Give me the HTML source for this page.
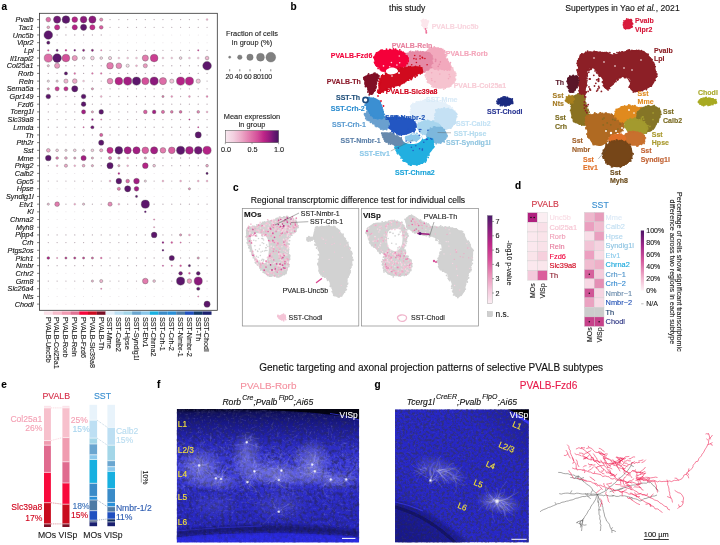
<!DOCTYPE html>
<html><head><meta charset="utf-8"><style>
html,body{margin:0;padding:0;background:#fff;width:720px;height:545px;overflow:hidden}
svg{display:block;font-family:"Liberation Sans", sans-serif;filter:blur(0.3px)}
</style></head><body>
<svg width="720" height="545" viewBox="0 0 720 545">
<rect width="720" height="545" fill="#fff"/>
<g id="pa">
<rect x="39.5" y="13.3" width="177.8" height="297" fill="none" stroke="#333" stroke-width="0.8"/>
<line x1="37" y1="19.60" x2="39.5" y2="19.60" stroke="#333" stroke-width="0.6"/>
<text x="33.6" y="22.15" text-anchor="end" font-style="italic" font-size="7.2" fill="#111" stroke="#111" stroke-width="0.12">Pvalb</text>
<line x1="37" y1="27.29" x2="39.5" y2="27.29" stroke="#333" stroke-width="0.6"/>
<text x="33.6" y="29.84" text-anchor="end" font-style="italic" font-size="7.2" fill="#111" stroke="#111" stroke-width="0.12">Tac1</text>
<line x1="37" y1="34.98" x2="39.5" y2="34.98" stroke="#333" stroke-width="0.6"/>
<text x="33.6" y="37.53" text-anchor="end" font-style="italic" font-size="7.2" fill="#111" stroke="#111" stroke-width="0.12">Unc5b</text>
<line x1="37" y1="42.67" x2="39.5" y2="42.67" stroke="#333" stroke-width="0.6"/>
<text x="33.6" y="45.22" text-anchor="end" font-style="italic" font-size="7.2" fill="#111" stroke="#111" stroke-width="0.12">Vipr2</text>
<line x1="37" y1="50.36" x2="39.5" y2="50.36" stroke="#333" stroke-width="0.6"/>
<text x="33.6" y="52.91" text-anchor="end" font-style="italic" font-size="7.2" fill="#111" stroke="#111" stroke-width="0.12">Lpl</text>
<line x1="37" y1="58.05" x2="39.5" y2="58.05" stroke="#333" stroke-width="0.6"/>
<text x="33.6" y="60.60" text-anchor="end" font-style="italic" font-size="7.2" fill="#111" stroke="#111" stroke-width="0.12">Il1rapl2</text>
<line x1="37" y1="65.74" x2="39.5" y2="65.74" stroke="#333" stroke-width="0.6"/>
<text x="33.6" y="68.29" text-anchor="end" font-style="italic" font-size="7.2" fill="#111" stroke="#111" stroke-width="0.12">Col25a1</text>
<line x1="37" y1="73.43" x2="39.5" y2="73.43" stroke="#333" stroke-width="0.6"/>
<text x="33.6" y="75.98" text-anchor="end" font-style="italic" font-size="7.2" fill="#111" stroke="#111" stroke-width="0.12">Rorb</text>
<line x1="37" y1="81.12" x2="39.5" y2="81.12" stroke="#333" stroke-width="0.6"/>
<text x="33.6" y="83.67" text-anchor="end" font-style="italic" font-size="7.2" fill="#111" stroke="#111" stroke-width="0.12">Reln</text>
<line x1="37" y1="88.81" x2="39.5" y2="88.81" stroke="#333" stroke-width="0.6"/>
<text x="33.6" y="91.36" text-anchor="end" font-style="italic" font-size="7.2" fill="#111" stroke="#111" stroke-width="0.12">Sema5a</text>
<line x1="37" y1="96.50" x2="39.5" y2="96.50" stroke="#333" stroke-width="0.6"/>
<text x="33.6" y="99.05" text-anchor="end" font-style="italic" font-size="7.2" fill="#111" stroke="#111" stroke-width="0.12">Gpr149</text>
<line x1="37" y1="104.19" x2="39.5" y2="104.19" stroke="#333" stroke-width="0.6"/>
<text x="33.6" y="106.74" text-anchor="end" font-style="italic" font-size="7.2" fill="#111" stroke="#111" stroke-width="0.12">Fzd6</text>
<line x1="37" y1="111.88" x2="39.5" y2="111.88" stroke="#333" stroke-width="0.6"/>
<text x="33.6" y="114.43" text-anchor="end" font-style="italic" font-size="7.2" fill="#111" stroke="#111" stroke-width="0.12">Tcerg1l</text>
<line x1="37" y1="119.57" x2="39.5" y2="119.57" stroke="#333" stroke-width="0.6"/>
<text x="33.6" y="122.12" text-anchor="end" font-style="italic" font-size="7.2" fill="#111" stroke="#111" stroke-width="0.12">Slc39a8</text>
<line x1="37" y1="127.26" x2="39.5" y2="127.26" stroke="#333" stroke-width="0.6"/>
<text x="33.6" y="129.81" text-anchor="end" font-style="italic" font-size="7.2" fill="#111" stroke="#111" stroke-width="0.12">Lrmda</text>
<line x1="37" y1="134.95" x2="39.5" y2="134.95" stroke="#333" stroke-width="0.6"/>
<text x="33.6" y="137.50" text-anchor="end" font-style="italic" font-size="7.2" fill="#111" stroke="#111" stroke-width="0.12">Th</text>
<line x1="37" y1="142.64" x2="39.5" y2="142.64" stroke="#333" stroke-width="0.6"/>
<text x="33.6" y="145.19" text-anchor="end" font-style="italic" font-size="7.2" fill="#111" stroke="#111" stroke-width="0.12">Pth2r</text>
<line x1="37" y1="150.33" x2="39.5" y2="150.33" stroke="#333" stroke-width="0.6"/>
<text x="33.6" y="152.88" text-anchor="end" font-style="italic" font-size="7.2" fill="#111" stroke="#111" stroke-width="0.12">Sst</text>
<line x1="37" y1="158.02" x2="39.5" y2="158.02" stroke="#333" stroke-width="0.6"/>
<text x="33.6" y="160.57" text-anchor="end" font-style="italic" font-size="7.2" fill="#111" stroke="#111" stroke-width="0.12">Mme</text>
<line x1="37" y1="165.71" x2="39.5" y2="165.71" stroke="#333" stroke-width="0.6"/>
<text x="33.6" y="168.26" text-anchor="end" font-style="italic" font-size="7.2" fill="#111" stroke="#111" stroke-width="0.12">Prkg2</text>
<line x1="37" y1="173.40" x2="39.5" y2="173.40" stroke="#333" stroke-width="0.6"/>
<text x="33.6" y="175.95" text-anchor="end" font-style="italic" font-size="7.2" fill="#111" stroke="#111" stroke-width="0.12">Calb2</text>
<line x1="37" y1="181.09" x2="39.5" y2="181.09" stroke="#333" stroke-width="0.6"/>
<text x="33.6" y="183.64" text-anchor="end" font-style="italic" font-size="7.2" fill="#111" stroke="#111" stroke-width="0.12">Gpc5</text>
<line x1="37" y1="188.78" x2="39.5" y2="188.78" stroke="#333" stroke-width="0.6"/>
<text x="33.6" y="191.33" text-anchor="end" font-style="italic" font-size="7.2" fill="#111" stroke="#111" stroke-width="0.12">Hpse</text>
<line x1="37" y1="196.47" x2="39.5" y2="196.47" stroke="#333" stroke-width="0.6"/>
<text x="33.6" y="199.02" text-anchor="end" font-style="italic" font-size="7.2" fill="#111" stroke="#111" stroke-width="0.12">Syndig1l</text>
<line x1="37" y1="204.16" x2="39.5" y2="204.16" stroke="#333" stroke-width="0.6"/>
<text x="33.6" y="206.71" text-anchor="end" font-style="italic" font-size="7.2" fill="#111" stroke="#111" stroke-width="0.12">Etv1</text>
<line x1="37" y1="211.85" x2="39.5" y2="211.85" stroke="#333" stroke-width="0.6"/>
<text x="33.6" y="214.40" text-anchor="end" font-style="italic" font-size="7.2" fill="#111" stroke="#111" stroke-width="0.12">Kl</text>
<line x1="37" y1="219.54" x2="39.5" y2="219.54" stroke="#333" stroke-width="0.6"/>
<text x="33.6" y="222.09" text-anchor="end" font-style="italic" font-size="7.2" fill="#111" stroke="#111" stroke-width="0.12">Chrna2</text>
<line x1="37" y1="227.23" x2="39.5" y2="227.23" stroke="#333" stroke-width="0.6"/>
<text x="33.6" y="229.78" text-anchor="end" font-style="italic" font-size="7.2" fill="#111" stroke="#111" stroke-width="0.12">Myh8</text>
<line x1="37" y1="234.92" x2="39.5" y2="234.92" stroke="#333" stroke-width="0.6"/>
<text x="33.6" y="237.47" text-anchor="end" font-style="italic" font-size="7.2" fill="#111" stroke="#111" stroke-width="0.12">Plpp4</text>
<line x1="37" y1="242.61" x2="39.5" y2="242.61" stroke="#333" stroke-width="0.6"/>
<text x="33.6" y="245.16" text-anchor="end" font-style="italic" font-size="7.2" fill="#111" stroke="#111" stroke-width="0.12">Crh</text>
<line x1="37" y1="250.30" x2="39.5" y2="250.30" stroke="#333" stroke-width="0.6"/>
<text x="33.6" y="252.85" text-anchor="end" font-style="italic" font-size="7.2" fill="#111" stroke="#111" stroke-width="0.12">Ptgs2os</text>
<line x1="37" y1="257.99" x2="39.5" y2="257.99" stroke="#333" stroke-width="0.6"/>
<text x="33.6" y="260.54" text-anchor="end" font-style="italic" font-size="7.2" fill="#111" stroke="#111" stroke-width="0.12">Plch1</text>
<line x1="37" y1="265.68" x2="39.5" y2="265.68" stroke="#333" stroke-width="0.6"/>
<text x="33.6" y="268.23" text-anchor="end" font-style="italic" font-size="7.2" fill="#111" stroke="#111" stroke-width="0.12">Nmbr</text>
<line x1="37" y1="273.37" x2="39.5" y2="273.37" stroke="#333" stroke-width="0.6"/>
<text x="33.6" y="275.92" text-anchor="end" font-style="italic" font-size="7.2" fill="#111" stroke="#111" stroke-width="0.12">Crhr2</text>
<line x1="37" y1="281.06" x2="39.5" y2="281.06" stroke="#333" stroke-width="0.6"/>
<text x="33.6" y="283.61" text-anchor="end" font-style="italic" font-size="7.2" fill="#111" stroke="#111" stroke-width="0.12">Grm8</text>
<line x1="37" y1="288.75" x2="39.5" y2="288.75" stroke="#333" stroke-width="0.6"/>
<text x="33.6" y="291.30" text-anchor="end" font-style="italic" font-size="7.2" fill="#111" stroke="#111" stroke-width="0.12">Slc26a4</text>
<line x1="37" y1="296.44" x2="39.5" y2="296.44" stroke="#333" stroke-width="0.6"/>
<text x="33.6" y="298.99" text-anchor="end" font-style="italic" font-size="7.2" fill="#111" stroke="#111" stroke-width="0.12">Nts</text>
<line x1="37" y1="304.13" x2="39.5" y2="304.13" stroke="#333" stroke-width="0.6"/>
<text x="33.6" y="306.68" text-anchor="end" font-style="italic" font-size="7.2" fill="#111" stroke="#111" stroke-width="0.12">Chodl</text>
<circle cx="48.30" cy="19.60" r="2.35" fill="#dd6da7" stroke="#555" stroke-width="0.35"/>
<circle cx="57.12" cy="19.60" r="3.60" fill="#701874" stroke="#555" stroke-width="0.35"/>
<circle cx="65.94" cy="19.60" r="3.85" fill="#5c166b" stroke="#555" stroke-width="0.35"/>
<circle cx="74.76" cy="19.60" r="2.85" fill="#b42386" stroke="#555" stroke-width="0.35"/>
<circle cx="83.58" cy="19.60" r="3.35" fill="#8b1a7c" stroke="#555" stroke-width="0.35"/>
<circle cx="92.40" cy="19.60" r="3.60" fill="#8b1a7c" stroke="#555" stroke-width="0.35"/>
<circle cx="101.22" cy="19.60" r="1.60" fill="#e58bb7" stroke="#555" stroke-width="0.35"/>
<circle cx="110.04" cy="19.60" r="0.65" fill="#b8aab2"/>
<circle cx="118.86" cy="19.60" r="0.65" fill="#b8aab2"/>
<circle cx="127.68" cy="19.60" r="0.65" fill="#b8aab2"/>
<circle cx="136.50" cy="19.60" r="0.65" fill="#b8aab2"/>
<circle cx="145.32" cy="19.60" r="0.65" fill="#b8aab2"/>
<circle cx="154.14" cy="19.60" r="0.65" fill="#b8aab2"/>
<circle cx="162.96" cy="19.60" r="0.65" fill="#b8aab2"/>
<circle cx="171.78" cy="19.60" r="0.65" fill="#b8aab2"/>
<circle cx="180.60" cy="19.60" r="0.65" fill="#b8aab2"/>
<circle cx="189.42" cy="19.60" r="0.65" fill="#b8aab2"/>
<circle cx="198.24" cy="19.60" r="0.65" fill="#b8aab2"/>
<circle cx="207.06" cy="19.60" r="1.00" fill="#ecaac8" stroke="#888" stroke-width="0.2"/>
<circle cx="48.30" cy="27.29" r="1.35" fill="#ecaac8" stroke="#555" stroke-width="0.35"/>
<circle cx="57.12" cy="27.29" r="2.60" fill="#c22d8b" stroke="#555" stroke-width="0.35"/>
<circle cx="65.94" cy="27.29" r="0.75" fill="#f1c3d8" stroke="#888" stroke-width="0.2"/>
<circle cx="74.76" cy="27.29" r="2.60" fill="#b42386" stroke="#555" stroke-width="0.35"/>
<circle cx="83.58" cy="27.29" r="3.10" fill="#5c166b" stroke="#555" stroke-width="0.35"/>
<circle cx="92.40" cy="27.29" r="2.60" fill="#c22d8b" stroke="#555" stroke-width="0.35"/>
<circle cx="101.22" cy="27.29" r="1.85" fill="#d95fa1" stroke="#555" stroke-width="0.35"/>
<circle cx="110.04" cy="27.29" r="0.65" fill="#b8aab2"/>
<circle cx="118.86" cy="27.29" r="0.65" fill="#b8aab2"/>
<circle cx="127.68" cy="27.29" r="0.65" fill="#b8aab2"/>
<circle cx="136.50" cy="27.29" r="0.65" fill="#b8aab2"/>
<circle cx="145.32" cy="27.29" r="0.65" fill="#b8aab2"/>
<circle cx="154.14" cy="27.29" r="0.65" fill="#b8aab2"/>
<circle cx="162.96" cy="27.29" r="0.65" fill="#b8aab2"/>
<circle cx="171.78" cy="27.29" r="0.65" fill="#b8aab2"/>
<circle cx="180.60" cy="27.29" r="0.65" fill="#b8aab2"/>
<circle cx="189.42" cy="27.29" r="0.65" fill="#b8aab2"/>
<circle cx="198.24" cy="27.29" r="0.65" fill="#b8aab2"/>
<circle cx="207.06" cy="27.29" r="0.65" fill="#b8aab2"/>
<circle cx="48.30" cy="34.98" r="4.35" fill="#5c166b" stroke="#555" stroke-width="0.35"/>
<circle cx="57.12" cy="34.98" r="0.65" fill="#b8aab2"/>
<circle cx="65.94" cy="34.98" r="0.65" fill="#b8aab2"/>
<circle cx="74.76" cy="34.98" r="0.65" fill="#b8aab2"/>
<circle cx="83.58" cy="34.98" r="0.65" fill="#b8aab2"/>
<circle cx="92.40" cy="34.98" r="0.65" fill="#b8aab2"/>
<circle cx="101.22" cy="34.98" r="0.65" fill="#b8aab2"/>
<circle cx="110.04" cy="34.98" r="0.5" fill="#e4dde1"/>
<circle cx="118.86" cy="34.98" r="0.5" fill="#e4dde1"/>
<circle cx="127.68" cy="34.98" r="0.5" fill="#e4dde1"/>
<circle cx="136.50" cy="34.98" r="0.5" fill="#e4dde1"/>
<circle cx="145.32" cy="34.98" r="0.5" fill="#e4dde1"/>
<circle cx="154.14" cy="34.98" r="0.5" fill="#e4dde1"/>
<circle cx="162.96" cy="34.98" r="0.5" fill="#e4dde1"/>
<circle cx="171.78" cy="34.98" r="0.5" fill="#e4dde1"/>
<circle cx="180.60" cy="34.98" r="0.5" fill="#e4dde1"/>
<circle cx="189.42" cy="34.98" r="0.5" fill="#e4dde1"/>
<circle cx="198.24" cy="34.98" r="0.5" fill="#e4dde1"/>
<circle cx="207.06" cy="34.98" r="0.5" fill="#e4dde1"/>
<circle cx="48.30" cy="42.67" r="1.60" fill="#5c166b" stroke="#555" stroke-width="0.35"/>
<circle cx="57.12" cy="42.67" r="0.5" fill="#e4dde1"/>
<circle cx="65.94" cy="42.67" r="0.5" fill="#e4dde1"/>
<circle cx="74.76" cy="42.67" r="0.5" fill="#e4dde1"/>
<circle cx="83.58" cy="42.67" r="0.5" fill="#e4dde1"/>
<circle cx="92.40" cy="42.67" r="0.5" fill="#e4dde1"/>
<circle cx="101.22" cy="42.67" r="0.5" fill="#e4dde1"/>
<circle cx="110.04" cy="42.67" r="0.5" fill="#e4dde1"/>
<circle cx="118.86" cy="42.67" r="0.5" fill="#e4dde1"/>
<circle cx="127.68" cy="42.67" r="0.5" fill="#e4dde1"/>
<circle cx="136.50" cy="42.67" r="0.5" fill="#e4dde1"/>
<circle cx="145.32" cy="42.67" r="0.5" fill="#e4dde1"/>
<circle cx="154.14" cy="42.67" r="0.5" fill="#e4dde1"/>
<circle cx="162.96" cy="42.67" r="0.5" fill="#e4dde1"/>
<circle cx="171.78" cy="42.67" r="0.5" fill="#e4dde1"/>
<circle cx="180.60" cy="42.67" r="0.5" fill="#e4dde1"/>
<circle cx="189.42" cy="42.67" r="0.5" fill="#e4dde1"/>
<circle cx="198.24" cy="42.67" r="0.5" fill="#e4dde1"/>
<circle cx="207.06" cy="42.67" r="0.5" fill="#e4dde1"/>
<circle cx="48.30" cy="50.36" r="0.90" fill="#d4509a" stroke="#888" stroke-width="0.2"/>
<circle cx="57.12" cy="50.36" r="1.10" fill="#701874" stroke="#555" stroke-width="0.35"/>
<circle cx="65.94" cy="50.36" r="1.00" fill="#c22d8b" stroke="#888" stroke-width="0.2"/>
<circle cx="74.76" cy="50.36" r="1.00" fill="#701874" stroke="#888" stroke-width="0.2"/>
<circle cx="83.58" cy="50.36" r="1.10" fill="#8b1a7c" stroke="#555" stroke-width="0.35"/>
<circle cx="92.40" cy="50.36" r="1.10" fill="#8b1a7c" stroke="#555" stroke-width="0.35"/>
<circle cx="101.22" cy="50.36" r="0.75" fill="#dd6da7" stroke="#888" stroke-width="0.2"/>
<circle cx="110.04" cy="50.36" r="0.65" fill="#b8aab2"/>
<circle cx="118.86" cy="50.36" r="0.65" fill="#b8aab2"/>
<circle cx="127.68" cy="50.36" r="0.65" fill="#b8aab2"/>
<circle cx="136.50" cy="50.36" r="0.65" fill="#b8aab2"/>
<circle cx="145.32" cy="50.36" r="0.65" fill="#b8aab2"/>
<circle cx="154.14" cy="50.36" r="0.65" fill="#b8aab2"/>
<circle cx="162.96" cy="50.36" r="0.65" fill="#b8aab2"/>
<circle cx="171.78" cy="50.36" r="0.65" fill="#b8aab2"/>
<circle cx="180.60" cy="50.36" r="0.65" fill="#b8aab2"/>
<circle cx="189.42" cy="50.36" r="0.65" fill="#b8aab2"/>
<circle cx="198.24" cy="50.36" r="0.80" fill="#c22d8b" stroke="#888" stroke-width="0.2"/>
<circle cx="207.06" cy="50.36" r="0.65" fill="#b8aab2"/>
<circle cx="48.30" cy="58.05" r="4.10" fill="#dd6da7" stroke="#555" stroke-width="0.35"/>
<circle cx="57.12" cy="58.05" r="4.35" fill="#5c166b" stroke="#555" stroke-width="0.35"/>
<circle cx="65.94" cy="58.05" r="3.85" fill="#d4509a" stroke="#555" stroke-width="0.35"/>
<circle cx="74.76" cy="58.05" r="2.60" fill="#e99bbf" stroke="#555" stroke-width="0.35"/>
<circle cx="83.58" cy="58.05" r="1.35" fill="#f6dee9" stroke="#555" stroke-width="0.35"/>
<circle cx="92.40" cy="58.05" r="1.85" fill="#f3d0e0" stroke="#555" stroke-width="0.35"/>
<circle cx="101.22" cy="58.05" r="1.35" fill="#f5d8e5" stroke="#555" stroke-width="0.35"/>
<circle cx="110.04" cy="58.05" r="1.60" fill="#f3d0e0" stroke="#555" stroke-width="0.35"/>
<circle cx="118.86" cy="58.05" r="1.00" fill="#f1c3d8" stroke="#888" stroke-width="0.2"/>
<circle cx="127.68" cy="58.05" r="1.00" fill="#f1c3d8" stroke="#888" stroke-width="0.2"/>
<circle cx="136.50" cy="58.05" r="1.00" fill="#f1c3d8" stroke="#888" stroke-width="0.2"/>
<circle cx="145.32" cy="58.05" r="3.10" fill="#e27cae" stroke="#555" stroke-width="0.35"/>
<circle cx="154.14" cy="58.05" r="3.85" fill="#cb3e92" stroke="#555" stroke-width="0.35"/>
<circle cx="162.96" cy="58.05" r="1.00" fill="#f1c3d8" stroke="#888" stroke-width="0.2"/>
<circle cx="171.78" cy="58.05" r="1.00" fill="#f1c3d8" stroke="#888" stroke-width="0.2"/>
<circle cx="180.60" cy="58.05" r="1.35" fill="#f4d5e3" stroke="#555" stroke-width="0.35"/>
<circle cx="189.42" cy="58.05" r="1.00" fill="#f1c3d8" stroke="#888" stroke-width="0.2"/>
<circle cx="198.24" cy="58.05" r="1.00" fill="#f1c3d8" stroke="#888" stroke-width="0.2"/>
<circle cx="207.06" cy="58.05" r="1.85" fill="#eeb7d0" stroke="#555" stroke-width="0.35"/>
<circle cx="48.30" cy="65.74" r="1.10" fill="#f1c3d8" stroke="#555" stroke-width="0.35"/>
<circle cx="57.12" cy="65.74" r="2.60" fill="#e99bbf" stroke="#555" stroke-width="0.35"/>
<circle cx="65.94" cy="65.74" r="0.65" fill="#b8aab2"/>
<circle cx="74.76" cy="65.74" r="0.65" fill="#b8aab2"/>
<circle cx="83.58" cy="65.74" r="0.65" fill="#b8aab2"/>
<circle cx="92.40" cy="65.74" r="0.65" fill="#b8aab2"/>
<circle cx="101.22" cy="65.74" r="0.65" fill="#b8aab2"/>
<circle cx="110.04" cy="65.74" r="3.35" fill="#e27cae" stroke="#555" stroke-width="0.35"/>
<circle cx="118.86" cy="65.74" r="2.85" fill="#e58bb7" stroke="#555" stroke-width="0.35"/>
<circle cx="127.68" cy="65.74" r="1.60" fill="#f5dbe7" stroke="#555" stroke-width="0.35"/>
<circle cx="136.50" cy="65.74" r="1.00" fill="#ecaac8" stroke="#888" stroke-width="0.2"/>
<circle cx="145.32" cy="65.74" r="2.10" fill="#e99bbf" stroke="#555" stroke-width="0.35"/>
<circle cx="154.14" cy="65.74" r="0.65" fill="#b8aab2"/>
<circle cx="162.96" cy="65.74" r="0.65" fill="#b8aab2"/>
<circle cx="171.78" cy="65.74" r="0.65" fill="#b8aab2"/>
<circle cx="180.60" cy="65.74" r="0.65" fill="#b8aab2"/>
<circle cx="189.42" cy="65.74" r="0.65" fill="#b8aab2"/>
<circle cx="198.24" cy="65.74" r="0.65" fill="#b8aab2"/>
<circle cx="207.06" cy="65.74" r="4.35" fill="#5c166b" stroke="#555" stroke-width="0.35"/>
<circle cx="48.30" cy="73.43" r="0.65" fill="#b8aab2"/>
<circle cx="57.12" cy="73.43" r="0.65" fill="#b8aab2"/>
<circle cx="65.94" cy="73.43" r="1.60" fill="#5c166b" stroke="#555" stroke-width="0.35"/>
<circle cx="74.76" cy="73.43" r="1.00" fill="#dd6da7" stroke="#888" stroke-width="0.2"/>
<circle cx="83.58" cy="73.43" r="0.65" fill="#b8aab2"/>
<circle cx="92.40" cy="73.43" r="0.90" fill="#dd6da7" stroke="#888" stroke-width="0.2"/>
<circle cx="101.22" cy="73.43" r="0.90" fill="#dd6da7" stroke="#888" stroke-width="0.2"/>
<circle cx="110.04" cy="73.43" r="0.65" fill="#b8aab2"/>
<circle cx="118.86" cy="73.43" r="0.65" fill="#b8aab2"/>
<circle cx="127.68" cy="73.43" r="0.65" fill="#b8aab2"/>
<circle cx="136.50" cy="73.43" r="0.65" fill="#b8aab2"/>
<circle cx="145.32" cy="73.43" r="0.65" fill="#b8aab2"/>
<circle cx="154.14" cy="73.43" r="0.65" fill="#b8aab2"/>
<circle cx="162.96" cy="73.43" r="0.65" fill="#b8aab2"/>
<circle cx="171.78" cy="73.43" r="0.65" fill="#b8aab2"/>
<circle cx="180.60" cy="73.43" r="0.65" fill="#b8aab2"/>
<circle cx="189.42" cy="73.43" r="0.65" fill="#b8aab2"/>
<circle cx="198.24" cy="73.43" r="0.65" fill="#b8aab2"/>
<circle cx="207.06" cy="73.43" r="0.65" fill="#b8aab2"/>
<circle cx="48.30" cy="81.12" r="1.10" fill="#f6dee9" stroke="#555" stroke-width="0.35"/>
<circle cx="57.12" cy="81.12" r="1.10" fill="#f3d0e0" stroke="#555" stroke-width="0.35"/>
<circle cx="65.94" cy="81.12" r="2.10" fill="#eeb7d0" stroke="#555" stroke-width="0.35"/>
<circle cx="74.76" cy="81.12" r="2.35" fill="#ecaac8" stroke="#555" stroke-width="0.35"/>
<circle cx="83.58" cy="81.12" r="1.00" fill="#f1c3d8" stroke="#888" stroke-width="0.2"/>
<circle cx="92.40" cy="81.12" r="0.65" fill="#b8aab2"/>
<circle cx="101.22" cy="81.12" r="0.65" fill="#b8aab2"/>
<circle cx="110.04" cy="81.12" r="2.85" fill="#e58bb7" stroke="#555" stroke-width="0.35"/>
<circle cx="118.86" cy="81.12" r="3.85" fill="#b42386" stroke="#555" stroke-width="0.35"/>
<circle cx="127.68" cy="81.12" r="4.10" fill="#a21e82" stroke="#555" stroke-width="0.35"/>
<circle cx="136.50" cy="81.12" r="4.10" fill="#5c166b" stroke="#555" stroke-width="0.35"/>
<circle cx="145.32" cy="81.12" r="3.60" fill="#d4509a" stroke="#555" stroke-width="0.35"/>
<circle cx="154.14" cy="81.12" r="4.10" fill="#8b1a7c" stroke="#555" stroke-width="0.35"/>
<circle cx="162.96" cy="81.12" r="3.60" fill="#dd6da7" stroke="#555" stroke-width="0.35"/>
<circle cx="171.78" cy="81.12" r="2.10" fill="#f1c3d8" stroke="#555" stroke-width="0.35"/>
<circle cx="180.60" cy="81.12" r="4.10" fill="#b42386" stroke="#555" stroke-width="0.35"/>
<circle cx="189.42" cy="81.12" r="4.10" fill="#b42386" stroke="#555" stroke-width="0.35"/>
<circle cx="198.24" cy="81.12" r="2.10" fill="#f1c3d8" stroke="#555" stroke-width="0.35"/>
<circle cx="207.06" cy="81.12" r="0.65" fill="#b8aab2"/>
<circle cx="48.30" cy="88.81" r="1.10" fill="#e99bbf" stroke="#555" stroke-width="0.35"/>
<circle cx="57.12" cy="88.81" r="2.10" fill="#cb3e92" stroke="#555" stroke-width="0.35"/>
<circle cx="65.94" cy="88.81" r="2.10" fill="#c22d8b" stroke="#555" stroke-width="0.35"/>
<circle cx="74.76" cy="88.81" r="3.10" fill="#5c166b" stroke="#555" stroke-width="0.35"/>
<circle cx="83.58" cy="88.81" r="0.65" fill="#b8aab2"/>
<circle cx="92.40" cy="88.81" r="1.10" fill="#e99bbf" stroke="#555" stroke-width="0.35"/>
<circle cx="101.22" cy="88.81" r="0.65" fill="#b8aab2"/>
<circle cx="110.04" cy="88.81" r="0.65" fill="#b8aab2"/>
<circle cx="118.86" cy="88.81" r="0.65" fill="#b8aab2"/>
<circle cx="127.68" cy="88.81" r="0.65" fill="#b8aab2"/>
<circle cx="136.50" cy="88.81" r="0.65" fill="#b8aab2"/>
<circle cx="145.32" cy="88.81" r="0.65" fill="#b8aab2"/>
<circle cx="154.14" cy="88.81" r="0.65" fill="#b8aab2"/>
<circle cx="162.96" cy="88.81" r="0.65" fill="#b8aab2"/>
<circle cx="171.78" cy="88.81" r="0.65" fill="#b8aab2"/>
<circle cx="180.60" cy="88.81" r="0.65" fill="#b8aab2"/>
<circle cx="189.42" cy="88.81" r="0.65" fill="#b8aab2"/>
<circle cx="198.24" cy="88.81" r="0.65" fill="#b8aab2"/>
<circle cx="207.06" cy="88.81" r="0.65" fill="#b8aab2"/>
<circle cx="48.30" cy="96.50" r="2.35" fill="#5c166b" stroke="#555" stroke-width="0.35"/>
<circle cx="57.12" cy="96.50" r="0.65" fill="#b8aab2"/>
<circle cx="65.94" cy="96.50" r="0.65" fill="#b8aab2"/>
<circle cx="74.76" cy="96.50" r="0.65" fill="#b8aab2"/>
<circle cx="83.58" cy="96.50" r="2.35" fill="#5c166b" stroke="#555" stroke-width="0.35"/>
<circle cx="92.40" cy="96.50" r="0.65" fill="#b8aab2"/>
<circle cx="101.22" cy="96.50" r="1.00" fill="#ecaac8" stroke="#888" stroke-width="0.2"/>
<circle cx="110.04" cy="96.50" r="0.65" fill="#b8aab2"/>
<circle cx="118.86" cy="96.50" r="0.65" fill="#b8aab2"/>
<circle cx="127.68" cy="96.50" r="0.65" fill="#b8aab2"/>
<circle cx="136.50" cy="96.50" r="0.65" fill="#b8aab2"/>
<circle cx="145.32" cy="96.50" r="0.65" fill="#b8aab2"/>
<circle cx="154.14" cy="96.50" r="0.65" fill="#b8aab2"/>
<circle cx="162.96" cy="96.50" r="1.10" fill="#e27cae" stroke="#555" stroke-width="0.35"/>
<circle cx="171.78" cy="96.50" r="1.00" fill="#e58bb7" stroke="#888" stroke-width="0.2"/>
<circle cx="180.60" cy="96.50" r="0.65" fill="#b8aab2"/>
<circle cx="189.42" cy="96.50" r="1.00" fill="#e58bb7" stroke="#888" stroke-width="0.2"/>
<circle cx="198.24" cy="96.50" r="0.65" fill="#b8aab2"/>
<circle cx="207.06" cy="96.50" r="1.00" fill="#e27cae" stroke="#888" stroke-width="0.2"/>
<circle cx="48.30" cy="104.19" r="0.65" fill="#b8aab2"/>
<circle cx="57.12" cy="104.19" r="0.65" fill="#b8aab2"/>
<circle cx="65.94" cy="104.19" r="0.65" fill="#b8aab2"/>
<circle cx="74.76" cy="104.19" r="0.65" fill="#b8aab2"/>
<circle cx="83.58" cy="104.19" r="2.35" fill="#5c166b" stroke="#555" stroke-width="0.35"/>
<circle cx="92.40" cy="104.19" r="0.65" fill="#b8aab2"/>
<circle cx="101.22" cy="104.19" r="0.65" fill="#b8aab2"/>
<circle cx="110.04" cy="104.19" r="0.65" fill="#b8aab2"/>
<circle cx="118.86" cy="104.19" r="0.65" fill="#b8aab2"/>
<circle cx="127.68" cy="104.19" r="0.65" fill="#b8aab2"/>
<circle cx="136.50" cy="104.19" r="0.65" fill="#b8aab2"/>
<circle cx="145.32" cy="104.19" r="0.65" fill="#b8aab2"/>
<circle cx="154.14" cy="104.19" r="0.65" fill="#b8aab2"/>
<circle cx="162.96" cy="104.19" r="0.65" fill="#b8aab2"/>
<circle cx="171.78" cy="104.19" r="0.65" fill="#b8aab2"/>
<circle cx="180.60" cy="104.19" r="0.65" fill="#b8aab2"/>
<circle cx="189.42" cy="104.19" r="0.65" fill="#b8aab2"/>
<circle cx="198.24" cy="104.19" r="0.65" fill="#b8aab2"/>
<circle cx="207.06" cy="104.19" r="0.65" fill="#b8aab2"/>
<circle cx="48.30" cy="111.88" r="0.65" fill="#b8aab2"/>
<circle cx="57.12" cy="111.88" r="0.65" fill="#b8aab2"/>
<circle cx="65.94" cy="111.88" r="0.65" fill="#b8aab2"/>
<circle cx="74.76" cy="111.88" r="0.65" fill="#b8aab2"/>
<circle cx="83.58" cy="111.88" r="2.10" fill="#a21e82" stroke="#555" stroke-width="0.35"/>
<circle cx="92.40" cy="111.88" r="1.10" fill="#ecaac8" stroke="#555" stroke-width="0.35"/>
<circle cx="101.22" cy="111.88" r="2.35" fill="#5c166b" stroke="#555" stroke-width="0.35"/>
<circle cx="110.04" cy="111.88" r="0.65" fill="#b8aab2"/>
<circle cx="118.86" cy="111.88" r="0.65" fill="#b8aab2"/>
<circle cx="127.68" cy="111.88" r="0.65" fill="#b8aab2"/>
<circle cx="136.50" cy="111.88" r="0.65" fill="#b8aab2"/>
<circle cx="145.32" cy="111.88" r="1.85" fill="#d95fa1" stroke="#555" stroke-width="0.35"/>
<circle cx="154.14" cy="111.88" r="1.85" fill="#a21e82" stroke="#555" stroke-width="0.35"/>
<circle cx="162.96" cy="111.88" r="1.60" fill="#dd6da7" stroke="#555" stroke-width="0.35"/>
<circle cx="171.78" cy="111.88" r="1.35" fill="#e27cae" stroke="#555" stroke-width="0.35"/>
<circle cx="180.60" cy="111.88" r="1.35" fill="#dd6da7" stroke="#555" stroke-width="0.35"/>
<circle cx="189.42" cy="111.88" r="0.65" fill="#b8aab2"/>
<circle cx="198.24" cy="111.88" r="1.35" fill="#e58bb7" stroke="#555" stroke-width="0.35"/>
<circle cx="207.06" cy="111.88" r="1.00" fill="#ecaac8" stroke="#888" stroke-width="0.2"/>
<circle cx="48.30" cy="119.57" r="0.65" fill="#b8aab2"/>
<circle cx="57.12" cy="119.57" r="0.65" fill="#b8aab2"/>
<circle cx="65.94" cy="119.57" r="0.65" fill="#b8aab2"/>
<circle cx="74.76" cy="119.57" r="0.65" fill="#b8aab2"/>
<circle cx="83.58" cy="119.57" r="0.65" fill="#b8aab2"/>
<circle cx="92.40" cy="119.57" r="1.00" fill="#8b1a7c" stroke="#888" stroke-width="0.2"/>
<circle cx="101.22" cy="119.57" r="0.75" fill="#dd6da7" stroke="#888" stroke-width="0.2"/>
<circle cx="110.04" cy="119.57" r="0.65" fill="#b8aab2"/>
<circle cx="118.86" cy="119.57" r="0.65" fill="#b8aab2"/>
<circle cx="127.68" cy="119.57" r="0.65" fill="#b8aab2"/>
<circle cx="136.50" cy="119.57" r="0.65" fill="#b8aab2"/>
<circle cx="145.32" cy="119.57" r="0.65" fill="#b8aab2"/>
<circle cx="154.14" cy="119.57" r="0.65" fill="#b8aab2"/>
<circle cx="162.96" cy="119.57" r="0.65" fill="#b8aab2"/>
<circle cx="171.78" cy="119.57" r="0.65" fill="#b8aab2"/>
<circle cx="180.60" cy="119.57" r="0.65" fill="#b8aab2"/>
<circle cx="189.42" cy="119.57" r="0.75" fill="#c22d8b" stroke="#888" stroke-width="0.2"/>
<circle cx="198.24" cy="119.57" r="0.65" fill="#b8aab2"/>
<circle cx="207.06" cy="119.57" r="0.65" fill="#b8aab2"/>
<circle cx="48.30" cy="127.26" r="0.65" fill="#b8aab2"/>
<circle cx="57.12" cy="127.26" r="0.65" fill="#b8aab2"/>
<circle cx="65.94" cy="127.26" r="0.65" fill="#b8aab2"/>
<circle cx="74.76" cy="127.26" r="0.65" fill="#b8aab2"/>
<circle cx="83.58" cy="127.26" r="0.75" fill="#d4509a" stroke="#888" stroke-width="0.2"/>
<circle cx="92.40" cy="127.26" r="1.60" fill="#701874" stroke="#555" stroke-width="0.35"/>
<circle cx="101.22" cy="127.26" r="0.65" fill="#b8aab2"/>
<circle cx="110.04" cy="127.26" r="0.65" fill="#b8aab2"/>
<circle cx="118.86" cy="127.26" r="0.65" fill="#b8aab2"/>
<circle cx="127.68" cy="127.26" r="0.65" fill="#b8aab2"/>
<circle cx="136.50" cy="127.26" r="0.65" fill="#b8aab2"/>
<circle cx="145.32" cy="127.26" r="0.65" fill="#b8aab2"/>
<circle cx="154.14" cy="127.26" r="0.65" fill="#b8aab2"/>
<circle cx="162.96" cy="127.26" r="0.65" fill="#b8aab2"/>
<circle cx="171.78" cy="127.26" r="0.65" fill="#b8aab2"/>
<circle cx="180.60" cy="127.26" r="0.65" fill="#b8aab2"/>
<circle cx="189.42" cy="127.26" r="0.65" fill="#b8aab2"/>
<circle cx="198.24" cy="127.26" r="0.75" fill="#c22d8b" stroke="#888" stroke-width="0.2"/>
<circle cx="207.06" cy="127.26" r="0.65" fill="#b8aab2"/>
<circle cx="48.30" cy="134.95" r="0.65" fill="#b8aab2"/>
<circle cx="57.12" cy="134.95" r="0.65" fill="#b8aab2"/>
<circle cx="65.94" cy="134.95" r="0.65" fill="#b8aab2"/>
<circle cx="74.76" cy="134.95" r="0.65" fill="#b8aab2"/>
<circle cx="83.58" cy="134.95" r="0.65" fill="#b8aab2"/>
<circle cx="92.40" cy="134.95" r="0.65" fill="#b8aab2"/>
<circle cx="101.22" cy="134.95" r="1.60" fill="#d95fa1" stroke="#555" stroke-width="0.35"/>
<circle cx="110.04" cy="134.95" r="0.65" fill="#b8aab2"/>
<circle cx="118.86" cy="134.95" r="0.65" fill="#b8aab2"/>
<circle cx="127.68" cy="134.95" r="0.65" fill="#b8aab2"/>
<circle cx="136.50" cy="134.95" r="0.65" fill="#b8aab2"/>
<circle cx="145.32" cy="134.95" r="0.65" fill="#b8aab2"/>
<circle cx="154.14" cy="134.95" r="0.65" fill="#b8aab2"/>
<circle cx="162.96" cy="134.95" r="0.65" fill="#b8aab2"/>
<circle cx="171.78" cy="134.95" r="0.65" fill="#b8aab2"/>
<circle cx="180.60" cy="134.95" r="0.65" fill="#b8aab2"/>
<circle cx="189.42" cy="134.95" r="0.65" fill="#b8aab2"/>
<circle cx="198.24" cy="134.95" r="3.10" fill="#5c166b" stroke="#555" stroke-width="0.35"/>
<circle cx="207.06" cy="134.95" r="0.65" fill="#b8aab2"/>
<circle cx="48.30" cy="142.64" r="0.5" fill="#e4dde1"/>
<circle cx="57.12" cy="142.64" r="0.5" fill="#e4dde1"/>
<circle cx="65.94" cy="142.64" r="0.5" fill="#e4dde1"/>
<circle cx="74.76" cy="142.64" r="0.5" fill="#e4dde1"/>
<circle cx="83.58" cy="142.64" r="0.5" fill="#e4dde1"/>
<circle cx="92.40" cy="142.64" r="0.5" fill="#e4dde1"/>
<circle cx="101.22" cy="142.64" r="2.60" fill="#5c166b" stroke="#555" stroke-width="0.35"/>
<circle cx="110.04" cy="142.64" r="0.5" fill="#e4dde1"/>
<circle cx="118.86" cy="142.64" r="0.5" fill="#e4dde1"/>
<circle cx="127.68" cy="142.64" r="0.5" fill="#e4dde1"/>
<circle cx="136.50" cy="142.64" r="0.5" fill="#e4dde1"/>
<circle cx="145.32" cy="142.64" r="0.5" fill="#e4dde1"/>
<circle cx="154.14" cy="142.64" r="0.5" fill="#e4dde1"/>
<circle cx="162.96" cy="142.64" r="0.5" fill="#e4dde1"/>
<circle cx="171.78" cy="142.64" r="0.5" fill="#e4dde1"/>
<circle cx="180.60" cy="142.64" r="0.5" fill="#e4dde1"/>
<circle cx="189.42" cy="142.64" r="0.5" fill="#e4dde1"/>
<circle cx="198.24" cy="142.64" r="0.5" fill="#e4dde1"/>
<circle cx="207.06" cy="142.64" r="0.5" fill="#e4dde1"/>
<circle cx="48.30" cy="150.33" r="1.85" fill="#ecaac8" stroke="#555" stroke-width="0.35"/>
<circle cx="57.12" cy="150.33" r="1.35" fill="#f3d0e0" stroke="#555" stroke-width="0.35"/>
<circle cx="65.94" cy="150.33" r="1.10" fill="#f5d8e5" stroke="#555" stroke-width="0.35"/>
<circle cx="74.76" cy="150.33" r="1.35" fill="#f3d0e0" stroke="#555" stroke-width="0.35"/>
<circle cx="83.58" cy="150.33" r="1.10" fill="#f5d8e5" stroke="#555" stroke-width="0.35"/>
<circle cx="92.40" cy="150.33" r="1.35" fill="#f3d0e0" stroke="#555" stroke-width="0.35"/>
<circle cx="101.22" cy="150.33" r="1.60" fill="#ecaac8" stroke="#555" stroke-width="0.35"/>
<circle cx="110.04" cy="150.33" r="3.10" fill="#c22d8b" stroke="#555" stroke-width="0.35"/>
<circle cx="118.86" cy="150.33" r="3.85" fill="#5c166b" stroke="#555" stroke-width="0.35"/>
<circle cx="127.68" cy="150.33" r="3.60" fill="#a21e82" stroke="#555" stroke-width="0.35"/>
<circle cx="136.50" cy="150.33" r="3.60" fill="#a21e82" stroke="#555" stroke-width="0.35"/>
<circle cx="145.32" cy="150.33" r="3.35" fill="#d95fa1" stroke="#555" stroke-width="0.35"/>
<circle cx="154.14" cy="150.33" r="3.60" fill="#a21e82" stroke="#555" stroke-width="0.35"/>
<circle cx="162.96" cy="150.33" r="2.85" fill="#e27cae" stroke="#555" stroke-width="0.35"/>
<circle cx="171.78" cy="150.33" r="3.35" fill="#d95fa1" stroke="#555" stroke-width="0.35"/>
<circle cx="180.60" cy="150.33" r="4.10" fill="#5c166b" stroke="#555" stroke-width="0.35"/>
<circle cx="189.42" cy="150.33" r="3.85" fill="#a21e82" stroke="#555" stroke-width="0.35"/>
<circle cx="198.24" cy="150.33" r="3.85" fill="#701874" stroke="#555" stroke-width="0.35"/>
<circle cx="207.06" cy="150.33" r="4.10" fill="#b42386" stroke="#555" stroke-width="0.35"/>
<circle cx="48.30" cy="158.02" r="2.85" fill="#5c166b" stroke="#555" stroke-width="0.35"/>
<circle cx="57.12" cy="158.02" r="1.35" fill="#e27cae" stroke="#555" stroke-width="0.35"/>
<circle cx="65.94" cy="158.02" r="1.35" fill="#ecaac8" stroke="#555" stroke-width="0.35"/>
<circle cx="74.76" cy="158.02" r="1.10" fill="#e99bbf" stroke="#555" stroke-width="0.35"/>
<circle cx="83.58" cy="158.02" r="2.60" fill="#a21e82" stroke="#555" stroke-width="0.35"/>
<circle cx="92.40" cy="158.02" r="1.10" fill="#ecaac8" stroke="#555" stroke-width="0.35"/>
<circle cx="101.22" cy="158.02" r="0.65" fill="#b8aab2"/>
<circle cx="110.04" cy="158.02" r="1.60" fill="#e27cae" stroke="#555" stroke-width="0.35"/>
<circle cx="118.86" cy="158.02" r="1.10" fill="#ecaac8" stroke="#555" stroke-width="0.35"/>
<circle cx="127.68" cy="158.02" r="1.00" fill="#ecaac8" stroke="#888" stroke-width="0.2"/>
<circle cx="136.50" cy="158.02" r="0.65" fill="#b8aab2"/>
<circle cx="145.32" cy="158.02" r="1.10" fill="#ecaac8" stroke="#555" stroke-width="0.35"/>
<circle cx="154.14" cy="158.02" r="0.65" fill="#b8aab2"/>
<circle cx="162.96" cy="158.02" r="0.65" fill="#b8aab2"/>
<circle cx="171.78" cy="158.02" r="0.65" fill="#b8aab2"/>
<circle cx="180.60" cy="158.02" r="0.65" fill="#b8aab2"/>
<circle cx="189.42" cy="158.02" r="0.65" fill="#b8aab2"/>
<circle cx="198.24" cy="158.02" r="0.65" fill="#b8aab2"/>
<circle cx="207.06" cy="158.02" r="0.65" fill="#b8aab2"/>
<circle cx="48.30" cy="165.71" r="0.65" fill="#b8aab2"/>
<circle cx="57.12" cy="165.71" r="1.00" fill="#ecaac8" stroke="#888" stroke-width="0.2"/>
<circle cx="65.94" cy="165.71" r="1.60" fill="#ecaac8" stroke="#555" stroke-width="0.35"/>
<circle cx="74.76" cy="165.71" r="1.00" fill="#ecaac8" stroke="#888" stroke-width="0.2"/>
<circle cx="83.58" cy="165.71" r="1.35" fill="#ecaac8" stroke="#555" stroke-width="0.35"/>
<circle cx="92.40" cy="165.71" r="1.10" fill="#ecaac8" stroke="#555" stroke-width="0.35"/>
<circle cx="101.22" cy="165.71" r="0.65" fill="#b8aab2"/>
<circle cx="110.04" cy="165.71" r="3.10" fill="#5c166b" stroke="#555" stroke-width="0.35"/>
<circle cx="118.86" cy="165.71" r="1.10" fill="#ecaac8" stroke="#555" stroke-width="0.35"/>
<circle cx="127.68" cy="165.71" r="1.00" fill="#ecaac8" stroke="#888" stroke-width="0.2"/>
<circle cx="136.50" cy="165.71" r="0.65" fill="#b8aab2"/>
<circle cx="145.32" cy="165.71" r="2.85" fill="#b42386" stroke="#555" stroke-width="0.35"/>
<circle cx="154.14" cy="165.71" r="1.35" fill="#f1c3d8" stroke="#555" stroke-width="0.35"/>
<circle cx="162.96" cy="165.71" r="0.65" fill="#b8aab2"/>
<circle cx="171.78" cy="165.71" r="0.65" fill="#b8aab2"/>
<circle cx="180.60" cy="165.71" r="0.65" fill="#b8aab2"/>
<circle cx="189.42" cy="165.71" r="0.65" fill="#b8aab2"/>
<circle cx="198.24" cy="165.71" r="0.65" fill="#b8aab2"/>
<circle cx="207.06" cy="165.71" r="1.35" fill="#ecaac8" stroke="#555" stroke-width="0.35"/>
<circle cx="48.30" cy="173.40" r="0.5" fill="#e4dde1"/>
<circle cx="57.12" cy="173.40" r="0.5" fill="#e4dde1"/>
<circle cx="65.94" cy="173.40" r="0.5" fill="#e4dde1"/>
<circle cx="74.76" cy="173.40" r="0.5" fill="#e4dde1"/>
<circle cx="83.58" cy="173.40" r="0.5" fill="#e4dde1"/>
<circle cx="92.40" cy="173.40" r="0.5" fill="#e4dde1"/>
<circle cx="101.22" cy="173.40" r="0.5" fill="#e4dde1"/>
<circle cx="110.04" cy="173.40" r="0.5" fill="#e4dde1"/>
<circle cx="118.86" cy="173.40" r="1.00" fill="#b42386" stroke="#888" stroke-width="0.2"/>
<circle cx="127.68" cy="173.40" r="0.5" fill="#e4dde1"/>
<circle cx="136.50" cy="173.40" r="0.5" fill="#e4dde1"/>
<circle cx="145.32" cy="173.40" r="0.5" fill="#e4dde1"/>
<circle cx="154.14" cy="173.40" r="0.5" fill="#e4dde1"/>
<circle cx="162.96" cy="173.40" r="0.5" fill="#e4dde1"/>
<circle cx="171.78" cy="173.40" r="0.5" fill="#e4dde1"/>
<circle cx="180.60" cy="173.40" r="0.5" fill="#e4dde1"/>
<circle cx="189.42" cy="173.40" r="0.5" fill="#e4dde1"/>
<circle cx="198.24" cy="173.40" r="0.5" fill="#e4dde1"/>
<circle cx="207.06" cy="173.40" r="1.10" fill="#5c166b" stroke="#555" stroke-width="0.35"/>
<circle cx="48.30" cy="181.09" r="0.65" fill="#b8aab2"/>
<circle cx="57.12" cy="181.09" r="0.65" fill="#b8aab2"/>
<circle cx="65.94" cy="181.09" r="0.65" fill="#b8aab2"/>
<circle cx="74.76" cy="181.09" r="0.65" fill="#b8aab2"/>
<circle cx="83.58" cy="181.09" r="0.65" fill="#b8aab2"/>
<circle cx="92.40" cy="181.09" r="0.65" fill="#b8aab2"/>
<circle cx="101.22" cy="181.09" r="0.65" fill="#b8aab2"/>
<circle cx="110.04" cy="181.09" r="1.00" fill="#ecaac8" stroke="#888" stroke-width="0.2"/>
<circle cx="118.86" cy="181.09" r="2.85" fill="#5c166b" stroke="#555" stroke-width="0.35"/>
<circle cx="127.68" cy="181.09" r="1.85" fill="#dd6da7" stroke="#555" stroke-width="0.35"/>
<circle cx="136.50" cy="181.09" r="2.85" fill="#a21e82" stroke="#555" stroke-width="0.35"/>
<circle cx="145.32" cy="181.09" r="1.10" fill="#f4d5e3" stroke="#555" stroke-width="0.35"/>
<circle cx="154.14" cy="181.09" r="0.65" fill="#b8aab2"/>
<circle cx="162.96" cy="181.09" r="1.00" fill="#ecaac8" stroke="#888" stroke-width="0.2"/>
<circle cx="171.78" cy="181.09" r="0.65" fill="#b8aab2"/>
<circle cx="180.60" cy="181.09" r="1.00" fill="#ecaac8" stroke="#888" stroke-width="0.2"/>
<circle cx="189.42" cy="181.09" r="0.65" fill="#b8aab2"/>
<circle cx="198.24" cy="181.09" r="1.00" fill="#ecaac8" stroke="#888" stroke-width="0.2"/>
<circle cx="207.06" cy="181.09" r="1.00" fill="#ecaac8" stroke="#888" stroke-width="0.2"/>
<circle cx="48.30" cy="188.78" r="0.5" fill="#e4dde1"/>
<circle cx="57.12" cy="188.78" r="0.5" fill="#e4dde1"/>
<circle cx="65.94" cy="188.78" r="0.5" fill="#e4dde1"/>
<circle cx="74.76" cy="188.78" r="0.5" fill="#e4dde1"/>
<circle cx="83.58" cy="188.78" r="0.5" fill="#e4dde1"/>
<circle cx="92.40" cy="188.78" r="0.5" fill="#e4dde1"/>
<circle cx="101.22" cy="188.78" r="0.5" fill="#e4dde1"/>
<circle cx="110.04" cy="188.78" r="0.5" fill="#e4dde1"/>
<circle cx="118.86" cy="188.78" r="1.60" fill="#e27cae" stroke="#555" stroke-width="0.35"/>
<circle cx="127.68" cy="188.78" r="3.10" fill="#5c166b" stroke="#555" stroke-width="0.35"/>
<circle cx="136.50" cy="188.78" r="2.35" fill="#a21e82" stroke="#555" stroke-width="0.35"/>
<circle cx="145.32" cy="188.78" r="0.5" fill="#e4dde1"/>
<circle cx="154.14" cy="188.78" r="0.5" fill="#e4dde1"/>
<circle cx="162.96" cy="188.78" r="0.5" fill="#e4dde1"/>
<circle cx="171.78" cy="188.78" r="0.5" fill="#e4dde1"/>
<circle cx="180.60" cy="188.78" r="0.5" fill="#e4dde1"/>
<circle cx="189.42" cy="188.78" r="1.10" fill="#e99bbf" stroke="#555" stroke-width="0.35"/>
<circle cx="198.24" cy="188.78" r="0.5" fill="#e4dde1"/>
<circle cx="207.06" cy="188.78" r="0.5" fill="#e4dde1"/>
<circle cx="48.30" cy="196.47" r="0.5" fill="#e4dde1"/>
<circle cx="57.12" cy="196.47" r="0.5" fill="#e4dde1"/>
<circle cx="65.94" cy="196.47" r="0.5" fill="#e4dde1"/>
<circle cx="74.76" cy="196.47" r="0.5" fill="#e4dde1"/>
<circle cx="83.58" cy="196.47" r="0.5" fill="#e4dde1"/>
<circle cx="92.40" cy="196.47" r="0.5" fill="#e4dde1"/>
<circle cx="101.22" cy="196.47" r="0.5" fill="#e4dde1"/>
<circle cx="110.04" cy="196.47" r="0.5" fill="#e4dde1"/>
<circle cx="118.86" cy="196.47" r="0.5" fill="#e4dde1"/>
<circle cx="127.68" cy="196.47" r="0.5" fill="#e4dde1"/>
<circle cx="136.50" cy="196.47" r="1.10" fill="#5c166b" stroke="#555" stroke-width="0.35"/>
<circle cx="145.32" cy="196.47" r="0.5" fill="#e4dde1"/>
<circle cx="154.14" cy="196.47" r="0.5" fill="#e4dde1"/>
<circle cx="162.96" cy="196.47" r="0.5" fill="#e4dde1"/>
<circle cx="171.78" cy="196.47" r="0.5" fill="#e4dde1"/>
<circle cx="180.60" cy="196.47" r="0.5" fill="#e4dde1"/>
<circle cx="189.42" cy="196.47" r="0.5" fill="#e4dde1"/>
<circle cx="198.24" cy="196.47" r="0.5" fill="#e4dde1"/>
<circle cx="207.06" cy="196.47" r="0.5" fill="#e4dde1"/>
<circle cx="48.30" cy="204.16" r="1.10" fill="#f1c3d8" stroke="#555" stroke-width="0.35"/>
<circle cx="57.12" cy="204.16" r="2.35" fill="#e27cae" stroke="#555" stroke-width="0.35"/>
<circle cx="65.94" cy="204.16" r="0.65" fill="#b8aab2"/>
<circle cx="74.76" cy="204.16" r="1.00" fill="#ecaac8" stroke="#888" stroke-width="0.2"/>
<circle cx="83.58" cy="204.16" r="1.10" fill="#f1c3d8" stroke="#555" stroke-width="0.35"/>
<circle cx="92.40" cy="204.16" r="0.65" fill="#b8aab2"/>
<circle cx="101.22" cy="204.16" r="0.65" fill="#b8aab2"/>
<circle cx="110.04" cy="204.16" r="2.10" fill="#e58bb7" stroke="#555" stroke-width="0.35"/>
<circle cx="118.86" cy="204.16" r="1.00" fill="#ecaac8" stroke="#888" stroke-width="0.2"/>
<circle cx="127.68" cy="204.16" r="0.65" fill="#b8aab2"/>
<circle cx="136.50" cy="204.16" r="0.65" fill="#b8aab2"/>
<circle cx="145.32" cy="204.16" r="4.10" fill="#5c166b" stroke="#555" stroke-width="0.35"/>
<circle cx="154.14" cy="204.16" r="0.65" fill="#b8aab2"/>
<circle cx="162.96" cy="204.16" r="0.65" fill="#b8aab2"/>
<circle cx="171.78" cy="204.16" r="0.65" fill="#b8aab2"/>
<circle cx="180.60" cy="204.16" r="0.65" fill="#b8aab2"/>
<circle cx="189.42" cy="204.16" r="0.65" fill="#b8aab2"/>
<circle cx="198.24" cy="204.16" r="0.65" fill="#b8aab2"/>
<circle cx="207.06" cy="204.16" r="0.65" fill="#b8aab2"/>
<circle cx="48.30" cy="211.85" r="0.5" fill="#e4dde1"/>
<circle cx="57.12" cy="211.85" r="0.5" fill="#e4dde1"/>
<circle cx="65.94" cy="211.85" r="0.5" fill="#e4dde1"/>
<circle cx="74.76" cy="211.85" r="0.5" fill="#e4dde1"/>
<circle cx="83.58" cy="211.85" r="0.5" fill="#e4dde1"/>
<circle cx="92.40" cy="211.85" r="0.5" fill="#e4dde1"/>
<circle cx="101.22" cy="211.85" r="0.5" fill="#e4dde1"/>
<circle cx="110.04" cy="211.85" r="0.5" fill="#e4dde1"/>
<circle cx="118.86" cy="211.85" r="0.5" fill="#e4dde1"/>
<circle cx="127.68" cy="211.85" r="0.5" fill="#e4dde1"/>
<circle cx="136.50" cy="211.85" r="0.5" fill="#e4dde1"/>
<circle cx="145.32" cy="211.85" r="1.00" fill="#5c166b" stroke="#888" stroke-width="0.2"/>
<circle cx="154.14" cy="211.85" r="0.5" fill="#e4dde1"/>
<circle cx="162.96" cy="211.85" r="0.5" fill="#e4dde1"/>
<circle cx="171.78" cy="211.85" r="0.5" fill="#e4dde1"/>
<circle cx="180.60" cy="211.85" r="0.5" fill="#e4dde1"/>
<circle cx="189.42" cy="211.85" r="0.5" fill="#e4dde1"/>
<circle cx="198.24" cy="211.85" r="0.5" fill="#e4dde1"/>
<circle cx="207.06" cy="211.85" r="0.5" fill="#e4dde1"/>
<circle cx="48.30" cy="219.54" r="0.5" fill="#e4dde1"/>
<circle cx="57.12" cy="219.54" r="0.5" fill="#e4dde1"/>
<circle cx="65.94" cy="219.54" r="0.5" fill="#e4dde1"/>
<circle cx="74.76" cy="219.54" r="0.5" fill="#e4dde1"/>
<circle cx="83.58" cy="219.54" r="0.5" fill="#e4dde1"/>
<circle cx="92.40" cy="219.54" r="0.5" fill="#e4dde1"/>
<circle cx="101.22" cy="219.54" r="0.5" fill="#e4dde1"/>
<circle cx="110.04" cy="219.54" r="0.5" fill="#e4dde1"/>
<circle cx="118.86" cy="219.54" r="0.5" fill="#e4dde1"/>
<circle cx="127.68" cy="219.54" r="0.5" fill="#e4dde1"/>
<circle cx="136.50" cy="219.54" r="0.5" fill="#e4dde1"/>
<circle cx="145.32" cy="219.54" r="0.5" fill="#e4dde1"/>
<circle cx="154.14" cy="219.54" r="0.75" fill="#dd6da7" stroke="#888" stroke-width="0.2"/>
<circle cx="162.96" cy="219.54" r="0.5" fill="#e4dde1"/>
<circle cx="171.78" cy="219.54" r="0.5" fill="#e4dde1"/>
<circle cx="180.60" cy="219.54" r="0.5" fill="#e4dde1"/>
<circle cx="189.42" cy="219.54" r="0.5" fill="#e4dde1"/>
<circle cx="198.24" cy="219.54" r="0.5" fill="#e4dde1"/>
<circle cx="207.06" cy="219.54" r="0.5" fill="#e4dde1"/>
<circle cx="48.30" cy="227.23" r="0.5" fill="#e4dde1"/>
<circle cx="57.12" cy="227.23" r="0.5" fill="#e4dde1"/>
<circle cx="65.94" cy="227.23" r="0.5" fill="#e4dde1"/>
<circle cx="74.76" cy="227.23" r="0.5" fill="#e4dde1"/>
<circle cx="83.58" cy="227.23" r="0.5" fill="#e4dde1"/>
<circle cx="92.40" cy="227.23" r="0.5" fill="#e4dde1"/>
<circle cx="101.22" cy="227.23" r="0.5" fill="#e4dde1"/>
<circle cx="110.04" cy="227.23" r="0.5" fill="#e4dde1"/>
<circle cx="118.86" cy="227.23" r="0.5" fill="#e4dde1"/>
<circle cx="127.68" cy="227.23" r="0.5" fill="#e4dde1"/>
<circle cx="136.50" cy="227.23" r="0.5" fill="#e4dde1"/>
<circle cx="145.32" cy="227.23" r="0.5" fill="#e4dde1"/>
<circle cx="154.14" cy="227.23" r="0.75" fill="#e58bb7" stroke="#888" stroke-width="0.2"/>
<circle cx="162.96" cy="227.23" r="0.5" fill="#e4dde1"/>
<circle cx="171.78" cy="227.23" r="0.5" fill="#e4dde1"/>
<circle cx="180.60" cy="227.23" r="0.5" fill="#e4dde1"/>
<circle cx="189.42" cy="227.23" r="0.5" fill="#e4dde1"/>
<circle cx="198.24" cy="227.23" r="0.5" fill="#e4dde1"/>
<circle cx="207.06" cy="227.23" r="0.5" fill="#e4dde1"/>
<circle cx="48.30" cy="234.92" r="0.65" fill="#b8aab2"/>
<circle cx="57.12" cy="234.92" r="0.65" fill="#b8aab2"/>
<circle cx="65.94" cy="234.92" r="0.65" fill="#b8aab2"/>
<circle cx="74.76" cy="234.92" r="0.65" fill="#b8aab2"/>
<circle cx="83.58" cy="234.92" r="0.65" fill="#b8aab2"/>
<circle cx="92.40" cy="234.92" r="0.65" fill="#b8aab2"/>
<circle cx="101.22" cy="234.92" r="0.65" fill="#b8aab2"/>
<circle cx="110.04" cy="234.92" r="0.65" fill="#b8aab2"/>
<circle cx="118.86" cy="234.92" r="0.65" fill="#b8aab2"/>
<circle cx="127.68" cy="234.92" r="0.65" fill="#b8aab2"/>
<circle cx="136.50" cy="234.92" r="0.65" fill="#b8aab2"/>
<circle cx="145.32" cy="234.92" r="0.65" fill="#b8aab2"/>
<circle cx="154.14" cy="234.92" r="2.85" fill="#5c166b" stroke="#555" stroke-width="0.35"/>
<circle cx="162.96" cy="234.92" r="0.65" fill="#b8aab2"/>
<circle cx="171.78" cy="234.92" r="0.65" fill="#b8aab2"/>
<circle cx="180.60" cy="234.92" r="1.10" fill="#e99bbf" stroke="#555" stroke-width="0.35"/>
<circle cx="189.42" cy="234.92" r="1.00" fill="#ecaac8" stroke="#888" stroke-width="0.2"/>
<circle cx="198.24" cy="234.92" r="0.65" fill="#b8aab2"/>
<circle cx="207.06" cy="234.92" r="0.65" fill="#b8aab2"/>
<circle cx="48.30" cy="242.61" r="0.65" fill="#b8aab2"/>
<circle cx="57.12" cy="242.61" r="0.65" fill="#b8aab2"/>
<circle cx="65.94" cy="242.61" r="0.65" fill="#b8aab2"/>
<circle cx="74.76" cy="242.61" r="0.65" fill="#b8aab2"/>
<circle cx="83.58" cy="242.61" r="0.65" fill="#b8aab2"/>
<circle cx="92.40" cy="242.61" r="0.65" fill="#b8aab2"/>
<circle cx="101.22" cy="242.61" r="0.65" fill="#b8aab2"/>
<circle cx="110.04" cy="242.61" r="0.65" fill="#b8aab2"/>
<circle cx="118.86" cy="242.61" r="0.65" fill="#b8aab2"/>
<circle cx="127.68" cy="242.61" r="0.65" fill="#b8aab2"/>
<circle cx="136.50" cy="242.61" r="0.65" fill="#b8aab2"/>
<circle cx="145.32" cy="242.61" r="0.65" fill="#b8aab2"/>
<circle cx="154.14" cy="242.61" r="0.65" fill="#b8aab2"/>
<circle cx="162.96" cy="242.61" r="1.00" fill="#8b1a7c" stroke="#888" stroke-width="0.2"/>
<circle cx="171.78" cy="242.61" r="1.00" fill="#d4509a" stroke="#888" stroke-width="0.2"/>
<circle cx="180.60" cy="242.61" r="0.75" fill="#dd6da7" stroke="#888" stroke-width="0.2"/>
<circle cx="189.42" cy="242.61" r="0.65" fill="#b8aab2"/>
<circle cx="198.24" cy="242.61" r="0.65" fill="#b8aab2"/>
<circle cx="207.06" cy="242.61" r="0.65" fill="#b8aab2"/>
<circle cx="48.30" cy="250.30" r="0.5" fill="#e4dde1"/>
<circle cx="57.12" cy="250.30" r="0.5" fill="#e4dde1"/>
<circle cx="65.94" cy="250.30" r="0.5" fill="#e4dde1"/>
<circle cx="74.76" cy="250.30" r="0.5" fill="#e4dde1"/>
<circle cx="83.58" cy="250.30" r="0.5" fill="#e4dde1"/>
<circle cx="92.40" cy="250.30" r="0.5" fill="#e4dde1"/>
<circle cx="101.22" cy="250.30" r="0.5" fill="#e4dde1"/>
<circle cx="110.04" cy="250.30" r="0.5" fill="#e4dde1"/>
<circle cx="118.86" cy="250.30" r="0.5" fill="#e4dde1"/>
<circle cx="127.68" cy="250.30" r="0.5" fill="#e4dde1"/>
<circle cx="136.50" cy="250.30" r="0.5" fill="#e4dde1"/>
<circle cx="145.32" cy="250.30" r="0.5" fill="#e4dde1"/>
<circle cx="154.14" cy="250.30" r="0.5" fill="#e4dde1"/>
<circle cx="162.96" cy="250.30" r="1.00" fill="#5c166b" stroke="#888" stroke-width="0.2"/>
<circle cx="171.78" cy="250.30" r="0.5" fill="#e4dde1"/>
<circle cx="180.60" cy="250.30" r="0.5" fill="#e4dde1"/>
<circle cx="189.42" cy="250.30" r="0.5" fill="#e4dde1"/>
<circle cx="198.24" cy="250.30" r="0.5" fill="#e4dde1"/>
<circle cx="207.06" cy="250.30" r="0.5" fill="#e4dde1"/>
<circle cx="48.30" cy="257.99" r="1.35" fill="#b42386" stroke="#555" stroke-width="0.35"/>
<circle cx="57.12" cy="257.99" r="0.75" fill="#dd6da7" stroke="#888" stroke-width="0.2"/>
<circle cx="65.94" cy="257.99" r="1.10" fill="#c22d8b" stroke="#555" stroke-width="0.35"/>
<circle cx="74.76" cy="257.99" r="1.10" fill="#c22d8b" stroke="#555" stroke-width="0.35"/>
<circle cx="83.58" cy="257.99" r="1.10" fill="#cb3e92" stroke="#555" stroke-width="0.35"/>
<circle cx="92.40" cy="257.99" r="1.10" fill="#d95fa1" stroke="#555" stroke-width="0.35"/>
<circle cx="101.22" cy="257.99" r="1.00" fill="#dd6da7" stroke="#888" stroke-width="0.2"/>
<circle cx="110.04" cy="257.99" r="0.65" fill="#b8aab2"/>
<circle cx="118.86" cy="257.99" r="0.65" fill="#b8aab2"/>
<circle cx="127.68" cy="257.99" r="0.65" fill="#b8aab2"/>
<circle cx="136.50" cy="257.99" r="0.65" fill="#b8aab2"/>
<circle cx="145.32" cy="257.99" r="0.65" fill="#b8aab2"/>
<circle cx="154.14" cy="257.99" r="0.65" fill="#b8aab2"/>
<circle cx="162.96" cy="257.99" r="0.65" fill="#b8aab2"/>
<circle cx="171.78" cy="257.99" r="2.60" fill="#5c166b" stroke="#555" stroke-width="0.35"/>
<circle cx="180.60" cy="257.99" r="0.65" fill="#b8aab2"/>
<circle cx="189.42" cy="257.99" r="0.65" fill="#b8aab2"/>
<circle cx="198.24" cy="257.99" r="1.10" fill="#e99bbf" stroke="#555" stroke-width="0.35"/>
<circle cx="207.06" cy="257.99" r="0.65" fill="#b8aab2"/>
<circle cx="48.30" cy="265.68" r="0.65" fill="#b8aab2"/>
<circle cx="57.12" cy="265.68" r="0.65" fill="#b8aab2"/>
<circle cx="65.94" cy="265.68" r="0.65" fill="#b8aab2"/>
<circle cx="74.76" cy="265.68" r="0.65" fill="#b8aab2"/>
<circle cx="83.58" cy="265.68" r="0.65" fill="#b8aab2"/>
<circle cx="92.40" cy="265.68" r="0.65" fill="#b8aab2"/>
<circle cx="101.22" cy="265.68" r="0.65" fill="#b8aab2"/>
<circle cx="110.04" cy="265.68" r="0.65" fill="#b8aab2"/>
<circle cx="118.86" cy="265.68" r="0.65" fill="#b8aab2"/>
<circle cx="127.68" cy="265.68" r="0.65" fill="#b8aab2"/>
<circle cx="136.50" cy="265.68" r="0.65" fill="#b8aab2"/>
<circle cx="145.32" cy="265.68" r="0.65" fill="#b8aab2"/>
<circle cx="154.14" cy="265.68" r="0.65" fill="#b8aab2"/>
<circle cx="162.96" cy="265.68" r="0.75" fill="#c22d8b" stroke="#888" stroke-width="0.2"/>
<circle cx="171.78" cy="265.68" r="0.75" fill="#d4509a" stroke="#888" stroke-width="0.2"/>
<circle cx="180.60" cy="265.68" r="1.00" fill="#d4509a" stroke="#888" stroke-width="0.2"/>
<circle cx="189.42" cy="265.68" r="1.10" fill="#5c166b" stroke="#555" stroke-width="0.35"/>
<circle cx="198.24" cy="265.68" r="0.65" fill="#b8aab2"/>
<circle cx="207.06" cy="265.68" r="0.65" fill="#b8aab2"/>
<circle cx="48.30" cy="273.37" r="0.5" fill="#e4dde1"/>
<circle cx="57.12" cy="273.37" r="0.5" fill="#e4dde1"/>
<circle cx="65.94" cy="273.37" r="0.5" fill="#e4dde1"/>
<circle cx="74.76" cy="273.37" r="0.5" fill="#e4dde1"/>
<circle cx="83.58" cy="273.37" r="0.5" fill="#e4dde1"/>
<circle cx="92.40" cy="273.37" r="0.5" fill="#e4dde1"/>
<circle cx="101.22" cy="273.37" r="0.5" fill="#e4dde1"/>
<circle cx="110.04" cy="273.37" r="0.5" fill="#e4dde1"/>
<circle cx="118.86" cy="273.37" r="0.5" fill="#e4dde1"/>
<circle cx="127.68" cy="273.37" r="0.5" fill="#e4dde1"/>
<circle cx="136.50" cy="273.37" r="0.5" fill="#e4dde1"/>
<circle cx="145.32" cy="273.37" r="0.5" fill="#e4dde1"/>
<circle cx="154.14" cy="273.37" r="0.5" fill="#e4dde1"/>
<circle cx="162.96" cy="273.37" r="0.5" fill="#e4dde1"/>
<circle cx="171.78" cy="273.37" r="0.5" fill="#e4dde1"/>
<circle cx="180.60" cy="273.37" r="1.85" fill="#701874" stroke="#555" stroke-width="0.35"/>
<circle cx="189.42" cy="273.37" r="1.00" fill="#d4509a" stroke="#888" stroke-width="0.2"/>
<circle cx="198.24" cy="273.37" r="1.85" fill="#5c166b" stroke="#555" stroke-width="0.35"/>
<circle cx="207.06" cy="273.37" r="0.5" fill="#e4dde1"/>
<circle cx="48.30" cy="281.06" r="0.65" fill="#b8aab2"/>
<circle cx="57.12" cy="281.06" r="0.65" fill="#b8aab2"/>
<circle cx="65.94" cy="281.06" r="0.65" fill="#b8aab2"/>
<circle cx="74.76" cy="281.06" r="0.65" fill="#b8aab2"/>
<circle cx="83.58" cy="281.06" r="0.65" fill="#b8aab2"/>
<circle cx="92.40" cy="281.06" r="1.10" fill="#eeb7d0" stroke="#555" stroke-width="0.35"/>
<circle cx="101.22" cy="281.06" r="1.60" fill="#eeb7d0" stroke="#555" stroke-width="0.35"/>
<circle cx="110.04" cy="281.06" r="0.65" fill="#b8aab2"/>
<circle cx="118.86" cy="281.06" r="0.65" fill="#b8aab2"/>
<circle cx="127.68" cy="281.06" r="0.65" fill="#b8aab2"/>
<circle cx="136.50" cy="281.06" r="0.65" fill="#b8aab2"/>
<circle cx="145.32" cy="281.06" r="2.85" fill="#e27cae" stroke="#555" stroke-width="0.35"/>
<circle cx="154.14" cy="281.06" r="1.35" fill="#f1c3d8" stroke="#555" stroke-width="0.35"/>
<circle cx="162.96" cy="281.06" r="0.65" fill="#b8aab2"/>
<circle cx="171.78" cy="281.06" r="0.65" fill="#b8aab2"/>
<circle cx="180.60" cy="281.06" r="4.10" fill="#5c166b" stroke="#555" stroke-width="0.35"/>
<circle cx="189.42" cy="281.06" r="2.35" fill="#e99bbf" stroke="#555" stroke-width="0.35"/>
<circle cx="198.24" cy="281.06" r="4.10" fill="#8b1a7c" stroke="#555" stroke-width="0.35"/>
<circle cx="207.06" cy="281.06" r="0.65" fill="#b8aab2"/>
<circle cx="48.30" cy="288.75" r="0.5" fill="#e4dde1"/>
<circle cx="57.12" cy="288.75" r="0.5" fill="#e4dde1"/>
<circle cx="65.94" cy="288.75" r="0.5" fill="#e4dde1"/>
<circle cx="74.76" cy="288.75" r="0.5" fill="#e4dde1"/>
<circle cx="83.58" cy="288.75" r="0.5" fill="#e4dde1"/>
<circle cx="92.40" cy="288.75" r="0.5" fill="#e4dde1"/>
<circle cx="101.22" cy="288.75" r="0.75" fill="#dd6da7" stroke="#888" stroke-width="0.2"/>
<circle cx="110.04" cy="288.75" r="0.5" fill="#e4dde1"/>
<circle cx="118.86" cy="288.75" r="0.5" fill="#e4dde1"/>
<circle cx="127.68" cy="288.75" r="0.5" fill="#e4dde1"/>
<circle cx="136.50" cy="288.75" r="0.5" fill="#e4dde1"/>
<circle cx="145.32" cy="288.75" r="0.5" fill="#e4dde1"/>
<circle cx="154.14" cy="288.75" r="0.5" fill="#e4dde1"/>
<circle cx="162.96" cy="288.75" r="0.5" fill="#e4dde1"/>
<circle cx="171.78" cy="288.75" r="0.5" fill="#e4dde1"/>
<circle cx="180.60" cy="288.75" r="0.5" fill="#e4dde1"/>
<circle cx="189.42" cy="288.75" r="0.5" fill="#e4dde1"/>
<circle cx="198.24" cy="288.75" r="1.60" fill="#5c166b" stroke="#555" stroke-width="0.35"/>
<circle cx="207.06" cy="288.75" r="0.5" fill="#e4dde1"/>
<circle cx="48.30" cy="296.44" r="0.5" fill="#e4dde1"/>
<circle cx="57.12" cy="296.44" r="0.5" fill="#e4dde1"/>
<circle cx="65.94" cy="296.44" r="0.5" fill="#e4dde1"/>
<circle cx="74.76" cy="296.44" r="0.5" fill="#e4dde1"/>
<circle cx="83.58" cy="296.44" r="0.5" fill="#e4dde1"/>
<circle cx="92.40" cy="296.44" r="0.5" fill="#e4dde1"/>
<circle cx="101.22" cy="296.44" r="0.5" fill="#e4dde1"/>
<circle cx="110.04" cy="296.44" r="0.5" fill="#e4dde1"/>
<circle cx="118.86" cy="296.44" r="0.5" fill="#e4dde1"/>
<circle cx="127.68" cy="296.44" r="0.5" fill="#e4dde1"/>
<circle cx="136.50" cy="296.44" r="0.5" fill="#e4dde1"/>
<circle cx="145.32" cy="296.44" r="0.5" fill="#e4dde1"/>
<circle cx="154.14" cy="296.44" r="0.5" fill="#e4dde1"/>
<circle cx="162.96" cy="296.44" r="0.5" fill="#e4dde1"/>
<circle cx="171.78" cy="296.44" r="0.5" fill="#e4dde1"/>
<circle cx="180.60" cy="296.44" r="0.5" fill="#e4dde1"/>
<circle cx="189.42" cy="296.44" r="0.5" fill="#e4dde1"/>
<circle cx="198.24" cy="296.44" r="0.75" fill="#dd6da7" stroke="#888" stroke-width="0.2"/>
<circle cx="207.06" cy="296.44" r="0.5" fill="#e4dde1"/>
<circle cx="48.30" cy="304.13" r="0.5" fill="#e4dde1"/>
<circle cx="57.12" cy="304.13" r="0.5" fill="#e4dde1"/>
<circle cx="65.94" cy="304.13" r="0.5" fill="#e4dde1"/>
<circle cx="74.76" cy="304.13" r="0.5" fill="#e4dde1"/>
<circle cx="83.58" cy="304.13" r="0.5" fill="#e4dde1"/>
<circle cx="92.40" cy="304.13" r="0.5" fill="#e4dde1"/>
<circle cx="101.22" cy="304.13" r="0.5" fill="#e4dde1"/>
<circle cx="110.04" cy="304.13" r="0.5" fill="#e4dde1"/>
<circle cx="118.86" cy="304.13" r="0.5" fill="#e4dde1"/>
<circle cx="127.68" cy="304.13" r="0.5" fill="#e4dde1"/>
<circle cx="136.50" cy="304.13" r="0.5" fill="#e4dde1"/>
<circle cx="145.32" cy="304.13" r="0.5" fill="#e4dde1"/>
<circle cx="154.14" cy="304.13" r="0.5" fill="#e4dde1"/>
<circle cx="162.96" cy="304.13" r="0.5" fill="#e4dde1"/>
<circle cx="171.78" cy="304.13" r="0.5" fill="#e4dde1"/>
<circle cx="180.60" cy="304.13" r="0.5" fill="#e4dde1"/>
<circle cx="189.42" cy="304.13" r="0.5" fill="#e4dde1"/>
<circle cx="198.24" cy="304.13" r="0.5" fill="#e4dde1"/>
<circle cx="207.06" cy="304.13" r="3.10" fill="#5c166b" stroke="#555" stroke-width="0.35"/>
<rect x="43.89" y="311.4" width="8.87" height="3.4" fill="#fbe0e8"/>
<rect x="52.71" y="311.4" width="8.87" height="3.4" fill="#f7bccb"/>
<rect x="61.53" y="311.4" width="8.87" height="3.4" fill="#f29ab2"/>
<rect x="70.35" y="311.4" width="8.87" height="3.4" fill="#e07294"/>
<rect x="79.17" y="311.4" width="8.87" height="3.4" fill="#f5083c"/>
<rect x="87.99" y="311.4" width="8.87" height="3.4" fill="#cc0c20"/>
<rect x="96.81" y="311.4" width="8.87" height="3.4" fill="#7a0f26"/>
<rect x="105.63" y="311.4" width="8.87" height="3.4" fill="#e4f0fa"/>
<rect x="114.45" y="311.4" width="8.87" height="3.4" fill="#bcdff3"/>
<rect x="123.27" y="311.4" width="8.87" height="3.4" fill="#a2d5e9"/>
<rect x="132.09" y="311.4" width="8.87" height="3.4" fill="#6aa6d0"/>
<rect x="140.91" y="311.4" width="8.87" height="3.4" fill="#8ac8ec"/>
<rect x="149.73" y="311.4" width="8.87" height="3.4" fill="#18b0e0"/>
<rect x="158.55" y="311.4" width="8.87" height="3.4" fill="#3a8bc8"/>
<rect x="167.37" y="311.4" width="8.87" height="3.4" fill="#2a90d8"/>
<rect x="176.19" y="311.4" width="8.87" height="3.4" fill="#4e7aa5"/>
<rect x="185.01" y="311.4" width="8.87" height="3.4" fill="#2050c0"/>
<rect x="193.83" y="311.4" width="8.87" height="3.4" fill="#123a6a"/>
<rect x="202.65" y="311.4" width="8.87" height="3.4" fill="#1a2070"/>
<text transform="translate(45.65,316.9) rotate(90)" font-size="7.2" fill="#222" stroke="#222" stroke-width="0.12">PVALB-Unc5b</text>
<text transform="translate(54.47,316.9) rotate(90)" font-size="7.2" fill="#222" stroke="#222" stroke-width="0.12">PVALB-Col25a1</text>
<text transform="translate(63.29,316.9) rotate(90)" font-size="7.2" fill="#222" stroke="#222" stroke-width="0.12">PVALB-Rorb</text>
<text transform="translate(72.11,316.9) rotate(90)" font-size="7.2" fill="#222" stroke="#222" stroke-width="0.12">PVALB-Reln</text>
<text transform="translate(80.93,316.9) rotate(90)" font-size="7.2" fill="#222" stroke="#222" stroke-width="0.12">PVALB-Fzd6</text>
<text transform="translate(89.75,316.9) rotate(90)" font-size="7.2" fill="#222" stroke="#222" stroke-width="0.12">PVALB-Slc39a8</text>
<text transform="translate(98.57,316.9) rotate(90)" font-size="7.2" fill="#222" stroke="#222" stroke-width="0.12">PVALB-Th</text>
<text transform="translate(107.39,316.9) rotate(90)" font-size="7.2" fill="#222" stroke="#222" stroke-width="0.12">SST-Mme</text>
<text transform="translate(116.21,316.9) rotate(90)" font-size="7.2" fill="#222" stroke="#222" stroke-width="0.12">SST-Calb2</text>
<text transform="translate(125.03,316.9) rotate(90)" font-size="7.2" fill="#222" stroke="#222" stroke-width="0.12">SST-Hpse</text>
<text transform="translate(133.85,316.9) rotate(90)" font-size="7.2" fill="#222" stroke="#222" stroke-width="0.12">SST-Syndig1l</text>
<text transform="translate(142.67,316.9) rotate(90)" font-size="7.2" fill="#222" stroke="#222" stroke-width="0.12">SST-Etv1</text>
<text transform="translate(151.49,316.9) rotate(90)" font-size="7.2" fill="#222" stroke="#222" stroke-width="0.12">SST-Chrna2</text>
<text transform="translate(160.31,316.9) rotate(90)" font-size="7.2" fill="#222" stroke="#222" stroke-width="0.12">SST-Crh-1</text>
<text transform="translate(169.13,316.9) rotate(90)" font-size="7.2" fill="#222" stroke="#222" stroke-width="0.12">SST-Crh-2</text>
<text transform="translate(177.95,316.9) rotate(90)" font-size="7.2" fill="#222" stroke="#222" stroke-width="0.12">SST-Nmbr-1</text>
<text transform="translate(186.77,316.9) rotate(90)" font-size="7.2" fill="#222" stroke="#222" stroke-width="0.12">SST-Nmbr-2</text>
<text transform="translate(195.59,316.9) rotate(90)" font-size="7.2" fill="#222" stroke="#222" stroke-width="0.12">SST-Th</text>
<text transform="translate(204.41,316.9) rotate(90)" font-size="7.2" fill="#222" stroke="#222" stroke-width="0.12">SST-Chodl</text>
</g>
<text x="252" y="36.2" text-anchor="middle" font-size="7.4" fill="#222" stroke="#222" stroke-width="0.12">Fraction of cells</text>
<text x="252" y="44.8" text-anchor="middle" font-size="7.4" fill="#222" stroke="#222" stroke-width="0.12">in group (%)</text>
<circle cx="229.7" cy="57.2" r="1.15" fill="#808080" stroke="#666" stroke-width="0.3"/>
<line x1="229.7" y1="69.2" x2="229.7" y2="71.3" stroke="#333" stroke-width="0.6"/>
<circle cx="239.8" cy="57.2" r="2.30" fill="#808080" stroke="#666" stroke-width="0.3"/>
<line x1="239.8" y1="69.2" x2="239.8" y2="71.3" stroke="#333" stroke-width="0.6"/>
<circle cx="250" cy="57.2" r="3.20" fill="#808080" stroke="#666" stroke-width="0.3"/>
<line x1="250" y1="69.2" x2="250" y2="71.3" stroke="#333" stroke-width="0.6"/>
<circle cx="260.5" cy="57.2" r="3.95" fill="#808080" stroke="#666" stroke-width="0.3"/>
<line x1="260.5" y1="69.2" x2="260.5" y2="71.3" stroke="#333" stroke-width="0.6"/>
<circle cx="270.8" cy="57.2" r="4.90" fill="#808080" stroke="#666" stroke-width="0.3"/>
<line x1="270.8" y1="69.2" x2="270.8" y2="71.3" stroke="#333" stroke-width="0.6"/>
<text x="225.5" y="79.3" font-size="7" fill="#222" letter-spacing="-0.15" stroke="#222" stroke-width="0.12">20 40 60 80100</text>
<text x="252" y="119" text-anchor="middle" font-size="7.4" fill="#222" stroke="#222" stroke-width="0.12">Mean expression</text>
<text x="252" y="127.3" text-anchor="middle" font-size="7.4" fill="#222" stroke="#222" stroke-width="0.12">in group</text>
<defs><linearGradient id="cm" x1="0" x2="1" y1="0" y2="0"><stop offset="0.0" stop-color="#f8e8ef"/><stop offset="0.15" stop-color="#f3d0e0"/><stop offset="0.3" stop-color="#ecaac8"/><stop offset="0.45" stop-color="#e27cae"/><stop offset="0.6" stop-color="#d4509a"/><stop offset="0.72" stop-color="#be2688"/><stop offset="0.82" stop-color="#9b1c80"/><stop offset="0.9" stop-color="#701874"/><stop offset="1.0" stop-color="#481462"/></linearGradient></defs>
<rect x="225.3" y="130.6" width="53.3" height="12" fill="url(#cm)" stroke="#444" stroke-width="0.5"/>
<line x1="225.3" y1="142.6" x2="225.3" y2="144.2" stroke="#444" stroke-width="0.5"/>
<line x1="252" y1="142.6" x2="252" y2="144.2" stroke="#444" stroke-width="0.5"/>
<line x1="278.6" y1="142.6" x2="278.6" y2="144.2" stroke="#444" stroke-width="0.5"/>
<text x="221" y="152" font-size="7.3" fill="#222" stroke="#222" stroke-width="0.12">0.0</text>
<text x="247.5" y="152" font-size="7.3" fill="#222" stroke="#222" stroke-width="0.12">0.5</text>
<text x="274" y="152" font-size="7.3" fill="#222" stroke="#222" stroke-width="0.12">1.0</text><g id="pb">
<text x="389" y="11.31" font-size="8.65" fill="#111" stroke="#111" stroke-width="0.12">this study</text>
<text x="565.3" y="11" font-size="8.6" fill="#111" stroke="#111" stroke-width="0.12">Supertypes in Yao <tspan font-style="italic">et al.</tspan>, 2021</text>
<path d="M411.70,105.00 C412.95,103.33 415.80,102.53 418.30,101.70 C420.80,100.87 423.63,100.15 426.70,100.00 C429.77,99.85 433.65,100.25 436.70,100.80 C439.75,101.35 442.50,102.05 445.00,103.30 C447.50,104.55 450.03,106.90 451.70,108.30 C453.37,109.70 454.73,110.03 455.00,111.70 C455.27,113.37 454.97,116.92 453.30,118.30 C451.63,119.68 448.05,119.58 445.00,120.00 C441.95,120.42 438.33,120.52 435.00,120.80 C431.67,121.08 428.05,121.42 425.00,121.70 C421.95,121.98 418.92,123.07 416.70,122.50 C414.48,121.93 412.68,120.10 411.70,118.30 C410.72,116.50 410.80,113.92 410.80,111.70 C410.80,109.48 410.45,106.67 411.70,105.00Z" fill="#e4f0fa"/><g fill="#e4f0fa"><circle cx="425.2" cy="100.9" r="0.9"/><circle cx="441.8" cy="120.9" r="0.9"/><circle cx="442.3" cy="102.6" r="0.9"/><circle cx="410.1" cy="111.8" r="0.9"/><circle cx="433.2" cy="120.6" r="0.9"/><circle cx="446.6" cy="120.0" r="0.9"/><circle cx="418.2" cy="101.8" r="0.9"/><circle cx="411.9" cy="118.4" r="0.9"/><circle cx="410.7" cy="114.2" r="0.9"/><circle cx="449.3" cy="106.7" r="0.9"/><circle cx="423.0" cy="122.5" r="0.9"/><circle cx="411.7" cy="115.2" r="0.9"/><circle cx="449.5" cy="107.4" r="0.9"/><circle cx="422.9" cy="101.2" r="0.9"/><circle cx="411.1" cy="109.6" r="0.9"/><circle cx="413.7" cy="105.0" r="0.9"/><circle cx="411.0" cy="113.9" r="0.9"/><circle cx="412.2" cy="118.4" r="0.9"/><circle cx="453.0" cy="118.6" r="0.9"/><circle cx="412.6" cy="104.4" r="0.9"/><circle cx="450.0" cy="118.3" r="0.9"/><circle cx="413.8" cy="119.8" r="0.9"/><circle cx="424.5" cy="100.1" r="0.9"/><circle cx="423.6" cy="121.2" r="0.9"/><circle cx="453.2" cy="116.6" r="0.9"/><circle cx="423.6" cy="101.0" r="0.9"/><circle cx="434.8" cy="100.8" r="0.9"/><circle cx="453.7" cy="118.5" r="0.9"/><circle cx="448.4" cy="105.9" r="0.9"/><circle cx="411.6" cy="110.7" r="0.9"/><circle cx="429.1" cy="121.6" r="0.9"/><circle cx="446.9" cy="104.8" r="0.9"/><circle cx="417.4" cy="102.7" r="0.9"/><circle cx="410.8" cy="106.7" r="0.9"/><circle cx="436.4" cy="100.3" r="0.9"/><circle cx="421.1" cy="121.5" r="0.9"/><circle cx="410.8" cy="112.0" r="0.9"/><circle cx="438.8" cy="120.8" r="0.9"/><circle cx="441.1" cy="102.3" r="0.9"/><circle cx="422.8" cy="121.7" r="0.9"/><circle cx="415.6" cy="103.3" r="0.9"/><circle cx="414.1" cy="104.7" r="0.9"/><circle cx="435.8" cy="121.4" r="0.9"/><circle cx="411.9" cy="105.6" r="0.9"/><circle cx="411.1" cy="105.7" r="0.9"/><circle cx="411.8" cy="115.9" r="0.9"/><circle cx="425.8" cy="99.7" r="0.9"/><circle cx="412.5" cy="105.5" r="0.9"/><circle cx="448.2" cy="105.7" r="0.9"/><circle cx="411.8" cy="105.0" r="0.9"/><circle cx="420.3" cy="101.4" r="0.9"/><circle cx="439.3" cy="120.2" r="0.9"/><circle cx="439.7" cy="119.6" r="0.9"/><circle cx="439.1" cy="121.2" r="0.9"/><circle cx="417.8" cy="102.2" r="0.9"/><circle cx="451.2" cy="118.6" r="0.9"/><circle cx="452.2" cy="118.3" r="0.9"/><circle cx="432.0" cy="101.1" r="0.9"/><circle cx="426.8" cy="100.3" r="0.9"/><circle cx="412.7" cy="119.5" r="0.9"/><circle cx="436.5" cy="101.5" r="0.9"/><circle cx="426.2" cy="100.1" r="0.9"/><circle cx="412.3" cy="106.5" r="0.9"/><circle cx="445.7" cy="103.8" r="0.9"/><circle cx="438.5" cy="101.4" r="0.9"/><circle cx="430.2" cy="121.1" r="0.9"/><circle cx="411.3" cy="115.6" r="0.9"/><circle cx="445.4" cy="102.7" r="0.9"/><circle cx="416.4" cy="101.8" r="0.9"/><circle cx="444.8" cy="103.2" r="0.9"/><circle cx="452.1" cy="107.6" r="0.9"/><circle cx="454.8" cy="111.0" r="0.9"/><circle cx="442.2" cy="120.0" r="0.9"/><circle cx="442.9" cy="102.9" r="0.9"/><circle cx="454.1" cy="116.6" r="0.9"/><circle cx="450.0" cy="106.5" r="0.9"/><circle cx="455.1" cy="113.0" r="0.9"/><circle cx="426.3" cy="121.1" r="0.9"/><circle cx="449.6" cy="106.6" r="0.9"/><circle cx="432.2" cy="100.6" r="0.9"/><circle cx="439.4" cy="119.7" r="0.9"/><circle cx="424.7" cy="100.6" r="0.9"/><circle cx="413.0" cy="103.3" r="0.9"/><circle cx="452.8" cy="109.4" r="0.9"/><circle cx="443.8" cy="119.6" r="0.9"/><circle cx="411.8" cy="114.4" r="0.9"/><circle cx="416.1" cy="103.3" r="0.9"/><circle cx="448.0" cy="119.6" r="0.9"/><circle cx="452.3" cy="118.4" r="0.9"/><circle cx="449.1" cy="105.8" r="0.9"/><circle cx="451.8" cy="118.8" r="0.9"/><circle cx="410.8" cy="116.1" r="0.9"/></g>
<path d="M436.70,110.00 C438.37,108.33 442.23,108.30 445.00,108.30 C447.77,108.30 451.35,108.88 453.30,110.00 C455.25,111.12 456.42,112.78 456.70,115.00 C456.98,117.22 456.12,121.08 455.00,123.30 C453.88,125.52 451.95,127.18 450.00,128.30 C448.05,129.42 445.52,130.27 443.30,130.00 C441.08,129.73 438.08,128.65 436.70,126.70 C435.32,124.75 435.00,121.08 435.00,118.30 C435.00,115.52 435.03,111.67 436.70,110.00Z" fill="#c5e1f4"/><g fill="#c5e1f4"><circle cx="443.7" cy="108.4" r="0.9"/><circle cx="455.4" cy="113.9" r="0.9"/><circle cx="452.1" cy="126.0" r="0.9"/><circle cx="454.5" cy="123.2" r="0.9"/><circle cx="435.2" cy="114.0" r="0.9"/><circle cx="441.6" cy="108.8" r="0.9"/><circle cx="436.1" cy="124.3" r="0.9"/><circle cx="451.1" cy="127.8" r="0.9"/><circle cx="441.4" cy="128.7" r="0.9"/><circle cx="434.9" cy="120.1" r="0.9"/><circle cx="435.8" cy="125.8" r="0.9"/><circle cx="437.4" cy="110.6" r="0.9"/><circle cx="455.6" cy="122.2" r="0.9"/><circle cx="436.9" cy="126.7" r="0.9"/><circle cx="454.7" cy="112.1" r="0.9"/><circle cx="450.2" cy="127.6" r="0.9"/><circle cx="444.3" cy="107.9" r="0.9"/><circle cx="434.9" cy="120.8" r="0.9"/><circle cx="454.2" cy="124.2" r="0.9"/><circle cx="440.1" cy="129.0" r="0.9"/><circle cx="450.2" cy="128.2" r="0.9"/><circle cx="434.8" cy="118.2" r="0.9"/><circle cx="438.0" cy="109.5" r="0.9"/><circle cx="436.4" cy="114.2" r="0.9"/><circle cx="452.9" cy="124.5" r="0.9"/><circle cx="447.5" cy="108.9" r="0.9"/><circle cx="438.0" cy="110.4" r="0.9"/><circle cx="450.7" cy="127.5" r="0.9"/><circle cx="434.8" cy="115.4" r="0.9"/><circle cx="438.6" cy="108.9" r="0.9"/><circle cx="442.6" cy="128.9" r="0.9"/><circle cx="454.7" cy="122.3" r="0.9"/><circle cx="448.5" cy="128.0" r="0.9"/><circle cx="456.7" cy="116.7" r="0.9"/><circle cx="436.0" cy="110.0" r="0.9"/><circle cx="451.7" cy="126.7" r="0.9"/><circle cx="445.9" cy="128.9" r="0.9"/><circle cx="435.6" cy="120.5" r="0.9"/><circle cx="435.9" cy="110.0" r="0.9"/><circle cx="454.9" cy="121.6" r="0.9"/><circle cx="436.6" cy="111.1" r="0.9"/><circle cx="434.8" cy="117.8" r="0.9"/><circle cx="436.6" cy="111.4" r="0.9"/><circle cx="456.3" cy="113.3" r="0.9"/><circle cx="455.3" cy="113.5" r="0.9"/><circle cx="438.0" cy="110.3" r="0.9"/><circle cx="444.3" cy="130.5" r="0.9"/><circle cx="435.4" cy="121.0" r="0.9"/><circle cx="447.2" cy="109.3" r="0.9"/><circle cx="455.1" cy="119.9" r="0.9"/><circle cx="435.5" cy="122.3" r="0.9"/><circle cx="455.8" cy="116.5" r="0.9"/><circle cx="438.3" cy="127.7" r="0.9"/><circle cx="455.7" cy="123.2" r="0.9"/><circle cx="456.9" cy="114.3" r="0.9"/><circle cx="454.5" cy="123.4" r="0.9"/><circle cx="451.7" cy="109.7" r="0.9"/><circle cx="448.4" cy="108.3" r="0.9"/></g>
<path d="M418.30,123.30 C419.55,122.05 422.50,121.07 425.00,120.80 C427.50,120.53 430.80,121.00 433.30,121.70 C435.80,122.40 438.60,123.33 440.00,125.00 C441.40,126.67 442.25,130.03 441.70,131.70 C441.15,133.37 438.93,134.45 436.70,135.00 C434.47,135.55 430.80,135.28 428.30,135.00 C425.80,134.72 423.50,134.42 421.70,133.30 C419.90,132.18 418.07,129.97 417.50,128.30 C416.93,126.63 417.05,124.55 418.30,123.30Z" fill="#a8d5ee"/><g fill="#a8d5ee"><circle cx="429.3" cy="121.1" r="0.9"/><circle cx="430.5" cy="134.5" r="0.9"/><circle cx="424.0" cy="121.0" r="0.9"/><circle cx="435.5" cy="135.1" r="0.9"/><circle cx="432.2" cy="122.0" r="0.9"/><circle cx="440.0" cy="125.6" r="0.9"/><circle cx="433.1" cy="121.1" r="0.9"/><circle cx="421.8" cy="122.1" r="0.9"/><circle cx="434.8" cy="135.1" r="0.9"/><circle cx="424.6" cy="133.7" r="0.9"/><circle cx="422.6" cy="134.4" r="0.9"/><circle cx="440.8" cy="132.5" r="0.9"/><circle cx="439.9" cy="127.9" r="0.9"/><circle cx="431.6" cy="135.8" r="0.9"/><circle cx="425.4" cy="121.6" r="0.9"/><circle cx="421.2" cy="132.8" r="0.9"/><circle cx="418.4" cy="123.2" r="0.9"/><circle cx="426.4" cy="134.3" r="0.9"/><circle cx="421.1" cy="132.7" r="0.9"/><circle cx="421.5" cy="132.4" r="0.9"/><circle cx="419.2" cy="130.4" r="0.9"/><circle cx="418.3" cy="127.6" r="0.9"/><circle cx="423.2" cy="133.7" r="0.9"/><circle cx="440.6" cy="132.8" r="0.9"/><circle cx="427.7" cy="120.4" r="0.9"/><circle cx="424.4" cy="121.0" r="0.9"/><circle cx="425.4" cy="134.6" r="0.9"/><circle cx="438.3" cy="124.8" r="0.9"/><circle cx="437.9" cy="123.5" r="0.9"/><circle cx="430.9" cy="121.7" r="0.9"/><circle cx="425.8" cy="120.7" r="0.9"/><circle cx="441.1" cy="128.1" r="0.9"/><circle cx="418.0" cy="128.4" r="0.9"/><circle cx="427.5" cy="121.8" r="0.9"/><circle cx="441.8" cy="132.5" r="0.9"/><circle cx="423.7" cy="121.8" r="0.9"/><circle cx="441.4" cy="132.8" r="0.9"/><circle cx="433.8" cy="121.6" r="0.9"/><circle cx="436.0" cy="123.1" r="0.9"/><circle cx="432.7" cy="121.4" r="0.9"/><circle cx="427.9" cy="120.7" r="0.9"/><circle cx="439.1" cy="124.6" r="0.9"/><circle cx="437.1" cy="135.5" r="0.9"/><circle cx="417.7" cy="124.9" r="0.9"/><circle cx="440.2" cy="125.6" r="0.9"/><circle cx="428.3" cy="134.5" r="0.9"/><circle cx="441.6" cy="128.7" r="0.9"/><circle cx="424.6" cy="134.1" r="0.9"/><circle cx="432.2" cy="121.8" r="0.9"/><circle cx="418.3" cy="125.5" r="0.9"/><circle cx="431.0" cy="135.0" r="0.9"/><circle cx="437.0" cy="134.8" r="0.9"/></g>
<path d="M428.30,130.00 C429.97,128.33 434.20,126.98 436.70,126.70 C439.20,126.42 441.63,126.92 443.30,128.30 C444.97,129.68 446.70,132.77 446.70,135.00 C446.70,137.23 444.97,140.32 443.30,141.70 C441.63,143.08 438.92,143.30 436.70,143.30 C434.48,143.30 431.67,142.80 430.00,141.70 C428.33,140.60 426.98,138.65 426.70,136.70 C426.42,134.75 426.63,131.67 428.30,130.00Z" fill="#7db7dc"/><g fill="#7db7dc"><circle cx="435.6" cy="127.6" r="0.9"/><circle cx="431.9" cy="129.3" r="0.9"/><circle cx="444.4" cy="132.7" r="0.9"/><circle cx="447.0" cy="135.7" r="0.9"/><circle cx="446.9" cy="136.7" r="0.9"/><circle cx="431.5" cy="129.1" r="0.9"/><circle cx="445.0" cy="137.6" r="0.9"/><circle cx="433.4" cy="141.9" r="0.9"/><circle cx="440.5" cy="142.9" r="0.9"/><circle cx="446.5" cy="134.1" r="0.9"/><circle cx="428.9" cy="130.1" r="0.9"/><circle cx="427.0" cy="134.6" r="0.9"/><circle cx="433.5" cy="127.2" r="0.9"/><circle cx="445.4" cy="136.5" r="0.9"/><circle cx="426.9" cy="136.4" r="0.9"/><circle cx="429.9" cy="141.0" r="0.9"/><circle cx="435.2" cy="127.5" r="0.9"/><circle cx="446.0" cy="137.9" r="0.9"/><circle cx="430.7" cy="142.0" r="0.9"/><circle cx="434.5" cy="126.8" r="0.9"/><circle cx="431.0" cy="141.7" r="0.9"/><circle cx="445.2" cy="139.1" r="0.9"/><circle cx="444.2" cy="141.9" r="0.9"/><circle cx="440.5" cy="127.7" r="0.9"/><circle cx="445.4" cy="132.2" r="0.9"/><circle cx="438.1" cy="142.4" r="0.9"/><circle cx="436.2" cy="143.7" r="0.9"/><circle cx="443.8" cy="141.0" r="0.9"/><circle cx="442.2" cy="128.0" r="0.9"/><circle cx="441.0" cy="127.3" r="0.9"/><circle cx="428.1" cy="138.6" r="0.9"/><circle cx="429.6" cy="129.8" r="0.9"/><circle cx="428.0" cy="132.7" r="0.9"/><circle cx="428.8" cy="140.6" r="0.9"/><circle cx="439.0" cy="128.0" r="0.9"/><circle cx="430.5" cy="128.2" r="0.9"/><circle cx="431.4" cy="129.4" r="0.9"/><circle cx="438.3" cy="127.8" r="0.9"/><circle cx="441.1" cy="127.7" r="0.9"/><circle cx="440.8" cy="142.5" r="0.9"/><circle cx="427.1" cy="135.3" r="0.9"/><circle cx="444.3" cy="129.6" r="0.9"/><circle cx="440.6" cy="142.5" r="0.9"/><circle cx="446.6" cy="135.3" r="0.9"/><circle cx="439.1" cy="142.7" r="0.9"/><circle cx="444.8" cy="137.2" r="0.9"/><circle cx="427.3" cy="138.0" r="0.9"/></g>
<path d="M395.00,143.30 C396.12,141.92 399.48,140.42 401.70,140.00 C403.92,139.58 406.08,140.38 408.30,140.80 C410.52,141.22 412.77,142.63 415.00,142.50 C417.23,142.37 419.48,140.70 421.70,140.00 C423.92,139.30 426.37,138.30 428.30,138.30 C430.23,138.30 432.47,138.33 433.30,140.00 C434.13,141.67 434.13,145.80 433.30,148.30 C432.47,150.80 429.68,152.77 428.30,155.00 C426.92,157.23 426.67,160.03 425.00,161.70 C423.33,163.37 420.80,164.58 418.30,165.00 C415.80,165.42 412.50,165.03 410.00,164.20 C407.50,163.37 405.25,161.82 403.30,160.00 C401.35,158.18 399.68,155.25 398.30,153.30 C396.92,151.35 395.55,149.97 395.00,148.30 C394.45,146.63 393.88,144.68 395.00,143.30Z" fill="#22afe0"/><g fill="#22afe0"><circle cx="432.4" cy="139.6" r="0.9"/><circle cx="433.3" cy="144.6" r="0.9"/><circle cx="408.9" cy="163.7" r="0.9"/><circle cx="427.9" cy="139.0" r="0.9"/><circle cx="419.6" cy="141.6" r="0.9"/><circle cx="410.4" cy="164.9" r="0.9"/><circle cx="397.3" cy="151.1" r="0.9"/><circle cx="407.4" cy="141.1" r="0.9"/><circle cx="432.8" cy="142.7" r="0.9"/><circle cx="407.9" cy="162.6" r="0.9"/><circle cx="395.5" cy="143.0" r="0.9"/><circle cx="418.5" cy="141.3" r="0.9"/><circle cx="403.0" cy="160.6" r="0.9"/><circle cx="409.1" cy="140.5" r="0.9"/><circle cx="399.9" cy="154.3" r="0.9"/><circle cx="433.3" cy="147.6" r="0.9"/><circle cx="395.7" cy="146.7" r="0.9"/><circle cx="408.0" cy="162.5" r="0.9"/><circle cx="398.0" cy="141.9" r="0.9"/><circle cx="419.0" cy="163.8" r="0.9"/><circle cx="422.1" cy="162.9" r="0.9"/><circle cx="426.0" cy="160.4" r="0.9"/><circle cx="417.4" cy="141.3" r="0.9"/><circle cx="426.2" cy="159.2" r="0.9"/><circle cx="404.3" cy="160.9" r="0.9"/><circle cx="396.9" cy="151.1" r="0.9"/><circle cx="429.0" cy="138.1" r="0.9"/><circle cx="410.6" cy="164.1" r="0.9"/><circle cx="429.8" cy="138.9" r="0.9"/><circle cx="397.2" cy="142.8" r="0.9"/><circle cx="432.9" cy="147.6" r="0.9"/><circle cx="398.1" cy="152.5" r="0.9"/><circle cx="397.9" cy="153.8" r="0.9"/><circle cx="422.4" cy="163.1" r="0.9"/><circle cx="395.0" cy="143.2" r="0.9"/><circle cx="397.2" cy="152.9" r="0.9"/><circle cx="427.9" cy="137.7" r="0.9"/><circle cx="416.8" cy="164.9" r="0.9"/><circle cx="426.0" cy="160.7" r="0.9"/><circle cx="423.5" cy="140.3" r="0.9"/><circle cx="411.0" cy="164.7" r="0.9"/><circle cx="411.2" cy="164.9" r="0.9"/><circle cx="432.5" cy="139.2" r="0.9"/><circle cx="410.0" cy="163.8" r="0.9"/><circle cx="425.3" cy="162.0" r="0.9"/><circle cx="409.0" cy="163.5" r="0.9"/><circle cx="422.1" cy="139.6" r="0.9"/><circle cx="397.1" cy="151.6" r="0.9"/><circle cx="396.4" cy="150.2" r="0.9"/><circle cx="432.3" cy="139.1" r="0.9"/><circle cx="403.5" cy="160.8" r="0.9"/><circle cx="421.9" cy="163.2" r="0.9"/><circle cx="400.8" cy="140.4" r="0.9"/><circle cx="428.1" cy="157.4" r="0.9"/><circle cx="430.9" cy="138.8" r="0.9"/><circle cx="419.2" cy="163.8" r="0.9"/><circle cx="405.3" cy="140.3" r="0.9"/><circle cx="400.4" cy="155.0" r="0.9"/><circle cx="406.4" cy="161.3" r="0.9"/><circle cx="409.1" cy="164.0" r="0.9"/><circle cx="426.9" cy="138.9" r="0.9"/><circle cx="433.2" cy="145.9" r="0.9"/><circle cx="408.8" cy="141.8" r="0.9"/><circle cx="406.9" cy="140.2" r="0.9"/><circle cx="412.3" cy="141.8" r="0.9"/><circle cx="395.4" cy="144.7" r="0.9"/><circle cx="422.3" cy="139.3" r="0.9"/><circle cx="419.2" cy="140.4" r="0.9"/><circle cx="404.5" cy="161.2" r="0.9"/><circle cx="428.8" cy="154.0" r="0.9"/><circle cx="425.1" cy="159.6" r="0.9"/><circle cx="430.7" cy="138.7" r="0.9"/><circle cx="406.2" cy="161.7" r="0.9"/><circle cx="434.0" cy="146.7" r="0.9"/><circle cx="417.5" cy="164.3" r="0.9"/><circle cx="394.9" cy="147.8" r="0.9"/><circle cx="428.9" cy="155.2" r="0.9"/><circle cx="408.6" cy="164.3" r="0.9"/><circle cx="428.1" cy="138.7" r="0.9"/><circle cx="421.8" cy="140.9" r="0.9"/><circle cx="433.1" cy="141.2" r="0.9"/><circle cx="396.4" cy="150.5" r="0.9"/><circle cx="414.9" cy="142.9" r="0.9"/><circle cx="414.3" cy="142.9" r="0.9"/><circle cx="422.4" cy="162.0" r="0.9"/><circle cx="410.5" cy="164.9" r="0.9"/><circle cx="401.0" cy="158.1" r="0.9"/><circle cx="402.4" cy="139.5" r="0.9"/><circle cx="420.3" cy="163.2" r="0.9"/></g>
<path d="M405.00,136.70 C405.83,135.45 409.48,134.62 411.70,134.20 C413.92,133.78 416.78,133.65 418.30,134.20 C419.82,134.75 420.80,136.40 420.80,137.50 C420.80,138.60 419.68,139.97 418.30,140.80 C416.92,141.63 414.43,142.35 412.50,142.50 C410.57,142.65 407.95,142.67 406.70,141.70 C405.45,140.73 404.17,137.95 405.00,136.70Z" fill="#8dc8ea"/><g fill="#8dc8ea"><circle cx="406.9" cy="141.1" r="0.9"/><circle cx="409.1" cy="135.6" r="0.9"/><circle cx="405.6" cy="139.1" r="0.9"/><circle cx="421.5" cy="137.4" r="0.9"/><circle cx="416.8" cy="133.4" r="0.9"/><circle cx="418.8" cy="139.8" r="0.9"/><circle cx="421.1" cy="136.8" r="0.9"/><circle cx="415.9" cy="134.8" r="0.9"/><circle cx="405.8" cy="137.3" r="0.9"/><circle cx="406.0" cy="139.8" r="0.9"/><circle cx="412.2" cy="141.7" r="0.9"/><circle cx="414.2" cy="141.6" r="0.9"/><circle cx="413.4" cy="142.1" r="0.9"/><circle cx="413.4" cy="142.7" r="0.9"/><circle cx="420.1" cy="136.9" r="0.9"/><circle cx="414.2" cy="133.5" r="0.9"/><circle cx="407.2" cy="141.3" r="0.9"/><circle cx="405.3" cy="136.4" r="0.9"/><circle cx="413.0" cy="142.6" r="0.9"/><circle cx="416.9" cy="133.6" r="0.9"/><circle cx="417.6" cy="140.9" r="0.9"/><circle cx="420.1" cy="135.7" r="0.9"/><circle cx="411.2" cy="143.0" r="0.9"/><circle cx="409.4" cy="134.4" r="0.9"/><circle cx="407.4" cy="141.3" r="0.9"/><circle cx="413.8" cy="142.5" r="0.9"/><circle cx="416.1" cy="142.2" r="0.9"/><circle cx="415.5" cy="134.9" r="0.9"/><circle cx="414.1" cy="142.7" r="0.9"/><circle cx="412.2" cy="134.2" r="0.9"/><circle cx="405.5" cy="137.6" r="0.9"/><circle cx="406.8" cy="141.0" r="0.9"/></g>
<path d="M382.50,133.30 C383.33,132.33 386.22,132.22 388.30,132.50 C390.38,132.78 392.77,134.03 395.00,135.00 C397.23,135.97 400.32,136.92 401.70,138.30 C403.08,139.68 403.58,142.05 403.30,143.30 C403.02,144.55 401.67,145.52 400.00,145.80 C398.33,146.08 395.38,145.55 393.30,145.00 C391.22,144.45 389.17,143.62 387.50,142.50 C385.83,141.38 384.13,139.83 383.30,138.30 C382.47,136.77 381.67,134.27 382.50,133.30Z" fill="#6789ad"/><g fill="#6789ad"><circle cx="393.4" cy="133.8" r="0.9"/><circle cx="392.2" cy="133.7" r="0.9"/><circle cx="384.5" cy="139.6" r="0.9"/><circle cx="390.4" cy="144.1" r="0.9"/><circle cx="390.4" cy="133.1" r="0.9"/><circle cx="385.1" cy="140.3" r="0.9"/><circle cx="396.1" cy="144.6" r="0.9"/><circle cx="397.3" cy="144.9" r="0.9"/><circle cx="383.5" cy="137.5" r="0.9"/><circle cx="401.6" cy="137.7" r="0.9"/><circle cx="402.6" cy="142.7" r="0.9"/><circle cx="386.2" cy="142.1" r="0.9"/><circle cx="393.5" cy="134.0" r="0.9"/><circle cx="381.8" cy="133.7" r="0.9"/><circle cx="383.0" cy="134.8" r="0.9"/><circle cx="384.8" cy="141.1" r="0.9"/><circle cx="393.8" cy="134.3" r="0.9"/><circle cx="394.0" cy="135.5" r="0.9"/><circle cx="395.2" cy="145.2" r="0.9"/><circle cx="383.2" cy="133.3" r="0.9"/><circle cx="401.3" cy="139.4" r="0.9"/><circle cx="383.2" cy="137.2" r="0.9"/><circle cx="386.2" cy="141.4" r="0.9"/><circle cx="388.5" cy="142.3" r="0.9"/><circle cx="390.9" cy="132.8" r="0.9"/><circle cx="393.6" cy="144.4" r="0.9"/><circle cx="398.5" cy="137.1" r="0.9"/><circle cx="401.0" cy="138.3" r="0.9"/><circle cx="395.8" cy="145.4" r="0.9"/><circle cx="395.5" cy="145.6" r="0.9"/><circle cx="397.1" cy="135.2" r="0.9"/><circle cx="386.0" cy="141.3" r="0.9"/><circle cx="382.5" cy="135.5" r="0.9"/><circle cx="404.0" cy="142.9" r="0.9"/><circle cx="382.0" cy="132.8" r="0.9"/><circle cx="384.2" cy="133.3" r="0.9"/><circle cx="390.5" cy="133.9" r="0.9"/><circle cx="388.2" cy="142.4" r="0.9"/><circle cx="384.3" cy="139.3" r="0.9"/><circle cx="389.7" cy="133.3" r="0.9"/><circle cx="402.6" cy="140.2" r="0.9"/><circle cx="402.1" cy="140.7" r="0.9"/><circle cx="393.4" cy="134.0" r="0.9"/><circle cx="388.7" cy="143.9" r="0.9"/></g>
<path d="M385.00,118.30 C386.38,117.05 390.25,116.83 393.30,116.70 C396.35,116.57 400.23,117.08 403.30,117.50 C406.37,117.92 409.62,118.23 411.70,119.20 C413.78,120.17 415.25,121.50 415.80,123.30 C416.35,125.10 415.97,128.33 415.00,130.00 C414.03,131.67 411.67,132.47 410.00,133.30 C408.33,134.13 406.95,134.85 405.00,135.00 C403.05,135.15 400.25,134.75 398.30,134.20 C396.35,133.65 394.97,132.68 393.30,131.70 C391.63,130.72 389.68,129.55 388.30,128.30 C386.92,127.05 385.55,125.87 385.00,124.20 C384.45,122.53 383.62,119.55 385.00,118.30Z" fill="#2356c2"/><g fill="#2356c2"><circle cx="415.8" cy="124.3" r="0.9"/><circle cx="397.1" cy="116.9" r="0.9"/><circle cx="395.4" cy="116.9" r="0.9"/><circle cx="408.1" cy="117.8" r="0.9"/><circle cx="409.4" cy="119.1" r="0.9"/><circle cx="404.2" cy="118.0" r="0.9"/><circle cx="386.7" cy="117.2" r="0.9"/><circle cx="413.1" cy="120.2" r="0.9"/><circle cx="406.5" cy="118.5" r="0.9"/><circle cx="414.9" cy="126.9" r="0.9"/><circle cx="415.6" cy="123.8" r="0.9"/><circle cx="402.0" cy="117.1" r="0.9"/><circle cx="414.9" cy="129.8" r="0.9"/><circle cx="414.1" cy="131.5" r="0.9"/><circle cx="399.1" cy="134.4" r="0.9"/><circle cx="384.8" cy="117.5" r="0.9"/><circle cx="416.1" cy="127.0" r="0.9"/><circle cx="386.7" cy="126.6" r="0.9"/><circle cx="413.0" cy="120.3" r="0.9"/><circle cx="414.4" cy="129.1" r="0.9"/><circle cx="414.9" cy="122.1" r="0.9"/><circle cx="384.9" cy="118.5" r="0.9"/><circle cx="399.4" cy="134.4" r="0.9"/><circle cx="406.2" cy="134.8" r="0.9"/><circle cx="414.9" cy="129.8" r="0.9"/><circle cx="413.1" cy="120.0" r="0.9"/><circle cx="401.6" cy="134.1" r="0.9"/><circle cx="414.3" cy="129.7" r="0.9"/><circle cx="388.8" cy="127.6" r="0.9"/><circle cx="392.2" cy="116.9" r="0.9"/><circle cx="402.7" cy="116.7" r="0.9"/><circle cx="402.3" cy="134.4" r="0.9"/><circle cx="403.9" cy="117.7" r="0.9"/><circle cx="384.2" cy="123.1" r="0.9"/><circle cx="399.0" cy="117.3" r="0.9"/><circle cx="408.6" cy="119.0" r="0.9"/><circle cx="385.0" cy="124.8" r="0.9"/><circle cx="416.1" cy="125.9" r="0.9"/><circle cx="384.6" cy="123.5" r="0.9"/><circle cx="399.7" cy="117.8" r="0.9"/><circle cx="396.7" cy="133.7" r="0.9"/><circle cx="394.6" cy="116.3" r="0.9"/><circle cx="397.9" cy="133.8" r="0.9"/><circle cx="414.7" cy="126.7" r="0.9"/><circle cx="413.8" cy="131.6" r="0.9"/><circle cx="411.5" cy="120.1" r="0.9"/><circle cx="414.7" cy="126.5" r="0.9"/><circle cx="406.3" cy="134.2" r="0.9"/><circle cx="409.8" cy="118.3" r="0.9"/><circle cx="397.2" cy="117.2" r="0.9"/><circle cx="401.9" cy="134.2" r="0.9"/><circle cx="398.3" cy="117.3" r="0.9"/><circle cx="398.5" cy="117.6" r="0.9"/><circle cx="393.4" cy="132.5" r="0.9"/><circle cx="392.1" cy="131.2" r="0.9"/><circle cx="401.1" cy="134.6" r="0.9"/><circle cx="400.9" cy="118.1" r="0.9"/><circle cx="403.1" cy="117.4" r="0.9"/><circle cx="399.6" cy="117.5" r="0.9"/><circle cx="397.8" cy="117.3" r="0.9"/><circle cx="404.3" cy="135.4" r="0.9"/><circle cx="399.0" cy="134.5" r="0.9"/><circle cx="401.3" cy="135.2" r="0.9"/><circle cx="385.7" cy="117.8" r="0.9"/><circle cx="396.7" cy="117.2" r="0.9"/><circle cx="392.0" cy="131.3" r="0.9"/><circle cx="387.5" cy="118.0" r="0.9"/></g>
<path d="M366.70,111.70 C367.82,110.87 369.77,110.00 371.70,110.00 C373.63,110.00 376.37,110.58 378.30,111.70 C380.23,112.82 381.63,115.32 383.30,116.70 C384.97,118.08 387.47,118.33 388.30,120.00 C389.13,121.67 388.85,125.03 388.30,126.70 C387.75,128.37 386.38,129.73 385.00,130.00 C383.62,130.27 381.67,129.13 380.00,128.30 C378.33,127.47 376.67,126.10 375.00,125.00 C373.33,123.90 371.53,122.82 370.00,121.70 C368.47,120.58 366.63,119.42 365.80,118.30 C364.97,117.18 364.85,116.10 365.00,115.00 C365.15,113.90 365.58,112.53 366.70,111.70Z" fill="#6aa0cf"/><g fill="#6aa0cf"><circle cx="365.8" cy="113.7" r="0.9"/><circle cx="386.7" cy="129.5" r="0.9"/><circle cx="387.9" cy="122.5" r="0.9"/><circle cx="371.2" cy="111.0" r="0.9"/><circle cx="379.9" cy="112.4" r="0.9"/><circle cx="365.3" cy="115.7" r="0.9"/><circle cx="368.1" cy="111.7" r="0.9"/><circle cx="378.7" cy="112.0" r="0.9"/><circle cx="388.6" cy="123.7" r="0.9"/><circle cx="377.1" cy="126.4" r="0.9"/><circle cx="377.0" cy="126.1" r="0.9"/><circle cx="387.8" cy="126.7" r="0.9"/><circle cx="377.7" cy="125.9" r="0.9"/><circle cx="383.1" cy="129.7" r="0.9"/><circle cx="381.1" cy="128.5" r="0.9"/><circle cx="370.5" cy="122.3" r="0.9"/><circle cx="386.7" cy="128.2" r="0.9"/><circle cx="378.7" cy="111.6" r="0.9"/><circle cx="367.0" cy="111.6" r="0.9"/><circle cx="389.0" cy="124.7" r="0.9"/><circle cx="369.7" cy="120.4" r="0.9"/><circle cx="386.3" cy="128.2" r="0.9"/><circle cx="376.1" cy="126.4" r="0.9"/><circle cx="380.5" cy="114.5" r="0.9"/><circle cx="373.3" cy="123.7" r="0.9"/><circle cx="378.9" cy="126.8" r="0.9"/><circle cx="377.3" cy="111.9" r="0.9"/><circle cx="376.0" cy="111.3" r="0.9"/><circle cx="369.6" cy="110.8" r="0.9"/><circle cx="372.9" cy="110.1" r="0.9"/><circle cx="375.3" cy="125.7" r="0.9"/><circle cx="367.2" cy="119.7" r="0.9"/><circle cx="374.7" cy="111.3" r="0.9"/><circle cx="367.1" cy="119.8" r="0.9"/><circle cx="372.7" cy="123.3" r="0.9"/><circle cx="365.8" cy="118.5" r="0.9"/><circle cx="389.0" cy="123.1" r="0.9"/><circle cx="378.4" cy="112.9" r="0.9"/><circle cx="374.0" cy="110.6" r="0.9"/><circle cx="364.6" cy="114.6" r="0.9"/><circle cx="365.2" cy="115.3" r="0.9"/><circle cx="381.0" cy="129.2" r="0.9"/><circle cx="380.3" cy="128.1" r="0.9"/><circle cx="387.9" cy="120.9" r="0.9"/><circle cx="386.6" cy="128.0" r="0.9"/><circle cx="374.8" cy="110.8" r="0.9"/><circle cx="372.9" cy="110.2" r="0.9"/><circle cx="368.5" cy="120.4" r="0.9"/><circle cx="386.4" cy="128.3" r="0.9"/><circle cx="364.6" cy="113.7" r="0.9"/><circle cx="382.3" cy="116.0" r="0.9"/><circle cx="387.7" cy="121.7" r="0.9"/><circle cx="385.0" cy="117.2" r="0.9"/><circle cx="375.5" cy="124.6" r="0.9"/><circle cx="389.1" cy="124.3" r="0.9"/></g>
<path d="M365.00,99.00 C366.08,98.08 369.83,97.42 372.00,97.50 C374.17,97.58 376.50,98.42 378.00,99.50 C379.50,100.58 380.17,102.25 381.00,104.00 C381.83,105.75 382.50,107.83 383.00,110.00 C383.50,112.17 384.67,115.50 384.00,117.00 C383.33,118.50 380.83,119.00 379.00,119.00 C377.17,119.00 374.67,118.00 373.00,117.00 C371.33,116.00 370.08,114.50 369.00,113.00 C367.92,111.50 367.08,109.67 366.50,108.00 C365.92,106.33 365.75,104.50 365.50,103.00 C365.25,101.50 363.92,99.92 365.00,99.00Z" fill="#3b8fd2"/><g fill="#3b8fd2"><circle cx="369.1" cy="97.5" r="0.9"/><circle cx="369.9" cy="113.2" r="0.9"/><circle cx="368.2" cy="97.8" r="0.9"/><circle cx="370.9" cy="114.7" r="0.9"/><circle cx="366.7" cy="108.3" r="0.9"/><circle cx="382.7" cy="110.0" r="0.9"/><circle cx="383.1" cy="112.4" r="0.9"/><circle cx="379.9" cy="103.4" r="0.9"/><circle cx="377.1" cy="118.6" r="0.9"/><circle cx="365.4" cy="105.2" r="0.9"/><circle cx="368.7" cy="98.3" r="0.9"/><circle cx="381.5" cy="105.1" r="0.9"/><circle cx="379.5" cy="102.1" r="0.9"/><circle cx="372.6" cy="116.4" r="0.9"/><circle cx="365.7" cy="101.2" r="0.9"/><circle cx="381.0" cy="117.5" r="0.9"/><circle cx="371.0" cy="98.4" r="0.9"/><circle cx="369.3" cy="98.0" r="0.9"/><circle cx="374.1" cy="117.1" r="0.9"/><circle cx="369.2" cy="97.9" r="0.9"/><circle cx="370.9" cy="115.4" r="0.9"/><circle cx="364.6" cy="101.0" r="0.9"/><circle cx="366.8" cy="108.9" r="0.9"/><circle cx="378.1" cy="118.2" r="0.9"/><circle cx="383.2" cy="111.6" r="0.9"/><circle cx="373.7" cy="117.9" r="0.9"/><circle cx="377.6" cy="117.9" r="0.9"/><circle cx="380.1" cy="102.2" r="0.9"/><circle cx="380.3" cy="102.7" r="0.9"/><circle cx="374.2" cy="117.5" r="0.9"/><circle cx="383.0" cy="114.2" r="0.9"/><circle cx="366.0" cy="105.3" r="0.9"/><circle cx="381.9" cy="109.1" r="0.9"/><circle cx="382.1" cy="107.8" r="0.9"/><circle cx="366.1" cy="102.5" r="0.9"/><circle cx="382.5" cy="118.3" r="0.9"/><circle cx="364.8" cy="98.2" r="0.9"/><circle cx="384.3" cy="114.4" r="0.9"/><circle cx="381.3" cy="118.7" r="0.9"/><circle cx="367.3" cy="109.8" r="0.9"/><circle cx="378.9" cy="100.6" r="0.9"/><circle cx="378.0" cy="118.7" r="0.9"/><circle cx="380.3" cy="103.2" r="0.9"/><circle cx="366.7" cy="107.7" r="0.9"/><circle cx="381.8" cy="107.2" r="0.9"/><circle cx="367.0" cy="99.1" r="0.9"/><circle cx="384.4" cy="117.2" r="0.9"/><circle cx="380.1" cy="103.1" r="0.9"/><circle cx="375.3" cy="118.2" r="0.9"/><circle cx="366.1" cy="98.3" r="0.9"/><circle cx="373.4" cy="98.2" r="0.9"/><circle cx="377.9" cy="100.9" r="0.9"/><circle cx="365.1" cy="105.1" r="0.9"/></g>
<path d="M402.00,136.00 C402.67,134.75 406.00,134.87 408.00,134.50 C410.00,134.13 412.00,133.72 414.00,133.80 C416.00,133.88 418.67,134.13 420.00,135.00 C421.33,135.87 422.33,137.67 422.00,139.00 C421.67,140.33 419.83,142.17 418.00,143.00 C416.17,143.83 413.33,144.17 411.00,144.00 C408.67,143.83 405.50,143.33 404.00,142.00 C402.50,140.67 401.33,137.25 402.00,136.00Z" fill="#fff"/>
<path d="M405.00,136.70 C405.83,135.65 409.48,135.03 411.70,134.70 C413.92,134.37 416.87,134.23 418.30,134.70 C419.73,135.17 420.30,136.57 420.30,137.50 C420.30,138.43 419.60,139.63 418.30,140.30 C417.00,140.97 414.43,141.38 412.50,141.50 C410.57,141.62 407.95,141.80 406.70,141.00 C405.45,140.20 404.17,137.75 405.00,136.70Z" fill="#8dc8ea"/><g fill="#8dc8ea"><circle cx="416.3" cy="141.3" r="0.9"/><circle cx="406.2" cy="139.3" r="0.9"/><circle cx="406.0" cy="137.1" r="0.9"/><circle cx="415.6" cy="140.4" r="0.9"/><circle cx="419.8" cy="137.8" r="0.9"/><circle cx="416.9" cy="140.0" r="0.9"/><circle cx="415.7" cy="135.1" r="0.9"/><circle cx="411.1" cy="134.4" r="0.9"/></g>
<g fill="#2356c2"><circle cx="406.1" cy="141.1" r="0.8"/><circle cx="410.6" cy="142.5" r="0.8"/><circle cx="419.3" cy="129.6" r="0.8"/><circle cx="398.4" cy="148.1" r="0.8"/><circle cx="406.8" cy="133.6" r="0.8"/><circle cx="431.9" cy="139.3" r="0.8"/><circle cx="426.4" cy="139.4" r="0.8"/><circle cx="419.7" cy="131.6" r="0.8"/><circle cx="419.6" cy="148.8" r="0.8"/><circle cx="415.8" cy="145.8" r="0.8"/><circle cx="420.8" cy="129.5" r="0.8"/><circle cx="423.8" cy="142.2" r="0.8"/><circle cx="408.2" cy="128.7" r="0.8"/><circle cx="427.4" cy="139.3" r="0.8"/><circle cx="422.4" cy="149.1" r="0.8"/><circle cx="422.3" cy="150.1" r="0.8"/><circle cx="411.4" cy="147.2" r="0.8"/><circle cx="413.1" cy="150.5" r="0.8"/><circle cx="427.9" cy="130.3" r="0.8"/><circle cx="402.6" cy="133.2" r="0.8"/><circle cx="430.8" cy="138.5" r="0.8"/><circle cx="419.3" cy="135.2" r="0.8"/></g>
<circle cx="365.5" cy="100" r="2.6" fill="#fff" stroke="#1c4c80" stroke-width="1.6"/>
<path d="M498.00,99.50 C498.75,98.68 500.50,97.93 502.00,97.60 C503.50,97.27 505.42,97.35 507.00,97.50 C508.58,97.65 510.50,97.83 511.50,98.50 C512.50,99.17 513.08,100.50 513.00,101.50 C512.92,102.50 512.33,103.83 511.00,104.50 C509.67,105.17 506.83,105.45 505.00,105.50 C503.17,105.55 501.25,105.30 500.00,104.80 C498.75,104.30 497.83,103.38 497.50,102.50 C497.17,101.62 497.25,100.32 498.00,99.50Z" fill="#1a2a80"/><g fill="#1a2a80"><circle cx="512.5" cy="101.3" r="0.9"/><circle cx="498.3" cy="103.9" r="0.9"/><circle cx="497.5" cy="103.2" r="0.9"/><circle cx="507.5" cy="104.8" r="0.9"/><circle cx="504.9" cy="105.9" r="0.9"/><circle cx="503.2" cy="96.9" r="0.9"/><circle cx="512.5" cy="103.4" r="0.9"/><circle cx="502.1" cy="105.5" r="0.9"/><circle cx="501.2" cy="98.1" r="0.9"/><circle cx="504.0" cy="104.7" r="0.9"/><circle cx="507.4" cy="97.3" r="0.9"/><circle cx="500.4" cy="105.5" r="0.9"/><circle cx="498.0" cy="103.4" r="0.9"/><circle cx="511.4" cy="102.7" r="0.9"/><circle cx="497.3" cy="103.0" r="0.9"/><circle cx="502.4" cy="98.2" r="0.9"/><circle cx="504.6" cy="96.9" r="0.9"/><circle cx="510.3" cy="103.7" r="0.9"/><circle cx="512.7" cy="102.8" r="0.9"/><circle cx="512.3" cy="99.0" r="0.9"/><circle cx="509.1" cy="104.9" r="0.9"/><circle cx="497.0" cy="101.2" r="0.9"/><circle cx="508.1" cy="104.5" r="0.9"/><circle cx="498.8" cy="99.1" r="0.9"/><circle cx="505.6" cy="105.1" r="0.9"/><circle cx="507.7" cy="104.7" r="0.9"/><circle cx="506.2" cy="105.8" r="0.9"/><circle cx="500.8" cy="98.6" r="0.9"/><circle cx="509.4" cy="104.6" r="0.9"/><circle cx="498.0" cy="99.3" r="0.9"/><circle cx="501.0" cy="104.9" r="0.9"/><circle cx="505.7" cy="97.2" r="0.9"/></g>
<path d="M430.00,66.00 C431.67,65.17 434.33,64.50 437.00,64.00 C439.67,63.50 443.50,62.50 446.00,63.00 C448.50,63.50 450.50,65.33 452.00,67.00 C453.50,68.67 454.50,70.83 455.00,73.00 C455.50,75.17 455.67,77.83 455.00,80.00 C454.33,82.17 453.00,84.58 451.00,86.00 C449.00,87.42 445.83,88.33 443.00,88.50 C440.17,88.67 436.50,88.08 434.00,87.00 C431.50,85.92 429.33,84.00 428.00,82.00 C426.67,80.00 426.17,77.17 426.00,75.00 C425.83,72.83 426.33,70.50 427.00,69.00 C427.67,67.50 428.33,66.83 430.00,66.00Z" fill="#f6c3cf"/><g fill="#f6c3cf"><circle cx="433.4" cy="65.2" r="0.9"/><circle cx="442.7" cy="63.1" r="0.9"/><circle cx="430.9" cy="65.2" r="0.9"/><circle cx="431.0" cy="65.5" r="0.9"/><circle cx="447.0" cy="63.0" r="0.9"/><circle cx="434.5" cy="86.5" r="0.9"/><circle cx="454.9" cy="80.6" r="0.9"/><circle cx="439.2" cy="87.4" r="0.9"/><circle cx="441.1" cy="64.1" r="0.9"/><circle cx="455.5" cy="75.6" r="0.9"/><circle cx="449.1" cy="65.3" r="0.9"/><circle cx="427.8" cy="82.3" r="0.9"/><circle cx="450.1" cy="65.6" r="0.9"/><circle cx="436.2" cy="88.1" r="0.9"/><circle cx="453.9" cy="82.6" r="0.9"/><circle cx="425.4" cy="75.4" r="0.9"/><circle cx="426.3" cy="73.5" r="0.9"/><circle cx="427.9" cy="80.1" r="0.9"/><circle cx="455.0" cy="72.1" r="0.9"/><circle cx="449.0" cy="86.8" r="0.9"/><circle cx="431.6" cy="64.9" r="0.9"/><circle cx="455.7" cy="73.4" r="0.9"/><circle cx="439.3" cy="87.3" r="0.9"/><circle cx="432.7" cy="66.0" r="0.9"/><circle cx="431.8" cy="86.3" r="0.9"/><circle cx="448.1" cy="64.9" r="0.9"/><circle cx="453.2" cy="82.3" r="0.9"/><circle cx="452.7" cy="68.0" r="0.9"/><circle cx="431.9" cy="66.4" r="0.9"/><circle cx="440.7" cy="87.7" r="0.9"/><circle cx="440.9" cy="64.0" r="0.9"/><circle cx="452.9" cy="81.7" r="0.9"/><circle cx="453.4" cy="82.5" r="0.9"/><circle cx="441.9" cy="62.9" r="0.9"/><circle cx="454.6" cy="80.5" r="0.9"/><circle cx="432.5" cy="65.8" r="0.9"/><circle cx="446.6" cy="62.6" r="0.9"/><circle cx="426.6" cy="79.0" r="0.9"/><circle cx="448.8" cy="65.3" r="0.9"/><circle cx="450.5" cy="65.6" r="0.9"/><circle cx="453.7" cy="81.9" r="0.9"/><circle cx="433.8" cy="86.5" r="0.9"/><circle cx="439.8" cy="87.2" r="0.9"/><circle cx="427.3" cy="69.5" r="0.9"/><circle cx="428.7" cy="81.5" r="0.9"/><circle cx="435.0" cy="64.5" r="0.9"/><circle cx="436.3" cy="86.9" r="0.9"/><circle cx="455.8" cy="75.1" r="0.9"/><circle cx="427.3" cy="68.6" r="0.9"/><circle cx="438.1" cy="63.8" r="0.9"/><circle cx="434.5" cy="65.4" r="0.9"/><circle cx="427.6" cy="68.6" r="0.9"/><circle cx="425.7" cy="76.9" r="0.9"/><circle cx="433.8" cy="86.8" r="0.9"/><circle cx="455.5" cy="79.2" r="0.9"/><circle cx="450.4" cy="65.6" r="0.9"/><circle cx="428.9" cy="82.7" r="0.9"/><circle cx="454.0" cy="72.5" r="0.9"/><circle cx="438.4" cy="87.9" r="0.9"/><circle cx="436.6" cy="86.7" r="0.9"/><circle cx="438.7" cy="64.6" r="0.9"/><circle cx="433.1" cy="86.9" r="0.9"/><circle cx="425.4" cy="75.0" r="0.9"/><circle cx="427.4" cy="81.8" r="0.9"/><circle cx="426.4" cy="72.3" r="0.9"/><circle cx="445.2" cy="88.2" r="0.9"/><circle cx="429.3" cy="66.4" r="0.9"/><circle cx="442.9" cy="63.5" r="0.9"/><circle cx="443.7" cy="89.1" r="0.9"/><circle cx="431.3" cy="84.2" r="0.9"/><circle cx="450.7" cy="86.0" r="0.9"/><circle cx="429.3" cy="67.2" r="0.9"/></g>
<path d="M427.00,50.00 C428.33,48.75 431.83,47.83 434.00,47.50 C436.17,47.17 438.33,47.42 440.00,48.00 C441.67,48.58 443.08,49.50 444.00,51.00 C444.92,52.50 444.50,54.83 445.50,57.00 C446.50,59.17 449.25,62.00 450.00,64.00 C450.75,66.00 451.00,68.00 450.00,69.00 C449.00,70.00 446.33,70.00 444.00,70.00 C441.67,70.00 438.33,69.33 436.00,69.00 C433.67,68.67 431.50,69.17 430.00,68.00 C428.50,66.83 427.67,64.17 427.00,62.00 C426.33,59.83 426.00,57.00 426.00,55.00 C426.00,53.00 425.67,51.25 427.00,50.00Z" fill="#f2a9bd"/><g fill="#f2a9bd"><circle cx="431.6" cy="47.5" r="0.9"/><circle cx="445.2" cy="54.6" r="0.9"/><circle cx="450.4" cy="67.2" r="0.9"/><circle cx="426.9" cy="59.7" r="0.9"/><circle cx="444.3" cy="70.0" r="0.9"/><circle cx="442.8" cy="49.4" r="0.9"/><circle cx="444.7" cy="55.1" r="0.9"/><circle cx="440.8" cy="48.6" r="0.9"/><circle cx="429.3" cy="48.5" r="0.9"/><circle cx="438.3" cy="69.4" r="0.9"/><circle cx="430.2" cy="67.8" r="0.9"/><circle cx="444.4" cy="55.2" r="0.9"/><circle cx="447.4" cy="70.1" r="0.9"/><circle cx="440.7" cy="48.9" r="0.9"/><circle cx="450.4" cy="62.6" r="0.9"/><circle cx="450.0" cy="63.8" r="0.9"/><circle cx="448.6" cy="69.3" r="0.9"/><circle cx="445.8" cy="56.7" r="0.9"/><circle cx="441.2" cy="49.2" r="0.9"/><circle cx="450.1" cy="68.9" r="0.9"/><circle cx="446.8" cy="69.2" r="0.9"/><circle cx="426.7" cy="60.1" r="0.9"/><circle cx="425.6" cy="53.8" r="0.9"/><circle cx="449.2" cy="68.3" r="0.9"/><circle cx="449.9" cy="69.6" r="0.9"/><circle cx="447.4" cy="59.2" r="0.9"/><circle cx="426.9" cy="53.8" r="0.9"/><circle cx="427.2" cy="63.4" r="0.9"/><circle cx="426.4" cy="57.9" r="0.9"/><circle cx="428.1" cy="50.5" r="0.9"/><circle cx="426.2" cy="52.4" r="0.9"/><circle cx="434.5" cy="69.0" r="0.9"/><circle cx="437.9" cy="48.3" r="0.9"/><circle cx="444.7" cy="51.2" r="0.9"/><circle cx="442.0" cy="69.3" r="0.9"/><circle cx="425.6" cy="53.8" r="0.9"/><circle cx="447.1" cy="69.6" r="0.9"/><circle cx="447.8" cy="61.2" r="0.9"/><circle cx="438.4" cy="69.8" r="0.9"/><circle cx="434.0" cy="68.1" r="0.9"/><circle cx="427.0" cy="61.0" r="0.9"/><circle cx="447.3" cy="69.8" r="0.9"/><circle cx="450.7" cy="67.0" r="0.9"/><circle cx="426.8" cy="58.3" r="0.9"/><circle cx="433.9" cy="47.9" r="0.9"/><circle cx="436.8" cy="68.4" r="0.9"/><circle cx="434.3" cy="46.9" r="0.9"/><circle cx="444.3" cy="54.7" r="0.9"/><circle cx="446.0" cy="69.0" r="0.9"/><circle cx="444.9" cy="55.0" r="0.9"/><circle cx="448.4" cy="62.2" r="0.9"/><circle cx="445.0" cy="52.6" r="0.9"/><circle cx="435.4" cy="69.1" r="0.9"/><circle cx="449.7" cy="64.5" r="0.9"/><circle cx="446.9" cy="59.4" r="0.9"/><circle cx="431.3" cy="48.4" r="0.9"/><circle cx="431.1" cy="47.7" r="0.9"/><circle cx="449.5" cy="69.9" r="0.9"/><circle cx="438.3" cy="48.3" r="0.9"/><circle cx="444.0" cy="51.4" r="0.9"/><circle cx="435.1" cy="48.2" r="0.9"/><circle cx="426.9" cy="56.0" r="0.9"/><circle cx="436.9" cy="68.8" r="0.9"/><circle cx="444.2" cy="50.7" r="0.9"/></g>
<path d="M400.00,55.00 C401.17,53.42 405.00,53.08 408.00,52.50 C411.00,51.92 414.67,51.58 418.00,51.50 C421.33,51.42 425.67,51.25 428.00,52.00 C430.33,52.75 431.33,54.00 432.00,56.00 C432.67,58.00 432.67,61.67 432.00,64.00 C431.33,66.33 430.00,68.50 428.00,70.00 C426.00,71.50 422.67,72.67 420.00,73.00 C417.33,73.33 414.50,72.83 412.00,72.00 C409.50,71.17 406.83,69.67 405.00,68.00 C403.17,66.33 401.83,64.17 401.00,62.00 C400.17,59.83 398.83,56.58 400.00,55.00Z" fill="#e58aa6"/><g fill="#e58aa6"><circle cx="410.9" cy="71.1" r="0.9"/><circle cx="417.3" cy="52.3" r="0.9"/><circle cx="432.6" cy="58.9" r="0.9"/><circle cx="429.0" cy="67.7" r="0.9"/><circle cx="424.2" cy="71.7" r="0.9"/><circle cx="403.2" cy="65.2" r="0.9"/><circle cx="432.3" cy="63.3" r="0.9"/><circle cx="402.7" cy="53.6" r="0.9"/><circle cx="432.6" cy="63.2" r="0.9"/><circle cx="404.5" cy="54.4" r="0.9"/><circle cx="409.4" cy="70.6" r="0.9"/><circle cx="415.9" cy="51.2" r="0.9"/><circle cx="410.4" cy="52.7" r="0.9"/><circle cx="417.8" cy="51.3" r="0.9"/><circle cx="420.0" cy="72.5" r="0.9"/><circle cx="404.5" cy="65.6" r="0.9"/><circle cx="429.0" cy="53.2" r="0.9"/><circle cx="431.9" cy="56.0" r="0.9"/><circle cx="429.1" cy="53.8" r="0.9"/><circle cx="429.4" cy="54.4" r="0.9"/><circle cx="424.9" cy="71.6" r="0.9"/><circle cx="400.2" cy="58.4" r="0.9"/><circle cx="409.6" cy="51.9" r="0.9"/><circle cx="404.0" cy="66.8" r="0.9"/><circle cx="426.5" cy="52.6" r="0.9"/><circle cx="410.5" cy="52.3" r="0.9"/><circle cx="410.7" cy="51.4" r="0.9"/><circle cx="429.8" cy="53.5" r="0.9"/><circle cx="423.5" cy="70.8" r="0.9"/><circle cx="426.9" cy="69.4" r="0.9"/><circle cx="405.4" cy="54.1" r="0.9"/><circle cx="430.3" cy="64.9" r="0.9"/><circle cx="418.2" cy="72.2" r="0.9"/><circle cx="431.3" cy="63.2" r="0.9"/><circle cx="411.3" cy="72.1" r="0.9"/><circle cx="420.5" cy="51.6" r="0.9"/><circle cx="423.6" cy="71.3" r="0.9"/><circle cx="422.5" cy="72.0" r="0.9"/><circle cx="401.5" cy="55.2" r="0.9"/><circle cx="420.7" cy="73.3" r="0.9"/><circle cx="416.7" cy="72.4" r="0.9"/><circle cx="403.4" cy="65.4" r="0.9"/><circle cx="430.5" cy="54.6" r="0.9"/><circle cx="424.4" cy="71.8" r="0.9"/><circle cx="431.8" cy="61.6" r="0.9"/><circle cx="422.5" cy="51.9" r="0.9"/><circle cx="426.1" cy="52.5" r="0.9"/><circle cx="400.9" cy="59.9" r="0.9"/><circle cx="407.2" cy="69.2" r="0.9"/><circle cx="431.3" cy="63.1" r="0.9"/><circle cx="428.8" cy="69.3" r="0.9"/><circle cx="400.7" cy="57.1" r="0.9"/><circle cx="420.4" cy="51.9" r="0.9"/><circle cx="421.3" cy="71.8" r="0.9"/><circle cx="417.6" cy="51.5" r="0.9"/><circle cx="416.3" cy="73.0" r="0.9"/><circle cx="424.6" cy="52.6" r="0.9"/><circle cx="412.8" cy="51.9" r="0.9"/><circle cx="401.5" cy="54.9" r="0.9"/><circle cx="431.4" cy="57.0" r="0.9"/><circle cx="404.3" cy="53.5" r="0.9"/><circle cx="417.4" cy="72.4" r="0.9"/><circle cx="428.0" cy="69.9" r="0.9"/><circle cx="423.0" cy="52.0" r="0.9"/><circle cx="432.3" cy="58.1" r="0.9"/><circle cx="401.4" cy="61.6" r="0.9"/><circle cx="404.6" cy="67.7" r="0.9"/><circle cx="415.9" cy="72.5" r="0.9"/><circle cx="429.8" cy="54.1" r="0.9"/><circle cx="430.0" cy="67.7" r="0.9"/><circle cx="428.2" cy="52.8" r="0.9"/><circle cx="414.2" cy="52.3" r="0.9"/><circle cx="431.6" cy="56.4" r="0.9"/></g>
<path d="M374.00,57.00 C374.33,55.33 375.33,53.17 377.00,52.00 C378.67,50.83 381.33,50.42 384.00,50.00 C386.67,49.58 390.17,49.33 393.00,49.50 C395.83,49.67 398.83,50.08 401.00,51.00 C403.17,51.92 404.83,53.50 406.00,55.00 C407.17,56.50 408.00,58.33 408.00,60.00 C408.00,61.67 407.33,63.67 406.00,65.00 C404.67,66.33 402.00,67.17 400.00,68.00 C398.00,68.83 396.00,69.33 394.00,70.00 C392.00,70.67 390.00,71.83 388.00,72.00 C386.00,72.17 383.67,71.83 382.00,71.00 C380.33,70.17 379.17,68.50 378.00,67.00 C376.83,65.50 375.67,63.67 375.00,62.00 C374.33,60.33 373.67,58.67 374.00,57.00Z" fill="#f5003a"/><g fill="#f5003a"><circle cx="379.7" cy="51.5" r="0.9"/><circle cx="390.4" cy="49.8" r="0.9"/><circle cx="381.3" cy="70.5" r="0.9"/><circle cx="385.2" cy="70.9" r="0.9"/><circle cx="376.5" cy="65.6" r="0.9"/><circle cx="373.9" cy="57.4" r="0.9"/><circle cx="403.6" cy="53.9" r="0.9"/><circle cx="396.8" cy="50.5" r="0.9"/><circle cx="393.5" cy="48.9" r="0.9"/><circle cx="380.3" cy="69.6" r="0.9"/><circle cx="408.2" cy="60.2" r="0.9"/><circle cx="398.1" cy="68.5" r="0.9"/><circle cx="406.5" cy="56.7" r="0.9"/><circle cx="374.5" cy="62.2" r="0.9"/><circle cx="376.5" cy="52.9" r="0.9"/><circle cx="383.5" cy="70.9" r="0.9"/><circle cx="394.1" cy="50.2" r="0.9"/><circle cx="406.1" cy="62.4" r="0.9"/><circle cx="406.6" cy="56.0" r="0.9"/><circle cx="408.2" cy="61.5" r="0.9"/><circle cx="375.7" cy="62.1" r="0.9"/><circle cx="374.6" cy="58.5" r="0.9"/><circle cx="401.6" cy="67.7" r="0.9"/><circle cx="404.7" cy="53.3" r="0.9"/><circle cx="375.6" cy="55.3" r="0.9"/><circle cx="374.7" cy="57.1" r="0.9"/><circle cx="378.0" cy="66.6" r="0.9"/><circle cx="390.4" cy="49.9" r="0.9"/><circle cx="403.4" cy="65.5" r="0.9"/><circle cx="375.3" cy="60.0" r="0.9"/><circle cx="405.7" cy="63.7" r="0.9"/><circle cx="404.8" cy="66.2" r="0.9"/><circle cx="381.4" cy="51.2" r="0.9"/><circle cx="407.1" cy="56.5" r="0.9"/><circle cx="404.5" cy="64.7" r="0.9"/><circle cx="375.5" cy="63.5" r="0.9"/><circle cx="403.1" cy="52.2" r="0.9"/><circle cx="376.8" cy="66.0" r="0.9"/><circle cx="386.5" cy="49.2" r="0.9"/><circle cx="393.0" cy="70.8" r="0.9"/><circle cx="396.3" cy="69.8" r="0.9"/><circle cx="380.7" cy="50.9" r="0.9"/><circle cx="396.7" cy="69.1" r="0.9"/><circle cx="380.6" cy="50.7" r="0.9"/><circle cx="402.9" cy="66.8" r="0.9"/><circle cx="375.8" cy="63.3" r="0.9"/><circle cx="391.1" cy="71.2" r="0.9"/><circle cx="392.4" cy="69.9" r="0.9"/><circle cx="399.8" cy="50.0" r="0.9"/><circle cx="401.8" cy="52.8" r="0.9"/><circle cx="407.5" cy="57.9" r="0.9"/><circle cx="408.1" cy="58.9" r="0.9"/><circle cx="375.9" cy="65.0" r="0.9"/><circle cx="382.3" cy="70.8" r="0.9"/><circle cx="376.1" cy="64.0" r="0.9"/><circle cx="396.8" cy="69.0" r="0.9"/><circle cx="406.8" cy="56.5" r="0.9"/><circle cx="408.0" cy="57.9" r="0.9"/><circle cx="395.6" cy="49.2" r="0.9"/><circle cx="406.8" cy="62.5" r="0.9"/><circle cx="407.3" cy="58.5" r="0.9"/><circle cx="404.6" cy="65.4" r="0.9"/><circle cx="378.1" cy="68.4" r="0.9"/><circle cx="382.5" cy="50.2" r="0.9"/><circle cx="373.8" cy="57.3" r="0.9"/><circle cx="386.9" cy="71.2" r="0.9"/><circle cx="377.6" cy="66.4" r="0.9"/><circle cx="381.2" cy="50.1" r="0.9"/><circle cx="393.9" cy="50.4" r="0.9"/><circle cx="375.0" cy="63.5" r="0.9"/><circle cx="376.5" cy="64.8" r="0.9"/><circle cx="389.9" cy="49.3" r="0.9"/><circle cx="405.5" cy="65.2" r="0.9"/><circle cx="401.1" cy="51.5" r="0.9"/></g>
<path d="M383.00,74.00 C385.00,72.58 388.83,71.50 392.00,70.50 C395.17,69.50 398.67,68.67 402.00,68.00 C405.33,67.33 408.83,66.67 412.00,66.50 C415.17,66.33 419.33,66.08 421.00,67.00 C422.67,67.92 423.00,70.50 422.00,72.00 C421.00,73.50 417.33,74.67 415.00,76.00 C412.67,77.33 410.17,78.58 408.00,80.00 C405.83,81.42 404.33,83.33 402.00,84.50 C399.67,85.67 396.50,86.25 394.00,87.00 C391.50,87.75 389.00,88.08 387.00,89.00 C385.00,89.92 383.50,91.75 382.00,92.50 C380.50,93.25 378.50,94.58 378.00,93.50 C377.50,92.42 378.67,88.42 379.00,86.00 C379.33,83.58 379.33,81.00 380.00,79.00 C380.67,77.00 381.00,75.42 383.00,74.00Z" fill="#d00a1e"/><g fill="#d00a1e"><circle cx="420.4" cy="72.7" r="0.9"/><circle cx="397.3" cy="68.9" r="0.9"/><circle cx="390.3" cy="88.7" r="0.9"/><circle cx="390.0" cy="71.3" r="0.9"/><circle cx="382.6" cy="76.1" r="0.9"/><circle cx="398.9" cy="68.3" r="0.9"/><circle cx="408.5" cy="66.6" r="0.9"/><circle cx="421.5" cy="71.4" r="0.9"/><circle cx="377.6" cy="92.0" r="0.9"/><circle cx="386.4" cy="89.7" r="0.9"/><circle cx="404.4" cy="82.5" r="0.9"/><circle cx="379.3" cy="84.2" r="0.9"/><circle cx="379.7" cy="78.5" r="0.9"/><circle cx="380.2" cy="82.0" r="0.9"/><circle cx="377.9" cy="90.2" r="0.9"/><circle cx="411.1" cy="79.5" r="0.9"/><circle cx="421.7" cy="72.2" r="0.9"/><circle cx="420.3" cy="73.8" r="0.9"/><circle cx="381.7" cy="91.7" r="0.9"/><circle cx="380.0" cy="79.7" r="0.9"/><circle cx="390.9" cy="88.5" r="0.9"/><circle cx="399.5" cy="85.6" r="0.9"/><circle cx="386.9" cy="89.9" r="0.9"/><circle cx="422.2" cy="70.7" r="0.9"/><circle cx="386.2" cy="89.5" r="0.9"/><circle cx="422.2" cy="70.8" r="0.9"/><circle cx="402.3" cy="68.3" r="0.9"/><circle cx="401.0" cy="68.4" r="0.9"/><circle cx="400.8" cy="68.9" r="0.9"/><circle cx="394.9" cy="70.6" r="0.9"/><circle cx="415.5" cy="66.5" r="0.9"/><circle cx="380.4" cy="81.4" r="0.9"/><circle cx="406.0" cy="67.3" r="0.9"/><circle cx="380.2" cy="93.2" r="0.9"/><circle cx="421.9" cy="73.1" r="0.9"/><circle cx="379.3" cy="87.6" r="0.9"/><circle cx="410.4" cy="66.7" r="0.9"/><circle cx="379.1" cy="86.0" r="0.9"/><circle cx="385.2" cy="73.1" r="0.9"/><circle cx="385.8" cy="90.1" r="0.9"/><circle cx="416.8" cy="75.8" r="0.9"/><circle cx="421.7" cy="68.9" r="0.9"/><circle cx="393.9" cy="87.3" r="0.9"/><circle cx="401.1" cy="68.8" r="0.9"/><circle cx="402.6" cy="67.9" r="0.9"/><circle cx="412.3" cy="77.7" r="0.9"/><circle cx="400.5" cy="67.7" r="0.9"/><circle cx="414.7" cy="75.8" r="0.9"/><circle cx="409.6" cy="78.1" r="0.9"/><circle cx="422.6" cy="71.8" r="0.9"/><circle cx="399.7" cy="85.5" r="0.9"/><circle cx="392.1" cy="70.9" r="0.9"/><circle cx="420.4" cy="72.8" r="0.9"/><circle cx="421.9" cy="69.8" r="0.9"/><circle cx="415.4" cy="67.0" r="0.9"/><circle cx="415.2" cy="77.0" r="0.9"/><circle cx="383.0" cy="75.1" r="0.9"/><circle cx="386.2" cy="90.0" r="0.9"/><circle cx="388.7" cy="71.4" r="0.9"/><circle cx="394.1" cy="87.1" r="0.9"/><circle cx="379.1" cy="93.2" r="0.9"/><circle cx="379.1" cy="83.4" r="0.9"/><circle cx="410.4" cy="78.6" r="0.9"/><circle cx="405.7" cy="81.4" r="0.9"/><circle cx="379.6" cy="83.7" r="0.9"/><circle cx="394.4" cy="69.3" r="0.9"/><circle cx="404.7" cy="68.0" r="0.9"/><circle cx="397.8" cy="85.2" r="0.9"/><circle cx="379.2" cy="85.4" r="0.9"/><circle cx="378.9" cy="81.3" r="0.9"/><circle cx="422.1" cy="72.0" r="0.9"/><circle cx="410.1" cy="67.1" r="0.9"/><circle cx="381.5" cy="76.4" r="0.9"/><circle cx="403.7" cy="82.4" r="0.9"/><circle cx="383.2" cy="92.0" r="0.9"/><circle cx="420.7" cy="67.8" r="0.9"/><circle cx="410.2" cy="67.1" r="0.9"/><circle cx="381.7" cy="75.8" r="0.9"/><circle cx="384.0" cy="90.6" r="0.9"/><circle cx="387.6" cy="89.3" r="0.9"/><circle cx="398.7" cy="68.8" r="0.9"/><circle cx="404.6" cy="68.3" r="0.9"/><circle cx="411.7" cy="78.8" r="0.9"/><circle cx="387.4" cy="89.4" r="0.9"/><circle cx="382.6" cy="75.4" r="0.9"/><circle cx="391.1" cy="86.9" r="0.9"/><circle cx="421.8" cy="67.8" r="0.9"/><circle cx="380.6" cy="79.8" r="0.9"/><circle cx="408.4" cy="80.2" r="0.9"/><circle cx="384.7" cy="74.1" r="0.9"/><circle cx="408.7" cy="80.1" r="0.9"/><circle cx="417.1" cy="75.2" r="0.9"/><circle cx="379.6" cy="82.3" r="0.9"/><circle cx="379.5" cy="83.9" r="0.9"/><circle cx="407.9" cy="80.1" r="0.9"/></g>
<path d="M363.50,77.00 C364.25,75.75 367.00,75.08 369.00,74.50 C371.00,73.92 373.92,73.33 375.50,73.50 C377.08,73.67 378.33,74.08 378.50,75.50 C378.67,76.92 377.08,79.75 376.50,82.00 C375.92,84.25 375.58,86.92 375.00,89.00 C374.42,91.08 373.92,93.67 373.00,94.50 C372.08,95.33 370.50,95.08 369.50,94.00 C368.50,92.92 367.83,90.00 367.00,88.00 C366.17,86.00 365.08,83.83 364.50,82.00 C363.92,80.17 362.75,78.25 363.50,77.00Z" fill="#800f25"/><g fill="#800f25"><circle cx="376.4" cy="84.0" r="0.9"/><circle cx="375.8" cy="87.1" r="0.9"/><circle cx="363.8" cy="77.7" r="0.9"/><circle cx="367.9" cy="92.0" r="0.9"/><circle cx="369.2" cy="94.8" r="0.9"/><circle cx="378.5" cy="76.9" r="0.9"/><circle cx="378.4" cy="76.1" r="0.9"/><circle cx="377.0" cy="78.6" r="0.9"/><circle cx="365.6" cy="85.7" r="0.9"/><circle cx="375.1" cy="90.3" r="0.9"/><circle cx="374.5" cy="89.7" r="0.9"/><circle cx="369.7" cy="93.4" r="0.9"/><circle cx="377.5" cy="77.4" r="0.9"/><circle cx="375.0" cy="73.1" r="0.9"/><circle cx="375.6" cy="88.5" r="0.9"/><circle cx="377.1" cy="80.3" r="0.9"/><circle cx="374.4" cy="88.4" r="0.9"/><circle cx="376.9" cy="74.4" r="0.9"/><circle cx="368.0" cy="75.4" r="0.9"/><circle cx="366.5" cy="86.0" r="0.9"/><circle cx="376.2" cy="86.8" r="0.9"/><circle cx="377.0" cy="74.5" r="0.9"/><circle cx="376.0" cy="82.2" r="0.9"/><circle cx="365.1" cy="84.1" r="0.9"/><circle cx="375.4" cy="74.5" r="0.9"/><circle cx="366.8" cy="85.4" r="0.9"/><circle cx="370.7" cy="93.6" r="0.9"/><circle cx="377.7" cy="74.8" r="0.9"/><circle cx="376.5" cy="82.8" r="0.9"/><circle cx="368.3" cy="90.1" r="0.9"/><circle cx="374.0" cy="73.4" r="0.9"/><circle cx="374.3" cy="91.0" r="0.9"/><circle cx="375.7" cy="85.3" r="0.9"/><circle cx="375.3" cy="87.7" r="0.9"/><circle cx="364.0" cy="79.1" r="0.9"/><circle cx="365.5" cy="86.5" r="0.9"/><circle cx="377.6" cy="80.1" r="0.9"/><circle cx="365.0" cy="83.0" r="0.9"/><circle cx="376.0" cy="83.1" r="0.9"/><circle cx="379.0" cy="75.9" r="0.9"/><circle cx="368.2" cy="89.4" r="0.9"/><circle cx="374.8" cy="85.9" r="0.9"/><circle cx="367.9" cy="75.3" r="0.9"/><circle cx="377.0" cy="81.1" r="0.9"/><circle cx="368.6" cy="73.9" r="0.9"/><circle cx="378.0" cy="75.8" r="0.9"/><circle cx="378.2" cy="78.4" r="0.9"/><circle cx="365.6" cy="84.3" r="0.9"/></g>
<path d="M422.00,21.00 C422.50,19.92 423.92,19.50 425.00,19.50 C426.08,19.50 428.00,20.08 428.50,21.00 C429.00,21.92 428.33,23.92 428.00,25.00 C427.67,26.08 427.17,27.00 426.50,27.50 C425.83,28.00 424.75,28.25 424.00,28.00 C423.25,27.75 422.33,27.17 422.00,26.00 C421.67,24.83 421.50,22.08 422.00,21.00Z" fill="#fce6ec"/><g fill="#fce6ec"><circle cx="421.9" cy="21.3" r="0.9"/><circle cx="422.6" cy="25.6" r="0.9"/><circle cx="425.7" cy="20.0" r="0.9"/><circle cx="424.2" cy="28.2" r="0.9"/><circle cx="428.4" cy="21.1" r="0.9"/><circle cx="428.3" cy="21.6" r="0.9"/><circle cx="426.5" cy="27.7" r="0.9"/><circle cx="428.0" cy="21.7" r="0.9"/><circle cx="422.3" cy="22.5" r="0.9"/><circle cx="426.9" cy="25.3" r="0.9"/><circle cx="427.2" cy="27.9" r="0.9"/><circle cx="423.4" cy="19.3" r="0.9"/><circle cx="425.8" cy="19.9" r="0.9"/><circle cx="421.8" cy="25.1" r="0.9"/><circle cx="422.8" cy="23.6" r="0.9"/><circle cx="422.6" cy="20.1" r="0.9"/><circle cx="424.9" cy="27.4" r="0.9"/><circle cx="425.8" cy="20.6" r="0.9"/><circle cx="421.3" cy="20.7" r="0.9"/><circle cx="422.9" cy="20.5" r="0.9"/></g>
<g fill="#d00a1e"><circle cx="416.4" cy="62.5" r="0.8"/><circle cx="424.9" cy="58.5" r="0.8"/><circle cx="411.7" cy="64.8" r="0.8"/><circle cx="416.1" cy="59.1" r="0.8"/><circle cx="413.9" cy="58.6" r="0.8"/><circle cx="407.5" cy="63.7" r="0.8"/><circle cx="427.1" cy="64.7" r="0.8"/><circle cx="420.1" cy="58.7" r="0.8"/><circle cx="414.7" cy="55.5" r="0.8"/><circle cx="422.7" cy="58.0" r="0.8"/><circle cx="410.9" cy="69.7" r="0.8"/><circle cx="419.7" cy="65.9" r="0.8"/><circle cx="420.0" cy="56.0" r="0.8"/><circle cx="422.2" cy="57.4" r="0.8"/></g>
<g fill="#e58aa6"><circle cx="438.2" cy="66.4" r="0.8"/><circle cx="435.8" cy="60.1" r="0.8"/><circle cx="431.6" cy="67.4" r="0.8"/><circle cx="430.7" cy="59.6" r="0.8"/><circle cx="439.4" cy="64.4" r="0.8"/><circle cx="435.5" cy="61.4" r="0.8"/><circle cx="431.5" cy="55.4" r="0.8"/><circle cx="429.7" cy="60.7" r="0.8"/><circle cx="440.4" cy="61.9" r="0.8"/><circle cx="435.5" cy="59.4" r="0.8"/></g>
<g fill="#f2a9bd"><circle cx="439.8" cy="74.1" r="0.8"/><circle cx="450.0" cy="76.8" r="0.8"/><circle cx="431.9" cy="80.5" r="0.8"/><circle cx="431.7" cy="72.8" r="0.8"/><circle cx="431.6" cy="78.8" r="0.8"/><circle cx="448.5" cy="78.6" r="0.8"/><circle cx="434.9" cy="81.8" r="0.8"/><circle cx="449.2" cy="74.6" r="0.8"/></g>
<g fill="#fbd0dc"><circle cx="391.4" cy="62.5" r="0.8"/><circle cx="389.7" cy="66.8" r="0.8"/><circle cx="396.9" cy="65.1" r="0.8"/><circle cx="399.3" cy="56.0" r="0.8"/><circle cx="399.7" cy="62.8" r="0.8"/><circle cx="383.5" cy="65.9" r="0.8"/></g>
<path d="M386.00,70.50 C386.50,69.42 389.33,67.83 391.00,67.50 C392.67,67.17 394.83,67.83 396.00,68.50 C397.17,69.17 398.33,70.58 398.00,71.50 C397.67,72.42 395.67,73.58 394.00,74.00 C392.33,74.42 389.33,74.58 388.00,74.00 C386.67,73.42 385.50,71.58 386.00,70.50Z" fill="#fff"/>
<g fill="#fff"><circle cx="384" cy="74" r="1"/><circle cx="399" cy="73" r="0.9"/><circle cx="392" cy="76" r="0.8"/></g>
<g fill="#ee7099"><circle cx="425.5" cy="29" r="0.9"/><circle cx="426.2" cy="31" r="1"/><circle cx="426.3" cy="32.8" r="1"/></g>
<g fill="#e0102a"><circle cx="381" cy="101" r="0.9"/><circle cx="383.5" cy="106" r="0.9"/><circle cx="378" cy="96" r="0.9"/></g>
<text x="431.7" y="29.22" font-size="7" font-weight="bold" fill="#f9d6df" stroke="#f9d6df" stroke-width="0.12">PVALB-Unc5b</text>
<text x="391.7" y="47.52" font-size="7" font-weight="bold" fill="#e8829f" stroke="#e8829f" stroke-width="0.12">PVALB-Reln</text>
<text x="445.8" y="56.32" font-size="7" font-weight="bold" fill="#f4a6bb" stroke="#f4a6bb" stroke-width="0.12">PVALB-Rorb</text>
<text x="330.8" y="57.52" font-size="7" font-weight="bold" fill="#f2003a" stroke="#f2003a" stroke-width="0.12">PVALB-Fzd6</text>
<text x="453.7" y="88.12" font-size="7" font-weight="bold" fill="#f8cdd7" stroke="#f8cdd7" stroke-width="0.12">PVALB-Col25a1</text>
<text x="326.8" y="84.02" font-size="7" font-weight="bold" fill="#8b1a2b" stroke="#8b1a2b" stroke-width="0.12">PVALB-Th</text>
<text x="385.8" y="93.52" font-size="7" font-weight="bold" fill="#d0021b" stroke="#d0021b" stroke-width="0.12">PVALB-Slc39a8</text>
<text x="336" y="100.22" font-size="7" font-weight="bold" fill="#1f4e79" stroke="#1f4e79" stroke-width="0.12">SST-Th</text>
<text x="330.8" y="110.52" font-size="7" font-weight="bold" fill="#2b8ccf" stroke="#2b8ccf" stroke-width="0.12">SST-Crh-2</text>
<text x="426" y="101.52" font-size="7" font-weight="bold" fill="#d8eaf7" stroke="#d8eaf7" stroke-width="0.12">SST-Mme</text>
<text x="487" y="113.52" font-size="7" font-weight="bold" fill="#283593" stroke="#283593" stroke-width="0.12">SST-Chodl</text>
<text x="332" y="127.32" font-size="7" font-weight="bold" fill="#5a9bd0" stroke="#5a9bd0" stroke-width="0.12">SST-Crh-1</text>
<text x="385" y="119.52" font-size="7" font-weight="bold" fill="#1f55b8" stroke="#1f55b8" stroke-width="0.12">SST-Nmbr-2</text>
<text x="456" y="126.12" font-size="7" font-weight="bold" fill="#c5e3f5" stroke="#c5e3f5" stroke-width="0.12">SST-Calb2</text>
<text x="453.7" y="135.52" font-size="7" font-weight="bold" fill="#b5dcef" stroke="#b5dcef" stroke-width="0.12">SST-Hpse</text>
<text x="340.6" y="143.02" font-size="7" font-weight="bold" fill="#5a7fa8" stroke="#5a7fa8" stroke-width="0.12">SST-Nmbr-1</text>
<text x="446" y="145.02" font-size="7" font-weight="bold" fill="#8fc5e0" stroke="#8fc5e0" stroke-width="0.12">SST-Syndig1l</text>
<text x="359.5" y="156.12" font-size="7" font-weight="bold" fill="#8cc8e8" stroke="#8cc8e8" stroke-width="0.12">SST-Etv1</text>
<text x="395" y="174.52" font-size="7" font-weight="bold" fill="#1aa3d9" stroke="#1aa3d9" stroke-width="0.12">SST-Chrna2</text>
<line x1="390.8" y1="151" x2="413" y2="140" stroke="#555" stroke-width="0.4"/>
<line x1="437.5" y1="132.5" x2="451" y2="132.8" stroke="#555" stroke-width="0.4"/>
<path d="M578.00,60.00 C578.50,57.83 579.50,56.33 581.00,55.00 C582.50,53.67 584.67,52.58 587.00,52.00 C589.33,51.42 591.83,51.47 595.00,51.50 C598.17,51.53 602.92,51.70 606.00,52.20 C609.08,52.70 611.00,54.50 613.50,54.50 C616.00,54.50 618.42,52.88 621.00,52.20 C623.58,51.52 625.42,50.65 629.00,50.40 C632.58,50.15 639.00,49.63 642.50,50.70 C646.00,51.77 647.97,54.25 650.00,56.80 C652.03,59.35 653.65,62.97 654.70,66.00 C655.75,69.03 656.55,71.95 656.30,75.00 C656.05,78.05 654.98,81.88 653.20,84.30 C651.42,86.72 648.63,88.22 645.60,89.50 C642.57,90.78 637.68,92.35 635.00,92.00 C632.32,91.65 630.28,89.40 629.50,87.40 C628.72,85.40 631.22,81.73 630.30,80.00 C629.38,78.27 626.05,77.25 624.00,77.00 C621.95,76.75 620.00,77.28 618.00,78.50 C616.00,79.72 613.77,82.38 612.00,84.30 C610.23,86.22 608.73,89.72 607.40,90.00 C606.07,90.28 604.77,87.67 604.00,86.00 C603.23,84.33 603.47,81.67 602.80,80.00 C602.13,78.33 601.13,77.50 600.00,76.00 C598.87,74.50 597.33,72.33 596.00,71.00 C594.67,69.67 593.33,68.17 592.00,68.00 C590.67,67.83 588.92,68.33 588.00,70.00 C587.08,71.67 586.83,75.00 586.50,78.00 C586.17,81.00 586.25,84.83 586.00,88.00 C585.75,91.17 585.50,94.33 585.00,97.00 C584.50,99.67 583.83,103.33 583.00,104.00 C582.17,104.67 580.67,103.00 580.00,101.00 C579.33,99.00 579.17,95.50 579.00,92.00 C578.83,88.50 579.17,84.00 579.00,80.00 C578.83,76.00 578.17,71.33 578.00,68.00 C577.83,64.67 577.50,62.17 578.00,60.00Z" fill="#8c1f26"/><g fill="#8c1f26"><circle cx="615.2" cy="54.4" r="0.9"/><circle cx="591.6" cy="68.3" r="0.9"/><circle cx="585.5" cy="92.3" r="0.9"/><circle cx="633.3" cy="91.9" r="0.9"/><circle cx="578.3" cy="74.7" r="0.9"/><circle cx="585.7" cy="83.4" r="0.9"/><circle cx="626.8" cy="51.0" r="0.9"/><circle cx="577.7" cy="71.1" r="0.9"/><circle cx="617.5" cy="80.1" r="0.9"/><circle cx="619.5" cy="52.1" r="0.9"/><circle cx="578.7" cy="59.1" r="0.9"/><circle cx="614.2" cy="82.3" r="0.9"/><circle cx="578.6" cy="84.3" r="0.9"/><circle cx="603.8" cy="81.4" r="0.9"/><circle cx="617.9" cy="79.5" r="0.9"/><circle cx="588.7" cy="69.9" r="0.9"/><circle cx="651.7" cy="60.0" r="0.9"/><circle cx="656.7" cy="74.0" r="0.9"/><circle cx="630.1" cy="86.0" r="0.9"/><circle cx="579.2" cy="90.6" r="0.9"/><circle cx="582.2" cy="102.9" r="0.9"/><circle cx="586.2" cy="83.6" r="0.9"/><circle cx="610.8" cy="85.4" r="0.9"/><circle cx="579.3" cy="99.6" r="0.9"/><circle cx="590.5" cy="67.7" r="0.9"/><circle cx="608.7" cy="87.6" r="0.9"/><circle cx="604.7" cy="86.9" r="0.9"/><circle cx="614.0" cy="81.4" r="0.9"/><circle cx="606.2" cy="52.5" r="0.9"/><circle cx="587.4" cy="70.3" r="0.9"/><circle cx="578.7" cy="78.3" r="0.9"/><circle cx="605.2" cy="87.0" r="0.9"/><circle cx="619.6" cy="77.6" r="0.9"/><circle cx="586.1" cy="91.9" r="0.9"/><circle cx="629.3" cy="49.8" r="0.9"/><circle cx="614.0" cy="53.8" r="0.9"/><circle cx="594.1" cy="51.4" r="0.9"/><circle cx="620.5" cy="77.6" r="0.9"/><circle cx="634.0" cy="91.7" r="0.9"/><circle cx="643.7" cy="51.6" r="0.9"/><circle cx="646.4" cy="89.6" r="0.9"/><circle cx="577.8" cy="65.1" r="0.9"/><circle cx="589.4" cy="69.8" r="0.9"/><circle cx="650.5" cy="85.5" r="0.9"/><circle cx="654.2" cy="64.4" r="0.9"/><circle cx="615.8" cy="79.4" r="0.9"/><circle cx="596.8" cy="51.9" r="0.9"/><circle cx="604.4" cy="85.7" r="0.9"/><circle cx="656.0" cy="76.6" r="0.9"/><circle cx="587.0" cy="73.5" r="0.9"/><circle cx="581.8" cy="54.5" r="0.9"/><circle cx="584.9" cy="93.8" r="0.9"/><circle cx="578.8" cy="59.5" r="0.9"/><circle cx="628.7" cy="79.3" r="0.9"/><circle cx="635.9" cy="91.1" r="0.9"/><circle cx="582.6" cy="103.1" r="0.9"/><circle cx="604.1" cy="84.9" r="0.9"/><circle cx="611.2" cy="84.9" r="0.9"/><circle cx="653.6" cy="62.8" r="0.9"/><circle cx="636.6" cy="50.5" r="0.9"/><circle cx="591.1" cy="68.1" r="0.9"/><circle cx="587.6" cy="51.2" r="0.9"/><circle cx="617.0" cy="52.6" r="0.9"/><circle cx="603.3" cy="85.6" r="0.9"/><circle cx="577.6" cy="70.0" r="0.9"/><circle cx="610.6" cy="86.1" r="0.9"/><circle cx="586.8" cy="75.7" r="0.9"/><circle cx="604.5" cy="52.6" r="0.9"/><circle cx="607.9" cy="53.0" r="0.9"/><circle cx="578.7" cy="84.5" r="0.9"/><circle cx="585.8" cy="86.5" r="0.9"/><circle cx="580.1" cy="56.6" r="0.9"/><circle cx="609.9" cy="52.6" r="0.9"/><circle cx="629.6" cy="86.6" r="0.9"/><circle cx="588.6" cy="52.5" r="0.9"/><circle cx="609.6" cy="86.3" r="0.9"/><circle cx="578.6" cy="70.8" r="0.9"/><circle cx="585.9" cy="52.2" r="0.9"/><circle cx="577.2" cy="63.4" r="0.9"/><circle cx="578.6" cy="93.6" r="0.9"/><circle cx="654.3" cy="64.4" r="0.9"/><circle cx="578.4" cy="78.0" r="0.9"/><circle cx="656.6" cy="74.4" r="0.9"/><circle cx="579.2" cy="77.7" r="0.9"/><circle cx="654.3" cy="66.0" r="0.9"/><circle cx="599.2" cy="75.5" r="0.9"/><circle cx="581.0" cy="55.6" r="0.9"/><circle cx="587.3" cy="76.0" r="0.9"/><circle cx="620.8" cy="77.2" r="0.9"/><circle cx="630.0" cy="81.5" r="0.9"/><circle cx="628.1" cy="50.1" r="0.9"/><circle cx="634.8" cy="51.2" r="0.9"/><circle cx="578.2" cy="73.7" r="0.9"/><circle cx="648.1" cy="54.3" r="0.9"/><circle cx="599.4" cy="75.8" r="0.9"/><circle cx="621.9" cy="51.8" r="0.9"/><circle cx="586.2" cy="85.4" r="0.9"/><circle cx="581.8" cy="54.1" r="0.9"/><circle cx="630.9" cy="81.7" r="0.9"/><circle cx="656.1" cy="77.1" r="0.9"/><circle cx="611.7" cy="85.2" r="0.9"/><circle cx="651.3" cy="59.3" r="0.9"/><circle cx="579.4" cy="82.7" r="0.9"/><circle cx="586.3" cy="85.2" r="0.9"/><circle cx="629.5" cy="80.7" r="0.9"/><circle cx="595.6" cy="51.8" r="0.9"/><circle cx="584.3" cy="100.8" r="0.9"/><circle cx="578.3" cy="75.1" r="0.9"/><circle cx="609.0" cy="88.2" r="0.9"/><circle cx="579.3" cy="90.9" r="0.9"/><circle cx="580.2" cy="99.0" r="0.9"/><circle cx="577.8" cy="65.2" r="0.9"/><circle cx="578.9" cy="70.4" r="0.9"/><circle cx="586.8" cy="78.3" r="0.9"/><circle cx="585.8" cy="92.5" r="0.9"/><circle cx="629.2" cy="87.2" r="0.9"/><circle cx="617.9" cy="78.4" r="0.9"/><circle cx="596.7" cy="70.6" r="0.9"/><circle cx="600.1" cy="52.1" r="0.9"/><circle cx="603.6" cy="83.6" r="0.9"/><circle cx="590.8" cy="69.0" r="0.9"/><circle cx="650.5" cy="86.1" r="0.9"/><circle cx="615.9" cy="81.5" r="0.9"/><circle cx="586.8" cy="78.1" r="0.9"/><circle cx="577.3" cy="69.6" r="0.9"/><circle cx="635.6" cy="91.6" r="0.9"/><circle cx="629.5" cy="50.6" r="0.9"/><circle cx="624.4" cy="77.0" r="0.9"/><circle cx="631.9" cy="50.3" r="0.9"/><circle cx="582.0" cy="53.8" r="0.9"/><circle cx="603.8" cy="82.0" r="0.9"/><circle cx="577.8" cy="72.6" r="0.9"/><circle cx="585.9" cy="82.6" r="0.9"/><circle cx="622.4" cy="51.9" r="0.9"/><circle cx="651.2" cy="85.9" r="0.9"/><circle cx="596.8" cy="72.8" r="0.9"/><circle cx="585.3" cy="87.0" r="0.9"/><circle cx="580.9" cy="54.8" r="0.9"/><circle cx="580.3" cy="55.3" r="0.9"/><circle cx="647.8" cy="54.4" r="0.9"/><circle cx="606.1" cy="88.1" r="0.9"/><circle cx="655.2" cy="80.3" r="0.9"/><circle cx="650.0" cy="57.8" r="0.9"/><circle cx="651.4" cy="85.4" r="0.9"/><circle cx="603.7" cy="82.8" r="0.9"/><circle cx="598.0" cy="73.6" r="0.9"/><circle cx="578.0" cy="65.7" r="0.9"/><circle cx="654.4" cy="78.3" r="0.9"/><circle cx="625.4" cy="77.3" r="0.9"/><circle cx="618.8" cy="53.0" r="0.9"/><circle cx="624.6" cy="77.6" r="0.9"/><circle cx="586.9" cy="80.2" r="0.9"/><circle cx="579.5" cy="85.0" r="0.9"/><circle cx="656.9" cy="76.2" r="0.9"/><circle cx="585.6" cy="97.0" r="0.9"/><circle cx="613.0" cy="84.0" r="0.9"/><circle cx="651.4" cy="59.9" r="0.9"/><circle cx="646.8" cy="54.4" r="0.9"/><circle cx="637.7" cy="90.9" r="0.9"/><circle cx="641.5" cy="50.6" r="0.9"/><circle cx="614.0" cy="53.8" r="0.9"/><circle cx="603.7" cy="82.9" r="0.9"/><circle cx="577.7" cy="60.9" r="0.9"/><circle cx="653.0" cy="62.6" r="0.9"/><circle cx="611.9" cy="84.6" r="0.9"/><circle cx="604.2" cy="86.1" r="0.9"/><circle cx="650.6" cy="58.6" r="0.9"/><circle cx="590.9" cy="69.3" r="0.9"/><circle cx="577.7" cy="61.9" r="0.9"/><circle cx="577.9" cy="60.9" r="0.9"/><circle cx="579.0" cy="96.5" r="0.9"/><circle cx="631.2" cy="88.5" r="0.9"/><circle cx="589.6" cy="69.2" r="0.9"/><circle cx="602.8" cy="81.6" r="0.9"/><circle cx="656.0" cy="71.8" r="0.9"/><circle cx="612.3" cy="84.2" r="0.9"/><circle cx="587.8" cy="52.6" r="0.9"/><circle cx="594.5" cy="51.7" r="0.9"/><circle cx="586.1" cy="75.5" r="0.9"/><circle cx="619.4" cy="77.5" r="0.9"/><circle cx="585.4" cy="86.9" r="0.9"/><circle cx="585.9" cy="92.5" r="0.9"/><circle cx="652.0" cy="59.6" r="0.9"/><circle cx="585.9" cy="78.3" r="0.9"/><circle cx="585.6" cy="82.0" r="0.9"/><circle cx="578.3" cy="71.5" r="0.9"/><circle cx="586.7" cy="81.8" r="0.9"/><circle cx="589.9" cy="52.2" r="0.9"/><circle cx="629.8" cy="86.7" r="0.9"/><circle cx="638.8" cy="50.5" r="0.9"/><circle cx="614.1" cy="81.2" r="0.9"/><circle cx="650.6" cy="86.1" r="0.9"/><circle cx="620.2" cy="52.7" r="0.9"/><circle cx="653.6" cy="65.4" r="0.9"/><circle cx="590.9" cy="52.5" r="0.9"/><circle cx="584.2" cy="101.1" r="0.9"/><circle cx="605.3" cy="87.6" r="0.9"/><circle cx="602.9" cy="52.7" r="0.9"/><circle cx="611.1" cy="84.4" r="0.9"/><circle cx="655.5" cy="74.7" r="0.9"/><circle cx="609.6" cy="88.4" r="0.9"/><circle cx="655.2" cy="66.7" r="0.9"/><circle cx="615.5" cy="80.8" r="0.9"/><circle cx="617.8" cy="79.2" r="0.9"/><circle cx="606.5" cy="52.8" r="0.9"/><circle cx="588.7" cy="69.8" r="0.9"/><circle cx="586.7" cy="85.2" r="0.9"/><circle cx="587.3" cy="73.5" r="0.9"/><circle cx="584.7" cy="92.4" r="0.9"/><circle cx="613.4" cy="83.3" r="0.9"/><circle cx="652.9" cy="62.1" r="0.9"/><circle cx="582.2" cy="103.8" r="0.9"/><circle cx="587.0" cy="74.2" r="0.9"/><circle cx="577.4" cy="70.5" r="0.9"/><circle cx="618.4" cy="52.9" r="0.9"/><circle cx="642.5" cy="90.5" r="0.9"/><circle cx="596.6" cy="72.4" r="0.9"/><circle cx="628.0" cy="50.8" r="0.9"/><circle cx="577.5" cy="63.2" r="0.9"/><circle cx="625.6" cy="77.4" r="0.9"/><circle cx="608.1" cy="89.9" r="0.9"/><circle cx="627.5" cy="77.9" r="0.9"/><circle cx="656.3" cy="76.1" r="0.9"/><circle cx="585.4" cy="52.9" r="0.9"/><circle cx="579.1" cy="86.0" r="0.9"/><circle cx="599.9" cy="76.2" r="0.9"/><circle cx="628.7" cy="51.1" r="0.9"/><circle cx="581.9" cy="102.8" r="0.9"/><circle cx="584.3" cy="100.7" r="0.9"/><circle cx="581.8" cy="102.8" r="0.9"/><circle cx="579.5" cy="83.5" r="0.9"/><circle cx="602.4" cy="82.1" r="0.9"/><circle cx="584.5" cy="99.4" r="0.9"/><circle cx="595.1" cy="70.9" r="0.9"/><circle cx="577.5" cy="70.6" r="0.9"/><circle cx="584.7" cy="94.4" r="0.9"/></g>
<path d="M567.50,78.00 C568.42,76.58 571.25,75.67 573.00,75.50 C574.75,75.33 577.08,75.75 578.00,77.00 C578.92,78.25 578.83,81.00 578.50,83.00 C578.17,85.00 577.00,87.33 576.00,89.00 C575.00,90.67 573.58,92.75 572.50,93.00 C571.42,93.25 570.33,92.00 569.50,90.50 C568.67,89.00 567.83,86.08 567.50,84.00 C567.17,81.92 566.58,79.42 567.50,78.00Z" fill="#5a1628"/><g fill="#5a1628"><circle cx="573.6" cy="91.9" r="0.9"/><circle cx="567.4" cy="81.7" r="0.9"/><circle cx="576.2" cy="76.2" r="0.9"/><circle cx="570.0" cy="92.1" r="0.9"/><circle cx="569.9" cy="76.0" r="0.9"/><circle cx="568.6" cy="88.3" r="0.9"/><circle cx="578.5" cy="80.5" r="0.9"/><circle cx="576.2" cy="76.2" r="0.9"/><circle cx="572.6" cy="76.2" r="0.9"/><circle cx="572.1" cy="92.0" r="0.9"/><circle cx="578.3" cy="82.9" r="0.9"/><circle cx="570.5" cy="92.0" r="0.9"/><circle cx="575.3" cy="88.8" r="0.9"/><circle cx="569.3" cy="91.1" r="0.9"/><circle cx="573.2" cy="75.3" r="0.9"/><circle cx="569.7" cy="77.0" r="0.9"/><circle cx="569.2" cy="90.4" r="0.9"/><circle cx="576.8" cy="87.7" r="0.9"/><circle cx="578.8" cy="80.3" r="0.9"/><circle cx="570.0" cy="90.9" r="0.9"/><circle cx="568.6" cy="78.1" r="0.9"/><circle cx="568.0" cy="83.1" r="0.9"/><circle cx="570.5" cy="91.4" r="0.9"/><circle cx="568.0" cy="86.8" r="0.9"/><circle cx="568.9" cy="88.0" r="0.9"/><circle cx="577.9" cy="85.3" r="0.9"/><circle cx="568.1" cy="79.7" r="0.9"/><circle cx="570.4" cy="77.0" r="0.9"/><circle cx="577.7" cy="81.4" r="0.9"/><circle cx="567.4" cy="86.6" r="0.9"/><circle cx="577.5" cy="76.6" r="0.9"/><circle cx="568.1" cy="78.6" r="0.9"/><circle cx="571.7" cy="76.8" r="0.9"/><circle cx="568.2" cy="78.3" r="0.9"/><circle cx="577.2" cy="86.9" r="0.9"/><circle cx="577.3" cy="77.2" r="0.9"/><circle cx="575.1" cy="89.9" r="0.9"/><circle cx="567.2" cy="81.2" r="0.9"/></g>
<path d="M572.00,97.00 C573.00,95.42 575.17,94.67 577.00,94.50 C578.83,94.33 581.50,94.58 583.00,96.00 C584.50,97.42 585.17,100.50 586.00,103.00 C586.83,105.50 587.33,108.33 588.00,111.00 C588.67,113.67 590.00,116.75 590.00,119.00 C590.00,121.25 589.50,123.50 588.00,124.50 C586.50,125.50 583.33,125.50 581.00,125.00 C578.67,124.50 575.67,123.33 574.00,121.50 C572.33,119.67 571.50,116.92 571.00,114.00 C570.50,111.08 570.83,106.83 571.00,104.00 C571.17,101.17 571.00,98.58 572.00,97.00Z" fill="#8a7222"/><g fill="#8a7222"><circle cx="583.3" cy="95.8" r="0.9"/><circle cx="573.6" cy="119.8" r="0.9"/><circle cx="579.6" cy="123.5" r="0.9"/><circle cx="586.6" cy="124.6" r="0.9"/><circle cx="571.4" cy="106.6" r="0.9"/><circle cx="585.1" cy="102.7" r="0.9"/><circle cx="574.4" cy="121.5" r="0.9"/><circle cx="587.8" cy="123.8" r="0.9"/><circle cx="583.2" cy="96.3" r="0.9"/><circle cx="575.2" cy="121.7" r="0.9"/><circle cx="588.2" cy="110.6" r="0.9"/><circle cx="572.2" cy="117.1" r="0.9"/><circle cx="570.5" cy="104.0" r="0.9"/><circle cx="581.8" cy="124.8" r="0.9"/><circle cx="584.0" cy="125.0" r="0.9"/><circle cx="571.5" cy="106.2" r="0.9"/><circle cx="589.8" cy="121.3" r="0.9"/><circle cx="579.5" cy="124.2" r="0.9"/><circle cx="589.4" cy="115.3" r="0.9"/><circle cx="571.2" cy="103.9" r="0.9"/><circle cx="571.7" cy="98.9" r="0.9"/><circle cx="572.0" cy="101.5" r="0.9"/><circle cx="577.9" cy="95.2" r="0.9"/><circle cx="588.5" cy="115.0" r="0.9"/><circle cx="570.8" cy="101.8" r="0.9"/><circle cx="575.7" cy="122.4" r="0.9"/><circle cx="582.9" cy="95.5" r="0.9"/><circle cx="577.8" cy="94.2" r="0.9"/><circle cx="580.4" cy="95.4" r="0.9"/><circle cx="588.0" cy="109.3" r="0.9"/><circle cx="585.6" cy="103.1" r="0.9"/><circle cx="572.0" cy="117.6" r="0.9"/><circle cx="571.5" cy="112.7" r="0.9"/><circle cx="571.2" cy="109.3" r="0.9"/><circle cx="578.4" cy="95.4" r="0.9"/><circle cx="589.6" cy="115.8" r="0.9"/><circle cx="571.0" cy="102.7" r="0.9"/><circle cx="586.3" cy="106.3" r="0.9"/><circle cx="574.4" cy="121.1" r="0.9"/><circle cx="571.8" cy="100.2" r="0.9"/><circle cx="570.6" cy="110.7" r="0.9"/><circle cx="573.5" cy="118.1" r="0.9"/><circle cx="585.1" cy="98.8" r="0.9"/><circle cx="589.8" cy="119.9" r="0.9"/><circle cx="571.7" cy="106.5" r="0.9"/><circle cx="582.9" cy="95.7" r="0.9"/><circle cx="585.6" cy="103.1" r="0.9"/><circle cx="581.8" cy="125.0" r="0.9"/><circle cx="571.1" cy="103.8" r="0.9"/><circle cx="577.3" cy="95.0" r="0.9"/><circle cx="570.8" cy="100.3" r="0.9"/><circle cx="584.4" cy="124.7" r="0.9"/><circle cx="587.4" cy="106.4" r="0.9"/><circle cx="574.5" cy="120.9" r="0.9"/><circle cx="578.2" cy="94.1" r="0.9"/><circle cx="572.5" cy="116.6" r="0.9"/><circle cx="582.6" cy="96.1" r="0.9"/><circle cx="571.3" cy="99.4" r="0.9"/><circle cx="582.0" cy="95.8" r="0.9"/><circle cx="589.1" cy="112.2" r="0.9"/><circle cx="588.3" cy="121.8" r="0.9"/><circle cx="573.9" cy="121.5" r="0.9"/><circle cx="573.3" cy="120.8" r="0.9"/><circle cx="575.1" cy="120.9" r="0.9"/><circle cx="590.4" cy="120.5" r="0.9"/><circle cx="571.9" cy="98.6" r="0.9"/><circle cx="576.0" cy="95.5" r="0.9"/><circle cx="588.9" cy="115.1" r="0.9"/></g>
<path d="M566.50,98.00 C567.00,97.13 568.00,96.13 569.00,95.80 C570.00,95.47 571.67,95.38 572.50,96.00 C573.33,96.62 574.08,98.33 574.00,99.50 C573.92,100.67 573.00,102.42 572.00,103.00 C571.00,103.58 569.00,103.33 568.00,103.00 C567.00,102.67 566.25,101.83 566.00,101.00 C565.75,100.17 566.00,98.87 566.50,98.00Z" fill="#a8801e"/><g fill="#a8801e"><circle cx="566.3" cy="98.9" r="0.9"/><circle cx="568.2" cy="102.3" r="0.9"/><circle cx="571.3" cy="102.8" r="0.9"/><circle cx="566.7" cy="100.1" r="0.9"/><circle cx="567.6" cy="97.2" r="0.9"/><circle cx="566.5" cy="97.0" r="0.9"/><circle cx="568.9" cy="95.4" r="0.9"/><circle cx="574.1" cy="99.3" r="0.9"/><circle cx="574.3" cy="99.2" r="0.9"/><circle cx="566.5" cy="101.6" r="0.9"/><circle cx="572.9" cy="102.8" r="0.9"/><circle cx="573.1" cy="100.0" r="0.9"/><circle cx="571.7" cy="96.5" r="0.9"/><circle cx="566.1" cy="100.9" r="0.9"/><circle cx="572.6" cy="95.8" r="0.9"/><circle cx="573.5" cy="98.6" r="0.9"/><circle cx="565.5" cy="100.5" r="0.9"/><circle cx="568.8" cy="103.0" r="0.9"/><circle cx="567.3" cy="98.2" r="0.9"/><circle cx="568.1" cy="102.5" r="0.9"/></g>
<path d="M586.00,116.00 C587.42,114.67 591.00,114.42 594.00,114.00 C597.00,113.58 600.83,113.33 604.00,113.50 C607.17,113.67 610.33,114.25 613.00,115.00 C615.67,115.75 618.17,116.50 620.00,118.00 C621.83,119.50 623.67,121.83 624.00,124.00 C624.33,126.17 623.67,129.33 622.00,131.00 C620.33,132.67 616.33,132.83 614.00,134.00 C611.67,135.17 609.33,136.50 608.00,138.00 C606.67,139.50 607.33,141.67 606.00,143.00 C604.67,144.33 602.17,145.83 600.00,146.00 C597.83,146.17 594.83,145.33 593.00,144.00 C591.17,142.67 590.00,140.33 589.00,138.00 C588.00,135.67 587.58,132.67 587.00,130.00 C586.42,127.33 585.67,124.33 585.50,122.00 C585.33,119.67 584.58,117.33 586.00,116.00Z" fill="#b06a22"/><g fill="#b06a22"><circle cx="586.2" cy="120.9" r="0.9"/><circle cx="611.4" cy="115.1" r="0.9"/><circle cx="588.1" cy="137.2" r="0.9"/><circle cx="586.0" cy="128.1" r="0.9"/><circle cx="621.7" cy="120.8" r="0.9"/><circle cx="607.4" cy="138.8" r="0.9"/><circle cx="605.9" cy="143.0" r="0.9"/><circle cx="618.5" cy="131.9" r="0.9"/><circle cx="606.3" cy="113.2" r="0.9"/><circle cx="607.4" cy="141.3" r="0.9"/><circle cx="614.2" cy="116.2" r="0.9"/><circle cx="623.5" cy="121.7" r="0.9"/><circle cx="587.2" cy="134.2" r="0.9"/><circle cx="589.0" cy="138.0" r="0.9"/><circle cx="587.0" cy="125.3" r="0.9"/><circle cx="611.9" cy="134.7" r="0.9"/><circle cx="601.8" cy="113.8" r="0.9"/><circle cx="594.8" cy="113.1" r="0.9"/><circle cx="588.3" cy="136.2" r="0.9"/><circle cx="606.1" cy="143.3" r="0.9"/><circle cx="610.3" cy="136.8" r="0.9"/><circle cx="620.8" cy="118.7" r="0.9"/><circle cx="588.1" cy="132.5" r="0.9"/><circle cx="613.0" cy="135.1" r="0.9"/><circle cx="606.9" cy="139.5" r="0.9"/><circle cx="608.4" cy="114.2" r="0.9"/><circle cx="596.5" cy="114.0" r="0.9"/><circle cx="588.9" cy="136.7" r="0.9"/><circle cx="609.3" cy="137.8" r="0.9"/><circle cx="587.1" cy="133.9" r="0.9"/><circle cx="609.3" cy="114.2" r="0.9"/><circle cx="605.4" cy="113.4" r="0.9"/><circle cx="611.6" cy="115.3" r="0.9"/><circle cx="594.8" cy="113.2" r="0.9"/><circle cx="613.8" cy="134.0" r="0.9"/><circle cx="612.3" cy="114.9" r="0.9"/><circle cx="594.6" cy="114.1" r="0.9"/><circle cx="623.3" cy="127.6" r="0.9"/><circle cx="615.3" cy="133.0" r="0.9"/><circle cx="624.1" cy="125.4" r="0.9"/><circle cx="617.4" cy="116.0" r="0.9"/><circle cx="623.6" cy="123.4" r="0.9"/><circle cx="618.4" cy="132.1" r="0.9"/><circle cx="621.4" cy="130.1" r="0.9"/><circle cx="586.1" cy="128.8" r="0.9"/><circle cx="605.3" cy="113.3" r="0.9"/><circle cx="599.4" cy="145.0" r="0.9"/><circle cx="620.9" cy="131.7" r="0.9"/><circle cx="615.8" cy="133.7" r="0.9"/><circle cx="587.8" cy="135.3" r="0.9"/><circle cx="620.8" cy="119.5" r="0.9"/><circle cx="622.9" cy="130.6" r="0.9"/><circle cx="585.8" cy="120.0" r="0.9"/><circle cx="607.8" cy="137.9" r="0.9"/><circle cx="602.7" cy="113.3" r="0.9"/><circle cx="586.2" cy="127.5" r="0.9"/><circle cx="614.2" cy="115.8" r="0.9"/><circle cx="592.8" cy="143.0" r="0.9"/><circle cx="612.1" cy="115.7" r="0.9"/><circle cx="600.7" cy="112.9" r="0.9"/><circle cx="617.9" cy="116.5" r="0.9"/><circle cx="594.4" cy="113.7" r="0.9"/><circle cx="587.1" cy="116.6" r="0.9"/><circle cx="609.7" cy="136.2" r="0.9"/><circle cx="606.0" cy="141.9" r="0.9"/><circle cx="593.2" cy="144.5" r="0.9"/><circle cx="585.6" cy="122.4" r="0.9"/><circle cx="599.2" cy="114.0" r="0.9"/><circle cx="585.8" cy="124.0" r="0.9"/><circle cx="586.6" cy="127.5" r="0.9"/><circle cx="619.7" cy="132.0" r="0.9"/><circle cx="587.9" cy="136.3" r="0.9"/><circle cx="587.0" cy="127.8" r="0.9"/><circle cx="624.1" cy="126.7" r="0.9"/><circle cx="588.7" cy="136.6" r="0.9"/><circle cx="600.1" cy="112.9" r="0.9"/><circle cx="592.0" cy="115.2" r="0.9"/><circle cx="608.3" cy="138.9" r="0.9"/><circle cx="585.2" cy="122.3" r="0.9"/><circle cx="585.7" cy="124.9" r="0.9"/><circle cx="622.1" cy="128.3" r="0.9"/><circle cx="622.6" cy="123.7" r="0.9"/><circle cx="622.7" cy="123.1" r="0.9"/><circle cx="587.0" cy="115.8" r="0.9"/><circle cx="595.9" cy="114.7" r="0.9"/><circle cx="590.0" cy="114.4" r="0.9"/><circle cx="606.6" cy="140.7" r="0.9"/><circle cx="624.4" cy="122.9" r="0.9"/><circle cx="611.1" cy="114.1" r="0.9"/><circle cx="606.8" cy="114.0" r="0.9"/><circle cx="594.2" cy="144.6" r="0.9"/><circle cx="585.6" cy="117.3" r="0.9"/><circle cx="607.7" cy="114.2" r="0.9"/><circle cx="615.5" cy="132.8" r="0.9"/><circle cx="611.7" cy="114.3" r="0.9"/></g>
<path d="M616.00,110.00 C617.17,108.50 619.67,107.25 622.00,106.50 C624.33,105.75 627.50,105.50 630.00,105.50 C632.50,105.50 634.50,105.75 637.00,106.50 C639.50,107.25 643.50,108.42 645.00,110.00 C646.50,111.58 647.00,114.17 646.00,116.00 C645.00,117.83 642.00,119.83 639.00,121.00 C636.00,122.17 631.17,123.00 628.00,123.00 C624.83,123.00 622.17,122.25 620.00,121.00 C617.83,119.75 615.67,117.33 615.00,115.50 C614.33,113.67 614.83,111.50 616.00,110.00Z" fill="#e08a1e"/><g fill="#e08a1e"><circle cx="617.4" cy="118.9" r="0.9"/><circle cx="615.0" cy="114.1" r="0.9"/><circle cx="640.1" cy="107.9" r="0.9"/><circle cx="625.6" cy="122.8" r="0.9"/><circle cx="641.3" cy="108.5" r="0.9"/><circle cx="644.3" cy="110.3" r="0.9"/><circle cx="615.0" cy="116.7" r="0.9"/><circle cx="637.6" cy="121.9" r="0.9"/><circle cx="642.3" cy="119.1" r="0.9"/><circle cx="616.2" cy="109.5" r="0.9"/><circle cx="621.2" cy="121.8" r="0.9"/><circle cx="616.4" cy="112.2" r="0.9"/><circle cx="644.8" cy="109.9" r="0.9"/><circle cx="625.7" cy="122.9" r="0.9"/><circle cx="643.5" cy="118.7" r="0.9"/><circle cx="623.8" cy="122.1" r="0.9"/><circle cx="624.6" cy="105.8" r="0.9"/><circle cx="634.8" cy="105.6" r="0.9"/><circle cx="646.0" cy="116.9" r="0.9"/><circle cx="615.7" cy="111.7" r="0.9"/><circle cx="629.2" cy="106.1" r="0.9"/><circle cx="640.0" cy="107.6" r="0.9"/><circle cx="639.6" cy="121.3" r="0.9"/><circle cx="621.3" cy="106.8" r="0.9"/><circle cx="615.3" cy="111.4" r="0.9"/><circle cx="615.2" cy="115.2" r="0.9"/><circle cx="623.4" cy="121.7" r="0.9"/><circle cx="628.6" cy="105.5" r="0.9"/><circle cx="633.4" cy="106.7" r="0.9"/><circle cx="632.7" cy="105.8" r="0.9"/><circle cx="630.9" cy="122.2" r="0.9"/><circle cx="636.0" cy="122.1" r="0.9"/><circle cx="645.4" cy="117.2" r="0.9"/><circle cx="642.1" cy="118.0" r="0.9"/><circle cx="628.2" cy="106.2" r="0.9"/><circle cx="638.7" cy="121.1" r="0.9"/><circle cx="619.7" cy="120.5" r="0.9"/><circle cx="632.7" cy="121.9" r="0.9"/><circle cx="630.0" cy="105.3" r="0.9"/><circle cx="621.3" cy="121.1" r="0.9"/><circle cx="621.4" cy="107.1" r="0.9"/><circle cx="621.3" cy="120.4" r="0.9"/><circle cx="631.3" cy="122.2" r="0.9"/><circle cx="615.5" cy="114.3" r="0.9"/><circle cx="620.1" cy="121.0" r="0.9"/><circle cx="645.7" cy="115.4" r="0.9"/><circle cx="620.7" cy="121.2" r="0.9"/><circle cx="628.9" cy="105.0" r="0.9"/><circle cx="617.5" cy="109.4" r="0.9"/><circle cx="631.8" cy="121.7" r="0.9"/><circle cx="646.1" cy="114.7" r="0.9"/><circle cx="645.0" cy="114.0" r="0.9"/><circle cx="615.9" cy="114.2" r="0.9"/><circle cx="642.1" cy="108.8" r="0.9"/><circle cx="646.4" cy="115.2" r="0.9"/><circle cx="622.9" cy="106.7" r="0.9"/><circle cx="623.0" cy="107.1" r="0.9"/><circle cx="634.4" cy="121.9" r="0.9"/><circle cx="646.2" cy="111.9" r="0.9"/><circle cx="645.2" cy="115.3" r="0.9"/><circle cx="633.3" cy="122.9" r="0.9"/><circle cx="634.9" cy="106.0" r="0.9"/><circle cx="641.4" cy="107.6" r="0.9"/><circle cx="646.8" cy="115.7" r="0.9"/></g>
<path d="M639.00,110.00 C640.58,108.58 643.50,107.17 646.00,106.50 C648.50,105.83 651.83,105.67 654.00,106.00 C656.17,106.33 657.92,107.00 659.00,108.50 C660.08,110.00 660.67,112.75 660.50,115.00 C660.33,117.25 659.25,119.67 658.00,122.00 C656.75,124.33 655.00,127.25 653.00,129.00 C651.00,130.75 648.17,132.33 646.00,132.50 C643.83,132.67 641.50,131.75 640.00,130.00 C638.50,128.25 637.58,124.50 637.00,122.00 C636.42,119.50 636.17,117.00 636.50,115.00 C636.83,113.00 637.42,111.42 639.00,110.00Z" fill="#857526"/><g fill="#857526"><circle cx="642.4" cy="130.0" r="0.9"/><circle cx="637.5" cy="113.4" r="0.9"/><circle cx="638.5" cy="124.1" r="0.9"/><circle cx="637.8" cy="112.0" r="0.9"/><circle cx="646.2" cy="132.9" r="0.9"/><circle cx="659.1" cy="108.6" r="0.9"/><circle cx="659.1" cy="108.3" r="0.9"/><circle cx="660.9" cy="114.2" r="0.9"/><circle cx="657.6" cy="121.4" r="0.9"/><circle cx="645.6" cy="106.9" r="0.9"/><circle cx="658.2" cy="121.9" r="0.9"/><circle cx="655.6" cy="124.7" r="0.9"/><circle cx="649.0" cy="105.9" r="0.9"/><circle cx="660.6" cy="112.1" r="0.9"/><circle cx="648.2" cy="105.7" r="0.9"/><circle cx="638.1" cy="123.4" r="0.9"/><circle cx="637.4" cy="113.2" r="0.9"/><circle cx="659.9" cy="117.0" r="0.9"/><circle cx="654.3" cy="127.3" r="0.9"/><circle cx="637.1" cy="119.1" r="0.9"/><circle cx="650.6" cy="130.5" r="0.9"/><circle cx="643.0" cy="107.7" r="0.9"/><circle cx="641.2" cy="130.9" r="0.9"/><circle cx="653.7" cy="128.2" r="0.9"/><circle cx="637.7" cy="122.1" r="0.9"/><circle cx="655.6" cy="107.4" r="0.9"/><circle cx="646.3" cy="132.4" r="0.9"/><circle cx="660.3" cy="111.1" r="0.9"/><circle cx="646.0" cy="106.4" r="0.9"/><circle cx="658.5" cy="120.1" r="0.9"/><circle cx="658.3" cy="109.6" r="0.9"/><circle cx="655.8" cy="124.1" r="0.9"/><circle cx="648.6" cy="130.2" r="0.9"/><circle cx="644.9" cy="132.4" r="0.9"/><circle cx="636.7" cy="121.9" r="0.9"/><circle cx="638.5" cy="124.8" r="0.9"/><circle cx="638.4" cy="127.3" r="0.9"/><circle cx="651.5" cy="130.0" r="0.9"/><circle cx="658.1" cy="119.4" r="0.9"/><circle cx="654.3" cy="105.6" r="0.9"/><circle cx="639.3" cy="127.9" r="0.9"/><circle cx="649.4" cy="130.9" r="0.9"/><circle cx="643.6" cy="107.6" r="0.9"/><circle cx="636.7" cy="117.9" r="0.9"/><circle cx="636.4" cy="122.5" r="0.9"/><circle cx="659.6" cy="109.9" r="0.9"/><circle cx="636.9" cy="123.1" r="0.9"/><circle cx="653.9" cy="127.1" r="0.9"/><circle cx="645.3" cy="106.9" r="0.9"/><circle cx="653.0" cy="129.2" r="0.9"/><circle cx="641.1" cy="108.4" r="0.9"/><circle cx="650.0" cy="130.5" r="0.9"/><circle cx="644.8" cy="132.0" r="0.9"/><circle cx="654.1" cy="105.7" r="0.9"/><circle cx="656.1" cy="107.6" r="0.9"/><circle cx="649.1" cy="130.4" r="0.9"/><circle cx="660.6" cy="114.6" r="0.9"/><circle cx="643.6" cy="108.9" r="0.9"/><circle cx="645.2" cy="107.5" r="0.9"/><circle cx="659.8" cy="114.4" r="0.9"/><circle cx="648.4" cy="131.0" r="0.9"/><circle cx="654.8" cy="126.4" r="0.9"/><circle cx="637.3" cy="116.1" r="0.9"/><circle cx="652.9" cy="106.1" r="0.9"/><circle cx="637.2" cy="120.7" r="0.9"/><circle cx="647.7" cy="106.1" r="0.9"/></g>
<path d="M626.00,121.00 C627.33,119.75 630.50,118.67 633.00,118.50 C635.50,118.33 638.67,118.92 641.00,120.00 C643.33,121.08 646.00,123.00 647.00,125.00 C648.00,127.00 648.00,130.25 647.00,132.00 C646.00,133.75 643.33,135.00 641.00,135.50 C638.67,136.00 635.33,135.75 633.00,135.00 C630.67,134.25 628.33,132.50 627.00,131.00 C625.67,129.50 625.17,127.67 625.00,126.00 C624.83,124.33 624.67,122.25 626.00,121.00Z" fill="#a39a2e"/><g fill="#a39a2e"><circle cx="641.1" cy="120.7" r="0.9"/><circle cx="636.8" cy="134.9" r="0.9"/><circle cx="635.0" cy="119.1" r="0.9"/><circle cx="641.3" cy="120.5" r="0.9"/><circle cx="624.9" cy="126.4" r="0.9"/><circle cx="637.4" cy="120.0" r="0.9"/><circle cx="631.6" cy="134.3" r="0.9"/><circle cx="630.0" cy="119.4" r="0.9"/><circle cx="634.8" cy="118.5" r="0.9"/><circle cx="647.6" cy="127.8" r="0.9"/><circle cx="639.5" cy="135.1" r="0.9"/><circle cx="643.9" cy="122.6" r="0.9"/><circle cx="632.9" cy="134.9" r="0.9"/><circle cx="643.1" cy="122.2" r="0.9"/><circle cx="640.4" cy="136.1" r="0.9"/><circle cx="629.6" cy="132.5" r="0.9"/><circle cx="635.8" cy="135.1" r="0.9"/><circle cx="629.5" cy="132.3" r="0.9"/><circle cx="645.5" cy="124.1" r="0.9"/><circle cx="642.4" cy="134.5" r="0.9"/><circle cx="632.3" cy="135.0" r="0.9"/><circle cx="624.8" cy="123.2" r="0.9"/><circle cx="631.8" cy="134.4" r="0.9"/><circle cx="641.3" cy="121.0" r="0.9"/><circle cx="636.7" cy="135.9" r="0.9"/><circle cx="625.6" cy="126.6" r="0.9"/><circle cx="626.2" cy="127.1" r="0.9"/><circle cx="646.9" cy="127.8" r="0.9"/><circle cx="626.0" cy="122.2" r="0.9"/><circle cx="630.3" cy="118.6" r="0.9"/><circle cx="634.2" cy="118.7" r="0.9"/><circle cx="644.5" cy="121.8" r="0.9"/><circle cx="632.1" cy="119.7" r="0.9"/><circle cx="645.4" cy="132.7" r="0.9"/><circle cx="646.7" cy="126.0" r="0.9"/><circle cx="626.3" cy="123.0" r="0.9"/><circle cx="635.1" cy="118.1" r="0.9"/><circle cx="632.6" cy="135.2" r="0.9"/><circle cx="636.3" cy="119.6" r="0.9"/><circle cx="647.7" cy="128.9" r="0.9"/><circle cx="637.3" cy="119.8" r="0.9"/><circle cx="641.6" cy="120.0" r="0.9"/><circle cx="627.5" cy="119.9" r="0.9"/><circle cx="628.2" cy="131.2" r="0.9"/><circle cx="646.3" cy="126.8" r="0.9"/><circle cx="640.9" cy="136.2" r="0.9"/><circle cx="639.0" cy="136.0" r="0.9"/><circle cx="642.0" cy="135.0" r="0.9"/><circle cx="625.2" cy="127.6" r="0.9"/><circle cx="639.7" cy="120.0" r="0.9"/><circle cx="624.5" cy="125.2" r="0.9"/><circle cx="639.7" cy="120.1" r="0.9"/></g>
<path d="M625.00,134.00 C626.25,132.58 629.50,131.75 632.00,131.50 C634.50,131.25 637.83,131.58 640.00,132.50 C642.17,133.42 644.33,135.25 645.00,137.00 C645.67,138.75 645.33,141.58 644.00,143.00 C642.67,144.42 639.50,145.17 637.00,145.50 C634.50,145.83 631.08,145.92 629.00,145.00 C626.92,144.08 625.17,141.83 624.50,140.00 C623.83,138.17 623.75,135.42 625.00,134.00Z" fill="#c8702e"/><g fill="#c8702e"><circle cx="632.4" cy="132.1" r="0.9"/><circle cx="644.3" cy="136.2" r="0.9"/><circle cx="628.8" cy="132.0" r="0.9"/><circle cx="625.5" cy="141.2" r="0.9"/><circle cx="625.3" cy="137.4" r="0.9"/><circle cx="642.8" cy="134.2" r="0.9"/><circle cx="637.6" cy="145.6" r="0.9"/><circle cx="628.3" cy="133.5" r="0.9"/><circle cx="644.2" cy="140.4" r="0.9"/><circle cx="625.7" cy="134.1" r="0.9"/><circle cx="629.8" cy="145.8" r="0.9"/><circle cx="624.8" cy="136.3" r="0.9"/><circle cx="624.2" cy="140.2" r="0.9"/><circle cx="624.3" cy="136.9" r="0.9"/><circle cx="637.0" cy="145.9" r="0.9"/><circle cx="635.0" cy="131.9" r="0.9"/><circle cx="626.9" cy="133.9" r="0.9"/><circle cx="625.6" cy="141.8" r="0.9"/><circle cx="633.4" cy="131.8" r="0.9"/><circle cx="624.0" cy="139.7" r="0.9"/><circle cx="629.5" cy="132.9" r="0.9"/><circle cx="632.9" cy="131.5" r="0.9"/><circle cx="645.4" cy="137.9" r="0.9"/><circle cx="643.8" cy="141.9" r="0.9"/><circle cx="644.3" cy="136.3" r="0.9"/><circle cx="641.6" cy="144.3" r="0.9"/><circle cx="644.1" cy="138.3" r="0.9"/><circle cx="641.5" cy="134.5" r="0.9"/><circle cx="624.3" cy="139.8" r="0.9"/><circle cx="637.5" cy="132.1" r="0.9"/><circle cx="630.7" cy="132.1" r="0.9"/><circle cx="629.9" cy="131.8" r="0.9"/><circle cx="624.7" cy="136.6" r="0.9"/><circle cx="644.0" cy="135.7" r="0.9"/><circle cx="637.9" cy="145.7" r="0.9"/><circle cx="636.7" cy="145.5" r="0.9"/><circle cx="644.5" cy="141.6" r="0.9"/><circle cx="630.9" cy="132.1" r="0.9"/><circle cx="630.1" cy="132.7" r="0.9"/><circle cx="634.7" cy="131.8" r="0.9"/><circle cx="637.4" cy="144.8" r="0.9"/><circle cx="639.1" cy="144.3" r="0.9"/><circle cx="644.1" cy="143.4" r="0.9"/><circle cx="630.3" cy="132.2" r="0.9"/><circle cx="625.0" cy="135.3" r="0.9"/><circle cx="643.9" cy="136.7" r="0.9"/><circle cx="640.7" cy="133.0" r="0.9"/></g>
<path d="M609.00,137.50 C609.83,135.92 612.83,135.08 615.00,134.50 C617.17,133.92 620.17,133.42 622.00,134.00 C623.83,134.58 625.67,136.42 626.00,138.00 C626.33,139.58 625.50,142.25 624.00,143.50 C622.50,144.75 619.33,145.42 617.00,145.50 C614.67,145.58 611.33,145.33 610.00,144.00 C608.67,142.67 608.17,139.08 609.00,137.50Z" fill="#e07028"/><g fill="#e07028"><circle cx="621.1" cy="134.1" r="0.9"/><circle cx="613.2" cy="136.1" r="0.9"/><circle cx="623.3" cy="144.2" r="0.9"/><circle cx="625.1" cy="139.9" r="0.9"/><circle cx="616.6" cy="135.0" r="0.9"/><circle cx="623.9" cy="142.8" r="0.9"/><circle cx="616.7" cy="134.8" r="0.9"/><circle cx="620.0" cy="144.8" r="0.9"/><circle cx="609.7" cy="138.3" r="0.9"/><circle cx="625.5" cy="138.6" r="0.9"/><circle cx="611.4" cy="136.5" r="0.9"/><circle cx="625.0" cy="137.8" r="0.9"/><circle cx="609.9" cy="141.9" r="0.9"/><circle cx="624.5" cy="143.1" r="0.9"/><circle cx="618.0" cy="145.0" r="0.9"/><circle cx="622.5" cy="144.7" r="0.9"/><circle cx="613.3" cy="144.7" r="0.9"/><circle cx="613.9" cy="144.5" r="0.9"/><circle cx="625.4" cy="137.3" r="0.9"/><circle cx="619.1" cy="144.9" r="0.9"/><circle cx="622.0" cy="144.4" r="0.9"/><circle cx="617.4" cy="145.2" r="0.9"/><circle cx="612.3" cy="135.3" r="0.9"/><circle cx="614.2" cy="145.4" r="0.9"/><circle cx="609.1" cy="140.2" r="0.9"/><circle cx="615.9" cy="145.8" r="0.9"/><circle cx="625.1" cy="139.9" r="0.9"/><circle cx="615.6" cy="145.4" r="0.9"/><circle cx="609.9" cy="139.0" r="0.9"/><circle cx="611.5" cy="136.3" r="0.9"/><circle cx="625.1" cy="140.8" r="0.9"/><circle cx="617.0" cy="134.6" r="0.9"/><circle cx="614.8" cy="135.0" r="0.9"/><circle cx="610.2" cy="144.9" r="0.9"/><circle cx="613.9" cy="135.2" r="0.9"/><circle cx="612.7" cy="143.7" r="0.9"/><circle cx="619.4" cy="133.5" r="0.9"/><circle cx="617.9" cy="145.0" r="0.9"/></g>
<path d="M603.50,150.00 C604.33,147.92 606.08,145.08 608.00,143.50 C609.92,141.92 612.33,140.92 615.00,140.50 C617.67,140.08 621.50,140.17 624.00,141.00 C626.50,141.83 628.58,143.50 630.00,145.50 C631.42,147.50 632.50,150.42 632.50,153.00 C632.50,155.58 631.75,158.75 630.00,161.00 C628.25,163.25 625.00,165.58 622.00,166.50 C619.00,167.42 614.67,167.25 612.00,166.50 C609.33,165.75 607.50,163.75 606.00,162.00 C604.50,160.25 603.42,158.00 603.00,156.00 C602.58,154.00 602.67,152.08 603.50,150.00Z" fill="#764618"/><g fill="#764618"><circle cx="602.8" cy="156.3" r="0.9"/><circle cx="621.3" cy="140.5" r="0.9"/><circle cx="629.5" cy="160.4" r="0.9"/><circle cx="626.0" cy="143.5" r="0.9"/><circle cx="603.2" cy="157.7" r="0.9"/><circle cx="630.4" cy="159.6" r="0.9"/><circle cx="621.3" cy="166.3" r="0.9"/><circle cx="631.8" cy="158.3" r="0.9"/><circle cx="611.5" cy="166.8" r="0.9"/><circle cx="604.0" cy="151.4" r="0.9"/><circle cx="630.9" cy="149.4" r="0.9"/><circle cx="606.1" cy="161.8" r="0.9"/><circle cx="613.5" cy="141.4" r="0.9"/><circle cx="603.8" cy="153.4" r="0.9"/><circle cx="622.5" cy="140.9" r="0.9"/><circle cx="617.3" cy="140.5" r="0.9"/><circle cx="623.9" cy="165.2" r="0.9"/><circle cx="606.5" cy="146.6" r="0.9"/><circle cx="605.2" cy="160.2" r="0.9"/><circle cx="603.4" cy="150.2" r="0.9"/><circle cx="603.9" cy="152.6" r="0.9"/><circle cx="602.5" cy="153.7" r="0.9"/><circle cx="613.4" cy="141.6" r="0.9"/><circle cx="629.7" cy="161.1" r="0.9"/><circle cx="605.9" cy="145.1" r="0.9"/><circle cx="626.5" cy="162.2" r="0.9"/><circle cx="616.5" cy="139.9" r="0.9"/><circle cx="611.2" cy="141.6" r="0.9"/><circle cx="606.7" cy="161.5" r="0.9"/><circle cx="606.8" cy="144.8" r="0.9"/><circle cx="632.5" cy="153.5" r="0.9"/><circle cx="623.2" cy="165.0" r="0.9"/><circle cx="603.5" cy="151.3" r="0.9"/><circle cx="603.6" cy="156.5" r="0.9"/><circle cx="614.4" cy="166.0" r="0.9"/><circle cx="630.3" cy="147.3" r="0.9"/><circle cx="609.3" cy="142.0" r="0.9"/><circle cx="612.1" cy="141.2" r="0.9"/><circle cx="617.9" cy="166.0" r="0.9"/><circle cx="632.0" cy="155.8" r="0.9"/><circle cx="624.8" cy="163.4" r="0.9"/><circle cx="614.3" cy="141.0" r="0.9"/><circle cx="606.0" cy="162.9" r="0.9"/><circle cx="603.7" cy="158.2" r="0.9"/><circle cx="619.9" cy="141.2" r="0.9"/><circle cx="617.3" cy="140.8" r="0.9"/><circle cx="606.2" cy="161.7" r="0.9"/><circle cx="630.8" cy="149.4" r="0.9"/><circle cx="606.3" cy="161.7" r="0.9"/><circle cx="602.6" cy="153.4" r="0.9"/><circle cx="612.5" cy="166.7" r="0.9"/><circle cx="627.7" cy="162.3" r="0.9"/><circle cx="603.3" cy="152.4" r="0.9"/><circle cx="626.9" cy="143.7" r="0.9"/><circle cx="626.1" cy="163.9" r="0.9"/><circle cx="606.2" cy="146.6" r="0.9"/><circle cx="630.8" cy="160.9" r="0.9"/><circle cx="604.3" cy="157.9" r="0.9"/><circle cx="627.6" cy="162.0" r="0.9"/><circle cx="619.9" cy="140.7" r="0.9"/><circle cx="620.3" cy="167.1" r="0.9"/><circle cx="607.9" cy="164.0" r="0.9"/><circle cx="630.4" cy="146.4" r="0.9"/><circle cx="633.1" cy="154.0" r="0.9"/><circle cx="607.3" cy="164.0" r="0.9"/><circle cx="630.9" cy="148.9" r="0.9"/><circle cx="626.7" cy="144.0" r="0.9"/><circle cx="627.1" cy="163.0" r="0.9"/><circle cx="606.4" cy="144.1" r="0.9"/><circle cx="630.0" cy="144.3" r="0.9"/><circle cx="625.6" cy="141.3" r="0.9"/><circle cx="631.7" cy="158.0" r="0.9"/><circle cx="630.5" cy="147.6" r="0.9"/></g>
<path d="M624.30,21.00 C624.80,20.13 625.88,19.50 627.00,19.30 C628.12,19.10 630.08,19.18 631.00,19.80 C631.92,20.42 632.37,21.72 632.50,23.00 C632.63,24.28 632.47,26.45 631.80,27.50 C631.13,28.55 629.63,29.22 628.50,29.30 C627.37,29.38 625.75,28.80 625.00,28.00 C624.25,27.20 624.12,25.67 624.00,24.50 C623.88,23.33 623.80,21.87 624.30,21.00Z" fill="#d81b3c"/><g fill="#d81b3c"><circle cx="624.0" cy="26.8" r="0.9"/><circle cx="631.7" cy="27.2" r="0.9"/><circle cx="628.4" cy="19.4" r="0.9"/><circle cx="630.9" cy="19.6" r="0.9"/><circle cx="632.0" cy="23.3" r="0.9"/><circle cx="626.9" cy="28.2" r="0.9"/><circle cx="624.3" cy="27.2" r="0.9"/><circle cx="631.0" cy="19.6" r="0.9"/><circle cx="624.5" cy="24.2" r="0.9"/><circle cx="626.8" cy="19.0" r="0.9"/><circle cx="631.6" cy="20.5" r="0.9"/><circle cx="624.0" cy="20.9" r="0.9"/><circle cx="624.8" cy="22.9" r="0.9"/><circle cx="625.6" cy="28.2" r="0.9"/><circle cx="623.6" cy="25.5" r="0.9"/><circle cx="625.6" cy="28.9" r="0.9"/><circle cx="629.6" cy="20.0" r="0.9"/><circle cx="632.2" cy="26.6" r="0.9"/><circle cx="632.0" cy="23.5" r="0.9"/><circle cx="623.5" cy="24.3" r="0.9"/><circle cx="632.7" cy="23.8" r="0.9"/><circle cx="624.3" cy="23.2" r="0.9"/><circle cx="623.6" cy="22.8" r="0.9"/><circle cx="624.5" cy="28.2" r="0.9"/></g>
<path d="M699.00,99.50 C699.92,98.75 702.17,98.28 704.00,98.00 C705.83,97.72 708.08,97.55 710.00,97.80 C711.92,98.05 714.42,98.72 715.50,99.50 C716.58,100.28 717.42,101.58 716.50,102.50 C715.58,103.42 712.42,104.58 710.00,105.00 C707.58,105.42 703.92,105.42 702.00,105.00 C700.08,104.58 699.00,103.42 698.50,102.50 C698.00,101.58 698.08,100.25 699.00,99.50Z" fill="#a8aa22"/><g fill="#a8aa22"><circle cx="716.5" cy="102.8" r="0.9"/><circle cx="708.1" cy="105.4" r="0.9"/><circle cx="705.2" cy="97.9" r="0.9"/><circle cx="715.8" cy="99.7" r="0.9"/><circle cx="716.2" cy="101.8" r="0.9"/><circle cx="712.1" cy="103.9" r="0.9"/><circle cx="716.0" cy="101.8" r="0.9"/><circle cx="708.9" cy="98.1" r="0.9"/><circle cx="712.0" cy="99.0" r="0.9"/><circle cx="712.9" cy="104.6" r="0.9"/><circle cx="701.2" cy="99.0" r="0.9"/><circle cx="715.6" cy="103.1" r="0.9"/><circle cx="709.4" cy="105.0" r="0.9"/><circle cx="706.1" cy="97.4" r="0.9"/><circle cx="709.6" cy="104.5" r="0.9"/><circle cx="710.2" cy="98.4" r="0.9"/><circle cx="705.8" cy="98.1" r="0.9"/><circle cx="705.1" cy="98.3" r="0.9"/><circle cx="710.8" cy="104.8" r="0.9"/><circle cx="703.2" cy="98.2" r="0.9"/><circle cx="714.4" cy="102.4" r="0.9"/><circle cx="715.2" cy="103.4" r="0.9"/><circle cx="698.4" cy="102.0" r="0.9"/><circle cx="712.7" cy="98.9" r="0.9"/><circle cx="700.1" cy="104.2" r="0.9"/><circle cx="704.9" cy="104.9" r="0.9"/><circle cx="701.6" cy="98.8" r="0.9"/><circle cx="703.6" cy="104.7" r="0.9"/><circle cx="713.5" cy="99.8" r="0.9"/><circle cx="713.5" cy="99.6" r="0.9"/><circle cx="703.6" cy="105.7" r="0.9"/><circle cx="702.2" cy="104.9" r="0.9"/><circle cx="701.9" cy="104.7" r="0.9"/><circle cx="712.9" cy="98.8" r="0.9"/><circle cx="699.0" cy="102.7" r="0.9"/></g>
<g fill="#8c1f26"><circle cx="586.0" cy="106.3" r="0.9"/><circle cx="586.5" cy="105.4" r="0.9"/><circle cx="585.6" cy="110.7" r="0.9"/><circle cx="586.8" cy="112.7" r="0.9"/><circle cx="584.3" cy="105.0" r="0.9"/><circle cx="584.4" cy="101.9" r="0.9"/><circle cx="584.4" cy="108.1" r="0.9"/><circle cx="588.2" cy="104.6" r="0.9"/></g>
<g fill="#8c1f26"><circle cx="598.7" cy="86.5" r="0.9"/><circle cx="590.1" cy="79.0" r="0.9"/><circle cx="595.8" cy="83.3" r="0.9"/><circle cx="596.7" cy="79.8" r="0.9"/><circle cx="599.1" cy="74.7" r="0.9"/><circle cx="594.5" cy="86.0" r="0.9"/><circle cx="598.6" cy="80.9" r="0.9"/><circle cx="589.0" cy="86.9" r="0.9"/><circle cx="589.4" cy="79.0" r="0.9"/><circle cx="598.0" cy="79.6" r="0.9"/><circle cx="593.8" cy="75.3" r="0.9"/><circle cx="588.8" cy="72.2" r="0.9"/><circle cx="598.7" cy="79.8" r="0.9"/><circle cx="599.2" cy="87.8" r="0.9"/><circle cx="598.6" cy="78.7" r="0.9"/><circle cx="598.4" cy="81.3" r="0.9"/></g>
<g fill="#8c1f26"><circle cx="590.0" cy="89.7" r="0.9"/><circle cx="588.1" cy="91.4" r="0.9"/><circle cx="589.8" cy="88.8" r="0.9"/><circle cx="601.4" cy="91.4" r="0.9"/><circle cx="597.6" cy="90.1" r="0.9"/><circle cx="596.7" cy="91.1" r="0.9"/><circle cx="590.5" cy="90.1" r="0.9"/><circle cx="598.0" cy="88.8" r="0.9"/></g>
<g fill="#fff"><circle cx="594" cy="58" r="0.8"/><circle cx="604" cy="62" r="0.8"/><circle cx="615" cy="66" r="0.8"/><circle cx="624" cy="68" r="0.8"/><circle cx="641" cy="60" r="0.8"/><circle cx="632" cy="70" r="0.8"/></g>
<g fill="#8a6a22"><circle cx="603.2" cy="124.9" r="0.9"/><circle cx="617.9" cy="129.1" r="0.9"/><circle cx="615.0" cy="120.2" r="0.9"/><circle cx="620.1" cy="124.1" r="0.9"/><circle cx="612.8" cy="119.4" r="0.9"/><circle cx="606.8" cy="129.8" r="0.9"/><circle cx="602.7" cy="119.2" r="0.9"/><circle cx="607.2" cy="122.9" r="0.9"/><circle cx="610.8" cy="124.8" r="0.9"/><circle cx="604.0" cy="118.0" r="0.9"/></g>
<g fill="#a39a2e"><circle cx="647.9" cy="125.7" r="0.9"/><circle cx="641.4" cy="118.1" r="0.9"/><circle cx="643.0" cy="116.9" r="0.9"/><circle cx="653.1" cy="112.9" r="0.9"/><circle cx="642.5" cy="116.8" r="0.9"/><circle cx="653.0" cy="119.6" r="0.9"/><circle cx="650.0" cy="126.4" r="0.9"/><circle cx="643.7" cy="119.1" r="0.9"/></g>
<g fill="#fff"><circle cx="611" cy="133" r="1.2"/><circle cx="606" cy="131" r="0.9"/><circle cx="616" cy="131" r="1"/><circle cx="622" cy="128" r="0.9"/><circle cx="629" cy="110" r="0.9"/><circle cx="634" cy="113" r="0.8"/></g>
<text x="635" y="22.52" font-size="7" font-weight="bold" fill="#d6183a" stroke="#d6183a" stroke-width="0.12">Pvalb</text>
<text x="635" y="31.52" font-size="7" font-weight="bold" fill="#d6183a" stroke="#d6183a" stroke-width="0.12">Vipr2</text>
<text x="654" y="52.52" font-size="7" font-weight="bold" fill="#8b1e24" stroke="#8b1e24" stroke-width="0.12">Pvalb</text>
<text x="654" y="60.52" font-size="7" font-weight="bold" fill="#8b1e24" stroke="#8b1e24" stroke-width="0.12">Lpl</text>
<text x="555.5" y="85.22" font-size="7" font-weight="bold" fill="#5a1a2a" stroke="#5a1a2a" stroke-width="0.12">Th</text>
<text x="552.6" y="97.52" font-size="7" font-weight="bold" fill="#a47a22" stroke="#a47a22" stroke-width="0.12">Sst</text>
<text x="552.6" y="106.02" font-size="7" font-weight="bold" fill="#a47a22" stroke="#a47a22" stroke-width="0.12">Nts</text>
<text x="555" y="120.02" font-size="7" font-weight="bold" fill="#7a6a1e" stroke="#7a6a1e" stroke-width="0.12">Sst</text>
<text x="555" y="129.02" font-size="7" font-weight="bold" fill="#7a6a1e" stroke="#7a6a1e" stroke-width="0.12">Crh</text>
<text x="572" y="142.52" font-size="7" font-weight="bold" fill="#a0602a" stroke="#a0602a" stroke-width="0.12">Sst</text>
<text x="572" y="151.52" font-size="7" font-weight="bold" fill="#a0602a" stroke="#a0602a" stroke-width="0.12">Nmbr</text>
<text x="583" y="161.52" font-size="7" font-weight="bold" fill="#e07028" stroke="#e07028" stroke-width="0.12">Sst</text>
<text x="583" y="170.02" font-size="7" font-weight="bold" fill="#e07028" stroke="#e07028" stroke-width="0.12">Etv1</text>
<text x="610" y="174.52" font-size="7" font-weight="bold" fill="#6a4a1a" stroke="#6a4a1a" stroke-width="0.12">Sst</text>
<text x="610" y="183.02" font-size="7" font-weight="bold" fill="#6a4a1a" stroke="#6a4a1a" stroke-width="0.12">Myh8</text>
<text x="640.7" y="153.02" font-size="7" font-weight="bold" fill="#c06030" stroke="#c06030" stroke-width="0.12">Sst</text>
<text x="640.7" y="161.52" font-size="7" font-weight="bold" fill="#c06030" stroke="#c06030" stroke-width="0.12">Syndig1l</text>
<text x="651.8" y="136.52" font-size="7" font-weight="bold" fill="#a8982c" stroke="#a8982c" stroke-width="0.12">Sst</text>
<text x="651.8" y="145.02" font-size="7" font-weight="bold" fill="#a8982c" stroke="#a8982c" stroke-width="0.12">Hpse</text>
<text x="663" y="114.02" font-size="7" font-weight="bold" fill="#7a6a20" stroke="#7a6a20" stroke-width="0.12">Sst</text>
<text x="663" y="122.52" font-size="7" font-weight="bold" fill="#7a6a20" stroke="#7a6a20" stroke-width="0.12">Calb2</text>
<text x="637.6" y="95.52" font-size="7" font-weight="bold" fill="#e08a1e" stroke="#e08a1e" stroke-width="0.12">Sst</text>
<text x="637.6" y="104.02" font-size="7" font-weight="bold" fill="#e08a1e" stroke="#e08a1e" stroke-width="0.12">Mme</text>
<text x="698" y="94.82" font-size="7" font-weight="bold" fill="#a8a828" stroke="#a8a828" stroke-width="0.12">Chodl</text>
<line x1="598.3" y1="158.9" x2="606" y2="150.1" stroke="#555" stroke-width="0.4"/>
</g><g id="pc">
<text x="250.8" y="203.3" font-size="8.6" fill="#111" stroke="#111" stroke-width="0.12">Regional transcrptomic difference test for individual cells</text>
<rect x="242.3" y="208.4" width="116.5" height="117.6" fill="none" stroke="#888" stroke-width="0.7"/>
<rect x="361.4" y="208.4" width="117.1" height="117.6" fill="none" stroke="#888" stroke-width="0.7"/>
<text x="244" y="216.9" font-size="8" font-weight="bold" fill="#111" stroke="#111" stroke-width="0.12">MOs</text>
<text x="363" y="217.7" font-size="8" font-weight="bold" fill="#111" stroke="#111" stroke-width="0.12">VISp</text>
<path d="M246.90,227.90 C248.05,225.80 251.50,227.55 253.80,226.80 C256.10,226.05 258.42,224.35 260.70,223.40 C262.98,222.45 264.83,221.87 267.50,221.10 C270.17,220.33 273.63,219.57 276.70,218.80 C279.77,218.03 283.22,216.50 285.90,216.50 C288.58,216.50 290.88,217.85 292.80,218.80 C294.72,219.75 296.63,220.68 297.40,222.20 C298.17,223.72 297.78,226.18 297.40,227.90 C297.02,229.62 296.45,231.15 295.10,232.50 C293.75,233.85 290.45,233.70 289.30,236.00 C288.15,238.30 288.20,242.67 288.20,246.30 C288.20,249.93 289.30,254.35 289.30,257.80 C289.30,261.25 288.77,264.33 288.20,267.00 C287.63,269.67 287.43,272.28 285.90,273.80 C284.37,275.32 281.68,275.72 279.00,276.10 C276.32,276.48 272.48,276.87 269.80,276.10 C267.12,275.33 265.18,273.78 262.90,271.50 C260.62,269.22 258.20,265.83 256.10,262.40 C254.00,258.97 251.83,254.73 250.30,250.90 C248.77,247.07 247.47,243.23 246.90,239.40 C246.33,235.57 245.75,230.00 246.90,227.90Z" fill="#d2d2d2"/><g fill="#d2d2d2"><circle cx="288.4" cy="247.6" r="0.9"/><circle cx="288.5" cy="249.5" r="0.9"/><circle cx="279.0" cy="218.4" r="0.9"/><circle cx="256.3" cy="263.2" r="0.9"/><circle cx="262.9" cy="223.1" r="0.9"/><circle cx="255.2" cy="227.3" r="0.9"/><circle cx="277.0" cy="275.6" r="0.9"/><circle cx="249.6" cy="226.8" r="0.9"/><circle cx="279.5" cy="217.2" r="0.9"/><circle cx="288.4" cy="249.6" r="0.9"/><circle cx="289.4" cy="259.1" r="0.9"/><circle cx="275.2" cy="275.7" r="0.9"/><circle cx="247.7" cy="228.9" r="0.9"/><circle cx="267.2" cy="274.1" r="0.9"/><circle cx="295.8" cy="222.0" r="0.9"/><circle cx="289.7" cy="237.4" r="0.9"/><circle cx="247.5" cy="234.7" r="0.9"/><circle cx="284.0" cy="217.1" r="0.9"/><circle cx="246.7" cy="230.8" r="0.9"/><circle cx="281.6" cy="275.0" r="0.9"/><circle cx="261.6" cy="223.8" r="0.9"/><circle cx="260.1" cy="268.2" r="0.9"/><circle cx="263.5" cy="222.7" r="0.9"/><circle cx="277.8" cy="218.5" r="0.9"/><circle cx="280.4" cy="217.4" r="0.9"/><circle cx="278.1" cy="276.0" r="0.9"/><circle cx="283.6" cy="217.7" r="0.9"/><circle cx="255.5" cy="262.5" r="0.9"/><circle cx="283.4" cy="217.7" r="0.9"/><circle cx="278.4" cy="276.9" r="0.9"/><circle cx="283.6" cy="217.4" r="0.9"/><circle cx="296.9" cy="227.6" r="0.9"/><circle cx="262.5" cy="222.4" r="0.9"/><circle cx="285.8" cy="273.6" r="0.9"/><circle cx="246.9" cy="235.5" r="0.9"/><circle cx="250.2" cy="251.1" r="0.9"/><circle cx="248.9" cy="244.0" r="0.9"/><circle cx="280.2" cy="218.7" r="0.9"/><circle cx="281.8" cy="218.3" r="0.9"/><circle cx="285.6" cy="273.2" r="0.9"/><circle cx="254.6" cy="226.4" r="0.9"/><circle cx="267.6" cy="275.4" r="0.9"/><circle cx="285.9" cy="272.3" r="0.9"/><circle cx="264.9" cy="272.9" r="0.9"/><circle cx="288.8" cy="266.5" r="0.9"/><circle cx="295.9" cy="220.1" r="0.9"/><circle cx="249.5" cy="227.3" r="0.9"/><circle cx="256.9" cy="224.8" r="0.9"/><circle cx="287.1" cy="268.4" r="0.9"/><circle cx="250.0" cy="247.7" r="0.9"/><circle cx="270.2" cy="275.5" r="0.9"/><circle cx="252.4" cy="227.5" r="0.9"/><circle cx="269.3" cy="274.5" r="0.9"/><circle cx="280.0" cy="276.1" r="0.9"/><circle cx="298.2" cy="225.8" r="0.9"/><circle cx="288.9" cy="264.6" r="0.9"/><circle cx="263.4" cy="272.1" r="0.9"/><circle cx="247.8" cy="243.5" r="0.9"/><circle cx="249.4" cy="245.6" r="0.9"/><circle cx="257.8" cy="264.0" r="0.9"/><circle cx="281.8" cy="275.2" r="0.9"/><circle cx="284.1" cy="274.4" r="0.9"/><circle cx="247.5" cy="229.5" r="0.9"/><circle cx="290.2" cy="235.8" r="0.9"/><circle cx="288.9" cy="244.2" r="0.9"/><circle cx="260.8" cy="269.9" r="0.9"/><circle cx="288.3" cy="252.5" r="0.9"/><circle cx="289.2" cy="255.8" r="0.9"/><circle cx="290.6" cy="218.0" r="0.9"/><circle cx="272.0" cy="275.6" r="0.9"/><circle cx="248.8" cy="244.8" r="0.9"/><circle cx="249.0" cy="247.6" r="0.9"/><circle cx="281.3" cy="218.1" r="0.9"/><circle cx="248.7" cy="243.2" r="0.9"/><circle cx="286.7" cy="269.9" r="0.9"/><circle cx="289.6" cy="255.5" r="0.9"/><circle cx="267.7" cy="273.9" r="0.9"/><circle cx="276.1" cy="218.6" r="0.9"/><circle cx="284.0" cy="217.1" r="0.9"/><circle cx="288.7" cy="255.0" r="0.9"/><circle cx="246.8" cy="230.5" r="0.9"/><circle cx="253.2" cy="226.3" r="0.9"/><circle cx="267.5" cy="274.2" r="0.9"/><circle cx="256.3" cy="263.1" r="0.9"/><circle cx="287.5" cy="247.9" r="0.9"/><circle cx="287.7" cy="216.6" r="0.9"/><circle cx="281.2" cy="275.6" r="0.9"/><circle cx="277.1" cy="276.8" r="0.9"/><circle cx="270.8" cy="276.1" r="0.9"/><circle cx="277.1" cy="218.5" r="0.9"/><circle cx="266.0" cy="273.6" r="0.9"/><circle cx="296.1" cy="231.1" r="0.9"/><circle cx="284.2" cy="274.3" r="0.9"/><circle cx="257.7" cy="263.0" r="0.9"/><circle cx="247.5" cy="239.6" r="0.9"/><circle cx="288.5" cy="247.8" r="0.9"/><circle cx="291.8" cy="235.2" r="0.9"/><circle cx="257.2" cy="262.9" r="0.9"/><circle cx="276.9" cy="276.5" r="0.9"/><circle cx="254.9" cy="259.8" r="0.9"/><circle cx="284.7" cy="217.7" r="0.9"/><circle cx="247.0" cy="232.5" r="0.9"/><circle cx="298.1" cy="227.4" r="0.9"/><circle cx="294.9" cy="231.4" r="0.9"/><circle cx="288.9" cy="264.7" r="0.9"/><circle cx="252.5" cy="226.4" r="0.9"/><circle cx="255.6" cy="262.2" r="0.9"/><circle cx="256.9" cy="263.7" r="0.9"/><circle cx="289.6" cy="259.1" r="0.9"/><circle cx="271.1" cy="276.1" r="0.9"/><circle cx="246.2" cy="236.7" r="0.9"/><circle cx="288.6" cy="260.8" r="0.9"/><circle cx="279.6" cy="276.5" r="0.9"/><circle cx="288.0" cy="266.3" r="0.9"/><circle cx="253.1" cy="254.6" r="0.9"/><circle cx="252.7" cy="254.3" r="0.9"/><circle cx="287.1" cy="268.8" r="0.9"/><circle cx="289.3" cy="255.4" r="0.9"/><circle cx="246.9" cy="233.3" r="0.9"/><circle cx="256.2" cy="262.3" r="0.9"/><circle cx="269.4" cy="276.2" r="0.9"/><circle cx="289.6" cy="240.6" r="0.9"/><circle cx="293.5" cy="218.8" r="0.9"/><circle cx="289.0" cy="244.2" r="0.9"/><circle cx="288.4" cy="250.9" r="0.9"/><circle cx="283.9" cy="274.1" r="0.9"/><circle cx="257.6" cy="265.0" r="0.9"/><circle cx="286.8" cy="216.4" r="0.9"/><circle cx="295.2" cy="231.9" r="0.9"/><circle cx="263.4" cy="272.3" r="0.9"/><circle cx="290.0" cy="218.1" r="0.9"/><circle cx="288.2" cy="244.0" r="0.9"/><circle cx="288.4" cy="260.5" r="0.9"/><circle cx="281.1" cy="275.5" r="0.9"/><circle cx="252.1" cy="254.7" r="0.9"/><circle cx="287.8" cy="217.5" r="0.9"/><circle cx="248.4" cy="245.1" r="0.9"/><circle cx="247.2" cy="242.7" r="0.9"/><circle cx="248.9" cy="247.6" r="0.9"/><circle cx="264.3" cy="272.0" r="0.9"/><circle cx="253.4" cy="257.7" r="0.9"/><circle cx="268.4" cy="221.1" r="0.9"/><circle cx="249.6" cy="227.7" r="0.9"/><circle cx="249.0" cy="243.2" r="0.9"/><circle cx="289.6" cy="256.6" r="0.9"/><circle cx="270.6" cy="275.4" r="0.9"/><circle cx="264.4" cy="222.0" r="0.9"/><circle cx="289.4" cy="257.7" r="0.9"/><circle cx="278.5" cy="218.8" r="0.9"/><circle cx="247.6" cy="229.0" r="0.9"/><circle cx="258.4" cy="224.8" r="0.9"/></g>
<path d="M251.50,235.00 C253.08,232.33 259.25,233.17 262.00,234.00 C264.75,234.83 266.92,236.67 268.00,240.00 C269.08,243.33 269.00,250.17 268.50,254.00 C268.00,257.83 266.75,261.83 265.00,263.00 C263.25,264.17 260.08,263.17 258.00,261.00 C255.92,258.83 253.58,254.33 252.50,250.00 C251.42,245.67 249.92,237.67 251.50,235.00Z" fill="#fff"/>
<g fill="#d2d2d2"><circle cx="255.5" cy="249.8" r="0.75"/><circle cx="257.8" cy="251.5" r="0.75"/><circle cx="262.1" cy="235.9" r="0.75"/><circle cx="255.9" cy="240.8" r="0.75"/><circle cx="265.7" cy="247.8" r="0.75"/><circle cx="262.4" cy="238.4" r="0.75"/><circle cx="262.3" cy="259.2" r="0.75"/><circle cx="260.4" cy="255.5" r="0.75"/><circle cx="262.9" cy="235.9" r="0.75"/><circle cx="264.4" cy="251.1" r="0.75"/><circle cx="256.6" cy="234.9" r="0.75"/><circle cx="266.2" cy="247.7" r="0.75"/><circle cx="263.7" cy="259.5" r="0.75"/><circle cx="263.6" cy="260.7" r="0.75"/><circle cx="258.2" cy="257.2" r="0.75"/><circle cx="259.1" cy="261.1" r="0.75"/><circle cx="253.8" cy="240.3" r="0.75"/><circle cx="267.9" cy="246.6" r="0.75"/><circle cx="262.2" cy="242.7" r="0.75"/><circle cx="260.1" cy="245.2" r="0.75"/><circle cx="257.5" cy="251.0" r="0.75"/><circle cx="261.4" cy="260.2" r="0.75"/><circle cx="263.1" cy="260.9" r="0.75"/><circle cx="262.9" cy="238.7" r="0.75"/><circle cx="266.9" cy="250.5" r="0.75"/><circle cx="263.6" cy="240.1" r="0.75"/><circle cx="265.6" cy="250.6" r="0.75"/><circle cx="256.3" cy="235.8" r="0.75"/><circle cx="258.5" cy="238.4" r="0.75"/><circle cx="256.5" cy="256.3" r="0.75"/><circle cx="261.9" cy="235.3" r="0.75"/><circle cx="263.7" cy="243.6" r="0.75"/><circle cx="256.8" cy="236.2" r="0.75"/><circle cx="261.7" cy="234.9" r="0.75"/><circle cx="254.9" cy="245.8" r="0.75"/><circle cx="261.9" cy="238.5" r="0.75"/><circle cx="266.7" cy="245.0" r="0.75"/><circle cx="259.3" cy="249.1" r="0.75"/><circle cx="262.4" cy="251.3" r="0.75"/><circle cx="261.0" cy="252.0" r="0.75"/></g>
<path d="M315.70,227.90 C317.62,226.07 321.83,226.28 324.90,226.10 C327.97,225.92 331.42,225.73 334.10,226.80 C336.78,227.87 339.08,230.40 341.00,232.50 C342.92,234.60 344.08,236.72 345.60,239.40 C347.12,242.08 348.97,245.15 350.10,248.60 C351.23,252.05 352.40,256.67 352.40,260.10 C352.40,263.53 350.87,266.15 350.10,269.20 C349.33,272.25 348.55,274.95 347.80,278.40 C347.05,281.85 346.73,286.83 345.60,289.90 C344.47,292.97 342.92,295.85 341.00,296.80 C339.08,297.75 335.63,297.13 334.10,295.60 C332.57,294.07 332.95,290.47 331.80,287.60 C330.65,284.73 329.12,280.70 327.20,278.40 C325.28,276.10 321.83,276.08 320.30,273.80 C318.77,271.52 318.18,268.13 318.00,264.70 C317.82,261.27 319.58,256.65 319.20,253.20 C318.82,249.75 316.67,246.68 315.70,244.00 C314.73,241.32 313.40,239.78 313.40,237.10 C313.40,234.42 313.78,229.73 315.70,227.90Z" fill="#d2d2d2"/><g fill="#d2d2d2"><circle cx="346.6" cy="286.4" r="0.9"/><circle cx="338.6" cy="230.9" r="0.9"/><circle cx="351.1" cy="251.6" r="0.9"/><circle cx="333.2" cy="292.5" r="0.9"/><circle cx="339.6" cy="230.9" r="0.9"/><circle cx="315.0" cy="244.5" r="0.9"/><circle cx="329.1" cy="226.1" r="0.9"/><circle cx="349.5" cy="273.2" r="0.9"/><circle cx="327.0" cy="226.2" r="0.9"/><circle cx="332.5" cy="227.3" r="0.9"/><circle cx="335.1" cy="227.1" r="0.9"/><circle cx="352.2" cy="257.5" r="0.9"/><circle cx="325.0" cy="276.9" r="0.9"/><circle cx="318.4" cy="259.3" r="0.9"/><circle cx="333.4" cy="293.0" r="0.9"/><circle cx="321.4" cy="227.6" r="0.9"/><circle cx="314.9" cy="231.8" r="0.9"/><circle cx="351.0" cy="267.0" r="0.9"/><circle cx="335.0" cy="227.6" r="0.9"/><circle cx="344.6" cy="292.1" r="0.9"/><circle cx="321.1" cy="226.8" r="0.9"/><circle cx="342.9" cy="293.2" r="0.9"/><circle cx="350.1" cy="270.5" r="0.9"/><circle cx="339.2" cy="296.9" r="0.9"/><circle cx="321.8" cy="226.4" r="0.9"/><circle cx="330.4" cy="286.2" r="0.9"/><circle cx="345.8" cy="240.6" r="0.9"/><circle cx="313.9" cy="235.8" r="0.9"/><circle cx="343.0" cy="234.2" r="0.9"/><circle cx="344.8" cy="238.3" r="0.9"/><circle cx="316.5" cy="228.1" r="0.9"/><circle cx="351.2" cy="262.3" r="0.9"/><circle cx="322.9" cy="227.3" r="0.9"/><circle cx="315.6" cy="227.4" r="0.9"/><circle cx="352.8" cy="260.3" r="0.9"/><circle cx="330.5" cy="286.0" r="0.9"/><circle cx="346.4" cy="286.2" r="0.9"/><circle cx="314.0" cy="236.6" r="0.9"/><circle cx="351.8" cy="253.9" r="0.9"/><circle cx="313.6" cy="237.9" r="0.9"/><circle cx="324.0" cy="276.3" r="0.9"/><circle cx="350.1" cy="248.3" r="0.9"/><circle cx="338.5" cy="229.8" r="0.9"/><circle cx="348.6" cy="246.6" r="0.9"/><circle cx="338.2" cy="296.9" r="0.9"/><circle cx="314.5" cy="234.3" r="0.9"/><circle cx="334.4" cy="295.0" r="0.9"/><circle cx="334.2" cy="295.4" r="0.9"/><circle cx="320.3" cy="272.6" r="0.9"/><circle cx="324.3" cy="276.5" r="0.9"/><circle cx="316.9" cy="245.5" r="0.9"/><circle cx="317.9" cy="263.5" r="0.9"/><circle cx="350.8" cy="265.7" r="0.9"/><circle cx="326.9" cy="278.3" r="0.9"/><circle cx="336.9" cy="229.4" r="0.9"/><circle cx="349.0" cy="272.0" r="0.9"/><circle cx="352.7" cy="259.4" r="0.9"/><circle cx="331.3" cy="226.9" r="0.9"/><circle cx="319.4" cy="269.9" r="0.9"/><circle cx="349.9" cy="267.2" r="0.9"/><circle cx="346.8" cy="281.0" r="0.9"/><circle cx="351.3" cy="262.7" r="0.9"/><circle cx="312.8" cy="237.4" r="0.9"/><circle cx="350.4" cy="252.2" r="0.9"/><circle cx="347.8" cy="242.5" r="0.9"/><circle cx="324.9" cy="277.2" r="0.9"/><circle cx="333.4" cy="291.0" r="0.9"/><circle cx="347.4" cy="284.0" r="0.9"/><circle cx="347.7" cy="244.0" r="0.9"/><circle cx="349.6" cy="272.6" r="0.9"/><circle cx="314.6" cy="233.0" r="0.9"/><circle cx="351.7" cy="264.3" r="0.9"/><circle cx="345.0" cy="290.1" r="0.9"/><circle cx="338.0" cy="230.4" r="0.9"/><circle cx="348.8" cy="248.0" r="0.9"/><circle cx="351.7" cy="253.5" r="0.9"/><circle cx="350.2" cy="271.9" r="0.9"/><circle cx="351.7" cy="259.7" r="0.9"/><circle cx="319.2" cy="255.1" r="0.9"/><circle cx="348.8" cy="274.9" r="0.9"/><circle cx="348.6" cy="274.1" r="0.9"/><circle cx="349.6" cy="272.5" r="0.9"/><circle cx="345.5" cy="240.8" r="0.9"/><circle cx="342.3" cy="294.4" r="0.9"/><circle cx="318.3" cy="249.2" r="0.9"/><circle cx="319.9" cy="272.9" r="0.9"/><circle cx="318.8" cy="250.3" r="0.9"/><circle cx="316.6" cy="248.0" r="0.9"/><circle cx="317.4" cy="226.9" r="0.9"/><circle cx="322.5" cy="275.0" r="0.9"/><circle cx="343.6" cy="237.4" r="0.9"/><circle cx="332.2" cy="291.6" r="0.9"/><circle cx="341.6" cy="295.9" r="0.9"/><circle cx="330.5" cy="284.0" r="0.9"/><circle cx="331.2" cy="286.7" r="0.9"/><circle cx="349.5" cy="271.2" r="0.9"/><circle cx="322.6" cy="276.3" r="0.9"/><circle cx="346.3" cy="289.4" r="0.9"/><circle cx="314.1" cy="235.3" r="0.9"/><circle cx="349.0" cy="274.6" r="0.9"/><circle cx="318.4" cy="254.6" r="0.9"/><circle cx="333.9" cy="226.5" r="0.9"/><circle cx="316.8" cy="227.0" r="0.9"/><circle cx="327.5" cy="279.4" r="0.9"/><circle cx="314.4" cy="235.4" r="0.9"/><circle cx="320.2" cy="227.6" r="0.9"/><circle cx="345.8" cy="286.7" r="0.9"/><circle cx="348.2" cy="276.9" r="0.9"/><circle cx="348.1" cy="246.1" r="0.9"/><circle cx="314.4" cy="236.5" r="0.9"/><circle cx="313.9" cy="239.0" r="0.9"/><circle cx="314.9" cy="241.3" r="0.9"/><circle cx="317.5" cy="227.4" r="0.9"/><circle cx="321.1" cy="274.4" r="0.9"/><circle cx="351.5" cy="263.3" r="0.9"/><circle cx="315.2" cy="229.2" r="0.9"/><circle cx="332.1" cy="288.1" r="0.9"/><circle cx="347.7" cy="244.3" r="0.9"/><circle cx="337.2" cy="230.1" r="0.9"/><circle cx="319.4" cy="271.6" r="0.9"/><circle cx="334.1" cy="227.0" r="0.9"/><circle cx="342.9" cy="235.3" r="0.9"/><circle cx="334.8" cy="295.4" r="0.9"/><circle cx="351.9" cy="265.1" r="0.9"/><circle cx="344.9" cy="290.3" r="0.9"/><circle cx="348.7" cy="272.8" r="0.9"/><circle cx="350.3" cy="268.2" r="0.9"/><circle cx="351.2" cy="255.5" r="0.9"/><circle cx="349.3" cy="272.9" r="0.9"/><circle cx="328.9" cy="225.7" r="0.9"/><circle cx="349.9" cy="248.0" r="0.9"/><circle cx="327.7" cy="280.3" r="0.9"/><circle cx="351.5" cy="252.4" r="0.9"/><circle cx="345.3" cy="238.9" r="0.9"/><circle cx="333.7" cy="295.0" r="0.9"/><circle cx="347.6" cy="283.1" r="0.9"/><circle cx="346.4" cy="284.8" r="0.9"/><circle cx="319.1" cy="270.7" r="0.9"/><circle cx="321.3" cy="274.7" r="0.9"/><circle cx="332.8" cy="289.5" r="0.9"/><circle cx="351.0" cy="257.6" r="0.9"/><circle cx="317.9" cy="264.7" r="0.9"/><circle cx="315.4" cy="245.1" r="0.9"/><circle cx="347.9" cy="276.4" r="0.9"/><circle cx="347.8" cy="274.8" r="0.9"/><circle cx="335.5" cy="227.7" r="0.9"/><circle cx="337.0" cy="228.6" r="0.9"/><circle cx="346.0" cy="289.6" r="0.9"/></g>
<path d="M306.50,237.50 C306.92,236.92 308.85,236.72 310.00,236.80 C311.15,236.88 313.07,237.37 313.40,238.00 C313.73,238.63 312.98,240.22 312.00,240.60 C311.02,240.98 308.42,240.82 307.50,240.30 C306.58,239.78 306.08,238.08 306.50,237.50Z" fill="#d2d2d2"/><g fill="#d2d2d2"><circle cx="311.2" cy="237.4" r="0.9"/><circle cx="306.9" cy="239.6" r="0.9"/><circle cx="308.6" cy="237.4" r="0.9"/><circle cx="308.8" cy="236.6" r="0.9"/><circle cx="311.4" cy="237.9" r="0.9"/><circle cx="310.6" cy="240.2" r="0.9"/><circle cx="309.6" cy="237.5" r="0.9"/><circle cx="308.5" cy="240.7" r="0.9"/><circle cx="307.3" cy="238.0" r="0.9"/><circle cx="307.4" cy="240.4" r="0.9"/><circle cx="312.0" cy="240.2" r="0.9"/><circle cx="312.9" cy="237.7" r="0.9"/><circle cx="308.2" cy="241.1" r="0.9"/><circle cx="310.1" cy="240.9" r="0.9"/></g>
<circle cx="255.2" cy="257.6" r="0.85" fill="#f7dbe6"/><circle cx="271.1" cy="229.4" r="0.85" fill="#eeaac6"/><circle cx="287.7" cy="247.0" r="0.85" fill="#f4c6d8"/><circle cx="273.5" cy="263.5" r="0.85" fill="#f6d3e0"/><circle cx="258.6" cy="230.4" r="0.85" fill="#f6d3e0"/><circle cx="285.8" cy="240.7" r="0.85" fill="#eeaac6"/><circle cx="248.6" cy="236.1" r="0.85" fill="#eeaac6"/><circle cx="281.9" cy="255.2" r="0.85" fill="#f7dbe6"/><circle cx="283.7" cy="240.4" r="0.85" fill="#f2bcd0"/><circle cx="290.6" cy="230.5" r="0.85" fill="#f2bcd0"/><circle cx="285.4" cy="251.1" r="0.85" fill="#f6d3e0"/><circle cx="288.7" cy="228.5" r="0.85" fill="#f2bcd0"/><circle cx="271.7" cy="249.3" r="0.85" fill="#f4c6d8"/><circle cx="275.0" cy="253.6" r="0.85" fill="#f2bcd0"/><circle cx="280.7" cy="253.8" r="0.85" fill="#f7dbe6"/><circle cx="286.1" cy="238.8" r="0.85" fill="#f6d3e0"/><circle cx="281.0" cy="270.1" r="0.85" fill="#f2bcd0"/><circle cx="265.9" cy="231.2" r="0.85" fill="#f2bcd0"/><circle cx="287.6" cy="262.6" r="0.85" fill="#eeaac6"/><circle cx="249.8" cy="233.7" r="0.85" fill="#f7dbe6"/><circle cx="280.2" cy="218.6" r="0.85" fill="#f2bcd0"/><circle cx="264.0" cy="270.1" r="0.85" fill="#f2bcd0"/><circle cx="284.6" cy="245.0" r="0.85" fill="#f7dbe6"/><circle cx="253.9" cy="255.3" r="0.85" fill="#eeaac6"/><circle cx="248.3" cy="229.1" r="0.85" fill="#f7dbe6"/><circle cx="287.1" cy="269.0" r="0.85" fill="#f4c6d8"/><circle cx="285.9" cy="245.4" r="0.85" fill="#eeaac6"/><circle cx="260.8" cy="262.3" r="0.85" fill="#f6d3e0"/><circle cx="266.2" cy="224.0" r="0.85" fill="#f6d3e0"/><circle cx="268.2" cy="257.2" r="0.85" fill="#f2bcd0"/><circle cx="269.5" cy="224.9" r="0.85" fill="#f6d3e0"/><circle cx="280.0" cy="224.0" r="0.85" fill="#f4c6d8"/><circle cx="257.1" cy="260.9" r="0.85" fill="#f6d3e0"/><circle cx="277.4" cy="246.6" r="0.85" fill="#f6d3e0"/><circle cx="286.8" cy="217.0" r="0.85" fill="#eeaac6"/><circle cx="275.5" cy="267.4" r="0.85" fill="#f2bcd0"/><circle cx="266.5" cy="234.9" r="0.85" fill="#f7dbe6"/><circle cx="288.2" cy="264.4" r="0.85" fill="#eeaac6"/><circle cx="294.8" cy="222.4" r="0.85" fill="#f4c6d8"/><circle cx="285.2" cy="227.8" r="0.85" fill="#f4c6d8"/><circle cx="264.8" cy="235.5" r="0.85" fill="#eeaac6"/><circle cx="285.3" cy="243.2" r="0.85" fill="#f4c6d8"/><circle cx="282.5" cy="244.6" r="0.85" fill="#f4c6d8"/><circle cx="268.8" cy="231.2" r="0.85" fill="#f4c6d8"/><circle cx="288.2" cy="259.6" r="0.85" fill="#eeaac6"/><circle cx="287.2" cy="240.3" r="0.85" fill="#f7dbe6"/><circle cx="271.5" cy="254.2" r="0.85" fill="#f6d3e0"/><circle cx="278.8" cy="253.4" r="0.85" fill="#f4c6d8"/><circle cx="282.2" cy="257.2" r="0.85" fill="#f2bcd0"/><circle cx="271.2" cy="246.2" r="0.85" fill="#f7dbe6"/><circle cx="277.9" cy="265.7" r="0.85" fill="#f6d3e0"/><circle cx="255.1" cy="228.5" r="0.85" fill="#eeaac6"/><circle cx="283.1" cy="221.9" r="0.85" fill="#f2bcd0"/><circle cx="250.9" cy="234.5" r="0.85" fill="#eeaac6"/><circle cx="284.4" cy="244.1" r="0.85" fill="#f6d3e0"/><circle cx="296.9" cy="226.4" r="0.85" fill="#eeaac6"/><circle cx="279.3" cy="257.1" r="0.85" fill="#f7dbe6"/><circle cx="272.9" cy="272.8" r="0.85" fill="#f2bcd0"/><circle cx="283.1" cy="225.9" r="0.85" fill="#eeaac6"/><circle cx="270.5" cy="242.5" r="0.85" fill="#f4c6d8"/><circle cx="280.5" cy="256.4" r="0.85" fill="#eeaac6"/><circle cx="278.3" cy="222.4" r="0.85" fill="#f2bcd0"/><circle cx="282.3" cy="230.8" r="0.85" fill="#f6d3e0"/><circle cx="294.4" cy="225.3" r="0.85" fill="#f7dbe6"/><circle cx="275.7" cy="270.9" r="0.85" fill="#eeaac6"/><circle cx="274.8" cy="229.9" r="0.85" fill="#f4c6d8"/><circle cx="284.6" cy="261.8" r="0.85" fill="#f2bcd0"/><circle cx="273.5" cy="248.4" r="0.85" fill="#eeaac6"/><circle cx="270.7" cy="264.2" r="0.85" fill="#f7dbe6"/><circle cx="280.6" cy="227.6" r="0.85" fill="#f6d3e0"/><circle cx="281.1" cy="227.8" r="0.85" fill="#f7dbe6"/><circle cx="264.7" cy="226.2" r="0.85" fill="#f4c6d8"/><circle cx="271.9" cy="257.1" r="0.85" fill="#eeaac6"/><circle cx="267.5" cy="257.7" r="0.85" fill="#f4c6d8"/><circle cx="268.3" cy="235.8" r="0.85" fill="#f2bcd0"/><circle cx="278.6" cy="226.9" r="0.85" fill="#f7dbe6"/><circle cx="271.8" cy="226.2" r="0.85" fill="#eeaac6"/><circle cx="281.2" cy="229.5" r="0.85" fill="#f4c6d8"/><circle cx="273.8" cy="270.6" r="0.85" fill="#f7dbe6"/><circle cx="266.6" cy="272.6" r="0.85" fill="#f7dbe6"/><circle cx="247.5" cy="237.5" r="0.85" fill="#f4c6d8"/><circle cx="265.9" cy="261.1" r="0.85" fill="#f2bcd0"/><circle cx="291.4" cy="228.8" r="0.85" fill="#f4c6d8"/><circle cx="274.9" cy="262.7" r="0.85" fill="#f7dbe6"/><circle cx="292.9" cy="230.8" r="0.85" fill="#f4c6d8"/><circle cx="288.1" cy="238.1" r="0.85" fill="#f2bcd0"/><circle cx="284.4" cy="229.2" r="0.85" fill="#f4c6d8"/><circle cx="273.3" cy="269.8" r="0.85" fill="#f4c6d8"/><circle cx="261.9" cy="226.1" r="0.85" fill="#eeaac6"/><circle cx="277.9" cy="244.2" r="0.85" fill="#eeaac6"/><circle cx="284.8" cy="255.3" r="0.85" fill="#f7dbe6"/><circle cx="257.3" cy="263.5" r="0.85" fill="#f7dbe6"/><circle cx="276.5" cy="264.3" r="0.85" fill="#f2bcd0"/><circle cx="276.3" cy="250.9" r="0.85" fill="#eeaac6"/><circle cx="256.8" cy="230.0" r="0.85" fill="#f4c6d8"/><circle cx="287.9" cy="245.3" r="0.85" fill="#f6d3e0"/><circle cx="269.5" cy="259.3" r="0.85" fill="#f6d3e0"/><circle cx="265.8" cy="231.4" r="0.85" fill="#eeaac6"/><circle cx="291.9" cy="221.1" r="0.85" fill="#f7dbe6"/><circle cx="259.5" cy="224.2" r="0.85" fill="#f7dbe6"/><circle cx="252.2" cy="253.3" r="0.85" fill="#f2bcd0"/><circle cx="272.9" cy="224.5" r="0.85" fill="#eeaac6"/><circle cx="265.5" cy="228.0" r="0.85" fill="#f2bcd0"/><circle cx="261.2" cy="232.1" r="0.85" fill="#eeaac6"/><circle cx="277.3" cy="247.0" r="0.85" fill="#f2bcd0"/><circle cx="276.9" cy="242.9" r="0.85" fill="#f4c6d8"/><circle cx="274.0" cy="249.2" r="0.85" fill="#eeaac6"/><circle cx="279.0" cy="254.4" r="0.85" fill="#f7dbe6"/><circle cx="269.3" cy="255.1" r="0.85" fill="#f4c6d8"/><circle cx="276.5" cy="242.7" r="0.85" fill="#f2bcd0"/><circle cx="269.9" cy="229.7" r="0.85" fill="#f4c6d8"/><circle cx="264.3" cy="225.7" r="0.85" fill="#f6d3e0"/><circle cx="287.3" cy="236.0" r="0.85" fill="#f7dbe6"/><circle cx="270.0" cy="228.5" r="0.85" fill="#f6d3e0"/><circle cx="278.4" cy="267.0" r="0.85" fill="#f2bcd0"/><circle cx="274.7" cy="226.4" r="0.85" fill="#f6d3e0"/><circle cx="278.6" cy="223.8" r="0.85" fill="#f6d3e0"/><circle cx="274.1" cy="221.6" r="0.85" fill="#f2bcd0"/><circle cx="282.2" cy="264.9" r="0.85" fill="#eeaac6"/><circle cx="286.5" cy="218.5" r="0.85" fill="#eeaac6"/><circle cx="249.2" cy="240.6" r="0.85" fill="#f4c6d8"/><circle cx="279.2" cy="262.9" r="0.85" fill="#f7dbe6"/><circle cx="286.1" cy="259.4" r="0.85" fill="#f4c6d8"/><circle cx="288.6" cy="233.7" r="0.85" fill="#f7dbe6"/><circle cx="280.4" cy="255.6" r="0.85" fill="#eeaac6"/><circle cx="252.7" cy="251.4" r="0.85" fill="#eeaac6"/><circle cx="263.3" cy="263.8" r="0.85" fill="#f2bcd0"/><circle cx="292.7" cy="219.4" r="0.85" fill="#eeaac6"/><circle cx="272.8" cy="222.8" r="0.85" fill="#eeaac6"/><circle cx="283.5" cy="219.3" r="0.85" fill="#f7dbe6"/><circle cx="277.6" cy="242.4" r="0.85" fill="#f6d3e0"/><circle cx="268.4" cy="228.4" r="0.85" fill="#f6d3e0"/><circle cx="257.9" cy="226.4" r="0.85" fill="#f7dbe6"/><circle cx="289.6" cy="227.8" r="0.85" fill="#f4c6d8"/><circle cx="292.3" cy="227.3" r="0.85" fill="#f7dbe6"/><circle cx="271.1" cy="236.1" r="0.85" fill="#f2bcd0"/><circle cx="282.1" cy="260.3" r="0.85" fill="#f6d3e0"/><circle cx="291.3" cy="231.2" r="0.85" fill="#f7dbe6"/><circle cx="296.2" cy="226.5" r="0.85" fill="#eeaac6"/><circle cx="293.2" cy="229.1" r="0.85" fill="#f4c6d8"/><circle cx="285.6" cy="230.2" r="0.85" fill="#f6d3e0"/><circle cx="272.1" cy="258.3" r="0.85" fill="#f4c6d8"/><circle cx="257.6" cy="226.4" r="0.85" fill="#eeaac6"/><circle cx="266.1" cy="271.8" r="0.85" fill="#f2bcd0"/><circle cx="282.9" cy="261.5" r="0.85" fill="#f2bcd0"/><circle cx="269.8" cy="262.0" r="0.85" fill="#f6d3e0"/><circle cx="250.7" cy="236.0" r="0.85" fill="#f2bcd0"/><circle cx="272.7" cy="234.1" r="0.85" fill="#eeaac6"/><circle cx="290.9" cy="233.9" r="0.85" fill="#eeaac6"/><circle cx="267.6" cy="263.7" r="0.85" fill="#f7dbe6"/><circle cx="270.3" cy="270.6" r="0.85" fill="#f7dbe6"/><circle cx="289.6" cy="224.6" r="0.85" fill="#f7dbe6"/><circle cx="279.8" cy="254.1" r="0.85" fill="#f2bcd0"/><circle cx="278.8" cy="265.3" r="0.85" fill="#f7dbe6"/><circle cx="287.0" cy="226.1" r="0.85" fill="#f7dbe6"/><circle cx="281.9" cy="246.6" r="0.85" fill="#f6d3e0"/><circle cx="287.5" cy="226.8" r="0.85" fill="#f4c6d8"/><circle cx="281.4" cy="230.3" r="0.85" fill="#f2bcd0"/><circle cx="262.5" cy="231.6" r="0.85" fill="#f2bcd0"/><circle cx="283.6" cy="239.4" r="0.85" fill="#f7dbe6"/><circle cx="284.6" cy="260.0" r="0.85" fill="#f2bcd0"/><circle cx="262.0" cy="230.1" r="0.85" fill="#eeaac6"/><circle cx="285.8" cy="227.8" r="0.85" fill="#f6d3e0"/><circle cx="278.1" cy="270.1" r="0.85" fill="#eeaac6"/><circle cx="270.2" cy="257.8" r="0.85" fill="#f2bcd0"/><circle cx="292.9" cy="221.6" r="0.85" fill="#f4c6d8"/><circle cx="271.5" cy="270.7" r="0.85" fill="#f2bcd0"/><circle cx="273.2" cy="259.5" r="0.85" fill="#f6d3e0"/><circle cx="278.7" cy="220.2" r="0.85" fill="#eeaac6"/><circle cx="251.4" cy="240.8" r="0.85" fill="#f4c6d8"/><circle cx="271.6" cy="232.3" r="0.85" fill="#f4c6d8"/><circle cx="292.9" cy="226.0" r="0.85" fill="#eeaac6"/><circle cx="279.9" cy="249.8" r="0.85" fill="#f7dbe6"/><circle cx="266.7" cy="260.9" r="0.85" fill="#f7dbe6"/><circle cx="273.8" cy="219.5" r="0.85" fill="#f6d3e0"/><circle cx="279.3" cy="269.5" r="0.85" fill="#eeaac6"/><circle cx="264.1" cy="233.9" r="0.85" fill="#f2bcd0"/><circle cx="280.1" cy="244.7" r="0.85" fill="#f2bcd0"/><circle cx="281.5" cy="235.3" r="0.85" fill="#f4c6d8"/><circle cx="276.7" cy="245.3" r="0.85" fill="#eeaac6"/><circle cx="284.9" cy="254.2" r="0.85" fill="#f7dbe6"/><circle cx="257.2" cy="227.2" r="0.85" fill="#f4c6d8"/><circle cx="273.6" cy="270.5" r="0.85" fill="#f6d3e0"/><circle cx="294.6" cy="227.6" r="0.85" fill="#eeaac6"/><circle cx="259.5" cy="231.8" r="0.85" fill="#f4c6d8"/><circle cx="279.4" cy="254.0" r="0.85" fill="#f6d3e0"/><circle cx="285.8" cy="246.7" r="0.85" fill="#f2bcd0"/><circle cx="279.2" cy="258.1" r="0.85" fill="#eeaac6"/><circle cx="278.7" cy="267.6" r="0.85" fill="#eeaac6"/><circle cx="273.6" cy="247.1" r="0.85" fill="#f7dbe6"/><circle cx="281.2" cy="273.5" r="0.85" fill="#f2bcd0"/><circle cx="290.5" cy="222.7" r="0.85" fill="#f2bcd0"/><circle cx="280.9" cy="265.7" r="0.85" fill="#f4c6d8"/><circle cx="277.2" cy="226.5" r="0.85" fill="#eeaac6"/><circle cx="265.9" cy="234.5" r="0.85" fill="#f6d3e0"/><circle cx="296.5" cy="225.2" r="0.85" fill="#f4c6d8"/><circle cx="266.3" cy="223.5" r="0.85" fill="#f2bcd0"/><circle cx="279.4" cy="265.9" r="0.85" fill="#f6d3e0"/><circle cx="279.9" cy="249.2" r="0.85" fill="#eeaac6"/><circle cx="260.7" cy="264.9" r="0.85" fill="#eeaac6"/><circle cx="269.9" cy="241.0" r="0.85" fill="#eeaac6"/><circle cx="288.1" cy="261.9" r="0.85" fill="#f4c6d8"/><circle cx="287.4" cy="241.0" r="0.85" fill="#f6d3e0"/><circle cx="285.9" cy="260.7" r="0.85" fill="#f4c6d8"/><circle cx="260.6" cy="263.9" r="0.85" fill="#eeaac6"/><circle cx="284.1" cy="242.4" r="0.85" fill="#f7dbe6"/><circle cx="287.7" cy="235.2" r="0.85" fill="#f7dbe6"/><circle cx="285.1" cy="233.4" r="0.85" fill="#eeaac6"/><circle cx="279.9" cy="235.5" r="0.85" fill="#eeaac6"/><circle cx="263.5" cy="230.1" r="0.85" fill="#f7dbe6"/><circle cx="255.8" cy="261.2" r="0.85" fill="#f6d3e0"/><circle cx="273.7" cy="274.1" r="0.85" fill="#f4c6d8"/><circle cx="267.1" cy="222.8" r="0.85" fill="#f4c6d8"/><circle cx="284.9" cy="225.2" r="0.85" fill="#f4c6d8"/><circle cx="267.1" cy="274.2" r="0.85" fill="#eeaac6"/><circle cx="258.4" cy="265.2" r="0.85" fill="#f6d3e0"/><circle cx="255.4" cy="260.0" r="0.85" fill="#f6d3e0"/><circle cx="282.1" cy="228.3" r="0.85" fill="#f6d3e0"/><circle cx="293.7" cy="233.3" r="0.85" fill="#f6d3e0"/><circle cx="287.2" cy="241.7" r="0.85" fill="#f6d3e0"/><circle cx="279.9" cy="218.0" r="0.85" fill="#f4c6d8"/><circle cx="271.4" cy="273.2" r="0.85" fill="#eeaac6"/><circle cx="282.8" cy="270.7" r="0.85" fill="#f4c6d8"/><circle cx="281.6" cy="232.1" r="0.85" fill="#f7dbe6"/><circle cx="260.2" cy="267.1" r="0.85" fill="#eeaac6"/><circle cx="278.0" cy="229.9" r="0.85" fill="#f6d3e0"/><circle cx="282.0" cy="263.1" r="0.85" fill="#f4c6d8"/><circle cx="286.5" cy="231.4" r="0.85" fill="#eeaac6"/><circle cx="287.2" cy="258.7" r="0.85" fill="#eeaac6"/><circle cx="294.8" cy="226.3" r="0.85" fill="#f4c6d8"/><circle cx="294.4" cy="220.8" r="0.85" fill="#f2bcd0"/><circle cx="279.4" cy="255.7" r="0.85" fill="#f2bcd0"/><circle cx="271.0" cy="254.6" r="0.85" fill="#f2bcd0"/><circle cx="254.2" cy="255.1" r="0.85" fill="#f7dbe6"/><circle cx="268.1" cy="273.4" r="0.85" fill="#f7dbe6"/><circle cx="291.0" cy="218.5" r="0.85" fill="#f7dbe6"/><circle cx="259.3" cy="231.9" r="0.85" fill="#f4c6d8"/><circle cx="276.1" cy="240.8" r="0.85" fill="#f4c6d8"/><circle cx="262.8" cy="225.7" r="0.85" fill="#f6d3e0"/><circle cx="284.4" cy="219.4" r="0.85" fill="#f6d3e0"/><circle cx="287.3" cy="225.8" r="0.85" fill="#eeaac6"/><circle cx="269.8" cy="247.8" r="0.85" fill="#f4c6d8"/><circle cx="268.9" cy="257.3" r="0.85" fill="#f2bcd0"/><circle cx="271.2" cy="272.9" r="0.85" fill="#f4c6d8"/><circle cx="268.4" cy="232.3" r="0.85" fill="#f6d3e0"/><circle cx="280.9" cy="220.5" r="0.85" fill="#f7dbe6"/><circle cx="270.2" cy="254.2" r="0.85" fill="#eeaac6"/><circle cx="255.8" cy="258.9" r="0.85" fill="#eeaac6"/><circle cx="265.0" cy="265.4" r="0.85" fill="#f2bcd0"/><circle cx="287.9" cy="247.0" r="0.85" fill="#f4c6d8"/><circle cx="288.0" cy="259.5" r="0.85" fill="#eeaac6"/><circle cx="290.3" cy="221.2" r="0.85" fill="#f2bcd0"/><circle cx="287.7" cy="262.2" r="0.85" fill="#f7dbe6"/><circle cx="274.7" cy="275.8" r="0.85" fill="#eeaac6"/><circle cx="266.3" cy="235.3" r="0.85" fill="#f2bcd0"/><circle cx="288.2" cy="247.5" r="0.85" fill="#f7dbe6"/><circle cx="287.1" cy="252.3" r="0.85" fill="#f6d3e0"/><circle cx="287.0" cy="266.2" r="0.85" fill="#f6d3e0"/><circle cx="248.5" cy="230.7" r="0.85" fill="#eeaac6"/><circle cx="271.7" cy="253.0" r="0.85" fill="#f2bcd0"/><circle cx="271.3" cy="242.2" r="0.85" fill="#f4c6d8"/><circle cx="256.9" cy="263.0" r="0.85" fill="#f6d3e0"/><circle cx="279.5" cy="237.1" r="0.85" fill="#f2bcd0"/><circle cx="278.5" cy="275.5" r="0.85" fill="#f4c6d8"/><circle cx="283.1" cy="232.0" r="0.85" fill="#f4c6d8"/><circle cx="274.1" cy="241.6" r="0.85" fill="#f6d3e0"/><circle cx="268.8" cy="274.9" r="0.85" fill="#f2bcd0"/><circle cx="281.7" cy="267.0" r="0.85" fill="#f7dbe6"/><circle cx="279.6" cy="264.4" r="0.85" fill="#f7dbe6"/><circle cx="248.8" cy="230.0" r="0.85" fill="#f7dbe6"/><circle cx="285.4" cy="268.7" r="0.85" fill="#f7dbe6"/><circle cx="281.9" cy="225.0" r="0.85" fill="#f7dbe6"/><circle cx="257.0" cy="260.1" r="0.85" fill="#f2bcd0"/><circle cx="270.1" cy="254.6" r="0.85" fill="#eeaac6"/><circle cx="272.6" cy="232.0" r="0.85" fill="#f4c6d8"/><circle cx="275.4" cy="225.1" r="0.85" fill="#f7dbe6"/><circle cx="286.8" cy="254.9" r="0.85" fill="#f6d3e0"/><circle cx="257.7" cy="230.2" r="0.85" fill="#f4c6d8"/><circle cx="271.1" cy="235.8" r="0.85" fill="#eeaac6"/><circle cx="261.2" cy="266.9" r="0.85" fill="#f2bcd0"/><circle cx="268.9" cy="262.2" r="0.85" fill="#eeaac6"/><circle cx="269.7" cy="259.5" r="0.85" fill="#f6d3e0"/><circle cx="287.6" cy="234.5" r="0.85" fill="#f6d3e0"/><circle cx="260.5" cy="228.0" r="0.85" fill="#f6d3e0"/><circle cx="249.0" cy="244.2" r="0.85" fill="#f6d3e0"/><circle cx="274.7" cy="236.2" r="0.85" fill="#f4c6d8"/><circle cx="277.8" cy="271.8" r="0.85" fill="#f6d3e0"/><circle cx="289.2" cy="234.4" r="0.85" fill="#f4c6d8"/><circle cx="283.5" cy="253.9" r="0.85" fill="#eeaac6"/><circle cx="288.8" cy="231.2" r="0.85" fill="#f4c6d8"/><circle cx="254.0" cy="231.2" r="0.85" fill="#f2bcd0"/><circle cx="283.6" cy="250.2" r="0.85" fill="#f4c6d8"/><circle cx="275.1" cy="267.2" r="0.85" fill="#eeaac6"/><circle cx="275.6" cy="221.5" r="0.85" fill="#f6d3e0"/><circle cx="285.7" cy="227.2" r="0.85" fill="#f7dbe6"/><circle cx="278.8" cy="248.1" r="0.85" fill="#f2bcd0"/><circle cx="256.2" cy="258.3" r="0.85" fill="#f7dbe6"/><circle cx="296.4" cy="225.1" r="0.85" fill="#f2bcd0"/><circle cx="287.5" cy="248.7" r="0.85" fill="#f7dbe6"/><circle cx="280.6" cy="259.5" r="0.85" fill="#f6d3e0"/>
<circle cx="295.3" cy="224.9" r="0.85" fill="#e26fa4"/><circle cx="277.9" cy="243.1" r="0.85" fill="#e88ab5"/><circle cx="253.0" cy="255.3" r="0.85" fill="#d8559a"/><circle cx="286.9" cy="221.2" r="0.85" fill="#d8559a"/><circle cx="277.3" cy="272.1" r="0.85" fill="#e88ab5"/><circle cx="283.9" cy="242.1" r="0.85" fill="#e26fa4"/><circle cx="273.7" cy="259.9" r="0.85" fill="#e88ab5"/><circle cx="250.0" cy="236.0" r="0.85" fill="#d8559a"/><circle cx="262.7" cy="263.1" r="0.85" fill="#e88ab5"/><circle cx="272.9" cy="233.2" r="0.85" fill="#d8559a"/><circle cx="280.6" cy="227.5" r="0.85" fill="#e26fa4"/><circle cx="264.2" cy="270.2" r="0.85" fill="#d8559a"/><circle cx="273.0" cy="240.9" r="0.85" fill="#e88ab5"/><circle cx="293.6" cy="227.5" r="0.85" fill="#e88ab5"/><circle cx="274.3" cy="242.3" r="0.85" fill="#e88ab5"/><circle cx="251.5" cy="242.9" r="0.85" fill="#e26fa4"/><circle cx="268.7" cy="240.5" r="0.85" fill="#e26fa4"/><circle cx="272.8" cy="240.4" r="0.85" fill="#e26fa4"/><circle cx="270.1" cy="228.0" r="0.85" fill="#e26fa4"/><circle cx="274.5" cy="237.3" r="0.85" fill="#d8559a"/><circle cx="284.2" cy="255.6" r="0.85" fill="#e26fa4"/><circle cx="249.5" cy="241.0" r="0.85" fill="#e26fa4"/><circle cx="273.4" cy="251.3" r="0.85" fill="#e88ab5"/><circle cx="284.5" cy="244.7" r="0.85" fill="#e88ab5"/><circle cx="295.1" cy="223.1" r="0.85" fill="#e88ab5"/><circle cx="278.7" cy="252.1" r="0.85" fill="#e88ab5"/><circle cx="252.9" cy="229.4" r="0.85" fill="#d8559a"/><circle cx="271.5" cy="220.6" r="0.85" fill="#e26fa4"/><circle cx="270.6" cy="228.9" r="0.85" fill="#d8559a"/><circle cx="273.4" cy="227.3" r="0.85" fill="#e26fa4"/><circle cx="266.0" cy="267.1" r="0.85" fill="#e26fa4"/><circle cx="257.3" cy="261.4" r="0.85" fill="#e88ab5"/><circle cx="266.2" cy="261.2" r="0.85" fill="#e88ab5"/><circle cx="268.1" cy="231.6" r="0.85" fill="#e26fa4"/><circle cx="254.9" cy="233.2" r="0.85" fill="#d8559a"/><circle cx="282.3" cy="233.0" r="0.85" fill="#e26fa4"/><circle cx="269.8" cy="255.9" r="0.85" fill="#d8559a"/><circle cx="273.9" cy="224.8" r="0.85" fill="#d8559a"/><circle cx="281.7" cy="258.4" r="0.85" fill="#e88ab5"/><circle cx="279.2" cy="227.0" r="0.85" fill="#e88ab5"/>
<circle cx="265.8" cy="234.5" r="0.85" fill="#e88ab5"/><circle cx="262.2" cy="225.5" r="0.85" fill="#e88ab5"/><circle cx="294.6" cy="221.1" r="0.85" fill="#f7dbe6"/><circle cx="289.9" cy="227.5" r="0.85" fill="#eeaac6"/><circle cx="288.6" cy="226.2" r="0.85" fill="#e88ab5"/><circle cx="294.3" cy="222.3" r="0.85" fill="#f2bcd0"/><circle cx="274.4" cy="226.3" r="0.85" fill="#f4c6d8"/><circle cx="252.2" cy="235.5" r="0.85" fill="#eeaac6"/><circle cx="280.9" cy="228.0" r="0.85" fill="#f7dbe6"/><circle cx="267.7" cy="219.8" r="0.85" fill="#f2bcd0"/><circle cx="278.8" cy="230.6" r="0.85" fill="#f6d3e0"/><circle cx="276.1" cy="231.4" r="0.85" fill="#e88ab5"/><circle cx="275.0" cy="224.7" r="0.85" fill="#eeaac6"/><circle cx="277.6" cy="229.1" r="0.85" fill="#eeaac6"/><circle cx="249.9" cy="232.3" r="0.85" fill="#f7dbe6"/><circle cx="255.5" cy="235.7" r="0.85" fill="#e88ab5"/><circle cx="287.7" cy="228.6" r="0.85" fill="#eeaac6"/><circle cx="268.5" cy="227.5" r="0.85" fill="#f6d3e0"/><circle cx="289.0" cy="218.5" r="0.85" fill="#f2bcd0"/><circle cx="281.2" cy="233.6" r="0.85" fill="#e88ab5"/><circle cx="253.8" cy="234.5" r="0.85" fill="#e88ab5"/><circle cx="275.6" cy="228.4" r="0.85" fill="#f4c6d8"/><circle cx="273.1" cy="223.4" r="0.85" fill="#f7dbe6"/><circle cx="271.7" cy="225.2" r="0.85" fill="#eeaac6"/><circle cx="268.1" cy="223.5" r="0.85" fill="#f4c6d8"/><circle cx="296.3" cy="218.2" r="0.85" fill="#e88ab5"/><circle cx="260.2" cy="222.4" r="0.85" fill="#f6d3e0"/><circle cx="282.4" cy="227.3" r="0.85" fill="#f4c6d8"/><circle cx="292.7" cy="227.4" r="0.85" fill="#f2bcd0"/><circle cx="284.3" cy="221.2" r="0.85" fill="#f6d3e0"/><circle cx="284.1" cy="221.2" r="0.85" fill="#e88ab5"/><circle cx="248.6" cy="226.4" r="0.85" fill="#f2bcd0"/><circle cx="292.1" cy="219.5" r="0.85" fill="#f7dbe6"/><circle cx="250.9" cy="224.2" r="0.85" fill="#f4c6d8"/><circle cx="282.0" cy="219.1" r="0.85" fill="#f7dbe6"/><circle cx="253.3" cy="235.3" r="0.85" fill="#f4c6d8"/><circle cx="251.6" cy="227.3" r="0.85" fill="#f4c6d8"/><circle cx="282.3" cy="228.7" r="0.85" fill="#e88ab5"/><circle cx="292.6" cy="222.5" r="0.85" fill="#f2bcd0"/><circle cx="272.2" cy="220.6" r="0.85" fill="#f6d3e0"/><circle cx="282.9" cy="229.8" r="0.85" fill="#f7dbe6"/><circle cx="248.4" cy="228.0" r="0.85" fill="#e88ab5"/><circle cx="287.3" cy="221.7" r="0.85" fill="#f7dbe6"/><circle cx="262.4" cy="234.4" r="0.85" fill="#f6d3e0"/><circle cx="264.1" cy="225.5" r="0.85" fill="#f6d3e0"/><circle cx="258.8" cy="225.0" r="0.85" fill="#e88ab5"/><circle cx="272.1" cy="222.0" r="0.85" fill="#f7dbe6"/><circle cx="262.3" cy="234.9" r="0.85" fill="#f2bcd0"/><circle cx="253.5" cy="227.7" r="0.85" fill="#f4c6d8"/><circle cx="289.7" cy="228.6" r="0.85" fill="#f7dbe6"/><circle cx="292.4" cy="216.9" r="0.85" fill="#e88ab5"/><circle cx="252.6" cy="227.2" r="0.85" fill="#f4c6d8"/><circle cx="285.0" cy="231.0" r="0.85" fill="#f6d3e0"/><circle cx="287.2" cy="232.1" r="0.85" fill="#e88ab5"/><circle cx="251.2" cy="234.9" r="0.85" fill="#eeaac6"/><circle cx="294.7" cy="231.2" r="0.85" fill="#e88ab5"/><circle cx="278.2" cy="221.4" r="0.85" fill="#eeaac6"/><circle cx="280.8" cy="223.7" r="0.85" fill="#f7dbe6"/><circle cx="251.0" cy="230.6" r="0.85" fill="#f4c6d8"/><circle cx="274.0" cy="226.7" r="0.85" fill="#f2bcd0"/>
<circle cx="282.9" cy="257.6" r="0.85" fill="#d8559a"/><circle cx="276.6" cy="263.8" r="0.85" fill="#d8559a"/><circle cx="283.5" cy="267.8" r="0.85" fill="#d8559a"/><circle cx="282.6" cy="265.2" r="0.85" fill="#d8559a"/><circle cx="284.9" cy="268.2" r="0.85" fill="#d8559a"/><circle cx="281.3" cy="269.4" r="0.85" fill="#d8559a"/><circle cx="270.6" cy="264.8" r="0.85" fill="#c2357f"/><circle cx="275.3" cy="268.9" r="0.85" fill="#d8559a"/><circle cx="284.9" cy="263.7" r="0.85" fill="#e26fa4"/><circle cx="280.0" cy="264.1" r="0.85" fill="#c2357f"/><circle cx="285.0" cy="261.6" r="0.85" fill="#e26fa4"/><circle cx="272.0" cy="269.9" r="0.85" fill="#c2357f"/>
<circle cx="287.5" cy="222.1" r="0.75" fill="#d04a90"/><circle cx="283.7" cy="225.7" r="0.75" fill="#b02a80"/><circle cx="285.1" cy="219.7" r="0.75" fill="#b02a80"/><circle cx="278.3" cy="224.5" r="0.75" fill="#b02a80"/><circle cx="290.5" cy="224.1" r="0.75" fill="#d04a90"/><circle cx="280.8" cy="219.6" r="0.75" fill="#d04a90"/><circle cx="283.8" cy="226.1" r="0.75" fill="#b02a80"/><circle cx="291.0" cy="219.1" r="0.75" fill="#b02a80"/><circle cx="287.4" cy="222.4" r="0.75" fill="#d04a90"/><circle cx="280.6" cy="226.6" r="0.75" fill="#d04a90"/><circle cx="283.2" cy="226.8" r="0.75" fill="#c2357f"/><circle cx="287.3" cy="218.0" r="0.75" fill="#b02a80"/><circle cx="278.6" cy="220.3" r="0.75" fill="#d04a90"/><circle cx="282.5" cy="224.1" r="0.75" fill="#c2357f"/>
<circle cx="341.2" cy="285.5" r="0.6" fill="#f4c6d8"/><circle cx="321.9" cy="237.9" r="0.6" fill="#f4c6d8"/><circle cx="339.6" cy="232.6" r="0.6" fill="#f4c6d8"/><circle cx="344.8" cy="246.1" r="0.6" fill="#f4c6d8"/><circle cx="342.2" cy="257.5" r="0.6" fill="#f7dbe6"/><circle cx="340.2" cy="244.1" r="0.6" fill="#f4c6d8"/><circle cx="340.0" cy="294.0" r="0.6" fill="#f4c6d8"/><circle cx="334.5" cy="252.0" r="0.6" fill="#f4c6d8"/><circle cx="349.5" cy="248.5" r="0.6" fill="#f4c6d8"/><circle cx="325.5" cy="243.5" r="0.6" fill="#f4c6d8"/><circle cx="346.9" cy="244.9" r="0.6" fill="#f7dbe6"/><circle cx="332.7" cy="237.0" r="0.6" fill="#f4c6d8"/><circle cx="326.0" cy="240.1" r="0.6" fill="#f4c6d8"/><circle cx="332.0" cy="244.4" r="0.6" fill="#f4c6d8"/><circle cx="334.2" cy="243.3" r="0.6" fill="#f4c6d8"/><circle cx="323.6" cy="271.6" r="0.6" fill="#f4c6d8"/><circle cx="329.1" cy="259.3" r="0.6" fill="#f7dbe6"/><circle cx="323.2" cy="239.2" r="0.6" fill="#f7dbe6"/>
<line x1="316.5" y1="282.5" x2="321.5" y2="278.8" stroke="#d8468f" stroke-width="1.4" stroke-linecap="round"/>
<text x="300.8" y="215.5" font-size="7" fill="#222" stroke="#222" stroke-width="0.12">SST-Nmbr-1</text>
<text x="310" y="223.5" font-size="7" fill="#222" stroke="#222" stroke-width="0.12">SST-Crh-1</text>
<line x1="299" y1="213" x2="275" y2="225" stroke="#333" stroke-width="0.4"/>
<line x1="308.3" y1="221.7" x2="290.8" y2="222.5" stroke="#333" stroke-width="0.4"/>
<text x="282.4" y="292.6" font-size="7.2" fill="#222" stroke="#222" stroke-width="0.12">PVALB-Unc5b</text>
<path d="M278.50,316.00 C279.00,315.25 280.83,314.58 282.00,314.50 C283.17,314.42 284.83,314.83 285.50,315.50 C286.17,316.17 286.50,317.70 286.00,318.50 C285.50,319.30 283.67,320.22 282.50,320.30 C281.33,320.38 279.67,319.72 279.00,319.00 C278.33,318.28 278.00,316.75 278.50,316.00Z" fill="#f4c4d6"/><g fill="#f4c4d6"><circle cx="278.1" cy="315.7" r="0.9"/><circle cx="281.9" cy="319.7" r="0.9"/><circle cx="283.5" cy="314.2" r="0.9"/><circle cx="281.6" cy="319.3" r="0.9"/><circle cx="285.1" cy="318.8" r="0.9"/><circle cx="277.9" cy="315.3" r="0.9"/><circle cx="278.6" cy="316.8" r="0.9"/><circle cx="284.9" cy="316.1" r="0.9"/><circle cx="282.2" cy="314.8" r="0.9"/><circle cx="285.7" cy="319.6" r="0.9"/><circle cx="285.0" cy="316.1" r="0.9"/><circle cx="277.8" cy="316.6" r="0.9"/><circle cx="279.2" cy="318.3" r="0.9"/><circle cx="280.6" cy="319.0" r="0.9"/><circle cx="282.8" cy="319.2" r="0.9"/><circle cx="284.9" cy="315.2" r="0.9"/><circle cx="283.7" cy="320.7" r="0.9"/></g>
<text x="288.5" y="320.3" font-size="7" fill="#222" stroke="#222" stroke-width="0.12">SST-Chodl</text>
<path d="M366.50,230.20 C367.47,227.92 370.73,224.73 373.40,223.40 C376.07,222.07 379.07,222.58 382.50,222.20 C385.93,221.82 390.93,221.10 394.00,221.10 C397.07,221.10 398.98,221.07 400.90,222.20 C402.82,223.33 404.35,225.42 405.50,227.90 C406.65,230.38 408.00,234.03 407.80,237.10 C407.60,240.17 404.68,243.23 404.30,246.30 C403.92,249.37 404.35,253.20 405.50,255.50 C406.65,257.80 410.25,257.82 411.20,260.10 C412.15,262.38 412.15,266.72 411.20,269.20 C410.25,271.68 408.37,273.85 405.50,275.00 C402.63,276.15 397.45,276.68 394.00,276.10 C390.55,275.52 386.72,273.78 384.80,271.50 C382.88,269.22 382.50,265.07 382.50,262.40 C382.50,259.73 385.57,257.42 384.80,255.50 C384.03,253.58 380.18,252.82 377.90,250.90 C375.62,248.98 372.82,246.30 371.10,244.00 C369.38,241.70 368.37,239.40 367.60,237.10 C366.83,234.80 365.53,232.48 366.50,230.20Z" fill="#d2d2d2"/><g fill="#d2d2d2"><circle cx="403.9" cy="246.1" r="0.9"/><circle cx="371.2" cy="244.2" r="0.9"/><circle cx="408.4" cy="272.3" r="0.9"/><circle cx="406.2" cy="275.0" r="0.9"/><circle cx="380.1" cy="251.9" r="0.9"/><circle cx="389.3" cy="221.1" r="0.9"/><circle cx="393.1" cy="274.8" r="0.9"/><circle cx="382.9" cy="259.7" r="0.9"/><circle cx="379.5" cy="252.6" r="0.9"/><circle cx="383.2" cy="267.8" r="0.9"/><circle cx="385.2" cy="222.3" r="0.9"/><circle cx="366.3" cy="233.2" r="0.9"/><circle cx="398.8" cy="275.2" r="0.9"/><circle cx="374.6" cy="246.7" r="0.9"/><circle cx="388.5" cy="221.5" r="0.9"/><circle cx="391.6" cy="274.7" r="0.9"/><circle cx="368.5" cy="227.6" r="0.9"/><circle cx="383.8" cy="268.6" r="0.9"/><circle cx="410.7" cy="270.5" r="0.9"/><circle cx="407.1" cy="236.6" r="0.9"/><circle cx="371.8" cy="226.1" r="0.9"/><circle cx="382.4" cy="264.7" r="0.9"/><circle cx="385.8" cy="222.2" r="0.9"/><circle cx="383.3" cy="264.6" r="0.9"/><circle cx="379.7" cy="251.2" r="0.9"/><circle cx="406.4" cy="256.2" r="0.9"/><circle cx="404.9" cy="252.4" r="0.9"/><circle cx="405.5" cy="230.1" r="0.9"/><circle cx="406.6" cy="229.7" r="0.9"/><circle cx="370.0" cy="242.9" r="0.9"/><circle cx="383.4" cy="264.0" r="0.9"/><circle cx="390.6" cy="220.8" r="0.9"/><circle cx="390.4" cy="274.2" r="0.9"/><circle cx="406.4" cy="273.3" r="0.9"/><circle cx="401.9" cy="222.5" r="0.9"/><circle cx="366.7" cy="231.0" r="0.9"/><circle cx="408.6" cy="272.6" r="0.9"/><circle cx="373.9" cy="245.6" r="0.9"/><circle cx="404.4" cy="275.4" r="0.9"/><circle cx="411.4" cy="265.7" r="0.9"/><circle cx="384.4" cy="267.6" r="0.9"/><circle cx="411.4" cy="265.4" r="0.9"/><circle cx="389.5" cy="274.1" r="0.9"/><circle cx="406.7" cy="235.6" r="0.9"/><circle cx="400.5" cy="276.1" r="0.9"/><circle cx="406.3" cy="230.0" r="0.9"/><circle cx="384.6" cy="256.5" r="0.9"/><circle cx="411.4" cy="263.6" r="0.9"/><circle cx="394.4" cy="220.5" r="0.9"/><circle cx="411.9" cy="263.7" r="0.9"/><circle cx="373.6" cy="224.1" r="0.9"/><circle cx="384.0" cy="271.9" r="0.9"/><circle cx="397.1" cy="221.2" r="0.9"/><circle cx="404.5" cy="245.0" r="0.9"/><circle cx="401.6" cy="222.3" r="0.9"/><circle cx="389.0" cy="221.7" r="0.9"/><circle cx="370.3" cy="226.6" r="0.9"/><circle cx="369.8" cy="227.7" r="0.9"/><circle cx="403.9" cy="247.5" r="0.9"/><circle cx="404.5" cy="275.1" r="0.9"/><circle cx="407.2" cy="273.2" r="0.9"/><circle cx="394.1" cy="221.5" r="0.9"/><circle cx="385.2" cy="256.0" r="0.9"/><circle cx="383.9" cy="270.4" r="0.9"/><circle cx="375.5" cy="224.0" r="0.9"/><circle cx="391.0" cy="274.2" r="0.9"/><circle cx="383.5" cy="257.2" r="0.9"/><circle cx="406.6" cy="241.4" r="0.9"/><circle cx="389.8" cy="222.0" r="0.9"/><circle cx="408.2" cy="235.9" r="0.9"/><circle cx="380.1" cy="253.3" r="0.9"/><circle cx="367.8" cy="234.9" r="0.9"/><circle cx="373.7" cy="246.7" r="0.9"/><circle cx="406.5" cy="230.1" r="0.9"/><circle cx="405.8" cy="241.7" r="0.9"/><circle cx="410.6" cy="260.2" r="0.9"/><circle cx="410.8" cy="261.6" r="0.9"/><circle cx="410.7" cy="269.7" r="0.9"/><circle cx="371.7" cy="245.6" r="0.9"/><circle cx="382.9" cy="263.5" r="0.9"/><circle cx="391.0" cy="274.4" r="0.9"/><circle cx="377.8" cy="250.5" r="0.9"/><circle cx="380.1" cy="251.5" r="0.9"/><circle cx="404.9" cy="251.1" r="0.9"/><circle cx="368.2" cy="228.3" r="0.9"/><circle cx="369.7" cy="242.3" r="0.9"/><circle cx="407.9" cy="256.5" r="0.9"/><circle cx="397.5" cy="221.5" r="0.9"/><circle cx="392.7" cy="220.6" r="0.9"/><circle cx="407.7" cy="274.0" r="0.9"/><circle cx="399.0" cy="276.1" r="0.9"/><circle cx="396.1" cy="275.2" r="0.9"/><circle cx="374.1" cy="246.9" r="0.9"/><circle cx="388.2" cy="273.7" r="0.9"/><circle cx="367.7" cy="234.1" r="0.9"/><circle cx="368.6" cy="238.7" r="0.9"/><circle cx="405.1" cy="254.3" r="0.9"/><circle cx="399.1" cy="275.0" r="0.9"/><circle cx="371.0" cy="243.1" r="0.9"/><circle cx="410.2" cy="269.9" r="0.9"/><circle cx="405.5" cy="245.7" r="0.9"/><circle cx="372.8" cy="245.7" r="0.9"/><circle cx="387.6" cy="272.6" r="0.9"/><circle cx="366.5" cy="232.3" r="0.9"/><circle cx="410.5" cy="262.7" r="0.9"/><circle cx="391.2" cy="220.7" r="0.9"/><circle cx="384.2" cy="256.7" r="0.9"/><circle cx="385.2" cy="255.9" r="0.9"/><circle cx="366.3" cy="232.5" r="0.9"/><circle cx="367.4" cy="228.7" r="0.9"/><circle cx="409.0" cy="272.6" r="0.9"/><circle cx="393.3" cy="276.8" r="0.9"/><circle cx="405.9" cy="243.5" r="0.9"/><circle cx="407.6" cy="234.0" r="0.9"/><circle cx="395.0" cy="221.3" r="0.9"/><circle cx="403.7" cy="225.6" r="0.9"/><circle cx="411.1" cy="265.3" r="0.9"/><circle cx="411.0" cy="260.4" r="0.9"/><circle cx="382.0" cy="261.7" r="0.9"/><circle cx="406.9" cy="256.9" r="0.9"/><circle cx="378.1" cy="250.9" r="0.9"/><circle cx="370.1" cy="242.6" r="0.9"/><circle cx="382.2" cy="221.8" r="0.9"/><circle cx="402.6" cy="225.4" r="0.9"/><circle cx="411.8" cy="266.6" r="0.9"/><circle cx="383.4" cy="265.0" r="0.9"/><circle cx="370.4" cy="242.3" r="0.9"/><circle cx="401.1" cy="223.2" r="0.9"/><circle cx="404.3" cy="251.6" r="0.9"/><circle cx="368.5" cy="227.7" r="0.9"/><circle cx="405.5" cy="252.0" r="0.9"/><circle cx="405.1" cy="250.2" r="0.9"/><circle cx="406.4" cy="232.0" r="0.9"/><circle cx="380.2" cy="253.3" r="0.9"/><circle cx="395.2" cy="221.5" r="0.9"/><circle cx="370.3" cy="226.7" r="0.9"/><circle cx="404.1" cy="250.1" r="0.9"/><circle cx="410.0" cy="270.3" r="0.9"/><circle cx="369.4" cy="240.1" r="0.9"/><circle cx="407.7" cy="256.5" r="0.9"/></g>
<path d="M389.40,230.20 C391.70,228.67 398.80,227.90 400.90,230.20 C403.00,232.50 402.77,240.55 402.00,244.00 C401.23,247.45 398.40,250.13 396.30,250.90 C394.20,251.67 390.93,250.52 389.40,248.60 C387.87,246.68 387.10,242.47 387.10,239.40 C387.10,236.33 387.10,231.73 389.40,230.20Z" fill="#fff"/>
<g fill="#d2d2d2"><circle cx="390.6" cy="232.3" r="0.8"/><circle cx="393.0" cy="233.4" r="0.8"/><circle cx="388.1" cy="238.5" r="0.8"/><circle cx="398.5" cy="234.8" r="0.8"/><circle cx="395.1" cy="235.9" r="0.8"/><circle cx="389.7" cy="232.4" r="0.8"/><circle cx="399.5" cy="246.9" r="0.8"/><circle cx="399.0" cy="234.2" r="0.8"/><circle cx="391.7" cy="243.2" r="0.8"/><circle cx="398.0" cy="247.9" r="0.8"/><circle cx="400.2" cy="232.0" r="0.8"/><circle cx="396.1" cy="244.1" r="0.8"/></g>
<path d="M405.50,218.80 C406.27,216.70 409.73,214.92 412.40,215.30 C415.07,215.68 418.45,219.37 421.50,221.10 C424.55,222.83 427.62,224.80 430.70,225.70 C433.78,226.60 436.45,226.20 440.00,226.50 C443.55,226.80 448.33,226.58 452.00,227.50 C455.67,228.42 459.33,229.63 462.00,232.00 C464.67,234.37 466.17,238.53 468.00,241.70 C469.83,244.87 472.42,247.17 473.00,251.00 C473.58,254.83 472.42,260.13 471.50,264.70 C470.58,269.27 468.75,273.82 467.50,278.40 C466.25,282.98 465.53,289.10 464.00,292.20 C462.47,295.30 460.02,296.62 458.30,297.00 C456.58,297.38 454.85,296.83 453.70,294.50 C452.55,292.17 452.55,286.45 451.40,283.00 C450.25,279.55 448.72,276.10 446.80,273.80 C444.88,271.50 441.43,271.48 439.90,269.20 C438.37,266.92 437.33,263.15 437.60,260.10 C437.87,257.05 441.12,253.97 441.50,250.90 C441.88,247.83 441.32,244.00 439.90,241.70 C438.48,239.40 435.68,238.25 433.00,237.10 C430.32,235.95 426.85,235.57 423.80,234.80 C420.75,234.03 417.37,233.65 414.70,232.50 C412.03,231.35 409.33,230.18 407.80,227.90 C406.27,225.62 404.73,220.90 405.50,218.80Z" fill="#d2d2d2"/><g fill="#d2d2d2"><circle cx="448.5" cy="278.3" r="0.9"/><circle cx="455.9" cy="229.3" r="0.9"/><circle cx="422.2" cy="234.4" r="0.9"/><circle cx="411.5" cy="215.5" r="0.9"/><circle cx="410.7" cy="216.1" r="0.9"/><circle cx="458.6" cy="296.5" r="0.9"/><circle cx="439.3" cy="243.4" r="0.9"/><circle cx="439.5" cy="268.1" r="0.9"/><circle cx="408.3" cy="227.8" r="0.9"/><circle cx="426.4" cy="223.4" r="0.9"/><circle cx="440.6" cy="243.6" r="0.9"/><circle cx="406.9" cy="225.2" r="0.9"/><circle cx="437.1" cy="240.3" r="0.9"/><circle cx="453.7" cy="292.2" r="0.9"/><circle cx="456.2" cy="228.9" r="0.9"/><circle cx="457.0" cy="229.7" r="0.9"/><circle cx="449.4" cy="279.2" r="0.9"/><circle cx="452.1" cy="228.4" r="0.9"/><circle cx="448.5" cy="276.2" r="0.9"/><circle cx="437.4" cy="261.2" r="0.9"/><circle cx="406.3" cy="221.3" r="0.9"/><circle cx="442.7" cy="271.2" r="0.9"/><circle cx="456.0" cy="229.4" r="0.9"/><circle cx="463.4" cy="235.8" r="0.9"/><circle cx="426.3" cy="235.7" r="0.9"/><circle cx="472.3" cy="263.5" r="0.9"/><circle cx="463.1" cy="234.6" r="0.9"/><circle cx="463.4" cy="234.7" r="0.9"/><circle cx="471.1" cy="265.2" r="0.9"/><circle cx="463.9" cy="289.4" r="0.9"/><circle cx="428.9" cy="225.1" r="0.9"/><circle cx="469.3" cy="269.5" r="0.9"/><circle cx="405.8" cy="220.5" r="0.9"/><circle cx="429.4" cy="236.8" r="0.9"/><circle cx="442.8" cy="270.7" r="0.9"/><circle cx="448.4" cy="278.2" r="0.9"/><circle cx="468.6" cy="277.7" r="0.9"/><circle cx="463.4" cy="233.7" r="0.9"/><circle cx="418.6" cy="233.0" r="0.9"/><circle cx="449.4" cy="278.2" r="0.9"/><circle cx="440.3" cy="254.4" r="0.9"/><circle cx="461.0" cy="293.8" r="0.9"/><circle cx="410.4" cy="217.3" r="0.9"/><circle cx="436.2" cy="238.7" r="0.9"/><circle cx="426.9" cy="234.7" r="0.9"/><circle cx="465.2" cy="285.0" r="0.9"/><circle cx="439.9" cy="253.1" r="0.9"/><circle cx="457.8" cy="297.5" r="0.9"/><circle cx="469.5" cy="270.0" r="0.9"/><circle cx="437.4" cy="260.9" r="0.9"/><circle cx="406.0" cy="219.8" r="0.9"/><circle cx="463.4" cy="291.6" r="0.9"/><circle cx="472.5" cy="249.4" r="0.9"/><circle cx="454.1" cy="229.0" r="0.9"/><circle cx="457.4" cy="230.2" r="0.9"/><circle cx="419.9" cy="220.6" r="0.9"/><circle cx="452.9" cy="228.9" r="0.9"/><circle cx="453.6" cy="294.9" r="0.9"/><circle cx="439.7" cy="242.8" r="0.9"/><circle cx="469.3" cy="271.7" r="0.9"/><circle cx="438.2" cy="262.2" r="0.9"/><circle cx="426.1" cy="223.2" r="0.9"/><circle cx="429.6" cy="235.9" r="0.9"/><circle cx="468.1" cy="275.5" r="0.9"/><circle cx="462.0" cy="231.6" r="0.9"/><circle cx="430.2" cy="235.7" r="0.9"/><circle cx="406.1" cy="219.7" r="0.9"/><circle cx="415.4" cy="232.0" r="0.9"/><circle cx="465.5" cy="284.4" r="0.9"/><circle cx="417.6" cy="219.5" r="0.9"/><circle cx="464.0" cy="234.5" r="0.9"/><circle cx="470.7" cy="270.7" r="0.9"/><circle cx="457.2" cy="295.7" r="0.9"/><circle cx="468.3" cy="241.2" r="0.9"/><circle cx="460.0" cy="295.2" r="0.9"/><circle cx="453.1" cy="291.9" r="0.9"/><circle cx="440.7" cy="225.8" r="0.9"/><circle cx="446.9" cy="227.3" r="0.9"/><circle cx="457.5" cy="230.9" r="0.9"/><circle cx="460.7" cy="231.5" r="0.9"/><circle cx="470.4" cy="269.1" r="0.9"/><circle cx="412.7" cy="231.8" r="0.9"/><circle cx="458.7" cy="230.9" r="0.9"/><circle cx="467.7" cy="242.1" r="0.9"/><circle cx="420.6" cy="221.4" r="0.9"/><circle cx="405.0" cy="219.3" r="0.9"/><circle cx="464.3" cy="235.2" r="0.9"/><circle cx="425.7" cy="234.8" r="0.9"/><circle cx="436.4" cy="239.3" r="0.9"/><circle cx="406.5" cy="221.0" r="0.9"/><circle cx="439.1" cy="241.6" r="0.9"/><circle cx="411.7" cy="230.3" r="0.9"/><circle cx="428.2" cy="224.0" r="0.9"/><circle cx="452.4" cy="285.9" r="0.9"/><circle cx="449.4" cy="279.7" r="0.9"/><circle cx="420.3" cy="233.1" r="0.9"/><circle cx="469.6" cy="269.3" r="0.9"/><circle cx="441.3" cy="251.6" r="0.9"/><circle cx="438.3" cy="258.5" r="0.9"/><circle cx="406.9" cy="218.4" r="0.9"/><circle cx="420.2" cy="234.4" r="0.9"/><circle cx="452.6" cy="291.1" r="0.9"/><circle cx="469.6" cy="244.0" r="0.9"/><circle cx="430.9" cy="235.9" r="0.9"/><circle cx="460.7" cy="232.1" r="0.9"/><circle cx="424.6" cy="235.2" r="0.9"/><circle cx="439.9" cy="227.0" r="0.9"/><circle cx="407.4" cy="225.0" r="0.9"/><circle cx="411.2" cy="215.8" r="0.9"/><circle cx="414.4" cy="232.6" r="0.9"/><circle cx="439.7" cy="243.1" r="0.9"/><circle cx="428.9" cy="225.1" r="0.9"/><circle cx="455.8" cy="228.9" r="0.9"/><circle cx="469.1" cy="242.4" r="0.9"/><circle cx="410.1" cy="215.9" r="0.9"/><circle cx="430.1" cy="235.8" r="0.9"/><circle cx="448.8" cy="279.0" r="0.9"/><circle cx="461.4" cy="294.4" r="0.9"/><circle cx="406.7" cy="226.5" r="0.9"/><circle cx="463.0" cy="234.5" r="0.9"/><circle cx="437.7" cy="261.7" r="0.9"/><circle cx="464.2" cy="290.7" r="0.9"/><circle cx="462.6" cy="231.6" r="0.9"/><circle cx="415.1" cy="232.9" r="0.9"/><circle cx="438.5" cy="258.3" r="0.9"/><circle cx="420.4" cy="220.0" r="0.9"/><circle cx="470.2" cy="245.0" r="0.9"/><circle cx="467.7" cy="241.6" r="0.9"/><circle cx="471.0" cy="264.5" r="0.9"/><circle cx="470.9" cy="269.6" r="0.9"/><circle cx="420.5" cy="233.6" r="0.9"/><circle cx="457.7" cy="296.5" r="0.9"/><circle cx="469.6" cy="271.8" r="0.9"/><circle cx="467.1" cy="279.2" r="0.9"/><circle cx="467.3" cy="282.1" r="0.9"/><circle cx="442.2" cy="226.8" r="0.9"/><circle cx="449.7" cy="280.5" r="0.9"/><circle cx="439.4" cy="256.0" r="0.9"/><circle cx="449.2" cy="226.9" r="0.9"/><circle cx="467.1" cy="281.4" r="0.9"/><circle cx="470.8" cy="267.5" r="0.9"/><circle cx="439.9" cy="268.7" r="0.9"/><circle cx="446.6" cy="275.4" r="0.9"/><circle cx="440.3" cy="252.1" r="0.9"/><circle cx="445.1" cy="226.9" r="0.9"/><circle cx="415.7" cy="218.2" r="0.9"/><circle cx="468.2" cy="278.0" r="0.9"/><circle cx="406.4" cy="222.4" r="0.9"/><circle cx="423.2" cy="235.0" r="0.9"/><circle cx="465.3" cy="289.1" r="0.9"/><circle cx="422.1" cy="234.2" r="0.9"/><circle cx="462.4" cy="233.5" r="0.9"/><circle cx="440.6" cy="253.4" r="0.9"/><circle cx="464.1" cy="236.2" r="0.9"/><circle cx="464.1" cy="236.0" r="0.9"/><circle cx="434.9" cy="226.4" r="0.9"/><circle cx="438.6" cy="266.6" r="0.9"/><circle cx="459.4" cy="295.5" r="0.9"/><circle cx="470.8" cy="269.4" r="0.9"/><circle cx="440.6" cy="269.7" r="0.9"/><circle cx="471.2" cy="259.6" r="0.9"/><circle cx="439.9" cy="256.7" r="0.9"/><circle cx="470.6" cy="269.1" r="0.9"/><circle cx="451.7" cy="286.3" r="0.9"/><circle cx="468.3" cy="272.6" r="0.9"/><circle cx="443.1" cy="270.9" r="0.9"/><circle cx="466.4" cy="280.5" r="0.9"/><circle cx="411.1" cy="216.0" r="0.9"/><circle cx="411.6" cy="215.3" r="0.9"/><circle cx="466.6" cy="278.7" r="0.9"/><circle cx="452.7" cy="228.3" r="0.9"/><circle cx="472.5" cy="260.1" r="0.9"/><circle cx="461.2" cy="231.2" r="0.9"/><circle cx="460.9" cy="295.3" r="0.9"/><circle cx="448.5" cy="276.5" r="0.9"/><circle cx="440.2" cy="255.3" r="0.9"/><circle cx="409.3" cy="216.0" r="0.9"/><circle cx="445.3" cy="272.3" r="0.9"/><circle cx="440.1" cy="267.9" r="0.9"/><circle cx="452.4" cy="285.2" r="0.9"/><circle cx="439.7" cy="240.5" r="0.9"/><circle cx="410.7" cy="216.3" r="0.9"/><circle cx="408.2" cy="228.7" r="0.9"/><circle cx="421.7" cy="221.2" r="0.9"/><circle cx="427.4" cy="224.4" r="0.9"/><circle cx="451.7" cy="288.2" r="0.9"/><circle cx="441.0" cy="249.2" r="0.9"/><circle cx="472.3" cy="257.3" r="0.9"/><circle cx="433.4" cy="236.4" r="0.9"/><circle cx="408.1" cy="228.5" r="0.9"/><circle cx="439.1" cy="266.9" r="0.9"/><circle cx="407.2" cy="227.4" r="0.9"/><circle cx="460.3" cy="295.2" r="0.9"/><circle cx="437.5" cy="261.5" r="0.9"/><circle cx="436.0" cy="240.2" r="0.9"/><circle cx="460.0" cy="231.3" r="0.9"/><circle cx="471.3" cy="260.1" r="0.9"/><circle cx="445.4" cy="227.5" r="0.9"/><circle cx="473.2" cy="250.6" r="0.9"/><circle cx="464.2" cy="237.6" r="0.9"/><circle cx="423.8" cy="222.1" r="0.9"/></g>
<circle cx="377.4" cy="248.7" r="0.8" fill="#f2bcd0"/><circle cx="403.7" cy="235.2" r="0.8" fill="#eeaac6"/><circle cx="397.6" cy="249.9" r="0.8" fill="#f7dbe6"/><circle cx="410.5" cy="268.0" r="0.8" fill="#f6d3e0"/><circle cx="390.6" cy="222.9" r="0.8" fill="#f2bcd0"/><circle cx="382.0" cy="237.6" r="0.8" fill="#eeaac6"/><circle cx="401.6" cy="272.1" r="0.8" fill="#f2bcd0"/><circle cx="400.7" cy="222.7" r="0.8" fill="#f2bcd0"/><circle cx="387.5" cy="271.0" r="0.8" fill="#f6d3e0"/><circle cx="403.3" cy="266.5" r="0.8" fill="#f4c6d8"/><circle cx="397.0" cy="272.4" r="0.8" fill="#f2bcd0"/><circle cx="401.3" cy="253.5" r="0.8" fill="#eeaac6"/><circle cx="388.6" cy="249.6" r="0.8" fill="#eeaac6"/><circle cx="395.6" cy="275.1" r="0.8" fill="#f4c6d8"/><circle cx="390.6" cy="249.9" r="0.8" fill="#f7dbe6"/><circle cx="407.9" cy="266.8" r="0.8" fill="#f6d3e0"/><circle cx="381.1" cy="250.2" r="0.8" fill="#f4c6d8"/><circle cx="405.1" cy="243.6" r="0.8" fill="#f7dbe6"/><circle cx="387.3" cy="250.6" r="0.8" fill="#f4c6d8"/><circle cx="386.3" cy="232.3" r="0.8" fill="#f7dbe6"/><circle cx="406.1" cy="237.3" r="0.8" fill="#eeaac6"/><circle cx="401.3" cy="251.3" r="0.8" fill="#eeaac6"/><circle cx="406.1" cy="230.9" r="0.8" fill="#f7dbe6"/><circle cx="396.8" cy="261.0" r="0.8" fill="#f4c6d8"/><circle cx="389.2" cy="262.6" r="0.8" fill="#f7dbe6"/><circle cx="392.4" cy="253.7" r="0.8" fill="#eeaac6"/><circle cx="410.6" cy="263.8" r="0.8" fill="#eeaac6"/><circle cx="380.7" cy="243.2" r="0.8" fill="#f7dbe6"/><circle cx="393.6" cy="221.4" r="0.8" fill="#f2bcd0"/><circle cx="402.6" cy="235.4" r="0.8" fill="#eeaac6"/><circle cx="368.7" cy="236.2" r="0.8" fill="#f7dbe6"/><circle cx="388.1" cy="250.5" r="0.8" fill="#f4c6d8"/><circle cx="386.0" cy="261.3" r="0.8" fill="#f6d3e0"/><circle cx="405.9" cy="272.7" r="0.8" fill="#f6d3e0"/><circle cx="393.9" cy="254.9" r="0.8" fill="#f2bcd0"/><circle cx="410.8" cy="263.4" r="0.8" fill="#eeaac6"/><circle cx="394.9" cy="229.6" r="0.8" fill="#f4c6d8"/><circle cx="388.3" cy="224.1" r="0.8" fill="#eeaac6"/><circle cx="387.0" cy="225.2" r="0.8" fill="#f6d3e0"/><circle cx="391.8" cy="268.2" r="0.8" fill="#f6d3e0"/><circle cx="410.2" cy="266.2" r="0.8" fill="#f7dbe6"/><circle cx="404.0" cy="233.8" r="0.8" fill="#f6d3e0"/><circle cx="388.0" cy="251.0" r="0.8" fill="#f2bcd0"/><circle cx="402.4" cy="231.7" r="0.8" fill="#f2bcd0"/><circle cx="391.5" cy="267.9" r="0.8" fill="#eeaac6"/><circle cx="390.1" cy="221.6" r="0.8" fill="#f6d3e0"/><circle cx="379.8" cy="230.0" r="0.8" fill="#f7dbe6"/><circle cx="381.1" cy="226.3" r="0.8" fill="#f4c6d8"/><circle cx="394.9" cy="266.6" r="0.8" fill="#f7dbe6"/><circle cx="396.9" cy="224.5" r="0.8" fill="#f2bcd0"/><circle cx="368.5" cy="237.8" r="0.8" fill="#f7dbe6"/><circle cx="386.0" cy="239.3" r="0.8" fill="#f2bcd0"/><circle cx="400.3" cy="274.2" r="0.8" fill="#eeaac6"/><circle cx="388.3" cy="270.1" r="0.8" fill="#f6d3e0"/><circle cx="396.9" cy="222.5" r="0.8" fill="#eeaac6"/><circle cx="395.1" cy="272.9" r="0.8" fill="#f2bcd0"/><circle cx="388.8" cy="257.8" r="0.8" fill="#f6d3e0"/><circle cx="400.5" cy="262.2" r="0.8" fill="#f7dbe6"/><circle cx="402.6" cy="270.1" r="0.8" fill="#f6d3e0"/><circle cx="380.2" cy="245.8" r="0.8" fill="#f7dbe6"/><circle cx="400.8" cy="263.8" r="0.8" fill="#f4c6d8"/><circle cx="387.1" cy="224.2" r="0.8" fill="#f2bcd0"/><circle cx="385.5" cy="267.5" r="0.8" fill="#f7dbe6"/><circle cx="408.5" cy="261.5" r="0.8" fill="#f2bcd0"/><circle cx="408.2" cy="264.2" r="0.8" fill="#f7dbe6"/><circle cx="375.3" cy="244.9" r="0.8" fill="#eeaac6"/><circle cx="394.6" cy="264.1" r="0.8" fill="#f7dbe6"/><circle cx="367.8" cy="233.3" r="0.8" fill="#f2bcd0"/><circle cx="378.4" cy="239.1" r="0.8" fill="#f6d3e0"/><circle cx="377.6" cy="229.1" r="0.8" fill="#f6d3e0"/><circle cx="403.9" cy="267.4" r="0.8" fill="#f7dbe6"/><circle cx="385.1" cy="268.2" r="0.8" fill="#f7dbe6"/><circle cx="387.5" cy="251.4" r="0.8" fill="#f6d3e0"/><circle cx="375.0" cy="236.6" r="0.8" fill="#f7dbe6"/><circle cx="383.9" cy="260.5" r="0.8" fill="#eeaac6"/><circle cx="387.7" cy="266.5" r="0.8" fill="#f4c6d8"/><circle cx="384.7" cy="256.5" r="0.8" fill="#f2bcd0"/><circle cx="399.9" cy="227.6" r="0.8" fill="#f7dbe6"/><circle cx="404.6" cy="228.2" r="0.8" fill="#eeaac6"/><circle cx="399.2" cy="275.3" r="0.8" fill="#eeaac6"/><circle cx="398.4" cy="228.4" r="0.8" fill="#f6d3e0"/><circle cx="407.2" cy="265.9" r="0.8" fill="#eeaac6"/><circle cx="372.0" cy="233.7" r="0.8" fill="#f6d3e0"/><circle cx="408.2" cy="271.2" r="0.8" fill="#f6d3e0"/><circle cx="383.1" cy="262.1" r="0.8" fill="#f4c6d8"/><circle cx="399.1" cy="253.1" r="0.8" fill="#f4c6d8"/><circle cx="387.7" cy="245.3" r="0.8" fill="#f7dbe6"/><circle cx="375.3" cy="238.5" r="0.8" fill="#f2bcd0"/><circle cx="380.6" cy="238.6" r="0.8" fill="#f2bcd0"/><circle cx="386.5" cy="236.0" r="0.8" fill="#f6d3e0"/><circle cx="400.4" cy="272.4" r="0.8" fill="#f4c6d8"/><circle cx="389.1" cy="272.4" r="0.8" fill="#f4c6d8"/><circle cx="407.4" cy="270.2" r="0.8" fill="#f6d3e0"/><circle cx="390.4" cy="252.3" r="0.8" fill="#f7dbe6"/><circle cx="375.4" cy="246.8" r="0.8" fill="#f2bcd0"/><circle cx="376.9" cy="240.5" r="0.8" fill="#f4c6d8"/><circle cx="387.1" cy="235.9" r="0.8" fill="#f7dbe6"/><circle cx="384.1" cy="265.5" r="0.8" fill="#f6d3e0"/><circle cx="385.9" cy="242.0" r="0.8" fill="#f6d3e0"/><circle cx="393.2" cy="261.7" r="0.8" fill="#f2bcd0"/><circle cx="393.7" cy="263.6" r="0.8" fill="#f7dbe6"/><circle cx="387.6" cy="246.1" r="0.8" fill="#f4c6d8"/><circle cx="388.4" cy="254.9" r="0.8" fill="#eeaac6"/><circle cx="384.6" cy="263.6" r="0.8" fill="#f6d3e0"/><circle cx="377.1" cy="241.2" r="0.8" fill="#f4c6d8"/><circle cx="396.4" cy="270.6" r="0.8" fill="#f2bcd0"/><circle cx="391.6" cy="222.4" r="0.8" fill="#f6d3e0"/><circle cx="393.9" cy="252.9" r="0.8" fill="#f7dbe6"/><circle cx="404.0" cy="245.1" r="0.8" fill="#f4c6d8"/><circle cx="382.8" cy="241.8" r="0.8" fill="#f4c6d8"/><circle cx="403.9" cy="269.0" r="0.8" fill="#f4c6d8"/><circle cx="401.5" cy="269.0" r="0.8" fill="#f6d3e0"/><circle cx="375.7" cy="225.5" r="0.8" fill="#eeaac6"/><circle cx="378.6" cy="247.2" r="0.8" fill="#f7dbe6"/><circle cx="404.2" cy="242.3" r="0.8" fill="#f7dbe6"/><circle cx="387.5" cy="266.4" r="0.8" fill="#f2bcd0"/><circle cx="405.3" cy="237.4" r="0.8" fill="#f7dbe6"/><circle cx="388.6" cy="254.2" r="0.8" fill="#f7dbe6"/><circle cx="379.3" cy="227.1" r="0.8" fill="#f4c6d8"/><circle cx="400.5" cy="229.7" r="0.8" fill="#f7dbe6"/><circle cx="383.2" cy="240.9" r="0.8" fill="#eeaac6"/><circle cx="399.2" cy="271.5" r="0.8" fill="#f2bcd0"/><circle cx="388.9" cy="261.7" r="0.8" fill="#f4c6d8"/><circle cx="367.1" cy="230.3" r="0.8" fill="#f2bcd0"/><circle cx="408.8" cy="261.6" r="0.8" fill="#f2bcd0"/><circle cx="403.7" cy="267.2" r="0.8" fill="#f2bcd0"/><circle cx="401.7" cy="272.6" r="0.8" fill="#f2bcd0"/><circle cx="391.7" cy="257.7" r="0.8" fill="#f4c6d8"/><circle cx="406.5" cy="258.3" r="0.8" fill="#f4c6d8"/><circle cx="398.2" cy="254.0" r="0.8" fill="#eeaac6"/><circle cx="401.6" cy="224.0" r="0.8" fill="#f6d3e0"/><circle cx="385.8" cy="267.8" r="0.8" fill="#eeaac6"/><circle cx="385.9" cy="232.2" r="0.8" fill="#eeaac6"/><circle cx="392.7" cy="253.9" r="0.8" fill="#f6d3e0"/><circle cx="407.1" cy="270.4" r="0.8" fill="#f6d3e0"/><circle cx="371.7" cy="233.6" r="0.8" fill="#eeaac6"/><circle cx="391.6" cy="225.1" r="0.8" fill="#f4c6d8"/><circle cx="389.4" cy="271.7" r="0.8" fill="#f2bcd0"/><circle cx="391.3" cy="260.3" r="0.8" fill="#f7dbe6"/><circle cx="393.1" cy="261.6" r="0.8" fill="#f6d3e0"/><circle cx="397.9" cy="266.9" r="0.8" fill="#f4c6d8"/><circle cx="406.1" cy="236.3" r="0.8" fill="#f7dbe6"/><circle cx="390.6" cy="262.8" r="0.8" fill="#f2bcd0"/><circle cx="385.8" cy="226.4" r="0.8" fill="#f4c6d8"/><circle cx="370.3" cy="234.2" r="0.8" fill="#eeaac6"/><circle cx="387.9" cy="264.5" r="0.8" fill="#f2bcd0"/><circle cx="382.9" cy="239.5" r="0.8" fill="#f2bcd0"/><circle cx="396.9" cy="252.0" r="0.8" fill="#f6d3e0"/><circle cx="386.7" cy="267.4" r="0.8" fill="#f6d3e0"/><circle cx="386.3" cy="259.1" r="0.8" fill="#f4c6d8"/><circle cx="405.9" cy="274.5" r="0.8" fill="#eeaac6"/><circle cx="378.9" cy="232.0" r="0.8" fill="#f6d3e0"/><circle cx="386.5" cy="227.0" r="0.8" fill="#f6d3e0"/><circle cx="385.6" cy="238.8" r="0.8" fill="#f7dbe6"/><circle cx="398.8" cy="257.8" r="0.8" fill="#eeaac6"/><circle cx="397.4" cy="253.0" r="0.8" fill="#f4c6d8"/><circle cx="394.0" cy="272.8" r="0.8" fill="#f4c6d8"/><circle cx="377.7" cy="241.1" r="0.8" fill="#eeaac6"/><circle cx="374.5" cy="241.2" r="0.8" fill="#f2bcd0"/><circle cx="400.8" cy="226.1" r="0.8" fill="#f6d3e0"/><circle cx="379.8" cy="245.1" r="0.8" fill="#f6d3e0"/><circle cx="399.5" cy="247.1" r="0.8" fill="#f6d3e0"/><circle cx="387.5" cy="259.9" r="0.8" fill="#f7dbe6"/><circle cx="381.6" cy="228.5" r="0.8" fill="#f2bcd0"/><circle cx="374.8" cy="240.5" r="0.8" fill="#f4c6d8"/><circle cx="394.5" cy="270.6" r="0.8" fill="#eeaac6"/><circle cx="396.0" cy="261.7" r="0.8" fill="#f7dbe6"/><circle cx="386.7" cy="228.1" r="0.8" fill="#f6d3e0"/><circle cx="404.4" cy="254.2" r="0.8" fill="#f7dbe6"/><circle cx="402.8" cy="246.8" r="0.8" fill="#eeaac6"/><circle cx="385.7" cy="261.9" r="0.8" fill="#f4c6d8"/><circle cx="386.1" cy="254.5" r="0.8" fill="#f6d3e0"/><circle cx="402.3" cy="235.8" r="0.8" fill="#f4c6d8"/><circle cx="404.6" cy="232.0" r="0.8" fill="#f2bcd0"/><circle cx="368.6" cy="228.2" r="0.8" fill="#f7dbe6"/><circle cx="385.9" cy="226.4" r="0.8" fill="#eeaac6"/><circle cx="402.6" cy="237.3" r="0.8" fill="#f7dbe6"/><circle cx="385.3" cy="265.7" r="0.8" fill="#eeaac6"/><circle cx="373.1" cy="241.2" r="0.8" fill="#f7dbe6"/><circle cx="405.4" cy="239.8" r="0.8" fill="#f2bcd0"/><circle cx="386.0" cy="225.5" r="0.8" fill="#f2bcd0"/><circle cx="403.7" cy="244.9" r="0.8" fill="#eeaac6"/><circle cx="385.8" cy="253.8" r="0.8" fill="#f4c6d8"/><circle cx="374.5" cy="225.5" r="0.8" fill="#f2bcd0"/><circle cx="386.2" cy="253.0" r="0.8" fill="#f7dbe6"/><circle cx="387.1" cy="257.1" r="0.8" fill="#f6d3e0"/><circle cx="382.6" cy="251.7" r="0.8" fill="#f6d3e0"/><circle cx="391.9" cy="229.4" r="0.8" fill="#f4c6d8"/><circle cx="410.6" cy="262.4" r="0.8" fill="#f4c6d8"/><circle cx="376.4" cy="224.9" r="0.8" fill="#f2bcd0"/><circle cx="403.0" cy="245.4" r="0.8" fill="#f6d3e0"/><circle cx="384.2" cy="235.1" r="0.8" fill="#f6d3e0"/><circle cx="408.2" cy="266.5" r="0.8" fill="#f7dbe6"/><circle cx="386.5" cy="234.4" r="0.8" fill="#f2bcd0"/><circle cx="403.2" cy="246.6" r="0.8" fill="#f4c6d8"/><circle cx="406.6" cy="262.7" r="0.8" fill="#f2bcd0"/><circle cx="408.2" cy="260.0" r="0.8" fill="#f6d3e0"/><circle cx="390.3" cy="258.6" r="0.8" fill="#eeaac6"/><circle cx="380.3" cy="227.0" r="0.8" fill="#f4c6d8"/><circle cx="405.4" cy="269.0" r="0.8" fill="#f7dbe6"/>
<circle cx="403.6" cy="263.1" r="0.85" fill="#f2bcd0"/><circle cx="395.0" cy="273.1" r="0.85" fill="#e88ab5"/><circle cx="395.9" cy="252.0" r="0.85" fill="#f6d3e0"/><circle cx="395.8" cy="257.5" r="0.85" fill="#e88ab5"/><circle cx="388.6" cy="257.3" r="0.85" fill="#f2bcd0"/><circle cx="397.2" cy="263.5" r="0.85" fill="#eeaac6"/><circle cx="399.5" cy="267.4" r="0.85" fill="#f2bcd0"/><circle cx="398.7" cy="255.3" r="0.85" fill="#e88ab5"/><circle cx="391.6" cy="259.4" r="0.85" fill="#f6d3e0"/><circle cx="405.9" cy="267.1" r="0.85" fill="#f6d3e0"/><circle cx="400.2" cy="256.6" r="0.85" fill="#e88ab5"/><circle cx="401.7" cy="264.2" r="0.85" fill="#f6d3e0"/><circle cx="387.6" cy="268.6" r="0.85" fill="#e88ab5"/><circle cx="386.4" cy="266.5" r="0.85" fill="#e88ab5"/><circle cx="392.3" cy="264.8" r="0.85" fill="#f6d3e0"/><circle cx="386.0" cy="255.9" r="0.85" fill="#e88ab5"/><circle cx="407.0" cy="270.9" r="0.85" fill="#f6d3e0"/><circle cx="400.1" cy="255.5" r="0.85" fill="#e88ab5"/><circle cx="398.2" cy="271.0" r="0.85" fill="#f6d3e0"/><circle cx="398.3" cy="267.4" r="0.85" fill="#eeaac6"/><circle cx="402.1" cy="270.9" r="0.85" fill="#eeaac6"/><circle cx="394.0" cy="253.6" r="0.85" fill="#eeaac6"/><circle cx="386.9" cy="268.9" r="0.85" fill="#f6d3e0"/><circle cx="397.5" cy="267.4" r="0.85" fill="#e88ab5"/><circle cx="389.0" cy="255.5" r="0.85" fill="#e88ab5"/><circle cx="388.2" cy="267.8" r="0.85" fill="#e88ab5"/><circle cx="392.7" cy="256.8" r="0.85" fill="#f2bcd0"/><circle cx="389.2" cy="255.2" r="0.85" fill="#f2bcd0"/><circle cx="385.7" cy="254.1" r="0.85" fill="#e88ab5"/><circle cx="390.2" cy="259.5" r="0.85" fill="#f2bcd0"/><circle cx="407.6" cy="258.8" r="0.85" fill="#e88ab5"/><circle cx="402.4" cy="257.9" r="0.85" fill="#f6d3e0"/><circle cx="390.0" cy="268.2" r="0.85" fill="#f2bcd0"/><circle cx="404.2" cy="268.5" r="0.85" fill="#f2bcd0"/><circle cx="391.0" cy="270.3" r="0.85" fill="#f6d3e0"/><circle cx="401.5" cy="265.4" r="0.85" fill="#f6d3e0"/><circle cx="391.2" cy="267.1" r="0.85" fill="#eeaac6"/><circle cx="396.2" cy="274.2" r="0.85" fill="#eeaac6"/><circle cx="403.1" cy="258.0" r="0.85" fill="#eeaac6"/><circle cx="391.8" cy="271.5" r="0.85" fill="#e88ab5"/><circle cx="406.1" cy="259.2" r="0.85" fill="#e88ab5"/><circle cx="389.6" cy="266.9" r="0.85" fill="#f6d3e0"/><circle cx="386.8" cy="268.0" r="0.85" fill="#e88ab5"/><circle cx="385.5" cy="264.1" r="0.85" fill="#e88ab5"/><circle cx="391.2" cy="264.2" r="0.85" fill="#f2bcd0"/><circle cx="387.4" cy="252.6" r="0.85" fill="#e88ab5"/><circle cx="391.2" cy="257.6" r="0.85" fill="#e88ab5"/><circle cx="384.4" cy="254.8" r="0.85" fill="#f6d3e0"/><circle cx="395.4" cy="255.5" r="0.85" fill="#f6d3e0"/><circle cx="392.9" cy="253.8" r="0.85" fill="#f6d3e0"/><circle cx="398.4" cy="262.8" r="0.85" fill="#f6d3e0"/><circle cx="404.7" cy="253.9" r="0.85" fill="#f6d3e0"/><circle cx="409.5" cy="267.9" r="0.85" fill="#f6d3e0"/><circle cx="405.7" cy="267.0" r="0.85" fill="#eeaac6"/><circle cx="395.3" cy="253.8" r="0.85" fill="#f2bcd0"/><circle cx="402.8" cy="271.7" r="0.85" fill="#eeaac6"/><circle cx="404.8" cy="264.4" r="0.85" fill="#f6d3e0"/><circle cx="405.2" cy="266.9" r="0.85" fill="#f2bcd0"/><circle cx="388.2" cy="264.3" r="0.85" fill="#f2bcd0"/><circle cx="403.8" cy="252.1" r="0.85" fill="#f6d3e0"/><circle cx="397.1" cy="262.1" r="0.85" fill="#f2bcd0"/><circle cx="389.3" cy="271.3" r="0.85" fill="#f6d3e0"/><circle cx="398.9" cy="258.3" r="0.85" fill="#eeaac6"/><circle cx="395.3" cy="252.6" r="0.85" fill="#e88ab5"/><circle cx="394.7" cy="254.9" r="0.85" fill="#f6d3e0"/><circle cx="388.8" cy="255.6" r="0.85" fill="#eeaac6"/><circle cx="384.3" cy="254.1" r="0.85" fill="#e88ab5"/><circle cx="390.8" cy="256.8" r="0.85" fill="#eeaac6"/><circle cx="409.5" cy="265.1" r="0.85" fill="#e88ab5"/><circle cx="399.8" cy="254.5" r="0.85" fill="#eeaac6"/><circle cx="387.8" cy="261.4" r="0.85" fill="#f6d3e0"/><circle cx="404.1" cy="255.9" r="0.85" fill="#e88ab5"/><circle cx="403.1" cy="260.8" r="0.85" fill="#f2bcd0"/><circle cx="387.3" cy="270.0" r="0.85" fill="#f2bcd0"/><circle cx="409.7" cy="267.6" r="0.85" fill="#eeaac6"/><circle cx="399.5" cy="259.1" r="0.85" fill="#eeaac6"/><circle cx="385.7" cy="259.9" r="0.85" fill="#eeaac6"/><circle cx="398.1" cy="258.7" r="0.85" fill="#f6d3e0"/><circle cx="393.3" cy="270.2" r="0.85" fill="#eeaac6"/><circle cx="399.0" cy="257.5" r="0.85" fill="#f2bcd0"/><circle cx="408.9" cy="266.6" r="0.85" fill="#f2bcd0"/><circle cx="394.3" cy="263.9" r="0.85" fill="#eeaac6"/><circle cx="385.8" cy="252.8" r="0.85" fill="#f6d3e0"/><circle cx="403.7" cy="261.0" r="0.85" fill="#eeaac6"/><circle cx="396.9" cy="255.7" r="0.85" fill="#e88ab5"/><circle cx="392.4" cy="261.0" r="0.85" fill="#f2bcd0"/><circle cx="389.3" cy="266.1" r="0.85" fill="#f2bcd0"/><circle cx="394.1" cy="273.0" r="0.85" fill="#f6d3e0"/><circle cx="395.8" cy="272.5" r="0.85" fill="#eeaac6"/><circle cx="405.4" cy="253.2" r="0.85" fill="#eeaac6"/>
<circle cx="468.7" cy="257.8" r="0.65" fill="#eeaac6"/><circle cx="454.6" cy="285.4" r="0.65" fill="#f6d3e0"/><circle cx="428.7" cy="226.1" r="0.65" fill="#f6d3e0"/><circle cx="435.3" cy="234.0" r="0.65" fill="#f2bcd0"/><circle cx="463.0" cy="257.1" r="0.65" fill="#eeaac6"/><circle cx="424.3" cy="222.7" r="0.65" fill="#f4c6d8"/><circle cx="456.7" cy="251.9" r="0.65" fill="#eeaac6"/><circle cx="415.2" cy="217.9" r="0.65" fill="#f6d3e0"/><circle cx="427.6" cy="234.5" r="0.65" fill="#eeaac6"/><circle cx="418.4" cy="233.4" r="0.65" fill="#eeaac6"/><circle cx="455.5" cy="249.9" r="0.65" fill="#eeaac6"/><circle cx="467.8" cy="248.0" r="0.65" fill="#eeaac6"/><circle cx="463.9" cy="253.6" r="0.65" fill="#eeaac6"/><circle cx="454.3" cy="259.3" r="0.65" fill="#eeaac6"/><circle cx="429.8" cy="230.8" r="0.65" fill="#f7dbe6"/><circle cx="444.0" cy="253.9" r="0.65" fill="#f7dbe6"/><circle cx="445.7" cy="228.2" r="0.65" fill="#f4c6d8"/><circle cx="466.9" cy="243.6" r="0.65" fill="#f6d3e0"/><circle cx="448.9" cy="246.2" r="0.65" fill="#f6d3e0"/><circle cx="456.4" cy="250.5" r="0.65" fill="#f4c6d8"/><circle cx="436.7" cy="227.2" r="0.65" fill="#eeaac6"/><circle cx="450.0" cy="233.1" r="0.65" fill="#f7dbe6"/><circle cx="446.2" cy="241.6" r="0.65" fill="#f7dbe6"/><circle cx="452.6" cy="263.4" r="0.65" fill="#f6d3e0"/><circle cx="471.8" cy="257.9" r="0.65" fill="#f4c6d8"/><circle cx="457.5" cy="275.5" r="0.65" fill="#f6d3e0"/><circle cx="450.4" cy="254.1" r="0.65" fill="#f4c6d8"/><circle cx="459.7" cy="290.0" r="0.65" fill="#f4c6d8"/><circle cx="447.1" cy="234.4" r="0.65" fill="#eeaac6"/><circle cx="460.2" cy="256.6" r="0.65" fill="#eeaac6"/><circle cx="425.4" cy="232.5" r="0.65" fill="#f7dbe6"/><circle cx="456.1" cy="252.2" r="0.65" fill="#eeaac6"/><circle cx="449.1" cy="229.7" r="0.65" fill="#f6d3e0"/><circle cx="448.2" cy="241.7" r="0.65" fill="#f7dbe6"/><circle cx="416.5" cy="222.2" r="0.65" fill="#f7dbe6"/><circle cx="456.7" cy="269.0" r="0.65" fill="#f6d3e0"/><circle cx="456.4" cy="266.2" r="0.65" fill="#f2bcd0"/><circle cx="425.9" cy="229.5" r="0.65" fill="#f6d3e0"/><circle cx="469.8" cy="268.4" r="0.65" fill="#f6d3e0"/><circle cx="469.1" cy="248.2" r="0.65" fill="#f4c6d8"/>
<circle cx="421.3" cy="225.2" r="0.8" fill="#eeaac6"/><circle cx="417.1" cy="224.6" r="0.8" fill="#f2bcd0"/><circle cx="412.8" cy="225.4" r="0.8" fill="#f2bcd0"/><circle cx="416.2" cy="222.0" r="0.8" fill="#eeaac6"/><circle cx="414.6" cy="219.4" r="0.8" fill="#f2bcd0"/><circle cx="414.3" cy="221.7" r="0.8" fill="#eeaac6"/><circle cx="424.3" cy="223.2" r="0.8" fill="#e26fa4"/><circle cx="411.3" cy="221.1" r="0.8" fill="#e26fa4"/><circle cx="424.8" cy="224.6" r="0.8" fill="#f2bcd0"/><circle cx="412.2" cy="224.5" r="0.8" fill="#e26fa4"/><circle cx="419.6" cy="221.0" r="0.8" fill="#eeaac6"/><circle cx="417.3" cy="232.9" r="0.8" fill="#f2bcd0"/><circle cx="415.1" cy="223.0" r="0.8" fill="#eeaac6"/><circle cx="409.9" cy="218.0" r="0.8" fill="#f2bcd0"/><circle cx="418.7" cy="225.6" r="0.8" fill="#e26fa4"/><circle cx="422.2" cy="225.5" r="0.8" fill="#eeaac6"/><circle cx="414.6" cy="230.3" r="0.8" fill="#e26fa4"/><circle cx="430.3" cy="227.3" r="0.8" fill="#eeaac6"/><circle cx="417.6" cy="223.8" r="0.8" fill="#eeaac6"/><circle cx="416.8" cy="225.2" r="0.8" fill="#f2bcd0"/><circle cx="420.9" cy="222.8" r="0.8" fill="#eeaac6"/><circle cx="422.3" cy="228.2" r="0.8" fill="#eeaac6"/><circle cx="416.2" cy="229.1" r="0.8" fill="#e26fa4"/><circle cx="426.6" cy="226.5" r="0.8" fill="#eeaac6"/><circle cx="412.8" cy="219.1" r="0.8" fill="#e26fa4"/><circle cx="414.6" cy="220.2" r="0.8" fill="#f2bcd0"/><circle cx="413.2" cy="230.7" r="0.8" fill="#eeaac6"/><circle cx="415.2" cy="224.8" r="0.8" fill="#eeaac6"/><circle cx="418.7" cy="231.0" r="0.8" fill="#e26fa4"/><circle cx="408.9" cy="225.6" r="0.8" fill="#eeaac6"/>
<g fill="#d8559a"><circle cx="367" cy="231" r="1.1"/><circle cx="434" cy="261" r="1.2"/><circle cx="436" cy="262" r="1"/></g>
<line x1="418" y1="233.5" x2="429" y2="234.3" stroke="#a02080" stroke-width="1.6" stroke-linecap="round"/>
<circle cx="420" cy="233.6" r="1.5" fill="#5a1070"/>
<text x="423.8" y="218.8" font-size="7.2" fill="#222" stroke="#222" stroke-width="0.12">PVALB-Th</text>
<line x1="434" y1="222" x2="429.6" y2="236" stroke="#333" stroke-width="0.4"/>
<path d="M397.50,317.50 C397.67,316.50 399.75,315.33 401.00,315.00 C402.25,314.67 404.07,315.00 405.00,315.50 C405.93,316.00 406.68,317.12 406.60,318.00 C406.52,318.88 405.60,320.30 404.50,320.80 C403.40,321.30 401.17,321.55 400.00,321.00 C398.83,320.45 397.33,318.50 397.50,317.50Z" fill="none" stroke="#f0b6cc" stroke-width="1.3"/>
<text x="411" y="320.3" font-size="7" fill="#222" stroke="#222" stroke-width="0.12">SST-Chodl</text>
<defs><linearGradient id="cbc" x1="0" x2="0" y1="0" y2="1"><stop offset="0" stop-color="#4a1a6a"/><stop offset="0.17" stop-color="#8e1e80"/><stop offset="0.34" stop-color="#c22a8a"/><stop offset="0.5" stop-color="#d9509b"/><stop offset="0.67" stop-color="#e890b8"/><stop offset="0.84" stop-color="#f5c8dc"/><stop offset="1" stop-color="#fbeef3"/></linearGradient></defs>
<rect x="487.4" y="215.5" width="4.8" height="88.3" fill="url(#cbc)" stroke="#777" stroke-width="0.3"/>
<line x1="492.2" y1="221.5" x2="494" y2="221.5" stroke="#444" stroke-width="0.5"/>
<text x="495.6" y="224.1" font-size="7.2" fill="#222" stroke="#222" stroke-width="0.12">7</text>
<line x1="492.2" y1="235.8" x2="494" y2="235.8" stroke="#444" stroke-width="0.5"/>
<text x="495.6" y="238.4" font-size="7.2" fill="#222" stroke="#222" stroke-width="0.12">6</text>
<line x1="492.2" y1="250.1" x2="494" y2="250.1" stroke="#444" stroke-width="0.5"/>
<text x="495.6" y="252.7" font-size="7.2" fill="#222" stroke="#222" stroke-width="0.12">5</text>
<line x1="492.2" y1="264.4" x2="494" y2="264.4" stroke="#444" stroke-width="0.5"/>
<text x="495.6" y="267.0" font-size="7.2" fill="#222" stroke="#222" stroke-width="0.12">4</text>
<line x1="492.2" y1="278.7" x2="494" y2="278.7" stroke="#444" stroke-width="0.5"/>
<text x="495.6" y="281.3" font-size="7.2" fill="#222" stroke="#222" stroke-width="0.12">3</text>
<line x1="492.2" y1="293.0" x2="494" y2="293.0" stroke="#444" stroke-width="0.5"/>
<text x="495.6" y="295.6" font-size="7.2" fill="#222" stroke="#222" stroke-width="0.12">2</text>
<text transform="translate(506.5,263) rotate(90)" text-anchor="middle" font-size="7.1" fill="#222" stroke="#222" stroke-width="0.12">-log10 p-value</text>
<rect x="487.4" y="311.6" width="5" height="5" fill="#cfcfcf" stroke="#999" stroke-width="0.3"/>
<text x="495.6" y="317.3" font-size="8.3" fill="#222" stroke="#222" stroke-width="0.12">n.s.</text>
</g><g id="pd">
<text x="531.4" y="207.4" font-size="8.7" fill="#d03545" stroke="#d03545" stroke-width="0.12">PVALB</text>
<text x="591.8" y="207.9" font-size="8.7" fill="#3a8fd0" stroke="#3a8fd0" stroke-width="0.12">SST</text>
<rect x="527.7" y="212.70" width="9.75" height="9.64" fill="#b0207e" stroke="#cfcfcf" stroke-width="0.4"/>
<rect x="537.45" y="212.70" width="9.75" height="9.64" fill="#fbeef2" stroke="#cfcfcf" stroke-width="0.4"/>
<text x="549.5" y="220.12" font-size="7.4" fill="#f9dde5" stroke="#f9dde5" stroke-width="0.12">Unc5b</text>
<circle cx="530.98" cy="217.52" r="0.8" fill="#111"/><circle cx="534.18" cy="217.52" r="0.8" fill="#111"/>
<rect x="527.7" y="222.34" width="9.75" height="9.64" fill="#fbe8ee" stroke="#cfcfcf" stroke-width="0.4"/>
<rect x="537.45" y="222.34" width="9.75" height="9.64" fill="#f9e0e8" stroke="#cfcfcf" stroke-width="0.4"/>
<text x="549.5" y="229.76" font-size="7.4" fill="#f6c4d2" stroke="#f6c4d2" stroke-width="0.12">Col25a1</text>
<rect x="527.7" y="231.98" width="9.75" height="9.64" fill="#fbe8ee" stroke="#cfcfcf" stroke-width="0.4"/>
<rect x="537.45" y="231.98" width="9.75" height="9.64" fill="#fae4ea" stroke="#cfcfcf" stroke-width="0.4"/>
<text x="549.5" y="239.40" font-size="7.4" fill="#f0a0b8" stroke="#f0a0b8" stroke-width="0.12">Rorb</text>
<rect x="527.7" y="241.62" width="9.75" height="9.64" fill="#fbe8ee" stroke="#cfcfcf" stroke-width="0.4"/>
<rect x="537.45" y="241.62" width="9.75" height="9.64" fill="#f9e2e9" stroke="#cfcfcf" stroke-width="0.4"/>
<text x="549.5" y="249.04" font-size="7.4" fill="#e57a9c" stroke="#e57a9c" stroke-width="0.12">Reln</text>
<rect x="527.7" y="251.26" width="9.75" height="9.64" fill="#fae4ea" stroke="#cfcfcf" stroke-width="0.4"/>
<rect x="537.45" y="251.26" width="9.75" height="9.64" fill="#f6d0dd" stroke="#cfcfcf" stroke-width="0.4"/>
<text x="549.5" y="258.68" font-size="7.4" fill="#f0003c" stroke="#f0003c" stroke-width="0.12">Fzd6</text>
<rect x="527.7" y="260.90" width="9.75" height="9.64" fill="#fbe8ee" stroke="#cfcfcf" stroke-width="0.4"/>
<rect x="537.45" y="260.90" width="9.75" height="9.64" fill="#fae6ec" stroke="#cfcfcf" stroke-width="0.4"/>
<text x="549.5" y="268.32" font-size="7.4" fill="#d0021b" stroke="#d0021b" stroke-width="0.12">Slc39a8</text>
<rect x="527.7" y="270.54" width="9.75" height="9.64" fill="#f4cadb" stroke="#cfcfcf" stroke-width="0.4"/>
<rect x="537.45" y="270.54" width="9.75" height="9.64" fill="#db5f9c" stroke="#cfcfcf" stroke-width="0.4"/>
<text x="549.5" y="277.96" font-size="7.4" fill="#8b1a2b" stroke="#8b1a2b" stroke-width="0.12">Th</text>
<text transform="translate(534.98,298) rotate(-90)" font-size="7" fill="#222" stroke="#222" stroke-width="0.12">MOs</text>
<text transform="translate(544.73,298.5) rotate(-90)" font-size="7" fill="#222" stroke="#222" stroke-width="0.12">VISp</text>
<rect x="584.4" y="212.40" width="9.8" height="9.50" fill="#eeb6cc" stroke="#cfcfcf" stroke-width="0.4"/>
<rect x="594.1999999999999" y="212.40" width="9.8" height="9.50" fill="#e79bbb" stroke="#cfcfcf" stroke-width="0.4"/>
<text x="605.6" y="219.75" font-size="7.4" fill="#dbe9f6" stroke="#dbe9f6" stroke-width="0.12">Mme</text>
<rect x="584.4" y="221.90" width="9.8" height="9.50" fill="#ea9fbf" stroke="#cfcfcf" stroke-width="0.4"/>
<rect x="594.1999999999999" y="221.90" width="9.8" height="9.50" fill="#f0bcd0" stroke="#cfcfcf" stroke-width="0.4"/>
<text x="605.6" y="229.25" font-size="7.4" fill="#c2dff2" stroke="#c2dff2" stroke-width="0.12">Calb2</text>
<rect x="584.4" y="231.40" width="9.8" height="9.50" fill="#f8dde7" stroke="#cfcfcf" stroke-width="0.4"/>
<rect x="594.1999999999999" y="231.40" width="9.8" height="9.50" fill="#ea9fbf" stroke="#cfcfcf" stroke-width="0.4"/>
<text x="605.6" y="238.75" font-size="7.4" fill="#b0d6ee" stroke="#b0d6ee" stroke-width="0.12">Hpse</text>
<rect x="584.4" y="240.90" width="9.8" height="9.50" fill="#f2c4d6" stroke="#cfcfcf" stroke-width="0.4"/>
<rect x="594.1999999999999" y="240.90" width="9.8" height="9.50" fill="#f5d3e0" stroke="#cfcfcf" stroke-width="0.4"/>
<text x="605.6" y="248.25" font-size="7.4" fill="#8cc3e2" stroke="#8cc3e2" stroke-width="0.12">Syndig1l</text>
<rect x="584.4" y="250.40" width="9.8" height="9.50" fill="#ec9fc0" stroke="#cfcfcf" stroke-width="0.4"/>
<rect x="594.1999999999999" y="250.40" width="9.8" height="9.50" fill="#f7dbe5" stroke="#cfcfcf" stroke-width="0.4"/>
<text x="605.6" y="257.75" font-size="7.4" fill="#8ccbec" stroke="#8ccbec" stroke-width="0.12">Etv1</text>
<rect x="584.4" y="259.90" width="9.8" height="9.50" fill="#f0bcd0" stroke="#cfcfcf" stroke-width="0.4"/>
<rect x="594.1999999999999" y="259.90" width="9.8" height="9.50" fill="#eeb0c8" stroke="#cfcfcf" stroke-width="0.4"/>
<text x="605.6" y="267.25" font-size="7.4" fill="#1aa8dc" stroke="#1aa8dc" stroke-width="0.12">Chrna2</text>
<rect x="584.4" y="269.40" width="9.8" height="9.50" fill="#d6609c" stroke="#cfcfcf" stroke-width="0.4"/>
<rect x="594.1999999999999" y="269.40" width="9.8" height="9.50" fill="#f4cbdb" stroke="#cfcfcf" stroke-width="0.4"/>
<text x="605.6" y="276.75" font-size="7.4" fill="#4a90c8" stroke="#4a90c8" stroke-width="0.12">Crh−1</text>
<circle cx="589.30" cy="274.15" r="0.75" fill="#111"/>
<rect x="584.4" y="278.90" width="9.8" height="9.50" fill="#f7d8e4" stroke="#cfcfcf" stroke-width="0.4"/>
<rect x="594.1999999999999" y="278.90" width="9.8" height="9.50" fill="#e48fb5" stroke="#cfcfcf" stroke-width="0.4"/>
<text x="605.6" y="286.25" font-size="7.4" fill="#2e86cf" stroke="#2e86cf" stroke-width="0.12">Crh−2</text>
<rect x="584.4" y="288.40" width="9.8" height="9.50" fill="#d05596" stroke="#cfcfcf" stroke-width="0.4"/>
<rect x="594.1999999999999" y="288.40" width="9.8" height="9.50" fill="#f6d5e2" stroke="#cfcfcf" stroke-width="0.4"/>
<text x="605.6" y="295.75" font-size="7.4" fill="#6688aa" stroke="#6688aa" stroke-width="0.12">Nmbr−1</text>
<circle cx="589.30" cy="293.15" r="0.75" fill="#111"/>
<rect x="584.4" y="297.90" width="9.8" height="9.50" fill="#eaa3c1" stroke="#cfcfcf" stroke-width="0.4"/>
<rect x="594.1999999999999" y="297.90" width="9.8" height="9.50" fill="#f7dbe5" stroke="#cfcfcf" stroke-width="0.4"/>
<text x="605.6" y="305.25" font-size="7.4" fill="#1f4fb5" stroke="#1f4fb5" stroke-width="0.12">Nmbr−2</text>
<rect x="584.4" y="307.40" width="9.8" height="9.50" fill="#cccccc" stroke="#cfcfcf" stroke-width="0.4"/>
<rect x="594.1999999999999" y="307.40" width="9.8" height="9.50" fill="#cccccc" stroke="#cfcfcf" stroke-width="0.4"/>
<text x="605.6" y="314.75" font-size="7.4" fill="#1a3a66" stroke="#1a3a66" stroke-width="0.12">Th</text>
<rect x="584.4" y="316.90" width="9.8" height="9.50" fill="#c6418a" stroke="#cfcfcf" stroke-width="0.4"/>
<rect x="594.1999999999999" y="316.90" width="9.8" height="9.50" fill="#c6418a" stroke="#cfcfcf" stroke-width="0.4"/>
<text x="605.6" y="324.25" font-size="7.4" fill="#283080" stroke="#283080" stroke-width="0.12">Chodl</text>
<circle cx="589.30" cy="321.65" r="0.75" fill="#111"/>
<circle cx="599.10" cy="321.65" r="0.75" fill="#111"/>
<text transform="translate(591.70,342) rotate(-90)" font-size="7" fill="#222" stroke="#222" stroke-width="0.12">MOs</text>
<text transform="translate(601.50,342.5) rotate(-90)" font-size="7" fill="#222" stroke="#222" stroke-width="0.12">VISp</text>
<defs><linearGradient id="cbd" x1="0" x2="0" y1="0" y2="1"><stop offset="0" stop-color="#4d1466"/><stop offset="0.25" stop-color="#a0288a"/><stop offset="0.5" stop-color="#d45a9e"/><stop offset="0.75" stop-color="#eeaac8"/><stop offset="1" stop-color="#fdf2f6"/></linearGradient></defs>
<rect x="640.8" y="230.5" width="3.2" height="60.1" fill="url(#cbd)"/>
<text x="646.3" y="233.0" font-size="7" fill="#222" stroke="#222" stroke-width="0.12">100%</text>
<text x="646.3" y="245.0" font-size="7" fill="#222" stroke="#222" stroke-width="0.12">80%</text>
<text x="646.3" y="257.0" font-size="7" fill="#222" stroke="#222" stroke-width="0.12">60%</text>
<text x="646.3" y="269.1" font-size="7" fill="#222" stroke="#222" stroke-width="0.12">40%</text>
<text x="646.3" y="281.1" font-size="7" fill="#222" stroke="#222" stroke-width="0.12">20%</text>
<text x="646.3" y="293.1" font-size="7" fill="#222" stroke="#222" stroke-width="0.12">0%</text>
<line x1="641.2" y1="303.8" x2="643.6" y2="303.8" stroke="#aaa" stroke-width="0.8"/>
<text x="646.3" y="306.3" font-size="7" fill="#222" stroke="#222" stroke-width="0.12">N/A</text>
<text transform="translate(676.8,271.8) rotate(90)" text-anchor="middle" font-size="7.15" fill="#222" stroke="#222" stroke-width="0.12">Percentage of cells show significant transcriptomic</text>
<text transform="translate(670.2,271.8) rotate(90)" text-anchor="middle" font-size="7.15" fill="#222" stroke="#222" stroke-width="0.12">difference across two regions in each subtype</text>
</g><g id="pe">
<text x="42.4" y="398.6" font-size="8.8" fill="#d6304a" stroke="#d6304a" stroke-width="0.12">PVALB</text>
<text x="94" y="398.6" font-size="8.8" fill="#3a8fd0" stroke="#3a8fd0" stroke-width="0.12">SST</text>
<rect x="44" y="405.80" width="6.9" height="2.10" fill="#fbe3ea"/><rect x="44" y="407.90" width="6.9" height="32.70" fill="#f7c0cc"/><rect x="44" y="440.60" width="6.9" height="4.60" fill="#f09cb0"/><rect x="44" y="445.20" width="6.9" height="27.20" fill="#e06b8f"/><rect x="44" y="472.40" width="6.9" height="30.30" fill="#f80a3c"/><rect x="44" y="502.70" width="6.9" height="21.20" fill="#c90c1e"/><rect x="44" y="523.90" width="6.9" height="3.10" fill="#7a1025"/><line x1="44" y1="407.90" x2="50.9" y2="407.90" stroke="#fff" stroke-width="0.6"/><line x1="44" y1="440.60" x2="50.9" y2="440.60" stroke="#fff" stroke-width="0.6"/><line x1="44" y1="445.20" x2="50.9" y2="445.20" stroke="#fff" stroke-width="0.6"/><line x1="44" y1="472.40" x2="50.9" y2="472.40" stroke="#fff" stroke-width="0.6"/><line x1="44" y1="502.70" x2="50.9" y2="502.70" stroke="#fff" stroke-width="0.6"/><line x1="44" y1="523.90" x2="50.9" y2="523.90" stroke="#fff" stroke-width="0.6"/>
<rect x="62.4" y="405.80" width="7.1" height="2.10" fill="#fbe3ea"/><rect x="62.4" y="407.90" width="7.1" height="29.70" fill="#f7c0cc"/><rect x="62.4" y="437.60" width="7.1" height="24.20" fill="#f09cb0"/><rect x="62.4" y="461.80" width="7.1" height="21.20" fill="#e06b8f"/><rect x="62.4" y="483.00" width="7.1" height="21.20" fill="#f80a3c"/><rect x="62.4" y="504.20" width="7.1" height="19.70" fill="#c90c1e"/><rect x="62.4" y="523.90" width="7.1" height="3.10" fill="#7a1025"/><line x1="62.4" y1="407.90" x2="69.5" y2="407.90" stroke="#fff" stroke-width="0.6"/><line x1="62.4" y1="437.60" x2="69.5" y2="437.60" stroke="#fff" stroke-width="0.6"/><line x1="62.4" y1="461.80" x2="69.5" y2="461.80" stroke="#fff" stroke-width="0.6"/><line x1="62.4" y1="483.00" x2="69.5" y2="483.00" stroke="#fff" stroke-width="0.6"/><line x1="62.4" y1="504.20" x2="69.5" y2="504.20" stroke="#fff" stroke-width="0.6"/><line x1="62.4" y1="523.90" x2="69.5" y2="523.90" stroke="#fff" stroke-width="0.6"/>
<rect x="89.5" y="404.80" width="7.6" height="15.40" fill="#e8f3fb"/><rect x="89.5" y="420.20" width="7.6" height="17.90" fill="#bddff3"/><rect x="89.5" y="438.10" width="7.6" height="5.90" fill="#a3d6e8"/><rect x="89.5" y="444.00" width="7.6" height="10.80" fill="#6aa6d0"/><rect x="89.5" y="454.80" width="7.6" height="4.70" fill="#8ac8ec"/><rect x="89.5" y="459.50" width="7.6" height="23.80" fill="#18b0e0"/><rect x="89.5" y="483.30" width="7.6" height="13.10" fill="#3a8bc8"/><rect x="89.5" y="496.40" width="7.6" height="3.60" fill="#2a90d8"/><rect x="89.5" y="500.00" width="7.6" height="10.70" fill="#4e7aa5"/><rect x="89.5" y="510.70" width="7.6" height="9.50" fill="#2050c0"/><rect x="89.5" y="520.20" width="7.6" height="1.70" fill="#0d2a5a"/><rect x="89.5" y="521.90" width="7.6" height="4.30" fill="#1a2070"/><line x1="89.5" y1="420.20" x2="97.1" y2="420.20" stroke="#fff" stroke-width="0.6"/><line x1="89.5" y1="438.10" x2="97.1" y2="438.10" stroke="#fff" stroke-width="0.6"/><line x1="89.5" y1="444.00" x2="97.1" y2="444.00" stroke="#fff" stroke-width="0.6"/><line x1="89.5" y1="454.80" x2="97.1" y2="454.80" stroke="#fff" stroke-width="0.6"/><line x1="89.5" y1="459.50" x2="97.1" y2="459.50" stroke="#fff" stroke-width="0.6"/><line x1="89.5" y1="483.30" x2="97.1" y2="483.30" stroke="#fff" stroke-width="0.6"/><line x1="89.5" y1="496.40" x2="97.1" y2="496.40" stroke="#fff" stroke-width="0.6"/><line x1="89.5" y1="500.00" x2="97.1" y2="500.00" stroke="#fff" stroke-width="0.6"/><line x1="89.5" y1="510.70" x2="97.1" y2="510.70" stroke="#fff" stroke-width="0.6"/><line x1="89.5" y1="520.20" x2="97.1" y2="520.20" stroke="#fff" stroke-width="0.6"/><line x1="89.5" y1="521.90" x2="97.1" y2="521.90" stroke="#fff" stroke-width="0.6"/>
<rect x="107.4" y="404.80" width="7.6" height="22.60" fill="#e8f3fb"/><rect x="107.4" y="427.40" width="7.6" height="17.80" fill="#bddff3"/><rect x="107.4" y="445.20" width="7.6" height="15.50" fill="#a3d6e8"/><rect x="107.4" y="460.70" width="7.6" height="6.00" fill="#6aa6d0"/><rect x="107.4" y="466.70" width="7.6" height="4.70" fill="#8ac8ec"/><rect x="107.4" y="471.40" width="7.6" height="17.20" fill="#18b0e0"/><rect x="107.4" y="488.60" width="7.6" height="13.80" fill="#3a8bc8"/><rect x="107.4" y="502.40" width="7.6" height="4.30" fill="#2a90d8"/><rect x="107.4" y="506.70" width="7.6" height="5.20" fill="#4e7aa5"/><rect x="107.4" y="511.90" width="7.6" height="7.10" fill="#2050c0"/><rect x="107.4" y="519.00" width="7.6" height="2.90" fill="#0d2a5a"/><rect x="107.4" y="521.90" width="7.6" height="4.30" fill="#1a2070"/><line x1="107.4" y1="427.40" x2="115.0" y2="427.40" stroke="#fff" stroke-width="0.6"/><line x1="107.4" y1="445.20" x2="115.0" y2="445.20" stroke="#fff" stroke-width="0.6"/><line x1="107.4" y1="460.70" x2="115.0" y2="460.70" stroke="#fff" stroke-width="0.6"/><line x1="107.4" y1="466.70" x2="115.0" y2="466.70" stroke="#fff" stroke-width="0.6"/><line x1="107.4" y1="471.40" x2="115.0" y2="471.40" stroke="#fff" stroke-width="0.6"/><line x1="107.4" y1="488.60" x2="115.0" y2="488.60" stroke="#fff" stroke-width="0.6"/><line x1="107.4" y1="502.40" x2="115.0" y2="502.40" stroke="#fff" stroke-width="0.6"/><line x1="107.4" y1="506.70" x2="115.0" y2="506.70" stroke="#fff" stroke-width="0.6"/><line x1="107.4" y1="511.90" x2="115.0" y2="511.90" stroke="#fff" stroke-width="0.6"/><line x1="107.4" y1="519.00" x2="115.0" y2="519.00" stroke="#fff" stroke-width="0.6"/><line x1="107.4" y1="521.90" x2="115.0" y2="521.90" stroke="#fff" stroke-width="0.6"/>
<line x1="50.9" y1="407.9" x2="62.4" y2="407.9" stroke="#f4a8b8" stroke-width="0.5" stroke-dasharray="1,0.9"/>
<line x1="50.9" y1="440.6" x2="62.4" y2="437.6" stroke="#f4a8b8" stroke-width="0.5" stroke-dasharray="1,0.9"/>
<line x1="50.9" y1="502.7" x2="62.4" y2="504.2" stroke="#c0182a" stroke-width="0.5" stroke-dasharray="1,0.9"/>
<line x1="50.9" y1="523.9" x2="62.4" y2="523.9" stroke="#c0182a" stroke-width="0.5" stroke-dasharray="1,0.9"/>
<line x1="97.1" y1="420.2" x2="107.4" y2="427.4" stroke="#8ab0c8" stroke-width="0.5" stroke-dasharray="1,0.9"/>
<line x1="97.1" y1="438.1" x2="107.4" y2="445.2" stroke="#8ab0c8" stroke-width="0.5" stroke-dasharray="1,0.9"/>
<line x1="97.1" y1="500" x2="107.4" y2="506.7" stroke="#40608a" stroke-width="0.5" stroke-dasharray="1,0.9"/>
<line x1="97.1" y1="520.2" x2="107.4" y2="519" stroke="#40608a" stroke-width="0.5" stroke-dasharray="1,0.9"/>
<text x="42.4" y="422.0" font-size="8.6" fill="#f4a0b4" text-anchor="end" stroke="#f4a0b4" stroke-width="0.12">Col25a1</text>
<text x="42.4" y="430.8" font-size="8.6" fill="#f4a0b4" text-anchor="end" stroke="#f4a0b4" stroke-width="0.12">26%</text>
<text x="70.8" y="423.4" font-size="8.6" fill="#f4a0b4" stroke="#f4a0b4" stroke-width="0.12">25%</text>
<text x="72.6" y="432.0" font-size="8.6" fill="#a8d4ee" stroke="#a8d4ee" stroke-width="0.12">15%</text>
<text x="42.4" y="510.2" font-size="8.6" fill="#d0021b" text-anchor="end" stroke="#d0021b" stroke-width="0.12">Slc39a8</text>
<text x="42.4" y="520.8" font-size="8.6" fill="#d0021b" text-anchor="end" stroke="#d0021b" stroke-width="0.12">17%</text>
<text x="72.4" y="508.6" font-size="8.6" fill="#3a70b8" stroke="#3a70b8" stroke-width="0.12">18%</text>
<text x="71" y="517.6" font-size="8.6" fill="#d0021b" stroke="#d0021b" stroke-width="0.12">15%</text>
<text x="115.9" y="434.4" font-size="8.6" fill="#b8dcf0" stroke="#b8dcf0" stroke-width="0.12">Calb2</text>
<text x="115.9" y="442.6" font-size="8.6" fill="#b8dcf0" stroke="#b8dcf0" stroke-width="0.12">15%</text>
<text x="115.9" y="511.4" font-size="8.6" fill="#2a5ab0" stroke="#2a5ab0" stroke-width="0.12">Nmbr-1/2</text>
<text x="115.9" y="519.8" font-size="8.6" fill="#2a5ab0" stroke="#2a5ab0" stroke-width="0.12">11%</text>
<text x="37.9" y="538.4" font-size="8.65" fill="#222" stroke="#222" stroke-width="0.12">MOs VISp</text>
<text x="83.3" y="538.4" font-size="8.65" fill="#222" stroke="#222" stroke-width="0.12">MOs VISp</text>
<line x1="141.3" y1="470.6" x2="141.3" y2="482.5" stroke="#444" stroke-width="0.5"/>
<text transform="translate(143.4,470.4) rotate(90)" font-size="7" fill="#222" stroke="#222" stroke-width="0.12">10%</text>
</g><g id="pf">
<text x="259.2" y="371.2" font-size="10.04" fill="#111" stroke="#111" stroke-width="0.12">Genetic targeting and axonal projection patterns of selective PVALB subtypes</text>
<text x="240.3" y="389.2" font-size="9.95" fill="#f4909f" stroke="#f4909f" stroke-width="0.12">PVALB-Rorb</text>
<text x="519.8" y="389.4" font-size="10.08" fill="#e8194a" stroke="#e8194a" stroke-width="0.12">PVALB-Fzd6</text>
<text x="222.4" y="405.4" font-size="8.6" font-style="italic" fill="#111" stroke="#111" stroke-width="0.12">Rorb<tspan dx="1.3" dy="-5.2" font-size="6.9">Cre</tspan><tspan dy="5.2">;Pvalb</tspan><tspan dx="1.3" dy="-5.2" font-size="6.9">FlpO</tspan><tspan dy="5.2">;Ai65</tspan></text>
<text x="406.7" y="404.6" font-size="8.6" font-style="italic" fill="#111" stroke="#111" stroke-width="0.12">Tcerg1l<tspan dx="1.5" dy="-5.3" font-size="7">CreER</tspan><tspan dy="5.3">;Pvalb</tspan><tspan dx="1.3" dy="-5.3" font-size="7">FlpO</tspan><tspan dy="5.3">;Ai65</tspan></text>
<defs>
<clipPath id="clipf"><rect x="176.7" y="409" width="182.5" height="133.5"/></clipPath>
<clipPath id="clipg"><rect x="395" y="409.3" width="133.9" height="133.2"/></clipPath>
<linearGradient id="gf" x1="0" x2="0" y1="0" y2="1">
 <stop offset="0" stop-color="#05051e"/>
 <stop offset="0.03" stop-color="#10105e"/>
 <stop offset="0.1" stop-color="#171786"/>
 <stop offset="0.2" stop-color="#2222a8"/>
 <stop offset="0.28" stop-color="#2c2cc4"/>
 <stop offset="0.4" stop-color="#3a3ad8"/>
 <stop offset="0.52" stop-color="#3a3ad8"/>
 <stop offset="0.62" stop-color="#2c2cc8"/>
 <stop offset="0.85" stop-color="#2828c0"/>
 <stop offset="1" stop-color="#2a2ad8"/>
</linearGradient>
<filter id="nzd" x="0" y="0" width="100%" height="100%">
 <feTurbulence type="fractalNoise" baseFrequency="0.28" numOctaves="3" seed="3" result="t"/>
 <feColorMatrix in="t" type="matrix" values="0 0 0 0 0.02  0 0 0 0 0.02  0 0 0 0 0.12  -3 0 0 0 1.75"/>
</filter>
<filter id="nz" x="0" y="0" width="100%" height="100%">
 <feTurbulence type="fractalNoise" baseFrequency="0.45" numOctaves="2" seed="7" result="t"/>
 <feColorMatrix in="t" type="matrix" values="0 0 0 0 0.05  0 0 0 0 0.05  0 0 0 0 0.25  -2.2 0 0 0 1.25"/>
</filter>
<filter id="nz2" x="0" y="0" width="100%" height="100%">
 <feTurbulence type="fractalNoise" baseFrequency="0.5" numOctaves="2" seed="11" result="t"/>
 <feColorMatrix in="t" type="matrix" values="0 0 0 0 0.5  0 0 0 0 0.5  0 0 0 0 1  2.4 0 0 0 -1.45"/>
</filter>
<filter id="nzg" x="0" y="0" width="100%" height="100%">
 <feTurbulence type="fractalNoise" baseFrequency="0.38" numOctaves="3" seed="5" result="t"/>
 <feColorMatrix in="t" type="matrix" values="0 0 0 0 0.03  0 0 0 0 0.03  0 0 0 0 0.16  -4.2 0 0 0 2.35"/>
</filter>
<filter id="bl1"><feGaussianBlur stdDeviation="0.6"/></filter>
<filter id="bl2" x="-10%" y="-50%" width="120%" height="200%"><feGaussianBlur stdDeviation="1.5"/></filter>
<filter id="bl3"><feGaussianBlur stdDeviation="3"/></filter>
<radialGradient id="haze"><stop offset="0" stop-color="#e8e8ff" stop-opacity="0.55"/><stop offset="1" stop-color="#fff" stop-opacity="0"/></radialGradient>
<radialGradient id="soma"><stop offset="0" stop-color="#fff" stop-opacity="1"/><stop offset="0.5" stop-color="#fff" stop-opacity="0.6"/><stop offset="1" stop-color="#fff" stop-opacity="0"/></radialGradient>
<linearGradient id="gg" x1="1" x2="0" y1="0" y2="1">
 <stop offset="0" stop-color="#1a1a96"/>
 <stop offset="0.25" stop-color="#2626c4"/>
 <stop offset="0.7" stop-color="#2828c8"/>
 <stop offset="1" stop-color="#1e1ea8"/>
</linearGradient>
</defs>
<g clip-path="url(#clipf)">
<rect x="176.7" y="409" width="182.5" height="133.5" fill="url(#gf)"/>
<rect x="176.7" y="409" width="182.5" height="133.5" filter="url(#nzd)" opacity="0.7"/>
<ellipse cx="200" cy="468" rx="24" ry="22" fill="url(#haze)" opacity="0.55"/>
<ellipse cx="247" cy="456" rx="16" ry="26" fill="url(#haze)" opacity="0.50"/>
<ellipse cx="268" cy="472" rx="34" ry="14" fill="url(#haze)" opacity="0.40"/>
<ellipse cx="312" cy="462" rx="20" ry="24" fill="url(#haze)" opacity="0.55"/>
<ellipse cx="292" cy="476" rx="44" ry="12" fill="url(#haze)" opacity="0.35"/>
<ellipse cx="220" cy="482" rx="24" ry="10" fill="url(#haze)" opacity="0.35"/>
<ellipse cx="335" cy="480" rx="22" ry="10" fill="url(#haze)" opacity="0.40"/>
<ellipse cx="280" cy="505" rx="30" ry="18" fill="url(#haze)" opacity="0.18"/>
<ellipse cx="215" cy="505" rx="25" ry="15" fill="url(#haze)" opacity="0.15"/>
<g fill="none" stroke="#dcdcff" stroke-opacity="0.28" stroke-width="0.35"><path d="M226.6,465.4 l1.0,5.6"/><path d="M300.5,464.9 l1.9,-1.5"/><path d="M216.2,464.1 l-2.1,-0.1"/><path d="M212.6,470.1 l-2.8,-3.8"/><path d="M324.9,472.4 l6.0,0.2"/><path d="M304.5,491.6 l-1.5,2.3"/><path d="M193.1,483.7 l5.1,3.6"/><path d="M287.1,463.7 l2.0,-5.3"/><path d="M245.7,420.8 l-5.8,-2.0"/><path d="M289.8,457.1 l3.2,-3.7"/><path d="M217.9,466.4 l-0.6,2.3"/><path d="M218.8,462.7 l2.7,2.0"/><path d="M244.1,456.7 l0.8,3.2"/><path d="M348.3,455.1 l-3.0,-4.0"/><path d="M206.1,481.8 l-5.0,4.8"/><path d="M293.8,493.6 l-5.1,-1.9"/><path d="M218.1,485.2 l3.5,0.7"/><path d="M225.3,442.0 l1.6,6.5"/><path d="M296.6,479.2 l-5.2,4.0"/><path d="M260.4,457.0 l-0.3,3.2"/><path d="M283.6,455.0 l3.2,-2.4"/><path d="M216.4,462.7 l4.5,-0.1"/><path d="M196.2,472.7 l-4.1,-4.3"/><path d="M253.7,471.0 l3.6,1.5"/><path d="M354.7,490.1 l1.3,-1.6"/><path d="M308.6,467.5 l-1.9,-4.3"/><path d="M196.5,465.3 l-3.9,1.7"/><path d="M351.5,493.6 l2.4,-2.3"/><path d="M343.9,456.7 l2.4,-2.5"/><path d="M293.6,468.0 l-2.1,-1.7"/><path d="M319.3,469.8 l-2.0,-0.4"/><path d="M235.6,445.7 l6.6,0.8"/><path d="M232.6,492.6 l6.0,2.3"/><path d="M350.2,444.5 l3.8,2.3"/><path d="M316.9,495.6 l3.0,3.2"/><path d="M277.2,480.8 l-0.6,6.3"/><path d="M275.2,457.0 l-0.4,-3.0"/><path d="M233.4,473.8 l5.2,-0.2"/><path d="M198.3,447.9 l0.6,3.6"/><path d="M284.2,476.2 l0.4,3.1"/><path d="M218.1,490.9 l5.2,-3.5"/><path d="M189.0,479.0 l0.4,5.3"/><path d="M348.1,470.1 l-3.9,-1.9"/><path d="M320.4,477.3 l1.0,-2.8"/><path d="M253.9,483.7 l-5.5,1.2"/><path d="M299.9,478.9 l2.5,-0.2"/><path d="M334.5,454.6 l0.0,3.0"/><path d="M258.5,477.4 l-3.0,1.6"/><path d="M257.5,468.0 l3.1,-3.6"/><path d="M185.3,508.8 l6.2,-0.0"/><path d="M332.2,508.3 l2.2,3.8"/><path d="M215.3,460.0 l-1.9,1.3"/><path d="M224.8,430.1 l0.9,-4.2"/><path d="M253.8,504.0 l6.7,-1.8"/><path d="M204.5,441.1 l-2.0,6.6"/><path d="M282.6,458.2 l-5.5,-1.5"/><path d="M268.5,490.3 l1.7,-2.2"/><path d="M352.8,476.4 l2.6,1.4"/><path d="M219.3,445.7 l4.7,4.4"/><path d="M221.3,452.8 l-4.2,-2.9"/><path d="M272.2,447.2 l2.8,-1.2"/><path d="M307.8,479.6 l0.3,4.0"/><path d="M234.2,460.8 l0.0,-2.4"/><path d="M260.3,454.6 l7.0,-0.1"/><path d="M224.8,479.2 l5.8,-2.6"/><path d="M337.8,473.5 l-1.9,2.0"/><path d="M288.5,482.1 l5.3,-0.4"/><path d="M177.4,443.7 l1.4,-3.2"/><path d="M200.7,446.0 l1.9,1.7"/><path d="M277.8,431.6 l-0.7,5.0"/><path d="M292.7,465.5 l-0.4,4.4"/><path d="M342.6,456.1 l1.4,-2.0"/><path d="M176.7,455.2 l0.7,-5.1"/><path d="M224.2,474.7 l-0.3,-4.8"/><path d="M189.8,465.7 l4.8,-4.4"/><path d="M276.4,469.1 l2.5,-4.2"/><path d="M232.7,473.6 l4.8,-3.5"/><path d="M334.4,475.5 l2.5,-1.8"/><path d="M319.5,468.0 l3.0,-2.7"/><path d="M290.2,476.4 l3.8,5.5"/><path d="M325.2,500.5 l1.6,-1.4"/><path d="M311.5,431.0 l-3.3,5.8"/><path d="M325.2,479.6 l-0.6,5.9"/><path d="M195.9,434.0 l4.4,-4.5"/><path d="M260.7,473.7 l-2.0,5.6"/><path d="M217.9,500.7 l2.9,0.4"/><path d="M353.9,451.0 l-0.9,5.1"/><path d="M249.5,499.7 l4.6,-0.6"/><path d="M354.6,476.3 l3.0,6.1"/><path d="M224.8,464.7 l3.2,2.6"/><path d="M287.5,465.9 l-3.9,-0.3"/><path d="M282.1,452.5 l-0.2,5.5"/><path d="M275.1,509.0 l-1.1,-5.6"/><path d="M299.4,468.4 l-1.5,1.8"/><path d="M233.8,459.7 l3.2,-4.6"/><path d="M231.3,454.2 l-1.5,3.8"/><path d="M199.4,455.7 l-5.9,3.2"/><path d="M300.6,476.7 l4.2,-2.9"/><path d="M176.1,460.9 l-1.0,4.0"/><path d="M282.7,489.5 l-2.4,-3.6"/><path d="M263.1,456.3 l4.9,-3.5"/><path d="M207.2,472.4 l3.9,2.3"/><path d="M326.6,457.1 l0.0,-5.4"/><path d="M217.3,455.9 l0.7,2.0"/><path d="M332.4,468.7 l3.7,1.8"/><path d="M291.9,488.4 l1.9,5.2"/><path d="M296.7,454.5 l5.8,0.2"/><path d="M317.7,468.5 l3.2,2.6"/><path d="M271.3,488.3 l3.1,1.0"/><path d="M332.1,508.5 l-5.8,1.6"/><path d="M285.6,441.5 l6.1,-2.0"/><path d="M288.7,421.5 l-0.9,-4.4"/><path d="M341.1,479.0 l-0.2,-4.4"/><path d="M223.7,448.2 l0.1,5.2"/><path d="M291.3,470.2 l-0.4,2.4"/><path d="M228.6,446.3 l-0.5,3.6"/><path d="M218.6,458.5 l-1.9,-5.2"/><path d="M187.8,465.5 l-3.9,2.6"/><path d="M253.3,457.4 l4.1,-2.8"/><path d="M304.0,474.2 l3.6,-4.6"/><path d="M240.7,466.6 l0.1,-6.3"/><path d="M351.4,469.3 l-5.0,2.8"/><path d="M216.6,444.5 l0.8,4.1"/><path d="M181.3,461.0 l-2.8,4.6"/><path d="M262.0,459.1 l3.6,3.7"/><path d="M181.0,474.1 l-3.8,3.0"/><path d="M201.0,493.5 l-2.2,0.5"/><path d="M245.8,472.4 l0.9,3.5"/><path d="M314.4,469.2 l1.6,-2.8"/><path d="M191.1,450.5 l4.7,0.6"/><path d="M295.6,484.7 l1.0,-5.2"/><path d="M314.8,468.0 l2.8,-0.9"/><path d="M199.2,478.3 l-2.3,-4.2"/><path d="M216.1,469.3 l-1.8,-5.5"/><path d="M313.6,480.2 l4.6,4.0"/><path d="M353.5,489.4 l1.7,1.3"/><path d="M352.3,457.7 l-4.4,3.4"/><path d="M190.0,493.0 l-1.9,-4.8"/><path d="M332.5,492.8 l-2.1,-1.5"/><path d="M357.0,486.5 l0.8,-3.7"/><path d="M269.1,452.4 l-3.4,5.2"/><path d="M327.3,475.5 l5.4,4.2"/><path d="M306.1,445.7 l-5.2,2.2"/><path d="M353.6,442.6 l-0.8,6.0"/><path d="M256.1,447.9 l-0.4,-3.3"/><path d="M332.7,463.1 l1.2,-2.1"/><path d="M261.5,477.9 l-3.0,-2.5"/><path d="M181.3,458.9 l1.7,-2.3"/><path d="M238.6,475.6 l4.0,-3.8"/><path d="M226.8,499.3 l6.7,0.4"/><path d="M265.9,492.7 l0.3,-5.4"/><path d="M294.8,482.7 l-6.0,0.3"/><path d="M303.3,478.6 l-1.7,4.6"/><path d="M263.1,475.0 l-4.0,-0.8"/><path d="M305.3,467.6 l-0.4,3.2"/><path d="M198.2,451.9 l0.9,2.4"/><path d="M210.1,438.3 l0.9,4.3"/><path d="M309.3,461.2 l4.6,-0.7"/><path d="M211.7,466.3 l0.4,2.9"/><path d="M178.6,476.1 l-3.3,-0.7"/><path d="M304.3,490.6 l4.4,4.5"/><path d="M266.3,464.3 l3.4,-3.5"/><path d="M209.9,449.0 l6.4,2.1"/><path d="M263.9,471.7 l1.8,-3.6"/><path d="M185.9,490.7 l2.8,3.9"/><path d="M231.9,479.4 l2.6,-0.1"/><path d="M321.5,470.2 l0.7,4.6"/><path d="M258.9,443.5 l-5.9,2.2"/><path d="M290.3,483.3 l-4.4,-3.6"/><path d="M350.4,467.0 l0.8,2.9"/><path d="M208.0,462.4 l1.8,0.9"/><path d="M258.9,459.1 l-2.9,-1.9"/><path d="M305.3,471.3 l-5.2,1.5"/><path d="M346.0,496.0 l1.2,-5.0"/><path d="M254.2,445.8 l-5.0,-1.4"/><path d="M343.1,432.4 l1.1,-2.1"/><path d="M313.8,475.8 l-3.1,-1.5"/><path d="M198.9,481.3 l-2.1,-5.1"/><path d="M266.9,487.8 l1.9,1.1"/><path d="M255.5,460.5 l-1.4,2.9"/><path d="M329.8,506.6 l-6.0,-3.1"/><path d="M359.9,493.0 l-1.6,-3.0"/><path d="M262.6,497.3 l-3.8,-5.4"/><path d="M209.4,475.6 l-4.4,-2.6"/><path d="M240.0,460.1 l-2.7,4.6"/><path d="M333.8,468.4 l-2.6,4.8"/><path d="M325.7,457.7 l-4.1,-1.3"/><path d="M233.9,510.1 l-3.0,6.1"/><path d="M357.8,450.2 l-2.6,-3.9"/><path d="M252.0,480.3 l1.5,3.5"/><path d="M315.8,469.0 l1.4,4.5"/><path d="M346.7,442.8 l-5.1,2.1"/><path d="M288.0,503.0 l0.2,2.8"/><path d="M277.4,501.5 l-2.3,-0.8"/><path d="M260.9,507.7 l4.6,4.1"/><path d="M267.7,466.1 l-0.9,-4.4"/><path d="M356.4,463.0 l0.2,4.8"/><path d="M246.6,501.8 l4.0,-2.1"/><path d="M226.8,494.1 l1.0,-3.9"/><path d="M347.9,443.3 l-6.1,-0.3"/><path d="M284.0,464.9 l4.4,-0.0"/><path d="M203.3,482.8 l-3.6,-0.9"/><path d="M259.8,446.6 l-1.3,2.6"/><path d="M304.3,460.8 l-2.9,-1.4"/><path d="M313.0,468.9 l-1.7,-5.8"/><path d="M247.0,462.7 l-3.2,-5.2"/><path d="M182.8,488.9 l-5.0,-0.1"/><path d="M336.0,465.5 l3.0,-3.0"/><path d="M308.9,448.4 l-4.5,2.8"/><path d="M204.4,464.8 l-6.7,1.3"/><path d="M295.6,453.4 l3.7,-5.0"/><path d="M334.1,491.5 l-2.6,2.5"/><path d="M336.5,462.1 l2.3,0.5"/><path d="M292.1,438.2 l6.1,-3.3"/><path d="M194.1,467.6 l-4.2,-4.7"/><path d="M257.6,448.8 l-2.2,-6.1"/><path d="M230.0,498.8 l-1.9,1.9"/><path d="M273.7,477.1 l-5.5,-2.4"/><path d="M336.2,471.5 l-2.3,-2.2"/><path d="M344.0,474.4 l2.7,3.4"/><path d="M177.7,467.7 l2.2,-6.1"/><path d="M300.7,481.8 l2.3,3.5"/><path d="M293.6,454.5 l-2.9,1.5"/><path d="M331.5,487.8 l1.2,3.7"/><path d="M281.2,454.8 l-6.2,-3.2"/><path d="M230.3,469.4 l5.2,-0.7"/><path d="M302.2,464.4 l-0.1,-2.2"/><path d="M287.6,491.0 l-6.5,0.1"/><path d="M287.7,460.7 l-3.1,4.1"/><path d="M290.2,499.4 l-2.5,-5.0"/><path d="M291.6,449.4 l4.3,-3.0"/><path d="M232.8,439.1 l-4.6,1.8"/><path d="M230.3,467.1 l-0.0,-2.9"/><path d="M200.3,460.2 l-6.6,-1.7"/><path d="M328.8,428.9 l-0.3,6.1"/><path d="M264.7,460.3 l2.0,-5.4"/><path d="M353.2,463.3 l4.3,5.3"/><path d="M334.3,475.6 l-1.1,-6.8"/><path d="M243.3,499.8 l0.5,-2.0"/><path d="M274.7,461.4 l-5.1,1.5"/><path d="M327.3,456.8 l2.4,-0.9"/><path d="M219.0,446.9 l6.3,1.0"/><path d="M216.7,430.9 l5.6,2.4"/><path d="M343.3,452.9 l-1.3,3.8"/><path d="M232.0,495.8 l-2.5,0.1"/><path d="M339.3,501.5 l2.8,3.2"/><path d="M350.1,453.8 l-5.0,2.8"/><path d="M204.4,441.9 l-2.1,1.3"/><path d="M351.1,449.6 l3.8,0.8"/><path d="M257.6,469.2 l6.0,-1.9"/><path d="M276.2,490.2 l3.8,-0.5"/><path d="M249.3,484.0 l1.0,2.4"/><path d="M297.9,479.5 l-3.1,-3.9"/><path d="M179.9,451.8 l0.7,-3.1"/><path d="M188.6,484.3 l0.3,-3.0"/><path d="M215.7,484.5 l2.5,-2.7"/><path d="M176.5,491.2 l1.7,-2.1"/><path d="M199.9,498.9 l-0.0,2.9"/><path d="M178.7,465.8 l0.8,-3.1"/><path d="M235.6,464.5 l1.0,2.0"/><path d="M313.2,466.9 l-5.8,0.9"/><path d="M270.4,446.0 l3.5,2.9"/><path d="M320.1,473.0 l3.1,-3.4"/><path d="M260.3,466.2 l2.2,-0.5"/><path d="M302.2,449.9 l-6.5,0.4"/><path d="M189.5,470.4 l4.4,2.5"/><path d="M292.5,481.2 l-3.5,-1.1"/><path d="M359.0,473.8 l-4.2,-0.8"/><path d="M305.1,461.5 l3.2,-4.2"/><path d="M317.5,462.9 l-0.6,-3.0"/><path d="M238.4,455.6 l-3.9,1.2"/><path d="M193.5,471.9 l-4.8,2.4"/><path d="M345.8,460.7 l5.6,2.5"/><path d="M193.2,475.4 l4.7,3.2"/><path d="M283.9,476.7 l-3.4,-1.4"/><path d="M198.5,446.8 l-3.2,4.2"/><path d="M308.7,468.1 l4.9,-1.0"/><path d="M240.7,431.8 l-2.7,-1.4"/><path d="M195.9,460.9 l2.2,-3.2"/><path d="M316.3,457.3 l-5.4,-2.7"/><path d="M326.6,495.5 l-3.9,-3.4"/><path d="M180.8,427.7 l5.5,-2.6"/><path d="M305.3,466.8 l-1.3,3.4"/><path d="M177.1,479.3 l3.3,-3.5"/><path d="M292.5,459.9 l5.6,1.1"/><path d="M215.6,473.8 l-3.2,1.8"/><path d="M318.9,448.3 l-2.2,-1.0"/><path d="M185.7,489.0 l2.8,4.3"/><path d="M297.8,461.4 l-4.2,0.4"/><path d="M226.3,455.3 l0.1,-2.6"/><path d="M300.8,454.7 l-5.3,0.4"/><path d="M184.4,474.3 l-4.0,3.1"/><path d="M214.9,483.2 l2.1,2.5"/><path d="M236.4,468.7 l5.7,0.3"/><path d="M305.5,475.9 l-6.2,-0.0"/><path d="M324.3,483.7 l5.7,2.8"/><path d="M345.5,471.4 l3.2,-3.7"/><path d="M281.5,468.9 l-1.0,-4.0"/><path d="M235.8,470.8 l1.6,-4.8"/><path d="M329.1,470.4 l2.1,-1.2"/><path d="M284.4,475.5 l-3.9,-0.6"/><path d="M233.1,456.9 l-2.0,3.1"/><path d="M197.0,478.6 l-6.5,-0.4"/><path d="M240.3,486.7 l-0.9,-6.0"/><path d="M202.9,473.3 l1.6,4.7"/><path d="M315.9,455.9 l-1.6,-2.4"/><path d="M314.8,471.0 l0.3,-4.2"/><path d="M346.0,447.2 l-4.8,-2.0"/><path d="M291.4,442.5 l1.4,1.9"/><path d="M257.4,442.6 l-1.1,3.2"/><path d="M233.1,488.1 l-2.2,0.7"/><path d="M329.0,475.4 l5.6,2.9"/><path d="M269.3,483.3 l-4.6,1.1"/><path d="M321.7,448.4 l3.4,-2.6"/><path d="M235.2,477.6 l-2.7,0.4"/><path d="M187.4,443.7 l5.2,3.9"/><path d="M268.8,452.2 l1.5,2.9"/><path d="M256.5,491.7 l-4.3,1.7"/><path d="M228.1,477.4 l-3.1,2.0"/><path d="M286.0,482.6 l1.3,-5.1"/><path d="M300.8,475.3 l-1.2,5.5"/><path d="M296.8,471.2 l5.3,-3.5"/><path d="M202.0,456.1 l-4.0,5.5"/><path d="M304.5,488.6 l-3.9,3.1"/><path d="M245.3,482.3 l1.6,-5.9"/><path d="M299.3,462.1 l2.7,-5.0"/><path d="M294.9,459.3 l-3.4,1.8"/><path d="M242.7,447.8 l1.3,2.8"/><path d="M217.7,487.7 l1.5,1.8"/><path d="M331.4,461.3 l4.7,3.5"/><path d="M182.9,487.0 l-3.0,5.0"/><path d="M200.1,435.9 l-2.0,2.0"/><path d="M324.9,483.1 l2.1,3.6"/><path d="M251.6,441.0 l-1.4,-2.9"/><path d="M313.7,454.2 l-4.4,1.5"/><path d="M232.9,473.1 l1.6,-4.1"/><path d="M350.3,476.8 l4.3,-0.4"/><path d="M227.8,453.2 l-3.4,3.1"/><path d="M323.4,500.4 l2.1,2.5"/><path d="M294.0,461.0 l3.4,-3.4"/><path d="M332.6,495.8 l-1.3,5.7"/><path d="M226.2,488.9 l2.3,-1.5"/><path d="M216.9,427.8 l-3.6,1.1"/><path d="M180.9,484.7 l4.3,1.5"/><path d="M245.0,473.2 l6.6,1.2"/><path d="M330.4,525.9 l-3.5,-4.8"/><path d="M328.7,477.6 l-0.9,-2.5"/><path d="M305.8,479.3 l-1.9,0.6"/><path d="M329.6,480.2 l-5.4,-1.7"/><path d="M273.1,474.6 l2.6,2.2"/><path d="M253.2,466.2 l1.2,-4.1"/><path d="M196.4,473.3 l4.1,-2.8"/><path d="M220.5,489.6 l2.6,3.3"/><path d="M289.1,470.2 l0.2,4.1"/><path d="M355.3,464.1 l4.2,1.9"/><path d="M269.3,461.5 l4.8,-0.3"/><path d="M293.0,452.3 l3.2,-0.4"/><path d="M179.0,480.9 l0.9,-3.6"/><path d="M318.0,465.3 l-0.3,-3.6"/><path d="M184.2,442.8 l-5.8,-1.7"/><path d="M261.5,482.2 l-1.7,-4.9"/><path d="M325.3,495.9 l5.4,2.3"/><path d="M184.1,453.5 l0.7,2.1"/><path d="M347.7,471.9 l-6.9,-0.7"/><path d="M314.6,454.7 l1.4,3.5"/><path d="M319.7,464.3 l2.4,-2.7"/><path d="M339.7,480.2 l-0.3,-6.5"/><path d="M247.1,480.2 l4.4,-0.7"/><path d="M271.5,427.1 l1.8,-5.3"/><path d="M190.5,468.6 l-4.9,-3.7"/><path d="M190.7,452.8 l-1.9,-3.0"/><path d="M286.9,463.5 l-4.9,2.4"/><path d="M336.1,464.8 l-4.2,5.6"/><path d="M226.5,472.3 l6.7,-0.8"/><path d="M242.8,490.8 l1.7,-5.1"/><path d="M351.3,479.6 l3.1,3.9"/><path d="M188.4,468.9 l0.7,-3.8"/><path d="M246.4,463.3 l-4.6,-2.1"/><path d="M244.5,449.1 l0.4,-4.9"/><path d="M273.4,428.4 l-4.2,3.1"/><path d="M311.4,468.0 l-3.9,0.0"/><path d="M279.3,476.8 l-0.2,3.3"/><path d="M228.5,411.1 l3.9,-2.2"/><path d="M198.6,488.0 l2.6,-3.4"/><path d="M192.2,483.7 l-2.6,-5.7"/><path d="M234.8,456.4 l-1.3,1.9"/><path d="M332.7,431.4 l-1.6,-6.4"/><path d="M293.3,458.1 l1.2,-4.4"/><path d="M201.6,476.7 l0.5,-2.1"/><path d="M277.9,476.3 l-4.1,4.4"/><path d="M191.9,444.5 l-2.5,6.5"/><path d="M308.3,460.1 l-5.8,-0.9"/><path d="M354.9,471.1 l-2.7,-3.3"/><path d="M301.1,461.7 l-3.6,5.3"/><path d="M209.5,472.9 l4.1,-0.9"/><path d="M343.6,442.7 l2.5,0.9"/><path d="M235.4,474.2 l-0.9,-3.6"/><path d="M349.1,476.9 l4.9,-3.8"/><path d="M277.4,467.9 l2.5,2.5"/><path d="M274.2,493.6 l-2.8,-0.0"/><path d="M297.2,477.7 l-0.9,-4.9"/><path d="M331.0,464.3 l-5.6,-2.4"/><path d="M294.0,473.4 l-4.7,-2.4"/><path d="M317.1,469.0 l-4.5,2.6"/><path d="M229.3,442.7 l4.3,-1.2"/><path d="M324.1,468.3 l-1.4,-3.2"/><path d="M256.9,473.7 l-3.0,0.3"/><path d="M287.6,470.8 l-2.1,5.2"/><path d="M355.5,464.5 l2.6,2.8"/><path d="M279.3,432.4 l-1.8,3.9"/><path d="M193.8,466.5 l-1.0,3.8"/><path d="M289.2,481.5 l0.1,6.3"/><path d="M282.3,476.6 l-2.2,5.4"/><path d="M267.7,481.5 l-4.5,-0.4"/><path d="M349.9,466.6 l-6.8,-0.2"/><path d="M215.6,471.6 l-1.4,1.8"/><path d="M296.4,430.8 l-4.6,0.9"/><path d="M331.9,469.2 l-5.8,2.7"/><path d="M243.3,463.7 l-3.9,2.8"/><path d="M211.8,437.7 l-2.2,-0.8"/><path d="M227.5,437.4 l5.4,-0.4"/><path d="M197.9,467.2 l3.9,-0.6"/><path d="M348.8,472.6 l0.1,-3.0"/><path d="M269.7,452.3 l-2.2,-0.0"/><path d="M263.2,478.6 l-4.8,1.3"/><path d="M270.9,480.3 l-2.4,4.5"/><path d="M312.0,496.7 l-1.1,3.5"/><path d="M328.4,514.9 l-5.4,-1.1"/><path d="M243.8,457.8 l-3.2,-6.1"/><path d="M283.4,499.5 l1.6,-5.4"/><path d="M263.3,466.4 l5.8,-1.2"/><path d="M318.8,464.1 l-5.0,-2.6"/><path d="M291.7,458.5 l-4.5,-4.2"/><path d="M203.2,462.5 l-0.9,-2.0"/><path d="M179.5,476.2 l-1.1,2.5"/><path d="M303.1,465.2 l-5.0,3.1"/><path d="M311.4,500.1 l2.5,1.0"/><path d="M214.2,450.5 l-2.4,4.7"/><path d="M207.9,452.6 l3.2,-1.9"/><path d="M241.2,465.5 l0.8,-5.6"/><path d="M288.3,450.8 l1.1,3.0"/><path d="M278.7,446.3 l1.1,6.8"/><path d="M214.1,463.6 l-1.0,-3.4"/><path d="M240.2,482.2 l5.5,-2.4"/><path d="M300.5,466.7 l-5.0,4.7"/><path d="M326.6,477.1 l5.8,-1.7"/><path d="M307.4,464.3 l-2.4,3.5"/><path d="M223.2,482.3 l-3.0,0.4"/><path d="M304.1,427.4 l3.3,3.9"/><path d="M284.0,458.0 l0.3,5.3"/><path d="M185.7,442.8 l-4.8,2.9"/><path d="M194.5,463.0 l0.3,-2.0"/><path d="M250.9,428.6 l5.9,-2.5"/><path d="M263.9,455.1 l2.1,6.5"/><path d="M343.1,456.8 l4.1,2.6"/><path d="M274.5,491.4 l-1.1,-6.6"/><path d="M338.3,477.5 l3.0,5.9"/><path d="M359.5,462.2 l-3.6,2.7"/><path d="M346.4,510.5 l1.5,-1.4"/><path d="M280.5,450.1 l5.4,4.3"/><path d="M276.0,456.3 l-6.7,0.3"/><path d="M332.6,520.8 l-2.9,0.6"/><path d="M260.4,476.1 l-0.1,2.9"/><path d="M311.5,475.0 l1.2,-4.7"/><path d="M333.5,468.5 l4.9,-3.7"/><path d="M270.8,456.8 l4.6,2.8"/><path d="M235.5,471.9 l0.0,3.3"/><path d="M219.3,477.1 l0.2,-6.8"/><path d="M178.1,458.8 l-3.1,-4.5"/><path d="M187.4,495.3 l2.6,2.4"/><path d="M340.7,450.4 l-1.0,-3.4"/><path d="M197.6,479.9 l3.0,-1.7"/><path d="M200.6,458.5 l3.3,4.7"/><path d="M287.5,459.7 l-4.1,2.4"/><path d="M298.2,446.0 l0.6,3.2"/><path d="M314.9,472.1 l1.7,-1.7"/><path d="M190.4,441.5 l-2.1,-0.9"/><path d="M276.8,477.2 l-4.9,-0.2"/><path d="M271.7,477.4 l2.3,2.0"/><path d="M283.3,481.0 l3.8,2.5"/><path d="M270.4,475.1 l-2.2,0.6"/><path d="M261.1,449.5 l2.0,-5.3"/><path d="M313.2,441.7 l-2.0,-1.1"/><path d="M239.4,488.2 l6.4,2.7"/><path d="M347.8,474.2 l4.0,0.8"/><path d="M317.5,465.3 l0.7,-6.9"/><path d="M358.7,456.6 l-4.7,4.3"/><path d="M342.8,453.1 l-3.8,3.8"/><path d="M296.3,456.2 l-1.7,2.4"/><path d="M274.9,448.9 l-5.5,-1.0"/><path d="M180.2,468.3 l-1.6,5.1"/><path d="M276.2,469.5 l-6.0,-1.2"/><path d="M226.7,468.3 l5.2,-2.2"/><path d="M196.8,484.6 l1.5,-3.8"/><path d="M178.9,471.8 l0.7,2.4"/><path d="M182.2,430.8 l-4.5,-3.2"/><path d="M250.0,496.2 l0.3,3.1"/><path d="M334.9,476.9 l4.2,1.6"/><path d="M310.6,459.9 l-2.1,4.5"/><path d="M299.7,500.1 l-1.5,3.2"/><path d="M216.7,484.4 l-0.7,2.2"/><path d="M350.5,488.7 l4.8,-4.5"/><path d="M267.2,454.6 l6.6,-1.2"/><path d="M299.5,454.5 l0.8,-3.5"/><path d="M245.3,459.1 l0.1,-4.4"/><path d="M332.3,473.1 l-1.7,5.3"/><path d="M279.5,481.7 l4.7,-1.0"/><path d="M200.7,430.5 l0.1,3.0"/><path d="M331.9,443.4 l4.7,3.1"/><path d="M211.0,435.6 l-0.6,5.3"/><path d="M210.6,438.8 l0.4,-5.6"/><path d="M278.8,445.9 l-6.3,0.8"/><path d="M178.8,445.5 l6.3,-2.6"/><path d="M197.6,507.2 l4.4,-0.0"/><path d="M213.6,469.1 l4.1,-2.4"/><path d="M318.7,492.5 l-3.4,3.2"/><path d="M270.4,459.1 l-2.5,0.0"/><path d="M356.6,478.8 l-6.1,1.2"/><path d="M252.2,482.9 l-2.9,-1.2"/><path d="M202.8,459.1 l-0.5,6.7"/><path d="M204.0,451.6 l-1.9,3.4"/><path d="M329.3,459.1 l-5.3,0.0"/><path d="M327.2,462.5 l5.1,-1.1"/><path d="M266.3,455.3 l2.9,5.2"/><path d="M265.9,482.0 l4.1,-2.3"/><path d="M294.1,493.1 l2.0,0.8"/><path d="M299.0,492.8 l0.4,-4.0"/><path d="M331.0,432.4 l0.6,5.5"/><path d="M244.7,489.3 l-3.9,-3.6"/><path d="M289.4,469.2 l-4.4,0.5"/><path d="M178.2,490.8 l-3.3,-0.6"/><path d="M355.9,468.9 l6.0,0.7"/><path d="M343.4,453.0 l1.9,1.5"/><path d="M203.4,439.0 l1.7,4.3"/><path d="M249.0,473.7 l-2.8,2.9"/><path d="M280.0,455.0 l3.1,-0.2"/><path d="M296.3,453.9 l3.6,-4.5"/><path d="M193.2,436.0 l-3.5,3.3"/><path d="M207.5,470.3 l-4.2,0.0"/><path d="M320.3,468.9 l-5.8,-2.5"/><path d="M183.8,486.2 l1.5,6.2"/><path d="M339.3,480.4 l-2.2,0.3"/><path d="M341.5,504.6 l-2.0,-0.8"/><path d="M346.9,486.5 l-2.7,6.3"/><path d="M307.1,442.3 l-1.9,1.4"/><path d="M205.9,452.4 l0.4,6.2"/><path d="M237.0,438.6 l0.1,-2.7"/><path d="M357.9,492.6 l-0.7,-4.4"/><path d="M256.4,473.9 l2.0,-3.1"/><path d="M317.5,467.0 l3.8,-1.1"/><path d="M226.3,468.7 l4.4,-0.2"/><path d="M241.5,463.6 l3.9,-1.5"/><path d="M191.8,456.7 l-4.4,-4.1"/><path d="M307.2,444.1 l2.4,1.4"/><path d="M312.1,461.9 l-1.0,2.3"/><path d="M177.0,443.2 l-1.4,3.5"/><path d="M210.5,466.8 l-4.5,1.5"/><path d="M251.1,477.5 l3.7,0.6"/><path d="M235.7,488.3 l-2.6,2.3"/><path d="M247.4,481.4 l5.6,3.3"/><path d="M281.2,509.2 l1.9,3.4"/><path d="M201.5,440.1 l-1.4,4.2"/><path d="M253.5,485.7 l-2.4,0.2"/><path d="M222.3,475.4 l0.1,5.1"/><path d="M195.7,458.1 l-2.3,6.4"/><path d="M237.1,461.4 l-4.4,-4.1"/><path d="M326.0,460.2 l4.4,-5.3"/><path d="M201.0,482.3 l-2.9,6.1"/><path d="M353.5,472.8 l3.4,-0.7"/><path d="M303.9,482.9 l-4.9,0.3"/><path d="M326.2,468.8 l-2.0,1.6"/><path d="M279.7,485.5 l-4.0,-2.6"/><path d="M351.4,458.5 l-5.4,1.3"/><path d="M256.7,447.3 l-1.4,5.3"/><path d="M251.3,481.5 l-5.2,0.0"/><path d="M220.5,438.9 l-3.0,-4.7"/><path d="M358.3,469.7 l-4.0,0.5"/><path d="M269.2,461.2 l4.8,-2.6"/><path d="M242.2,437.4 l3.7,-2.9"/><path d="M293.4,459.4 l5.0,3.0"/><path d="M295.0,458.8 l6.7,1.9"/><path d="M300.7,453.9 l-4.7,3.4"/><path d="M177.9,486.7 l-0.2,4.5"/><path d="M271.5,463.9 l-4.3,-2.4"/><path d="M318.1,451.1 l-3.8,-2.4"/><path d="M239.5,474.0 l2.5,0.4"/><path d="M197.4,428.3 l2.5,-1.0"/><path d="M233.4,491.2 l-2.9,0.8"/><path d="M256.6,447.6 l-1.2,-3.4"/><path d="M231.2,470.2 l1.0,-2.4"/><path d="M300.6,483.2 l3.5,5.9"/><path d="M220.9,446.9 l1.3,2.5"/><path d="M218.7,425.8 l-2.4,1.6"/><path d="M293.8,451.3 l-2.0,0.9"/><path d="M285.0,459.0 l-4.2,3.6"/><path d="M213.9,460.2 l0.1,-6.0"/><path d="M336.4,475.7 l1.4,3.3"/><path d="M260.2,471.2 l-0.5,6.3"/><path d="M285.8,442.7 l-3.8,-3.2"/><path d="M240.0,463.5 l2.9,-4.2"/><path d="M230.7,479.0 l-1.8,-1.6"/><path d="M200.6,442.1 l2.6,2.4"/><path d="M270.0,479.3 l-2.3,1.3"/><path d="M246.6,493.3 l2.0,4.8"/><path d="M360.0,459.0 l-4.2,-1.5"/><path d="M201.8,443.7 l-1.7,3.9"/><path d="M177.8,484.0 l4.0,4.6"/><path d="M353.3,473.6 l-4.5,-0.2"/><path d="M330.5,460.6 l-2.4,0.2"/><path d="M181.7,450.9 l0.2,-3.5"/><path d="M207.0,464.5 l-5.5,1.5"/><path d="M316.9,490.1 l-2.4,-0.8"/><path d="M327.5,491.4 l-4.1,4.5"/><path d="M183.7,488.4 l-0.9,-4.6"/><path d="M328.7,476.4 l0.0,-3.5"/><path d="M359.9,467.5 l-3.6,1.2"/><path d="M358.9,475.9 l0.5,-3.1"/><path d="M325.2,450.3 l-3.2,-2.0"/><path d="M206.5,461.8 l1.9,2.3"/><path d="M214.1,443.3 l3.5,1.4"/><path d="M235.6,463.7 l-1.0,-3.3"/><path d="M225.2,490.0 l4.3,-5.4"/><path d="M353.2,464.5 l1.5,-6.4"/><path d="M358.6,460.7 l1.8,-2.0"/><path d="M306.9,477.1 l2.7,-5.1"/><path d="M300.4,457.8 l-4.9,0.3"/><path d="M259.2,465.8 l-4.3,-4.8"/><path d="M193.1,486.5 l-3.4,-0.3"/><path d="M350.8,483.9 l-0.9,1.8"/><path d="M318.4,461.3 l-0.6,-5.6"/><path d="M241.9,442.3 l4.3,1.8"/><path d="M216.1,474.9 l-2.8,1.3"/><path d="M238.1,464.1 l-4.3,-2.3"/><path d="M265.3,501.6 l-3.0,4.5"/><path d="M320.2,475.9 l-2.5,0.7"/><path d="M333.8,470.5 l-1.9,0.7"/><path d="M302.7,479.7 l3.5,3.9"/><path d="M205.3,464.8 l3.1,-1.4"/><path d="M244.4,460.3 l2.3,-1.6"/><path d="M248.9,456.7 l-1.9,5.2"/><path d="M305.5,470.6 l4.4,0.0"/><path d="M200.4,494.1 l0.8,5.3"/><path d="M326.3,495.7 l4.1,-0.3"/><path d="M200.3,469.6 l3.5,1.7"/><path d="M233.7,467.0 l2.0,-1.8"/><path d="M318.3,459.7 l0.1,-2.7"/><path d="M273.6,478.0 l5.2,0.3"/><path d="M257.0,467.6 l-0.9,-5.1"/><path d="M302.3,478.8 l1.6,-1.9"/><path d="M194.5,483.1 l0.1,-4.9"/></g>
<rect x="176.7" y="409" width="182.5" height="133.5" filter="url(#nz2)" opacity="0.35"/>
<path d="M176.7,529.5 Q268,520 359.2,530 L359.2,537 Q268,528 176.7,537 Z" fill="#08083a" opacity="0.5" filter="url(#bl2)"/>
<path d="M176.7,531 Q220,527 262,526" fill="none" stroke="#3a3aff" stroke-width="0.8" opacity="0.5"/>
<path d="M176.7,537 Q268,529 359.2,537 L359.2,543 L176.7,543 Z" fill="#2a2af0" opacity="0.5"/>
<path d="M230,409 Q320,410.5 359.2,419.5 L359.2,409 Z" fill="#02020e" opacity="0.92"/>
<path d="M330,413.5 Q348,416 359.2,420" fill="none" stroke="#3a3aff" stroke-width="1" opacity="0.7"/>
<g fill="none" stroke="#fff" stroke-opacity="0.3" stroke-width="0.35"><path d="M247.0,439.1 L249.3,437.4 L252.1,437.1 L254.6,438.3 L257.4,438.5 L260.2,438.1"/><path d="M246.3,443.3 L243.0,444.6 L239.4,444.7 L235.8,445.1 L232.2,445.3 L228.8,444.4"/><path d="M244.8,443.2 L246.6,442.4 L247.9,441.0 L249.6,440.2 L251.5,439.9 L253.4,439.8"/><path d="M246.8,441.8 L246.4,444.6 L245.8,447.4 L244.7,450.0 L242.4,451.7 L240.0,453.2"/><path d="M246.7,442.5 L247.5,441.1 L247.9,439.5 L248.9,438.2 L250.2,437.3 L251.2,436.0"/><path d="M245.7,440.8 L247.5,442.8 L248.4,445.3 L247.4,447.8 L245.7,449.9 L244.9,452.4"/><path d="M246.3,442.9 L248.7,442.0 L250.7,440.6 L250.6,438.0 L251.5,435.6 L252.6,433.4"/><path d="M246.1,441.5 L246.7,440.6 L247.2,439.7 L246.8,438.7 L245.9,438.0 L245.0,437.5"/><path d="M247.9,443.4 L250.6,444.2 L253.1,445.2 L255.7,446.3 L258.4,446.9 L261.1,447.5"/><path d="M247.3,442.6 L246.4,441.1 L245.6,439.4 L245.5,437.6 L245.6,435.7 L245.7,433.9"/></g>
<g fill="none" stroke="#fff" stroke-opacity="0.3" stroke-width="0.35"><path d="M198.0,464.1 L199.1,466.7 L198.5,469.5 L197.5,472.1 L197.6,474.9 L198.5,477.6"/><path d="M199.1,464.9 L201.1,464.8 L203.1,464.9 L205.1,464.4 L207.0,464.0 L209.0,463.8"/><path d="M200.6,463.9 L203.4,464.8 L206.1,465.8 L209.0,466.3 L211.9,466.9 L214.5,468.3"/><path d="M198.7,467.8 L198.8,471.0 L200.2,473.8 L201.2,476.8 L202.8,479.4 L203.5,482.5"/><path d="M199.8,464.6 L200.2,465.7 L200.9,466.7 L200.7,467.8 L200.7,469.0 L200.7,470.2"/><path d="M196.6,466.6 L194.5,464.6 L192.7,462.3 L190.4,460.4 L189.7,457.6 L188.1,455.2"/><path d="M197.7,465.8 L195.7,466.3 L193.8,466.7 L191.8,466.9 L189.8,467.0 L187.9,467.6"/><path d="M194.5,463.0 L192.2,463.5 L189.9,463.8 L187.7,463.0 L185.4,463.2 L183.2,463.9"/><path d="M197.1,468.2 L198.1,469.3 L198.6,470.8 L199.1,472.2 L199.4,473.7 L198.9,475.1"/><path d="M200.2,464.5 L199.6,462.6 L200.4,460.7 L200.1,458.7 L198.4,457.6 L197.6,455.7"/></g>
<g fill="none" stroke="#fff" stroke-opacity="0.3" stroke-width="0.35"><path d="M259.8,472.1 L261.2,471.8 L262.6,471.8 L264.0,471.5 L265.3,470.8 L266.7,470.4"/><path d="M253.7,468.5 L255.1,467.2 L256.0,465.6 L255.6,463.8 L255.2,461.9 L254.6,460.1"/><path d="M254.0,472.2 L256.3,471.0 L258.0,469.1 L260.5,468.4 L262.7,467.1 L265.3,466.9"/><path d="M253.9,471.1 L255.3,468.9 L256.1,466.4 L258.2,464.7 L260.7,464.2 L263.2,463.3"/><path d="M253.9,470.5 L254.8,473.5 L255.2,476.6 L253.3,479.2 L251.0,481.4 L249.8,484.3"/><path d="M254.3,472.4 L252.3,474.2 L250.9,476.6 L248.8,478.4 L247.0,480.5 L244.5,481.5"/><path d="M253.5,469.7 L252.9,467.6 L253.6,465.5 L253.8,463.4 L254.6,461.4 L254.0,459.3"/><path d="M256.4,470.8 L258.7,470.3 L261.1,470.2 L263.4,469.8 L265.5,468.7 L267.5,467.4"/><path d="M254.5,471.7 L254.8,473.7 L255.3,475.6 L256.0,477.4 L257.1,479.0 L258.3,480.7"/><path d="M253.9,472.8 L251.6,474.9 L248.9,476.5 L246.8,478.8 L245.9,481.9 L245.3,485.0"/></g>
<g fill="none" stroke="#fff" stroke-opacity="0.3" stroke-width="0.35"><path d="M281.9,470.2 L284.4,467.8 L286.3,464.9 L287.7,461.7 L288.9,458.5 L290.6,455.4"/><path d="M282.9,471.2 L283.3,473.4 L283.8,475.6 L285.1,477.4 L287.1,478.3 L289.2,479.0"/><path d="M281.8,468.6 L281.3,469.8 L281.3,471.0 L280.9,472.1 L280.6,473.3 L280.2,474.5"/><path d="M280.0,470.3 L277.7,468.8 L274.9,468.7 L272.2,468.4 L269.5,468.9 L267.0,469.9"/><path d="M282.0,471.8 L281.1,470.5 L280.0,469.4 L279.1,468.2 L278.2,466.9 L277.8,465.5"/><path d="M281.7,469.9 L279.4,467.8 L276.9,465.8 L275.2,463.2 L273.6,460.5 L271.0,458.6"/><path d="M281.9,468.3 L281.7,469.6 L281.7,471.0 L282.7,471.9 L283.9,472.6 L285.2,472.4"/><path d="M279.4,472.1 L280.8,475.3 L279.9,478.8 L278.8,482.1 L278.9,485.6 L281.7,487.8"/><path d="M277.1,469.5 L278.2,466.3 L278.3,462.8 L279.5,459.5 L280.5,456.2 L281.7,453.0"/><path d="M282.0,474.0 L280.6,474.8 L279.3,475.6 L277.8,476.2 L276.5,477.0 L275.2,477.9"/></g>
<g fill="none" stroke="#fff" stroke-opacity="0.3" stroke-width="0.35"><path d="M314.4,469.5 L314.2,466.3 L315.6,463.4 L318.1,461.5 L321.1,460.5 L324.3,460.4"/><path d="M314.1,461.8 L314.4,458.8 L315.2,455.9 L315.9,453.0 L314.2,450.5 L312.2,448.3"/><path d="M311.0,468.1 L311.9,466.1 L313.4,464.5 L315.0,463.0 L316.4,461.3 L317.6,459.5"/><path d="M313.3,467.3 L311.4,467.7 L309.6,468.7 L307.7,468.4 L305.7,467.9 L303.9,467.2"/><path d="M314.2,460.4 L313.1,457.5 L311.4,454.9 L309.6,452.3 L306.6,451.8 L303.9,450.3"/><path d="M313.2,462.4 L313.9,463.6 L314.4,465.0 L314.9,466.3 L316.4,466.3 L317.8,466.2"/><path d="M312.3,466.7 L312.4,464.3 L313.7,462.2 L314.6,460.0 L314.7,457.6 L315.2,455.2"/><path d="M310.7,464.6 L307.6,464.5 L304.5,465.5 L301.7,466.9 L298.7,467.8 L295.8,469.3"/><path d="M311.0,465.0 L310.7,466.2 L310.3,467.3 L309.0,467.5 L307.8,467.4 L306.6,467.5"/><path d="M309.5,463.3 L307.2,462.3 L305.0,461.1 L303.2,459.3 L301.3,457.7 L299.9,455.6"/></g>
<g fill="none" stroke="#fff" stroke-opacity="0.3" stroke-width="0.35"><path d="M315.4,470.4 L312.3,471.9 L309.9,474.3 L306.4,474.1 L303.2,473.2 L299.9,472.3"/><path d="M316.1,472.9 L313.5,473.2 L311.0,472.9 L308.5,473.6 L306.0,473.9 L303.8,475.3"/><path d="M313.7,472.6 L315.2,472.1 L316.7,472.4 L318.2,472.6 L319.7,472.6 L321.2,472.1"/><path d="M314.0,470.7 L314.5,472.1 L315.5,473.2 L316.7,474.2 L317.3,475.5 L317.1,477.0"/><path d="M315.2,470.3 L316.7,470.1 L318.2,470.2 L319.7,469.7 L321.2,469.5 L322.5,468.7"/><path d="M314.7,471.2 L317.5,472.6 L320.7,472.4 L323.7,473.3 L326.8,473.3 L329.9,472.5"/><path d="M313.8,470.4 L312.1,470.3 L310.5,470.1 L309.1,469.3 L308.0,468.1 L307.6,466.5"/><path d="M313.1,472.7 L313.5,474.1 L313.6,475.5 L313.2,476.9 L313.2,478.3 L313.6,479.7"/><path d="M313.1,471.4 L311.5,472.2 L310.2,473.5 L310.0,475.3 L308.5,476.4 L306.7,476.7"/><path d="M316.4,470.8 L314.6,473.3 L313.4,476.2 L312.6,479.2 L310.3,481.3 L307.8,483.2"/></g>
<g fill="none" stroke="#fff" stroke-opacity="0.3" stroke-width="0.35"><path d="M216.4,480.3 L217.2,478.9 L218.3,477.7 L219.4,476.6 L220.4,475.4 L221.2,474.0"/><path d="M214.2,479.8 L211.8,477.3 L210.4,474.1 L207.7,472.0 L205.1,469.6 L202.5,467.3"/><path d="M217.2,479.8 L218.8,479.9 L220.1,478.9 L220.9,477.4 L222.2,476.5 L223.8,477.0"/><path d="M216.6,478.6 L215.7,480.9 L213.9,482.6 L212.1,484.2 L211.5,486.6 L211.5,489.0"/><path d="M216.4,477.5 L218.0,476.0 L219.3,474.3 L221.0,473.1 L222.6,471.7 L223.6,469.8"/><path d="M216.6,476.0 L217.8,476.3 L218.9,477.0 L219.9,477.7 L221.1,478.0 L222.1,478.8"/><path d="M215.1,478.1 L216.4,478.3 L217.4,477.4 L218.3,476.5 L218.7,475.2 L219.3,474.0"/><path d="M216.0,480.8 L215.2,481.9 L215.1,483.2 L214.1,484.1 L213.2,485.0 L212.9,486.2"/><path d="M214.8,479.7 L217.1,478.0 L219.5,476.5 L222.4,476.2 L225.2,476.2 L226.9,473.9"/><path d="M215.2,476.3 L213.1,474.0 L211.1,471.6 L208.8,469.4 L207.5,466.6 L206.4,463.7"/></g>
<g fill="none" stroke="#fff" stroke-opacity="0.3" stroke-width="0.35"><path d="M222.0,478.7 L221.8,475.9 L222.5,473.1 L222.6,470.3 L223.6,467.6 L224.8,465.0"/><path d="M220.1,482.0 L222.4,481.5 L224.6,480.7 L226.7,479.7 L229.0,479.5 L230.9,478.2"/><path d="M221.2,479.0 L222.4,476.5 L223.3,473.9 L224.3,471.4 L226.3,469.5 L227.7,467.2"/><path d="M222.9,480.2 L222.6,477.8 L222.0,475.5 L222.7,473.2 L224.4,471.6 L225.7,469.6"/><path d="M220.7,477.9 L219.3,477.3 L217.9,476.7 L216.6,476.0 L215.2,475.3 L213.9,474.6"/><path d="M219.6,478.4 L218.2,476.9 L216.9,475.1 L215.2,473.9 L213.2,473.3 L211.6,471.9"/><path d="M219.2,478.8 L219.5,480.8 L218.8,482.6 L218.4,484.6 L218.0,486.5 L217.7,488.5"/><path d="M221.4,478.9 L220.3,479.6 L219.2,480.5 L218.3,481.6 L218.0,482.9 L217.6,484.2"/><path d="M221.5,481.5 L218.2,482.1 L215.1,483.4 L212.1,484.8 L209.0,486.2 L205.7,485.8"/><path d="M221.9,480.6 L220.6,482.8 L220.0,485.4 L218.9,487.8 L216.5,488.8 L214.1,489.8"/></g>
<g fill="none" stroke="#fff" stroke-opacity="0.3" stroke-width="0.35"><path d="M246.7,481.6 L247.5,482.7 L248.0,484.1 L248.7,485.3 L249.2,486.6 L250.3,487.4"/><path d="M249.3,483.2 L250.3,484.4 L250.1,485.9 L249.1,487.1 L248.7,488.6 L247.2,489.1"/><path d="M245.2,482.0 L247.8,484.1 L250.9,485.5 L253.9,487.1 L255.6,489.9 L257.3,492.8"/><path d="M247.7,482.0 L249.1,479.7 L251.0,477.8 L252.6,475.7 L254.7,474.0 L257.2,473.0"/><path d="M250.0,482.6 L250.8,484.5 L252.1,486.0 L253.7,487.2 L255.0,488.7 L255.1,490.7"/><path d="M246.6,483.3 L246.6,481.8 L246.9,480.3 L247.8,479.1 L248.7,477.8 L249.6,476.6"/><path d="M246.5,484.1 L247.5,487.3 L249.6,490.0 L252.9,490.8 L256.2,491.5 L259.5,492.1"/><path d="M245.7,480.1 L243.8,479.0 L241.9,477.9 L241.2,475.8 L240.3,473.7 L240.0,471.6"/><path d="M245.9,483.1 L246.7,482.3 L247.6,481.7 L248.4,480.9 L248.8,479.9 L249.9,479.7"/><path d="M247.6,482.3 L246.0,483.4 L244.2,484.3 L242.3,485.0 L240.6,486.0 L239.1,487.3"/></g>
<g fill="none" stroke="#fff" stroke-opacity="0.3" stroke-width="0.35"><path d="M279.5,479.0 L277.5,479.0 L275.6,479.1 L274.3,480.6 L272.5,481.3 L270.5,481.4"/><path d="M279.8,481.3 L280.1,483.3 L280.9,485.0 L282.2,486.6 L283.5,488.1 L285.2,488.9"/><path d="M276.6,481.5 L278.0,483.1 L279.6,484.6 L281.3,485.9 L283.3,486.7 L285.5,487.0"/><path d="M278.7,477.5 L276.2,479.3 L273.7,481.0 L272.2,483.7 L271.3,486.6 L271.3,489.7"/><path d="M281.7,482.1 L279.2,480.3 L277.0,478.2 L275.2,475.8 L274.1,472.9 L273.9,469.9"/><path d="M279.4,476.6 L276.9,477.5 L274.5,478.9 L272.6,480.9 L270.1,481.9 L268.2,483.9"/><path d="M279.8,479.8 L282.5,478.7 L285.0,480.3 L285.7,483.1 L286.1,486.0 L286.0,488.9"/><path d="M278.4,482.9 L280.8,485.3 L283.4,487.4 L286.8,487.7 L290.2,488.0 L293.6,488.4"/><path d="M280.5,479.4 L278.8,476.6 L277.1,473.8 L274.8,471.4 L272.6,468.9 L271.1,466.0"/><path d="M279.0,480.7 L277.6,480.5 L276.5,479.6 L275.6,478.5 L274.9,477.3 L274.0,476.3"/></g>
<g fill="none" stroke="#fff" stroke-opacity="0.3" stroke-width="0.35"><path d="M332.9,479.9 L331.2,479.4 L329.7,478.4 L327.9,478.1 L326.3,477.2 L325.1,475.9"/><path d="M330.7,479.5 L334.2,479.9 L337.5,481.4 L339.3,484.5 L342.6,485.9 L346.2,485.6"/><path d="M330.3,479.4 L332.7,480.6 L335.0,482.0 L337.7,482.7 L340.3,482.0 L342.3,480.2"/><path d="M329.9,480.8 L328.5,477.8 L326.4,475.2 L326.2,471.9 L326.6,468.6 L326.5,465.2"/><path d="M329.8,481.9 L331.5,481.9 L333.1,482.4 L334.7,482.8 L336.1,483.7 L337.3,484.9"/><path d="M332.8,481.2 L329.5,481.4 L327.0,479.3 L325.4,476.5 L324.9,473.3 L323.9,470.2"/><path d="M330.8,480.7 L327.5,481.6 L325.0,483.9 L323.2,486.8 L323.4,490.3 L324.7,493.4"/><path d="M330.7,478.4 L330.5,480.0 L330.3,481.6 L331.0,483.1 L332.1,484.3 L333.2,485.5"/><path d="M331.4,477.4 L329.8,476.2 L327.9,475.5 L325.9,475.9 L323.9,476.4 L321.9,476.1"/><path d="M330.3,480.5 L328.6,482.7 L326.1,484.0 L323.5,485.1 L320.9,486.1 L318.0,486.3"/></g>
<g fill="none" stroke="#fff" stroke-opacity="0.3" stroke-width="0.35"><path d="M344.4,480.9 L345.8,481.2 L347.1,481.6 L348.3,482.1 L349.1,483.2 L349.4,484.6"/><path d="M348.2,477.9 L347.3,476.8 L345.9,476.9 L344.7,476.1 L343.5,475.3 L342.4,474.4"/><path d="M346.6,480.8 L347.8,479.1 L349.8,478.4 L351.9,477.9 L354.0,477.9 L355.9,477.2"/><path d="M345.2,478.9 L348.4,478.5 L351.3,479.9 L354.2,478.5 L357.3,478.8 L360.5,479.5"/><path d="M346.7,482.1 L348.5,480.1 L349.8,477.7 L350.7,475.1 L351.0,472.4 L352.2,469.9"/><path d="M346.5,477.8 L346.6,479.9 L344.9,481.1 L343.5,482.7 L341.5,483.2 L339.5,483.8"/><path d="M344.9,478.2 L344.4,479.6 L344.2,481.1 L343.6,482.5 L342.2,483.1 L341.2,484.3"/><path d="M344.8,481.3 L346.8,482.0 L348.6,483.1 L350.3,484.2 L352.4,484.1 L354.5,484.3"/><path d="M345.5,479.2 L342.8,477.8 L341.2,475.2 L340.2,472.3 L339.5,469.3 L338.1,466.6"/><path d="M348.2,476.9 L349.6,475.1 L350.9,473.2 L352.8,471.8 L354.0,469.9 L354.5,467.7"/></g>
<g fill="none" stroke="#fff" stroke-opacity="0.3" stroke-width="0.35"><path d="M277.7,514.7 L279.4,514.6 L281.0,514.5 L282.5,515.0 L283.9,515.8 L285.1,516.9"/><path d="M277.3,511.7 L280.4,510.6 L283.5,509.5 L286.4,507.9 L289.7,508.0 L293.0,508.3"/><path d="M279.8,511.4 L281.9,509.1 L284.3,506.9 L286.9,505.1 L289.6,503.3 L292.3,501.6"/><path d="M279.1,511.2 L280.1,511.7 L281.3,511.9 L282.0,512.9 L282.3,514.0 L282.1,515.1"/><path d="M276.5,510.5 L275.8,508.1 L274.8,505.8 L273.5,503.7 L272.7,501.3 L270.4,500.3"/><path d="M281.4,509.0 L280.2,509.4 L279.4,510.4 L278.5,511.2 L277.4,511.9 L276.3,512.5"/><path d="M278.3,513.1 L277.7,512.1 L277.2,511.0 L277.7,509.9 L278.3,508.8 L278.4,507.6"/><path d="M275.4,513.1 L272.2,514.5 L269.9,517.1 L267.7,519.8 L265.4,522.4 L262.3,524.1"/><path d="M279.9,510.3 L278.9,509.0 L277.5,508.3 L276.0,507.7 L274.5,507.4 L272.9,507.0"/><path d="M278.9,508.4 L282.2,507.3 L285.5,506.3 L288.4,504.4 L291.8,505.1 L295.3,505.2"/></g>
<circle cx="246.7" cy="442.3" r="1.8" fill="url(#soma)"/>
<circle cx="199.1" cy="465.4" r="1.8" fill="url(#soma)"/>
<circle cx="254.4" cy="471.3" r="1.8" fill="url(#soma)"/>
<circle cx="281.4" cy="470.6" r="1.8" fill="url(#soma)"/>
<circle cx="312.2" cy="464.6" r="1.8" fill="url(#soma)"/>
<circle cx="314.8" cy="471.3" r="1.8" fill="url(#soma)"/>
<circle cx="215.8" cy="478.3" r="1.8" fill="url(#soma)"/>
<circle cx="221" cy="479" r="1.8" fill="url(#soma)"/>
<circle cx="247.5" cy="482.1" r="1.8" fill="url(#soma)"/>
<circle cx="278.8" cy="480" r="1.8" fill="url(#soma)"/>
<circle cx="330.8" cy="479.5" r="1.8" fill="url(#soma)"/>
<circle cx="346.2" cy="479.5" r="1.8" fill="url(#soma)"/>
<circle cx="278.8" cy="511.7" r="1.8" fill="url(#soma)"/>
</g>
<text x="177.8" y="426.8" font-size="8.3" fill="#f5e23a" stroke="#f5e23a" stroke-width="0.12">L1</text>
<text x="177.8" y="452.6" font-size="8.3" fill="#f5e23a" stroke="#f5e23a" stroke-width="0.12">L2/3</text>
<text x="177.8" y="477.3" font-size="8.3" fill="#f5e23a" stroke="#f5e23a" stroke-width="0.12">L4</text>
<text x="177.8" y="499.6" font-size="8.3" fill="#f5e23a" stroke="#f5e23a" stroke-width="0.12">L5</text>
<text x="177.8" y="525.3" font-size="8.3" fill="#f5e23a" stroke="#f5e23a" stroke-width="0.12">L6</text>
<text x="357.6" y="418.3" text-anchor="end" font-size="8.3" fill="#fff" stroke="#fff" stroke-width="0.12">VISp</text>
<line x1="342" y1="538.4" x2="355.4" y2="538.4" stroke="#fff" stroke-width="1"/>
<g clip-path="url(#clipg)">
<rect x="395" y="409.3" width="133.9" height="133.2" fill="url(#gg)"/>
<rect x="395" y="409.3" width="133.9" height="133.2" filter="url(#nzg)" opacity="0.75"/>
<rect x="395" y="409.3" width="133.9" height="133.2" filter="url(#nz2)" opacity="0.2"/>
<path d="M395,500 Q430,508 468,543.5 L395,543.5 Z" fill="#0c0c58" opacity="0.4" filter="url(#bl2)"/>
<path d="M395,507 Q428,516 456,543.5" fill="none" stroke="#08083a" stroke-width="3" opacity="0.45" filter="url(#bl1)"/>
<path d="M395,502 Q410,505 423,511" fill="none" stroke="#4040ff" stroke-width="1.2" opacity="0.6"/>
<ellipse cx="440" cy="470" rx="28" ry="13" fill="url(#haze)" opacity="0.35" transform="rotate(20 440 470)"/>
<ellipse cx="499" cy="503" rx="24" ry="11" fill="url(#haze)" opacity="0.5" transform="rotate(12 499 503)"/>
<g fill="none" stroke="#fff" stroke-opacity="0.4" stroke-width="0.3"><path d="M439.9,473.8 L441.2,472.8 L442.7,472.2 L444.2,471.6 L445.8,471.1 L447.3,470.7"/><path d="M438.3,469.2 L441.3,471.9 L444.3,474.8 L447.9,476.6 L451.3,478.9 L453.9,482.1"/><path d="M438.4,472.9 L436.6,474.3 L436.4,476.6 L435.4,478.6 L433.5,479.9 L431.7,481.4"/><path d="M438.8,470.8 L441.3,470.3 L443.7,469.6 L446.1,469.1 L448.4,468.1 L450.9,467.8"/><path d="M438.5,469.5 L439.4,472.0 L441.7,473.4 L444.2,474.2 L446.8,474.9 L449.2,476.0"/><path d="M439.0,469.7 L442.7,469.5 L446.0,471.0 L448.7,473.5 L452.0,475.0 L455.7,475.2"/><path d="M435.2,471.6 L436.9,471.4 L438.6,470.9 L439.9,469.9 L440.9,468.4 L441.9,467.0"/><path d="M441.1,469.3 L446.0,470.7 L450.2,473.6 L453.3,477.7 L455.8,482.2 L456.0,487.4"/><path d="M439.7,470.3 L444.1,471.9 L448.8,472.6 L452.8,475.0 L456.1,478.4 L460.2,480.7"/><path d="M437.7,469.9 L439.3,472.7 L441.3,475.3 L443.8,477.2 L445.5,480.0 L447.1,482.8"/><path d="M438.4,469.8 L442.0,470.9 L445.8,471.3 L449.4,470.1 L452.6,468.3 L456.3,467.5"/><path d="M438.7,470.1 L442.1,469.5 L445.6,468.8 L448.4,466.7 L450.7,464.0 L454.1,463.1"/><path d="M438.2,470.5 L439.9,472.6 L441.3,475.0 L442.7,477.3 L444.9,479.0 L446.9,480.9"/><path d="M436.9,470.9 L438.8,469.9 L439.7,467.9 L439.9,465.7 L439.4,463.6 L439.4,461.4"/><path d="M438.0,471.6 L442.2,469.8 L446.8,469.4 L451.2,468.2 L455.7,469.0 L459.1,472.1"/><path d="M439.5,472.1 L440.5,473.4 L441.5,474.8 L442.7,475.9 L443.8,477.0 L445.4,477.5"/><path d="M434.6,471.5 L435.5,468.3 L436.9,465.3 L437.8,462.1 L438.5,458.8 L440.7,456.3"/><path d="M435.5,469.5 L438.3,471.8 L440.4,474.7 L442.4,477.7 L443.7,481.1 L445.1,484.4"/><path d="M436.3,469.9 L439.1,472.6 L441.6,475.5 L444.5,478.1 L447.7,480.3 L449.1,483.9"/><path d="M435.9,470.4 L439.4,472.4 L443.5,472.1 L447.3,470.6 L451.2,469.3 L455.3,469.2"/></g>
<g fill="none" stroke="#fff" stroke-opacity="0.45" stroke-width="0.3"><path d="M429.7,481.3 L430.8,479.8 L431.1,477.9 L431.6,476.1 L431.7,474.3 L431.6,472.4"/><path d="M429.7,484.7 L429.6,481.1 L430.5,477.7 L433.1,475.2 L433.6,471.7 L434.1,468.1"/><path d="M432.2,481.3 L432.8,480.0 L433.5,478.7 L434.4,477.6 L435.5,476.8 L436.8,476.0"/><path d="M430.4,483.5 L430.2,480.4 L431.7,477.6 L433.1,474.7 L434.4,471.8 L433.5,468.8"/><path d="M431.9,481.4 L433.1,480.5 L434.4,480.0 L435.8,479.9 L437.2,479.8 L438.5,479.2"/><path d="M433.4,483.2 L434.7,482.8 L436.0,482.4 L436.6,481.2 L436.8,479.9 L437.0,478.5"/><path d="M431.4,478.3 L430.2,475.1 L430.4,471.8 L430.8,468.5 L432.2,465.4 L433.9,462.5"/><path d="M430.9,482.9 L433.4,479.8 L436.8,477.8 L440.5,476.3 L444.1,474.6 L447.4,472.4"/><path d="M431.6,483.9 L431.6,480.4 L431.7,476.8 L430.1,473.6 L429.8,470.1 L430.1,466.5"/><path d="M428.5,481.6 L429.2,480.6 L430.1,479.7 L431.0,478.7 L431.5,477.6 L432.2,476.6"/><path d="M430.5,481.1 L431.8,479.7 L433.1,478.3 L434.6,477.0 L436.3,476.1 L437.9,475.1"/><path d="M431.0,480.5 L428.1,477.8 L424.6,476.0 L421.1,474.1 L417.8,471.9 L414.3,470.2"/><path d="M430.1,480.1 L430.2,478.1 L430.1,476.1 L429.8,474.2 L429.9,472.2 L430.1,470.2"/><path d="M432.6,479.9 L435.3,479.8 L437.7,480.8 L438.8,483.2 L440.5,485.2 L441.7,487.5"/></g>
<g fill="none" stroke="#fff" stroke-opacity="0.3" stroke-width="0.3"><path d="M426.7,468.1 L424.4,467.9 L422.2,468.7 L420.0,469.4 L417.8,470.1 L415.5,470.3"/><path d="M427.6,469.1 L426.5,468.6 L425.2,468.5 L424.0,468.6 L422.8,468.0 L421.6,468.3"/><path d="M424.6,471.0 L422.4,473.0 L419.9,474.5 L418.9,477.3 L417.2,479.7 L415.8,482.3"/><path d="M427.6,469.9 L426.3,468.9 L424.9,467.8 L423.3,467.1 L421.9,466.0 L421.1,464.5"/><path d="M426.3,470.8 L426.4,469.4 L426.9,468.1 L427.7,467.0 L428.5,466.0 L428.9,464.7"/><path d="M423.9,470.4 L421.2,469.5 L418.5,468.3 L415.6,467.9 L413.3,466.2 L411.3,464.1"/><path d="M425.8,469.2 L424.9,467.5 L425.0,465.7 L424.5,463.8 L423.6,462.2 L422.5,460.7"/><path d="M425.8,467.5 L423.9,468.2 L422.0,467.6 L420.5,466.2 L419.6,464.4 L418.3,462.9"/><path d="M424.8,470.7 L423.2,471.0 L421.6,471.4 L420.1,472.1 L418.9,473.1 L418.3,474.7"/><path d="M426.1,468.5 L425.8,470.9 L425.8,473.3 L426.2,475.6 L426.0,478.0 L425.9,480.4"/><path d="M425.8,474.5 L423.4,473.0 L421.3,471.1 L419.8,468.7 L418.3,466.3 L416.4,464.2"/><path d="M426.0,469.5 L424.5,470.4 L422.8,470.5 L421.3,469.7 L419.6,469.2 L417.9,468.6"/><path d="M425.0,471.3 L423.1,472.8 L420.6,473.3 L418.2,473.3 L416.2,474.8 L414.1,476.2"/><path d="M423.7,469.2 L421.3,469.8 L419.2,471.1 L416.8,471.8 L414.5,472.5 L412.2,473.3"/></g>
<g fill="none" stroke="#fff" stroke-opacity="0.3" stroke-width="0.3"><path d="M452.5,478.2 L453.2,477.2 L453.7,476.0 L453.8,474.7 L453.4,473.4 L452.3,472.6"/><path d="M450.7,477.7 L454.0,478.5 L457.3,479.2 L460.0,481.2 L462.2,483.7 L465.0,485.5"/><path d="M451.0,479.9 L452.3,479.9 L453.3,479.2 L454.5,478.6 L455.7,478.7 L456.8,479.4"/><path d="M455.6,476.7 L457.2,476.4 L458.7,475.9 L460.1,475.2 L461.7,475.0 L463.3,475.0"/><path d="M453.0,477.4 L452.2,478.6 L450.8,479.2 L449.4,478.9 L447.9,478.8 L446.6,478.0"/><path d="M453.1,477.3 L455.8,477.0 L457.9,478.7 L460.4,479.8 L462.9,480.8 L465.4,481.8"/><path d="M454.6,477.8 L455.7,481.2 L457.1,484.4 L456.5,487.9 L455.6,491.3 L453.8,494.4"/><path d="M453.0,476.9 L455.5,475.2 L457.2,472.7 L458.8,470.2 L460.8,467.9 L462.7,465.7"/><path d="M452.9,479.6 L454.7,478.1 L456.1,476.1 L457.1,473.9 L456.8,471.5 L455.7,469.4"/><path d="M450.7,474.6 L451.1,473.4 L450.8,472.2 L450.1,471.1 L449.0,470.6 L448.5,469.4"/><path d="M453.7,479.6 L456.1,481.5 L458.2,483.6 L461.0,484.6 L463.9,485.4 L466.7,484.2"/><path d="M452.5,477.4 L455.6,476.9 L458.6,476.6 L461.5,477.5 L464.6,477.8 L467.6,478.0"/></g>
<g fill="none" stroke="#fff" stroke-opacity="0.4" stroke-width="0.3"><path d="M497.9,500.0 L499.6,505.2 L503.2,509.5 L504.9,514.8 L507.6,519.7 L512.0,523.0"/><path d="M496.7,499.5 L497.1,502.7 L497.8,505.8 L499.2,508.7 L500.2,511.8 L502.2,514.3"/><path d="M496.4,502.5 L499.4,503.3 L502.4,504.1 L505.1,505.8 L507.5,507.8 L508.2,510.9"/><path d="M496.0,502.4 L499.1,504.5 L501.3,507.6 L504.2,510.0 L505.7,513.5 L504.4,517.1"/><path d="M497.5,498.9 L500.2,501.1 L502.7,503.6 L505.0,506.2 L507.5,508.7 L509.9,511.2"/><path d="M495.5,502.0 L500.5,500.5 L505.5,499.6 L509.8,496.7 L514.4,494.4 L518.9,491.9"/><path d="M498.1,500.6 L499.0,498.5 L498.4,496.4 L499.5,494.6 L501.0,493.0 L503.2,492.6"/><path d="M500.0,504.5 L502.1,506.1 L503.1,508.4 L504.0,510.7 L504.6,513.2 L504.2,515.7"/><path d="M498.9,501.0 L503.1,499.5 L507.4,498.5 L511.4,496.5 L513.9,492.8 L514.9,488.5"/><path d="M495.2,502.7 L497.6,505.6 L501.2,507.0 L504.9,507.1 L508.1,509.2 L511.6,510.8"/><path d="M498.6,500.5 L500.7,502.1 L503.0,503.4 L505.4,504.3 L508.1,504.3 L510.7,504.2"/><path d="M494.4,501.8 L496.8,504.1 L499.8,505.4 L502.9,506.4 L505.0,508.9 L506.8,511.7"/><path d="M496.1,499.8 L498.2,500.1 L500.2,500.7 L502.2,501.4 L504.1,502.3 L506.0,503.3"/><path d="M495.5,500.4 L499.6,499.3 L503.6,501.0 L507.5,502.7 L511.7,503.6 L516.0,504.3"/><path d="M497.8,500.8 L500.9,502.2 L503.9,503.7 L507.3,504.3 L510.3,505.9 L512.4,508.5"/><path d="M500.5,500.8 L503.7,504.0 L504.9,508.2 L508.0,511.4 L511.6,514.0 L515.3,516.4"/><path d="M492.8,500.8 L494.5,498.4 L496.5,496.4 L497.7,493.8 L497.7,490.9 L497.1,488.1"/><path d="M496.6,500.2 L500.9,500.1 L504.8,501.7 L507.7,504.8 L511.0,507.3 L514.2,510.2"/><path d="M498.7,498.4 L500.8,497.1 L502.8,495.6 L504.0,493.4 L504.4,491.0 L504.2,488.5"/><path d="M494.7,501.0 L498.4,500.1 L502.2,499.8 L506.1,499.9 L509.8,499.1 L513.7,499.1"/><path d="M495.4,500.2 L498.2,496.7 L499.9,492.6 L501.3,488.4 L504.0,484.8 L506.6,481.1"/><path d="M495.9,498.9 L499.0,497.4 L502.2,498.8 L505.6,499.2 L508.6,497.7 L511.7,496.0"/></g>
<g fill="none" stroke="#fff" stroke-opacity="0.35" stroke-width="0.3"><path d="M495.6,501.9 L494.2,500.6 L493.7,498.7 L492.3,497.3 L490.6,496.3 L489.3,494.8"/><path d="M497.9,500.3 L495.3,501.9 L492.3,502.2 L489.3,502.5 L486.5,501.5 L484.4,499.3"/><path d="M498.4,500.4 L495.5,499.9 L492.6,499.5 L489.7,499.0 L487.7,496.8 L485.6,494.7"/><path d="M496.1,500.7 L492.6,499.0 L490.3,495.7 L488.3,492.3 L486.9,488.6 L485.3,485.0"/><path d="M495.4,500.3 L492.8,501.7 L490.2,502.8 L488.1,504.8 L487.2,507.5 L486.0,510.1"/><path d="M500.3,501.4 L498.6,501.1 L497.5,499.7 L498.5,498.1 L499.1,496.5 L499.4,494.7"/><path d="M495.8,500.4 L492.1,499.1 L489.1,496.6 L486.9,493.4 L485.4,489.8 L485.4,485.9"/><path d="M498.2,500.9 L496.4,502.3 L494.4,503.5 L492.5,504.9 L490.9,506.6 L489.3,508.3"/><path d="M495.9,500.1 L493.9,500.5 L492.2,501.6 L491.0,503.2 L490.3,505.2 L491.0,507.1"/><path d="M497.6,500.0 L493.3,501.8 L488.7,502.9 L484.5,504.7 L480.7,507.4 L478.0,511.3"/><path d="M496.7,502.8 L493.8,501.1 L490.3,501.3 L486.9,501.7 L483.5,502.0 L480.3,500.9"/><path d="M497.9,503.4 L494.6,506.1 L492.3,509.7 L492.6,513.9 L493.1,518.1 L494.9,521.9"/><path d="M496.6,500.3 L494.5,500.6 L492.4,500.5 L490.4,500.0 L488.5,499.2 L486.6,500.2"/><path d="M497.3,500.5 L495.2,500.2 L493.1,499.5 L491.9,497.7 L490.7,495.8 L489.5,494.0"/><path d="M496.4,499.4 L493.8,500.5 L491.0,500.9 L488.3,501.7 L485.8,503.0 L483.0,503.1"/><path d="M498.4,502.2 L496.7,500.7 L495.4,499.0 L493.4,497.9 L491.8,496.4 L489.8,495.5"/></g>
<g fill="none" stroke="#fff" stroke-opacity="0.3" stroke-width="0.3"><path d="M499.7,500.5 L501.3,500.6 L503.0,500.8 L504.6,501.4 L506.0,502.3 L507.6,502.7"/><path d="M498.5,501.1 L497.3,502.5 L496.6,504.0 L496.5,505.8 L497.6,507.1 L499.3,507.5"/><path d="M495.7,502.9 L496.5,505.1 L497.6,507.1 L498.5,509.2 L500.1,510.8 L502.3,511.6"/><path d="M498.2,502.9 L496.0,504.7 L493.7,506.3 L491.3,507.8 L488.6,508.8 L487.2,511.2"/><path d="M497.0,502.2 L497.7,499.7 L496.5,497.3 L496.0,494.7 L494.7,492.4 L493.0,490.4"/><path d="M495.3,498.7 L492.6,500.0 L490.1,501.9 L487.9,503.9 L486.6,506.7 L485.9,509.7"/><path d="M497.6,500.5 L498.5,503.0 L500.1,505.0 L501.9,507.0 L503.8,508.9 L506.4,509.6"/><path d="M497.5,502.0 L496.8,503.1 L495.7,503.8 L494.9,504.9 L494.4,506.1 L494.1,507.4"/><path d="M496.4,501.4 L497.4,503.6 L497.7,506.0 L498.3,508.3 L498.1,510.7 L497.4,513.0"/><path d="M495.8,497.5 L494.7,498.4 L494.0,499.5 L493.0,500.4 L492.8,501.8 L493.3,503.1"/></g>
<circle cx="430.5" cy="480.5" r="1.8" fill="url(#soma)"/>
<circle cx="497" cy="501.3" r="2.6" fill="url(#soma)"/>
<path d="M508,409.3 Q520,415 528.9,420.5 L528.9,409.3 Z" fill="#000"/>
<path d="M514,414 Q522,418.5 529.5,423.5" fill="none" stroke="#3c3cff" stroke-width="2.4" opacity="0.85" filter="url(#bl1)"/>
</g>
<text transform="translate(517.1,425.2) rotate(22)" text-anchor="middle" dominant-baseline="central" font-size="8.3" fill="#f5e23a" stroke="#f5e23a" stroke-width="0.12">L1</text>
<text transform="translate(506.7,447) rotate(22)" text-anchor="middle" dominant-baseline="central" font-size="8.3" fill="#f5e23a" stroke="#f5e23a" stroke-width="0.12">L2/3</text>
<text transform="translate(490.6,465) rotate(22)" text-anchor="middle" dominant-baseline="central" font-size="8.3" fill="#f5e23a" stroke="#f5e23a" stroke-width="0.12">L4</text>
<text transform="translate(478.4,483.5) rotate(22)" text-anchor="middle" dominant-baseline="central" font-size="8.3" fill="#f5e23a" stroke="#f5e23a" stroke-width="0.12">L5</text>
<text transform="translate(462.3,506.5) rotate(22)" text-anchor="middle" dominant-baseline="central" font-size="8.3" fill="#f5e23a" stroke="#f5e23a" stroke-width="0.12">L6</text>
<text x="528.3" y="418.2" text-anchor="end" font-size="8.5" fill="#fff" stroke="#fff" stroke-width="0.12">VISp</text>
<line x1="511.4" y1="539.3" x2="526.7" y2="539.3" stroke="#fff" stroke-width="1"/>
<g fill="none" stroke="#5e5e5e" stroke-width="0.55"><path d="M597.7,494.8 L596.4,493.5 L594.8,492.0 L592.6,490.0 L592.0,488.7 L590.4,486.6 L588.3,485.2 L586.7,484.1 L584.5,482.2 L583.2,481.4 L582.0,479.2 L580.4,477.6 L578.5,476.1 L575.8,476.3 L573.9,475.0 L572.6,475.1 L569.9,474.6 L568.0,473.7 L565.3,473.7 L563.3,473.4 L561.0,472.5 L558.2,472.4"/><path d="M578.8,476.2 L576.1,477.2 L574.4,478.6"/><path d="M592.6,490.2 L591.3,492.2 L590.9,494.1"/><path d="M583.5,481.2 L582.0,479.9 L579.6,479.5 L577.1,478.5 L574.3,478.2 L573.0,477.7 L570.3,477.5"/><path d="M579.6,479.8 L581.1,478.5 L584.0,477.5"/><path d="M576.9,478.6 L579.1,476.7 L578.4,476.9"/><path d="M598.0,494.6 L595.3,494.3 L593.1,494.0 L590.9,494.5 L589.7,493.9 L586.6,494.6 L585.0,493.9 L582.6,494.0 L581.0,493.8 L578.4,493.3 L576.7,493.2 L574.2,493.9 L571.6,493.7 L570.3,493.6 L568.0,493.1 L565.5,493.2 L563.8,493.4 L561.3,494.1 L559.2,493.6"/><path d="M585.0,493.7 L586.6,493.8 L588.4,493.4"/><path d="M570.7,493.3 L570.5,492.9 L571.9,490.4"/><path d="M597.6,494.6 L595.0,495.2 L593.1,495.3 L590.5,495.3 L588.9,496.0 L586.9,495.9 L584.9,496.6 L582.7,496.5 L579.7,497.4 L578.0,498.0 L575.8,498.3 L573.8,499.3 L572.2,499.9 L569.8,500.3 L568.4,500.9 L566.4,501.2 L564.4,501.9 L561.9,502.3 L559.6,503.5 L557.7,503.7 L556.4,504.4 L553.6,505.6 L551.9,506.3 L550.4,507.0 L548.4,507.5 L546.1,508.7 L543.8,509.5 L541.7,510.5 L540.0,511.8"/><path d="M555.9,504.4 L555.7,503.1 L554.8,502.2"/><path d="M586.9,495.7 L588.9,497.1 L590.7,499.0"/><path d="M597.3,494.8 L596.4,496.5 L595.8,499.1 L594.6,501.0 L593.2,503.4 L592.0,504.8 L590.6,507.0 L590.1,508.8 L588.4,510.6 L587.3,512.9 L586.3,514.6 L584.9,516.3 L584.1,517.9 L582.6,519.6 L582.5,522.7 L581.1,524.8 L580.4,527.5"/><path d="M581.0,524.8 L580.2,524.6 L579.3,523.2"/><path d="M583.8,518.4 L583.1,519.7 L580.5,521.2"/><path d="M582.8,520.5 L580.7,520.8 L578.3,521.6 L576.0,523.0"/><path d="M578.3,521.7 L577.4,522.4 L578.4,523.7"/><path d="M580.5,520.9 L580.0,523.3 L580.7,523.6"/><path d="M583.1,520.2 L582.3,522.5 L582.2,524.4 L581.9,526.4 L581.8,528.8 L581.5,531.0"/><path d="M582.0,526.6 L579.9,523.6 L580.1,522.4"/><path d="M582.4,524.6 L584.2,525.2 L586.5,524.8"/><path d="M597.5,494.5 L598.2,496.4 L597.9,499.1 L597.9,501.2 L598.8,502.9 L598.5,505.5 L599.2,507.1 L598.9,509.8 L599.0,511.8 L599.0,514.3 L600.0,516.0 L599.7,518.9 L600.6,521.0 L600.1,523.2 L601.0,525.5 L600.7,526.5 L600.7,528.7 L600.3,531.0"/><path d="M598.4,503.0 L598.0,502.3 L598.2,500.6"/><path d="M598.4,509.9 L600.0,509.6 L601.1,510.4"/><path d="M597.2,494.5 L598.3,496.8 L599.3,499.2 L600.1,500.4 L601.3,502.6 L602.1,505.0 L602.9,507.3 L603.1,509.3 L603.6,511.5 L604.3,514.0 L604.6,516.1 L605.9,518.9 L606.7,521.2 L608.3,522.6 L609.5,524.6 L610.1,527.1 L611.4,529.4 L611.8,530.8 L612.0,533.0"/><path d="M612.3,531.0 L612.7,530.1 L615.9,531.6"/><path d="M611.2,529.2 L612.3,527.8 L612.5,527.2"/><path d="M597.5,494.2 L599.8,493.8 L601.7,492.7 L603.6,491.9 L605.2,491.0 L607.2,489.9 L608.2,488.1 L609.8,486.7 L612.1,485.7 L613.5,483.8 L614.8,483.2 L616.5,481.4 L618.0,479.6 L619.2,478.3 L620.9,477.2 L622.9,475.7 L623.8,474.4 L625.2,473.1 L626.7,472.0 L627.5,470.7 L628.9,468.9 L630.2,466.9 L631.0,465.4 L632.0,462.3"/><path d="M605.7,490.5 L605.7,489.1 L605.9,488.1"/><path d="M630.8,465.4 L633.1,466.2 L633.8,467.0"/><path d="M597.8,494.3 L599.4,495.0 L602.2,495.2 L603.7,495.8 L605.4,495.1 L608.2,495.7 L609.5,496.0 L612.6,496.0 L614.1,495.6 L616.0,496.4 L618.6,496.4 L620.3,495.7 L622.4,495.9 L624.6,495.8 L627.1,496.5 L628.8,496.9 L631.9,497.7 L633.6,498.6 L635.7,498.9 L637.7,499.6 L640.0,501.1 L642.1,500.3 L643.7,498.7 L646.0,498.5 L648.1,497.6 L650.1,497.2 L652.7,496.1 L654.6,496.0 L657.0,495.0"/><path d="M613.9,495.5 L612.6,495.8 L611.9,494.8"/><path d="M631.6,497.3 L632.0,498.5 L632.0,499.9"/><path d="M609.7,491.8 L612.0,490.9 L614.2,490.4 L616.7,489.9 L619.0,489.3 L621.0,488.5 L622.8,488.0 L625.2,487.5 L627.4,486.8 L629.1,486.5 L631.3,485.3 L633.1,485.0 L635.5,485.0 L637.6,484.0 L640.3,484.1 L641.5,483.2 L643.6,483.1 L646.4,483.2 L648.1,482.1 L649.9,481.9 L651.3,483.1 L653.1,485.5 L654.7,486.4 L656.0,488.1 L657.5,490.0"/><path d="M655.9,488.0 L657.0,489.7 L658.7,491.4"/><path d="M623.3,488.1 L621.3,489.2 L618.8,489.6"/></g>
<g fill="none" stroke="#ef1c4f" stroke-width="0.55"><path d="M567.2,444.6 L568.8,446.4 L569.1,448.9 L570.3,450.6 L570.2,452.3 L571.0,454.5 L572.1,456.7 L573.0,458.4 L574.0,461.6 L575.9,463.8 L576.2,465.5 L576.2,468.5 L577.4,470.4"/><path d="M573.8,462.1 L573.3,463.2 L572.3,463.2"/><path d="M573.9,461.2 L573.3,460.2 L572.1,457.5"/><path d="M565.9,450.0 L567.0,451.6 L568.0,454.1 L569.3,456.6 L570.3,458.3"/><path d="M568.1,453.6 L565.8,455.5 L563.9,455.4"/><path d="M581.0,447.5 L582.8,449.0 L584.1,449.9 L586.8,452.0 L589.0,453.6 L590.4,454.9 L591.2,456.8 L592.8,457.6 L593.9,460.9 L595.7,461.6 L598.0,464.0 L599.2,465.0 L600.6,465.8 L601.6,467.7 L604.0,469.3 L605.8,471.1 L606.5,472.8 L608.8,472.9 L611.1,473.9 L612.7,475.6 L615.0,476.0"/><path d="M610.9,474.2 L610.0,470.4 L609.2,469.4"/><path d="M591.2,457.0 L592.1,457.9 L594.0,458.3"/><path d="M603.9,469.1 L602.8,471.4 L601.2,470.9"/><path d="M582.0,455.6 L583.9,457.2 L586.6,457.5 L588.0,458.8 L590.7,459.8 L592.8,459.7 L594.5,461.3 L597.2,461.0 L599.1,462.0 L601.2,461.9 L602.9,463.3 L604.6,462.7 L606.2,463.3 L608.1,463.8 L610.9,463.2 L613.1,463.5 L615.2,463.0 L617.1,462.6 L619.4,461.6 L621.4,460.3 L622.8,460.3"/><path d="M591.1,460.3 L591.1,457.7 L591.7,457.4"/><path d="M619.0,461.1 L619.3,462.6 L617.4,462.0"/><path d="M588.3,459.3 L586.3,457.7 L583.2,459.1"/><path d="M572.1,467.9 L574.9,469.0 L576.7,468.7 L577.8,469.6 L581.0,469.6 L582.3,470.2 L585.1,470.7 L586.8,471.0 L589.1,472.0 L590.4,472.0 L593.0,473.5 L594.2,473.5 L596.0,473.6 L599.0,474.2 L601.0,474.7 L602.7,476.6 L605.1,475.9 L607.3,476.6 L609.1,476.8 L610.7,478.6 L612.8,479.0 L614.7,478.3 L616.3,479.9 L618.8,480.5 L621.4,480.7 L623.1,481.1 L624.7,481.3 L627.5,482.3 L629.8,482.2 L632.0,482.0 L634.0,482.7 L635.5,483.3 L637.4,484.5 L640.0,484.5"/><path d="M582.3,470.0 L583.6,469.3 L585.0,470.1"/><path d="M594.1,473.2 L594.8,471.7 L594.3,471.3"/><path d="M637.9,485.0 L638.1,483.2 L641.1,483.6"/><path d="M629.5,482.0 L631.5,482.9 L631.8,483.4"/><path d="M585.5,470.8 L584.6,471.9 L584.6,473.0"/><path d="M577.1,478.0 L577.7,478.3 L580.3,479.1 L582.7,479.4 L583.8,480.1 L586.1,481.3 L588.1,481.2 L590.9,481.6 L592.8,483.0 L594.9,483.3 L596.5,483.5 L598.0,485.4 L600.7,485.2 L602.7,486.4 L604.5,486.9 L607.2,488.0 L609.0,488.8 L610.1,488.7 L612.9,489.0 L614.8,490.5 L616.6,490.5 L618.7,490.5 L620.1,491.7 L622.9,491.5 L625.1,492.1 L627.5,493.0 L628.9,494.2 L631.3,493.9 L633.0,494.6 L635.0,495.2 L637.4,496.5 L640.0,496.7"/><path d="M622.6,491.1 L622.1,494.8 L622.5,496.1"/><path d="M613.1,489.2 L614.0,490.4 L615.3,491.4"/><path d="M604.9,486.5 L603.9,484.6 L603.8,483.1"/><path d="M582.7,479.7 L584.7,480.2 L586.7,480.5"/><path d="M594.4,483.6 L596.0,484.8 L598.0,486.3"/><path d="M600.6,459.8 L601.6,461.7 L603.9,463.3 L604.1,465.1 L605.4,466.9 L607.5,468.9 L608.2,469.9 L610.3,472.3 L611.9,473.7 L614.1,474.8 L614.9,476.9 L616.9,479.1 L618.9,479.4 L620.7,480.2 L623.3,480.2 L624.3,480.8 L626.7,482.4 L628.9,482.5"/><path d="M614.3,474.4 L610.8,475.9 L610.0,475.1"/><path d="M614.7,477.0 L615.2,476.0 L616.9,473.8"/><path d="M623.2,480.7 L624.3,477.6 L626.2,476.6"/><path d="M616.2,465.8 L618.2,467.7 L621.4,468.3 L622.7,468.8 L624.7,471.0 L626.9,471.9 L629.1,472.8 L630.9,474.4"/><path d="M622.4,468.8 L623.1,469.3 L626.0,467.7"/><path d="M622.9,459.2 L620.5,461.0 L619.5,462.5 L616.8,464.3"/><path d="M620.2,460.7 L622.0,459.9 L624.1,457.7"/><path d="M600.0,498.4 L601.8,500.9 L601.7,502.8 L602.6,504.7"/><path d="M601.9,502.9 L600.4,504.5 L600.8,506.9"/><path d="M627.2,497.0 L628.2,498.5 L630.1,498.5 L631.9,500.1 L634.6,501.8 L635.8,502.7 L637.6,503.7 L640.0,504.7"/><path d="M631.6,499.6 L630.7,498.7 L629.1,497.1"/><path d="M635.5,480.5 L637.0,479.9 L639.1,479.0 L640.7,479.4 L642.7,479.0 L645.4,478.7 L646.7,480.0 L648.5,479.7 L650.8,480.8 L653.2,480.2 L655.9,481.0 L657.4,481.9 L659.6,481.1 L661.9,481.7 L663.1,481.4 L666.0,481.4 L667.9,481.3 L669.8,480.9 L671.3,481.7 L674.3,480.3 L675.5,480.5 L678.2,480.1 L679.4,479.9 L681.9,478.8 L683.4,476.7 L683.9,475.1 L686.3,474.1 L687.3,472.5 L688.0,471.5 L690.1,470.4 L691.6,468.8 L693.0,466.9 L693.1,465.2 L694.9,463.3 L695.8,461.7 L698.0,461.2 L698.7,458.8 L699.4,457.9 L701.4,455.9 L702.1,454.1 L703.4,452.7 L704.8,449.9 L705.6,448.5 L706.4,447.4 L707.8,444.6 L708.4,443.5 L708.7,440.7 L709.3,438.2 L710.8,437.4 L712.5,435.0"/><path d="M686.0,474.0 L688.3,476.5 L688.8,478.3"/><path d="M639.5,478.7 L637.9,480.9 L638.6,482.5"/><path d="M688.4,471.7 L688.7,470.0 L688.9,468.4"/><path d="M678.6,480.6 L676.8,478.3 L674.6,478.1"/><path d="M708.2,440.4 L706.7,439.0 L706.3,438.8"/><path d="M637.3,480.3 L637.2,479.0 L636.0,476.7"/><path d="M642.8,479.4 L643.0,477.5 L642.2,476.0"/><path d="M687.0,472.3 L688.2,474.1 L688.8,475.3"/><path d="M707.6,444.6 L710.2,443.9 L712.5,442.5"/><path d="M710.5,443.4 L711.0,444.6 L712.8,445.3"/><path d="M710.6,439.3 L709.7,437.4 L708.9,434.4 L708.0,433.0"/><path d="M708.7,434.3 L706.7,433.7 L705.5,434.1"/><path d="M624.6,487.2 L626.4,488.0 L629.6,488.7 L630.4,489.5 L633.6,489.9 L634.8,490.8 L637.3,491.9 L638.4,493.3 L640.8,493.8 L642.9,494.8 L644.4,494.6 L646.6,495.6 L649.2,496.9 L650.4,497.8 L653.0,498.8 L654.3,499.9 L656.4,500.5 L658.0,501.0 L659.9,503.0 L661.4,503.6 L663.5,505.1 L664.5,506.2 L667.0,506.9 L667.8,509.1 L670.0,510.0"/><path d="M629.8,488.2 L630.8,488.4 L631.6,489.6"/><path d="M646.5,495.6 L643.8,494.8 L641.7,494.7"/><path d="M647.0,495.4 L647.2,493.9 L647.9,493.8"/><path d="M650.6,497.8 L651.0,496.0 L653.5,493.9"/><path d="M629.9,493.1 L631.7,493.3 L633.8,494.7 L635.6,495.8 L637.0,496.4 L639.5,498.4 L640.6,499.3 L642.8,500.5 L645.1,502.0 L646.1,502.5 L648.3,503.4 L650.6,504.4 L651.8,505.8 L653.6,506.5 L655.0,508.9 L657.5,508.9 L658.9,509.7 L660.2,511.0 L662.5,512.5"/><path d="M648.7,503.5 L650.7,505.4 L651.8,506.6"/><path d="M650.3,504.6 L650.1,504.3 L650.5,506.9"/><path d="M648.6,503.8 L645.8,504.3 L645.7,503.9"/><path d="M639.4,480.0 L642.4,479.5 L643.8,480.7 L647.0,480.3 L648.2,480.9 L650.0,481.2 L652.2,481.7 L655.0,481.1 L655.2,483.1 L656.5,485.9 L656.4,488.3 L657.1,489.8 L657.5,492.5"/><path d="M642.6,479.2 L641.2,478.5 L640.3,478.6"/><path d="M647.0,480.7 L648.9,482.2 L649.8,482.9"/><path d="M666.9,479.6 L667.8,482.2 L667.6,484.6 L668.4,486.4 L669.0,489.0 L669.0,490.8 L669.8,493.1 L669.7,494.7 L670.8,497.6 L671.9,499.5 L672.5,502.5"/><path d="M671.1,498.1 L669.1,497.3 L667.1,496.5"/><path d="M674.6,490.3 L676.6,491.7 L678.4,492.7 L680.4,493.2 L682.1,495.1 L683.6,497.9 L683.2,500.4 L683.2,502.4 L682.9,503.9 L681.2,506.3 L679.7,506.6 L677.5,508.8"/><path d="M683.0,502.5 L682.3,502.1 L681.6,501.0"/><path d="M680.0,507.0 L679.0,506.4 L678.6,504.4"/><path d="M645.2,477.2 L647.8,477.4 L649.1,478.0 L650.8,477.9 L653.3,477.5 L655.6,477.1 L657.5,477.5"/><path d="M649.4,478.1 L649.2,479.3 L647.3,481.7"/><path d="M598.5,451.5 L599.6,453.4 L601.5,455.0 L603.2,456.1 L603.8,456.7 L606.6,458.6 L608.6,458.8 L610.9,460.0 L613.0,461.2 L615.5,462.3 L617.3,463.3 L618.3,464.9 L620.1,465.4 L622.3,467.1 L623.3,468.0 L624.6,470.6 L626.1,471.3 L628.2,472.8 L629.4,474.9 L631.2,476.4 L632.0,478.0"/><path d="M618.6,464.6 L616.8,464.9 L616.1,466.2"/><path d="M619.8,465.4 L619.7,462.6 L620.6,460.4"/><path d="M603.5,456.5 L603.9,458.3 L606.1,458.4"/><path d="M588.2,445.8 L589.1,447.7 L591.2,448.2 L592.2,449.0 L594.1,450.9 L595.5,452.3 L598.4,452.6 L601.1,454.0 L602.4,454.2 L605.0,455.0"/><path d="M588.9,447.9 L588.3,448.0 L586.3,448.5"/><path d="M576.1,459.5 L577.1,461.2 L577.3,462.5 L577.6,464.4 L579.1,467.0"/><path d="M598.8,448.2 L600.6,448.8 L602.5,450.1 L602.6,450.3 L604.6,451.8"/><path d="M635.8,475.8 L639.4,475.0 L640.2,474.1 L643.7,473.9 L645.3,473.2"/><path d="M583.6,458.9 L586.2,458.5 L587.1,457.1 L588.0,456.2 L590.1,454.3"/><path d="M635.4,470.4 L636.2,472.5 L637.1,473.6 L636.5,474.1 L638.1,475.7"/><path d="M618.2,490.5 L619.8,491.4 L622.1,493.0"/><path d="M608.5,465.7 L609.8,465.8 L610.3,465.2 L612.1,463.7 L614.4,463.7"/><path d="M625.3,483.3 L626.1,483.7 L627.6,484.2 L630.7,486.4 L631.6,486.4"/><path d="M594.8,466.9 L597.0,467.7 L597.2,466.6 L599.0,466.5 L600.7,465.5 L602.2,465.7 L604.0,465.1"/><path d="M607.5,470.8 L608.8,472.6 L610.0,473.0 L611.9,474.2 L612.9,474.8"/><path d="M583.2,467.3 L584.3,465.9 L586.6,465.7"/><path d="M595.9,468.0 L597.8,468.9 L598.6,470.5 L599.6,471.8 L601.6,472.4 L602.3,473.5 L604.4,473.9"/><path d="M589.7,476.8 L592.1,478.3 L592.5,479.1 L594.0,479.6 L595.0,481.0"/><path d="M574.6,453.3 L576.3,454.6 L577.7,454.5 L579.5,455.1 L581.5,456.0"/><path d="M626.6,475.4 L628.1,474.2 L629.7,472.5 L630.5,472.6 L632.3,470.7 L634.6,470.7 L635.6,469.4"/><path d="M626.4,466.5 L628.5,465.0 L628.7,464.7 L631.3,464.0 L632.9,462.6 L633.9,462.1 L634.8,461.4"/><path d="M612.9,462.9 L614.7,461.6 L616.6,461.1 L618.1,459.9 L620.1,459.6"/><path d="M620.3,466.5 L622.7,464.4 L624.4,462.7"/><path d="M631.1,463.2 L633.0,462.4 L634.0,463.6 L636.1,462.4 L637.5,462.8 L639.2,462.3 L640.1,462.4"/><path d="M619.0,477.6 L620.1,479.0 L620.9,480.5 L620.5,483.3 L621.6,484.1"/><path d="M606.2,484.2 L608.7,483.8 L612.0,482.9"/><path d="M636.6,480.1 L637.0,479.8 L639.6,479.3 L639.8,478.3 L642.0,477.7 L642.5,477.8 L644.8,477.6"/><path d="M588.1,470.9 L589.5,470.0 L591.4,468.9 L592.8,467.7 L594.1,466.4"/><path d="M636.6,476.0 L638.6,478.7 L639.5,479.8 L640.7,482.6 L642.3,483.7"/><path d="M603.2,457.4 L604.7,459.4 L605.0,461.5 L605.4,463.0 L606.0,464.1 L607.2,466.1 L607.9,467.9"/><path d="M638.3,461.1 L640.7,460.6 L643.3,459.8"/><path d="M642.7,480.3 L644.5,479.4 L646.7,479.3 L647.6,478.1 L649.6,477.8"/><path d="M579.0,453.0 L581.6,453.2 L583.5,453.7"/><path d="M634.6,492.4 L635.9,494.8 L636.7,497.3"/><path d="M610.3,460.5 L610.8,460.5 L611.8,462.2 L613.2,463.5 L614.6,464.5"/><path d="M568.7,470.3 L569.6,472.3 L570.8,472.9 L571.3,475.1 L572.4,476.1 L573.0,477.6 L574.3,478.9"/><path d="M606.3,491.6 L605.6,493.8 L607.5,495.8 L607.2,496.8 L607.9,498.6 L608.4,501.3 L609.6,502.6"/><path d="M583.4,456.1 L585.7,457.3 L587.3,457.9"/><path d="M624.1,461.2 L625.8,461.1 L627.8,460.1 L628.8,460.9 L630.9,460.9"/><path d="M628.7,458.8 L631.0,458.6 L631.6,457.7 L633.5,456.9 L635.1,457.0"/><path d="M598.8,451.2 L599.5,452.0 L601.2,452.2 L602.6,453.5 L603.5,454.3 L606.0,455.4 L607.0,456.0"/><path d="M593.0,459.2 L594.9,460.3 L597.5,460.8 L598.7,461.9 L600.4,462.7"/><path d="M618.8,459.7 L620.7,458.9 L622.6,458.0 L623.8,458.6 L625.3,456.8 L628.1,456.6 L629.3,456.3"/><path d="M623.1,466.9 L622.6,468.4 L624.3,469.9 L624.0,473.1 L625.4,474.2"/><path d="M639.9,479.0 L641.2,477.1 L642.8,476.5 L644.3,473.7 L646.1,473.0"/><path d="M622.9,491.8 L624.6,490.4 L626.8,489.7"/><path d="M626.8,484.6 L628.1,485.5 L629.5,487.6 L631.4,487.3 L632.3,489.0"/><path d="M620.3,485.8 L621.5,486.1 L623.0,486.2 L625.3,486.2 L627.0,485.4 L628.6,485.4 L629.8,485.4"/><path d="M612.7,459.4 L613.2,460.2 L614.6,461.4 L615.6,464.0 L616.6,464.8"/><path d="M621.5,460.7 L623.2,462.0 L625.0,463.2 L626.6,463.3 L628.7,464.9"/><path d="M593.2,453.5 L595.0,456.0 L595.1,456.6 L596.5,457.8 L597.2,459.7 L598.1,460.8 L599.7,462.8"/><path d="M614.8,461.8 L615.9,463.4 L617.0,465.1 L617.6,467.1 L618.6,468.7 L618.9,469.2 L620.1,471.3"/><path d="M596.1,493.0 L599.2,490.5 L600.8,489.1"/><path d="M575.9,449.1 L577.5,448.4 L578.9,447.7 L581.3,448.7 L581.4,447.6 L584.0,447.9 L585.0,447.7"/><path d="M625.2,482.8 L627.5,483.0 L628.2,481.6 L630.3,480.6 L631.2,480.9 L632.2,480.1 L634.2,478.6"/><path d="M636.2,494.3 L639.6,494.1 L641.4,493.2"/><path d="M632.2,470.7 L635.1,471.6 L636.8,472.6 L638.5,472.3 L640.2,472.5 L641.1,472.6 L643.3,473.2"/><path d="M640.0,472.9 L640.8,471.3 L642.6,470.1 L643.9,469.1 L645.5,467.0"/><path d="M635.8,484.7 L637.1,485.2 L639.4,486.2 L640.4,488.0 L640.9,487.6 L641.8,489.6 L643.5,490.2"/><path d="M622.9,465.1 L625.4,465.8 L627.4,466.7"/><path d="M589.2,467.4 L590.4,466.0 L592.1,464.4"/><path d="M635.7,478.6 L636.0,478.4 L638.5,477.8 L640.3,477.8 L641.6,478.2"/><path d="M626.1,475.0 L627.9,474.7 L629.5,475.9"/><path d="M609.4,464.1 L611.2,463.9 L612.8,464.1 L613.8,465.6 L616.0,465.1"/><path d="M599.6,453.7 L601.4,453.5 L604.4,454.4 L605.5,453.8 L607.9,454.1"/><path d="M641.5,462.6 L643.6,462.0 L645.8,459.7"/><path d="M615.8,457.5 L618.2,457.8 L619.0,458.3 L620.5,457.6 L622.1,458.3"/><path d="M619.6,460.0 L620.9,460.8 L622.8,459.3 L624.2,459.2 L625.9,458.2"/><path d="M607.0,466.9 L609.8,467.8 L612.3,469.1"/><path d="M616.4,456.6 L618.9,458.0 L621.3,458.4 L623.2,458.9 L624.5,458.5"/><path d="M582.6,454.8 L583.9,455.0 L585.4,453.1 L587.4,453.0 L587.8,452.0 L590.0,451.2 L591.3,450.3"/><path d="M607.4,484.8 L608.8,486.0 L610.1,488.0 L611.4,489.8 L612.5,490.8 L613.0,492.1 L614.3,493.0"/><path d="M617.3,457.8 L618.8,459.7 L619.8,461.8 L620.5,462.9 L621.6,464.2"/><path d="M602.9,458.4 L604.8,459.7 L606.0,461.4 L606.9,463.3 L608.7,464.8 L609.3,465.2 L611.0,466.6"/><path d="M615.3,484.4 L618.9,484.7 L620.8,484.6"/><path d="M633.6,487.5 L634.7,486.8 L637.2,487.1 L638.3,487.1 L640.6,487.6"/><path d="M620.9,479.0 L621.3,480.3 L623.6,481.7 L623.2,483.1 L624.8,485.5"/><path d="M599.4,486.2 L600.7,487.4 L602.5,489.8"/><path d="M588.4,463.3 L589.0,464.8 L591.1,464.4 L593.1,465.2 L595.3,464.8"/><path d="M640.3,474.9 L640.9,473.7 L641.9,472.7 L644.5,471.8 L645.3,471.0"/><path d="M603.7,456.3 L605.0,456.2 L606.9,458.3 L607.4,458.7 L609.5,459.9"/><path d="M635.9,472.1 L639.3,472.2 L641.1,472.0"/></g>
<text x="643.8" y="536.9" font-size="7.45" fill="#111" stroke="#111" stroke-width="0.12">100 µm</text>
<line x1="643.8" y1="539.5" x2="668.8" y2="539.5" stroke="#222" stroke-width="0.9"/>
</g>

<text x="1.5" y="10.3" font-size="10" font-weight="bold" fill="#000" stroke="#000" stroke-width="0.12">a</text>
<text x="290.5" y="10.3" font-size="10" font-weight="bold" fill="#000" stroke="#000" stroke-width="0.12">b</text>
<text x="233" y="190.8" font-size="10" font-weight="bold" fill="#000" stroke="#000" stroke-width="0.12">c</text>
<text x="515" y="189.4" font-size="10" font-weight="bold" fill="#000" stroke="#000" stroke-width="0.12">d</text>
<text x="1.2" y="387.8" font-size="10" font-weight="bold" fill="#000" stroke="#000" stroke-width="0.12">e</text>
<text x="157" y="388.2" font-size="10" font-weight="bold" fill="#000" stroke="#000" stroke-width="0.12">f</text>
<text x="374.6" y="388" font-size="10" font-weight="bold" fill="#000" stroke="#000" stroke-width="0.12">g</text>

</svg>
</body></html>
